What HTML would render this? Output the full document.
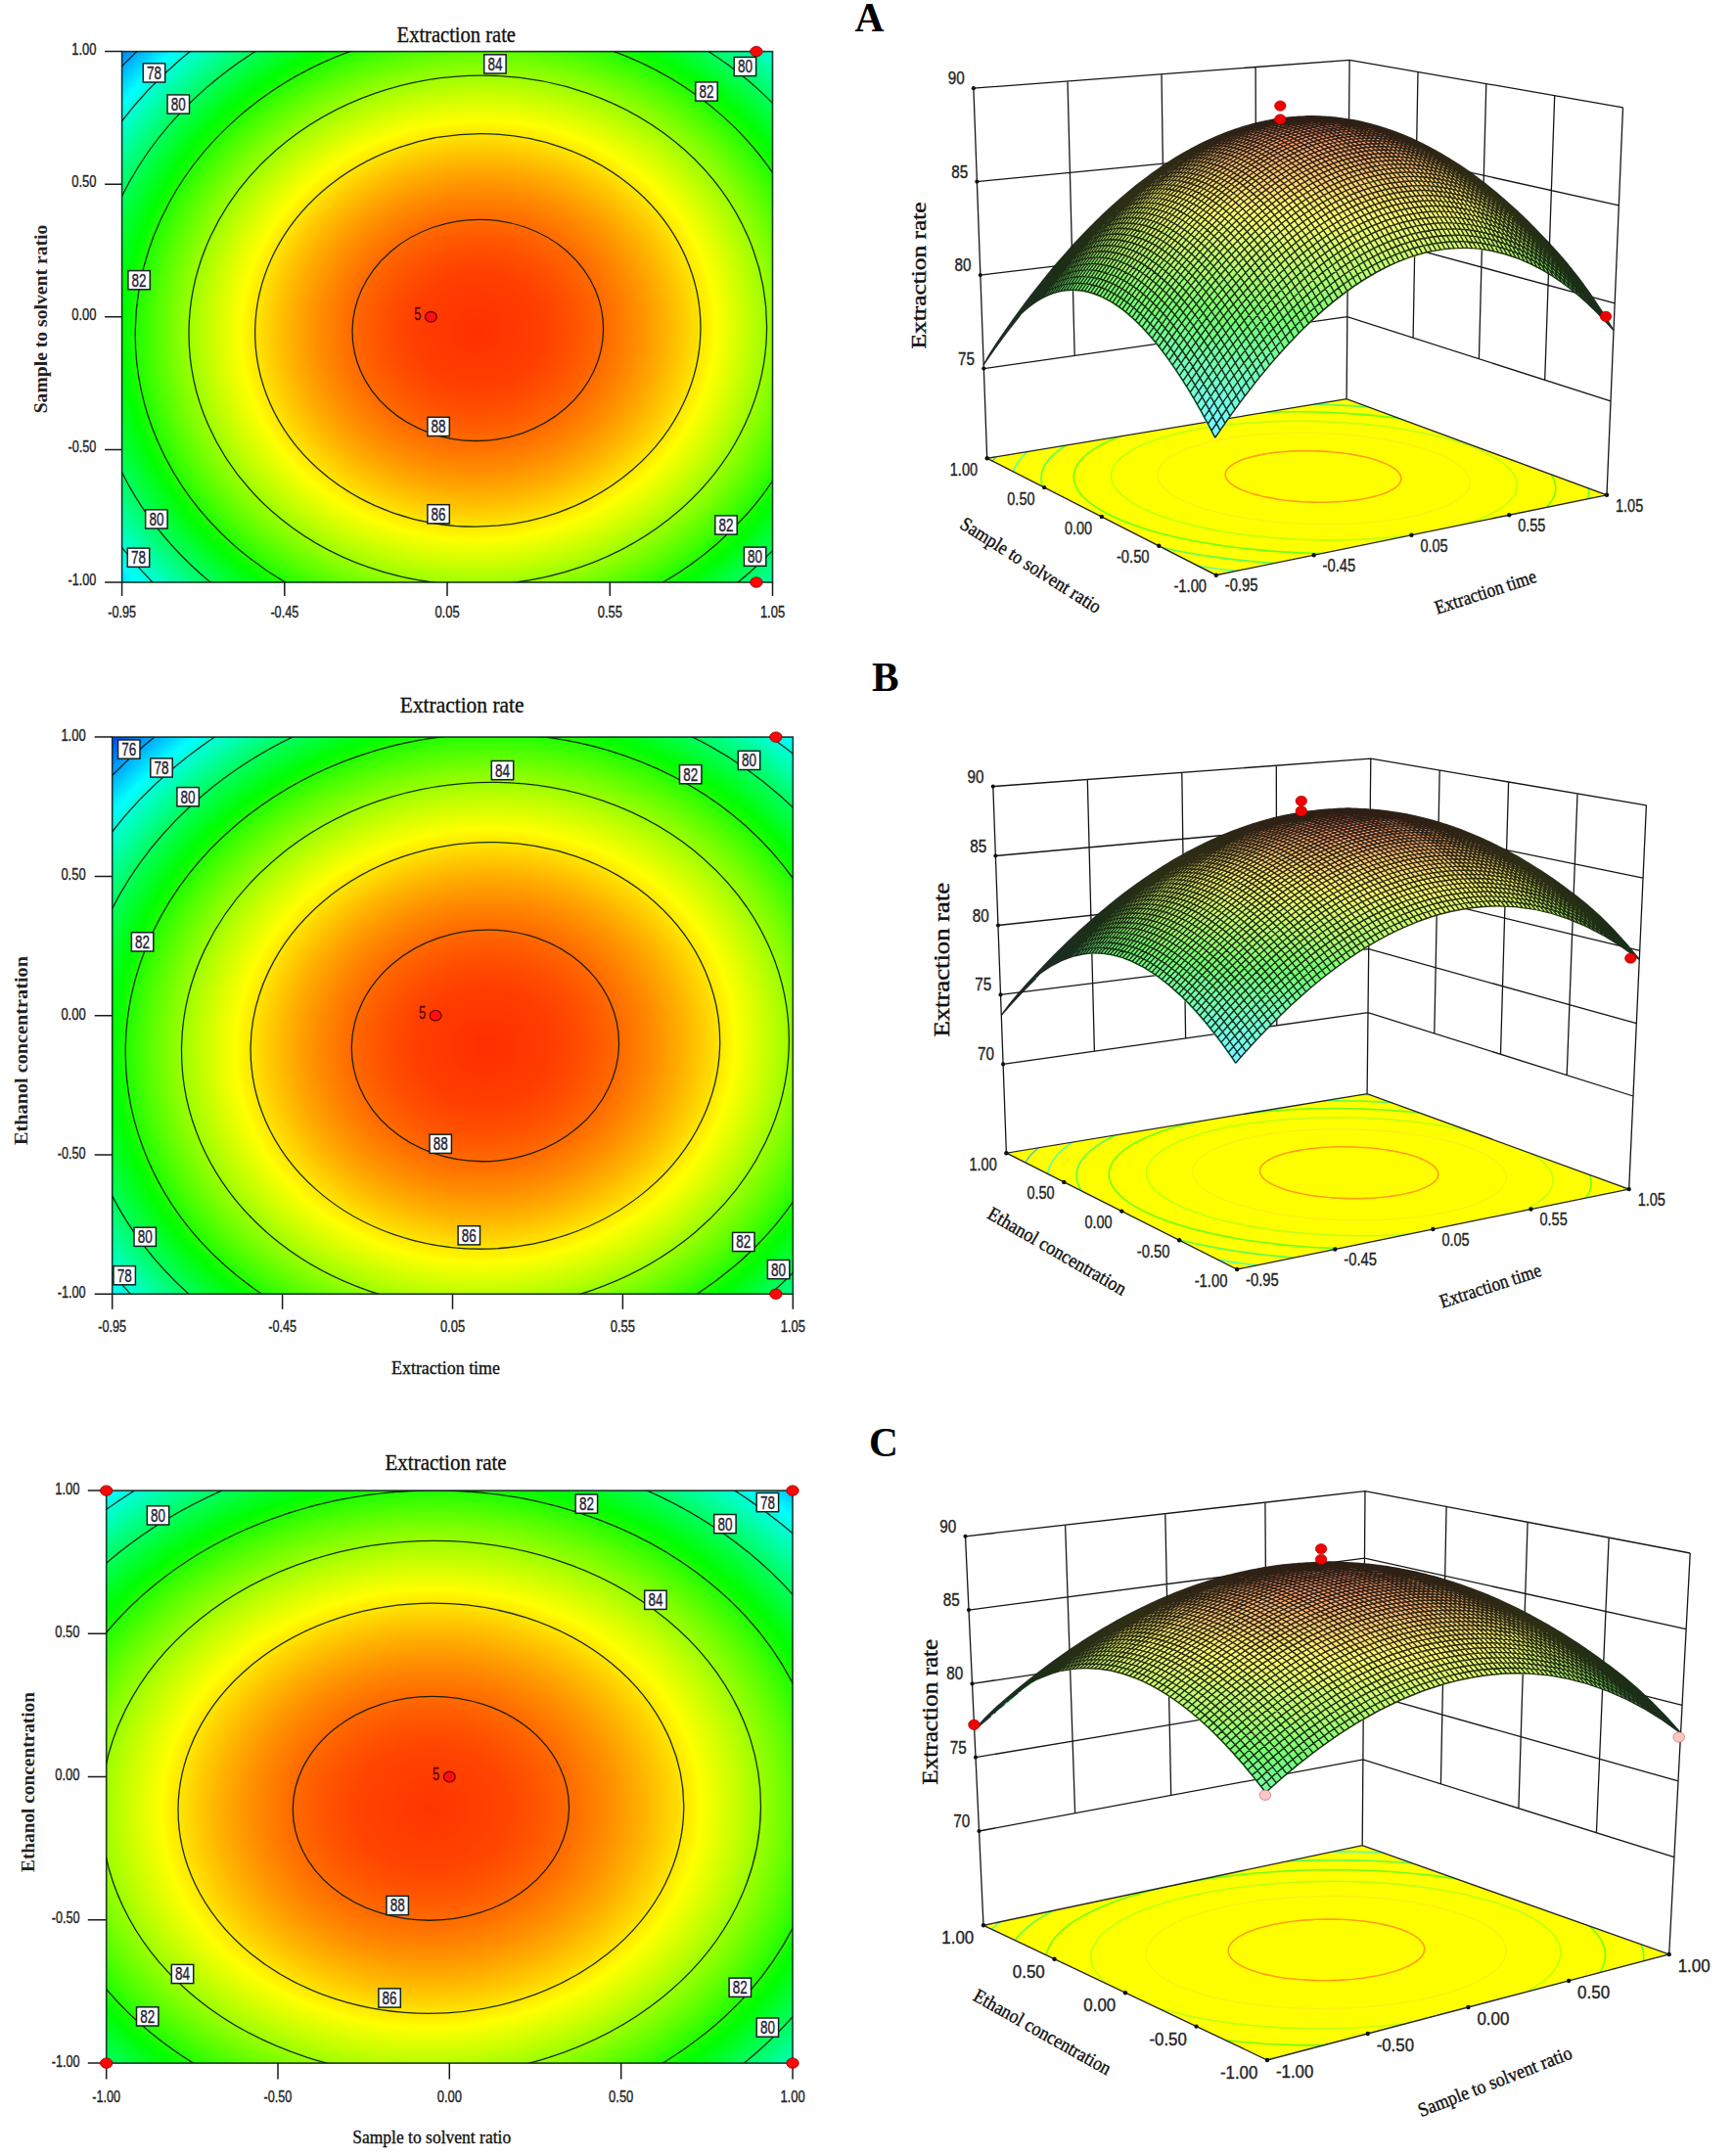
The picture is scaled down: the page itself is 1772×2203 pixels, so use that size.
<!DOCTYPE html>
<html><head><meta charset="utf-8"><title>Response surface plots</title>
<style>html,body{margin:0;padding:0;background:#fff}svg{display:block}</style></head>
<body><svg width="1772" height="2203" viewBox="0 0 1772 2203">
<rect width="1772" height="2203" fill="#fff"/>
<defs><radialGradient id="g1" gradientUnits="userSpaceOnUse" cx="0" cy="0" r="1" gradientTransform="matrix(494.909 0.000 6.420 -436.404 488.30 337.36)"><stop offset="0.0000" stop-color="#ff3000"/><stop offset="0.1343" stop-color="#ff3f00"/><stop offset="0.1900" stop-color="#ff4f00"/><stop offset="0.2327" stop-color="#ff5f00"/><stop offset="0.2687" stop-color="#ff6e00"/><stop offset="0.3004" stop-color="#ff7e00"/><stop offset="0.3291" stop-color="#ff8d00"/><stop offset="0.3555" stop-color="#ff9d00"/><stop offset="0.3800" stop-color="#ffac00"/><stop offset="0.4030" stop-color="#ffbc00"/><stop offset="0.4248" stop-color="#ffcb00"/><stop offset="0.4456" stop-color="#ffdb00"/><stop offset="0.4654" stop-color="#ffea00"/><stop offset="0.4844" stop-color="#fffa00"/><stop offset="0.4903" stop-color="#ffff00"/><stop offset="0.5027" stop-color="#f4ff00"/><stop offset="0.5203" stop-color="#e5ff00"/><stop offset="0.5374" stop-color="#d5ff00"/><stop offset="0.5539" stop-color="#c6ff00"/><stop offset="0.5700" stop-color="#b6ff00"/><stop offset="0.5856" stop-color="#a7ff00"/><stop offset="0.6008" stop-color="#97ff00"/><stop offset="0.6157" stop-color="#88ff00"/><stop offset="0.6301" stop-color="#78ff00"/><stop offset="0.6443" stop-color="#68ff00"/><stop offset="0.6582" stop-color="#59ff00"/><stop offset="0.6717" stop-color="#49ff00"/><stop offset="0.6850" stop-color="#3aff00"/><stop offset="0.6981" stop-color="#2aff00"/><stop offset="0.7109" stop-color="#1bff00"/><stop offset="0.7235" stop-color="#0bff00"/><stop offset="0.7324" stop-color="#00ff00"/><stop offset="0.7359" stop-color="#00ff04"/><stop offset="0.7480" stop-color="#00ff14"/><stop offset="0.7600" stop-color="#00ff23"/><stop offset="0.7718" stop-color="#00ff33"/><stop offset="0.7834" stop-color="#00ff43"/><stop offset="0.7948" stop-color="#00ff52"/><stop offset="0.8061" stop-color="#00ff62"/><stop offset="0.8172" stop-color="#00ff71"/><stop offset="0.8282" stop-color="#00ff81"/><stop offset="0.8390" stop-color="#00ff90"/><stop offset="0.8497" stop-color="#00ffa0"/><stop offset="0.8602" stop-color="#00ffaf"/><stop offset="0.8707" stop-color="#00ffbf"/><stop offset="0.8810" stop-color="#00ffce"/><stop offset="0.8912" stop-color="#00ffde"/><stop offset="0.9012" stop-color="#00ffee"/><stop offset="0.9112" stop-color="#00fffd"/><stop offset="0.9124" stop-color="#00ffff"/><stop offset="0.9210" stop-color="#00f1ff"/><stop offset="0.9308" stop-color="#00e2ff"/><stop offset="0.9404" stop-color="#00d2ff"/><stop offset="0.9500" stop-color="#00c3ff"/><stop offset="0.9594" stop-color="#00b3ff"/><stop offset="0.9688" stop-color="#00a4ff"/><stop offset="0.9781" stop-color="#0094ff"/><stop offset="0.9873" stop-color="#0084ff"/><stop offset="0.9964" stop-color="#0075ff"/><stop offset="1.0000" stop-color="#006fff"/></radialGradient><clipPath id="c1"><rect x="124.6" y="52.6" width="664.9" height="542.4"/></clipPath><radialGradient id="g2" gradientUnits="userSpaceOnUse" cx="0" cy="0" r="1" gradientTransform="matrix(537.665 0.000 10.975 -466.153 495.89 1068.38)"><stop offset="0.0000" stop-color="#ff2e00"/><stop offset="0.1296" stop-color="#ff3e00"/><stop offset="0.1833" stop-color="#ff4d00"/><stop offset="0.2244" stop-color="#ff5d00"/><stop offset="0.2592" stop-color="#ff6c00"/><stop offset="0.2898" stop-color="#ff7c00"/><stop offset="0.3174" stop-color="#ff8b00"/><stop offset="0.3428" stop-color="#ff9b00"/><stop offset="0.3665" stop-color="#ffaa00"/><stop offset="0.3887" stop-color="#ffba00"/><stop offset="0.4098" stop-color="#ffca00"/><stop offset="0.4298" stop-color="#ffd900"/><stop offset="0.4489" stop-color="#ffe900"/><stop offset="0.4672" stop-color="#fff800"/><stop offset="0.4751" stop-color="#ffff00"/><stop offset="0.4849" stop-color="#f6ff00"/><stop offset="0.5019" stop-color="#e7ff00"/><stop offset="0.5183" stop-color="#d7ff00"/><stop offset="0.5343" stop-color="#c8ff00"/><stop offset="0.5498" stop-color="#b8ff00"/><stop offset="0.5648" stop-color="#a9ff00"/><stop offset="0.5795" stop-color="#99ff00"/><stop offset="0.5938" stop-color="#89ff00"/><stop offset="0.6078" stop-color="#7aff00"/><stop offset="0.6215" stop-color="#6aff00"/><stop offset="0.6348" stop-color="#5bff00"/><stop offset="0.6479" stop-color="#4bff00"/><stop offset="0.6607" stop-color="#3cff00"/><stop offset="0.6733" stop-color="#2cff00"/><stop offset="0.6857" stop-color="#1dff00"/><stop offset="0.6978" stop-color="#0dff00"/><stop offset="0.7079" stop-color="#00ff00"/><stop offset="0.7097" stop-color="#00ff02"/><stop offset="0.7215" stop-color="#00ff12"/><stop offset="0.7330" stop-color="#00ff22"/><stop offset="0.7444" stop-color="#00ff31"/><stop offset="0.7556" stop-color="#00ff41"/><stop offset="0.7666" stop-color="#00ff50"/><stop offset="0.7775" stop-color="#00ff60"/><stop offset="0.7882" stop-color="#00ff6f"/><stop offset="0.7988" stop-color="#00ff7f"/><stop offset="0.8092" stop-color="#00ff8e"/><stop offset="0.8195" stop-color="#00ff9e"/><stop offset="0.8297" stop-color="#00ffae"/><stop offset="0.8398" stop-color="#00ffbd"/><stop offset="0.8497" stop-color="#00ffcd"/><stop offset="0.8595" stop-color="#00ffdc"/><stop offset="0.8693" stop-color="#00ffec"/><stop offset="0.8789" stop-color="#00fffb"/><stop offset="0.8812" stop-color="#00ffff"/><stop offset="0.8884" stop-color="#00f3ff"/><stop offset="0.8978" stop-color="#00e4ff"/><stop offset="0.9071" stop-color="#00d4ff"/><stop offset="0.9163" stop-color="#00c5ff"/><stop offset="0.9254" stop-color="#00b5ff"/><stop offset="0.9344" stop-color="#00a5ff"/><stop offset="0.9434" stop-color="#0096ff"/><stop offset="0.9522" stop-color="#0086ff"/><stop offset="0.9610" stop-color="#0077ff"/><stop offset="0.9697" stop-color="#0067ff"/><stop offset="0.9783" stop-color="#0058ff"/><stop offset="0.9869" stop-color="#0048ff"/><stop offset="0.9953" stop-color="#0039ff"/><stop offset="1.0000" stop-color="#0030ff"/></radialGradient><clipPath id="c2"><rect x="114.7" y="753.1" width="695.6" height="569.1"/></clipPath><radialGradient id="g3" gradientUnits="userSpaceOnUse" cx="0" cy="0" r="1" gradientTransform="matrix(548.661 0.000 5.082 -445.152 440.41 1847.77)"><stop offset="0.0000" stop-color="#ff3500"/><stop offset="0.1395" stop-color="#ff4400"/><stop offset="0.1972" stop-color="#ff5400"/><stop offset="0.2416" stop-color="#ff6400"/><stop offset="0.2789" stop-color="#ff7300"/><stop offset="0.3118" stop-color="#ff8300"/><stop offset="0.3416" stop-color="#ff9200"/><stop offset="0.3690" stop-color="#ffa200"/><stop offset="0.3945" stop-color="#ffb100"/><stop offset="0.4184" stop-color="#ffc100"/><stop offset="0.4410" stop-color="#ffd000"/><stop offset="0.4625" stop-color="#ffe000"/><stop offset="0.4831" stop-color="#ffef00"/><stop offset="0.5028" stop-color="#ffff00"/><stop offset="0.5218" stop-color="#efff00"/><stop offset="0.5401" stop-color="#e0ff00"/><stop offset="0.5579" stop-color="#d0ff00"/><stop offset="0.5750" stop-color="#c1ff00"/><stop offset="0.5917" stop-color="#b1ff00"/><stop offset="0.6079" stop-color="#a2ff00"/><stop offset="0.6237" stop-color="#92ff00"/><stop offset="0.6391" stop-color="#83ff00"/><stop offset="0.6541" stop-color="#73ff00"/><stop offset="0.6688" stop-color="#64ff00"/><stop offset="0.6832" stop-color="#54ff00"/><stop offset="0.6973" stop-color="#44ff00"/><stop offset="0.7111" stop-color="#35ff00"/><stop offset="0.7247" stop-color="#25ff00"/><stop offset="0.7380" stop-color="#16ff00"/><stop offset="0.7510" stop-color="#06ff00"/><stop offset="0.7562" stop-color="#00ff00"/><stop offset="0.7639" stop-color="#00ff09"/><stop offset="0.7765" stop-color="#00ff19"/><stop offset="0.7889" stop-color="#00ff28"/><stop offset="0.8012" stop-color="#00ff38"/><stop offset="0.8132" stop-color="#00ff48"/><stop offset="0.8251" stop-color="#00ff57"/><stop offset="0.8368" stop-color="#00ff67"/><stop offset="0.8483" stop-color="#00ff76"/><stop offset="0.8597" stop-color="#00ff86"/><stop offset="0.8709" stop-color="#00ff95"/><stop offset="0.8820" stop-color="#00ffa5"/><stop offset="0.8930" stop-color="#00ffb4"/><stop offset="0.9038" stop-color="#00ffc4"/><stop offset="0.9145" stop-color="#00ffd3"/><stop offset="0.9251" stop-color="#00ffe3"/><stop offset="0.9355" stop-color="#00fff3"/><stop offset="0.9438" stop-color="#00ffff"/><stop offset="0.9459" stop-color="#00fcff"/><stop offset="0.9561" stop-color="#00ecff"/><stop offset="0.9662" stop-color="#00ddff"/><stop offset="0.9762" stop-color="#00cdff"/><stop offset="0.9862" stop-color="#00beff"/><stop offset="0.9960" stop-color="#00aeff"/><stop offset="1.0000" stop-color="#00a8ff"/></radialGradient><clipPath id="c3"><rect x="108.7" y="1523.1" width="701.3" height="585"/></clipPath><clipPath id="c4"><polygon points="1008.7,468.3 1242.8,587.7 1642,505.8 1376.1,407.6"/></clipPath><clipPath id="c5"><polygon points="1028.4,1178.2 1264.1,1297 1664.7,1215.1 1397.1,1117.6"/></clipPath><clipPath id="c6"><polygon points="1005,1967.3 1295,2105 1705.7,1997 1392.2,1885.7"/></clipPath></defs>
<rect x="124.6" y="52.6" width="664.9" height="542.4" fill="url(#g1)"/>
<g clip-path="url(#c1)" fill="none" stroke="#061806" stroke-opacity="0.9" stroke-width="1.3">
<circle r="1" vector-effect="non-scaling-stroke" transform="matrix(478.17 0.00 6.20 -421.65 488.3 337.4)"/>
<circle r="1" vector-effect="non-scaling-stroke" transform="matrix(439.64 0.00 5.70 -387.67 488.3 337.4)"/>
<circle r="1" vector-effect="non-scaling-stroke" transform="matrix(397.39 0.00 5.15 -350.41 488.3 337.4)"/>
<circle r="1" vector-effect="non-scaling-stroke" transform="matrix(350.07 0.00 4.54 -308.69 488.3 337.4)"/>
<circle r="1" vector-effect="non-scaling-stroke" transform="matrix(295.26 0.00 3.83 -260.36 488.3 337.4)"/>
<circle r="1" vector-effect="non-scaling-stroke" transform="matrix(227.63 0.00 2.95 -200.72 488.3 337.4)"/>
<circle r="1" vector-effect="non-scaling-stroke" transform="matrix(128.24 0.00 1.66 -113.08 488.3 337.4)"/>
</g>
<rect x="124.6" y="52.6" width="664.9" height="542.4" fill="none" stroke="#0a2214" stroke-opacity="0.9" stroke-width="1.6"/>
<path d="M124.6 595v14M290.8 595v14M457 595v14M623.3 595v14M789.5 595v14M124.6 52.6h-17.5M124.6 188.2h-17.5M124.6 323.8h-17.5M124.6 459.4h-17.5M124.6 595h-17.5" stroke="#1a1a1a" stroke-width="1.5" fill="none"/>
<text x="124.6" y="631.3" font-size="16" font-family="Liberation Sans, sans-serif" text-anchor="middle" fill="#222" stroke="#222" stroke-width=".35" textLength="28.8" lengthAdjust="spacingAndGlyphs" >-0.95</text>
<text x="290.8" y="631.3" font-size="16" font-family="Liberation Sans, sans-serif" text-anchor="middle" fill="#222" stroke="#222" stroke-width=".35" textLength="28.8" lengthAdjust="spacingAndGlyphs" >-0.45</text>
<text x="457" y="631.3" font-size="16" font-family="Liberation Sans, sans-serif" text-anchor="middle" fill="#222" stroke="#222" stroke-width=".35" textLength="25.2" lengthAdjust="spacingAndGlyphs" >0.05</text>
<text x="623.3" y="631.3" font-size="16" font-family="Liberation Sans, sans-serif" text-anchor="middle" fill="#222" stroke="#222" stroke-width=".35" textLength="25.2" lengthAdjust="spacingAndGlyphs" >0.55</text>
<text x="789.5" y="631.3" font-size="16" font-family="Liberation Sans, sans-serif" text-anchor="middle" fill="#222" stroke="#222" stroke-width=".35" textLength="25.2" lengthAdjust="spacingAndGlyphs" >1.05</text>
<text x="98.4" y="55.6" font-size="16" font-family="Liberation Sans, sans-serif" text-anchor="end" fill="#222" stroke="#222" stroke-width=".35" textLength="25.2" lengthAdjust="spacingAndGlyphs" >1.00</text>
<text x="98.4" y="191.2" font-size="16" font-family="Liberation Sans, sans-serif" text-anchor="end" fill="#222" stroke="#222" stroke-width=".35" textLength="25.2" lengthAdjust="spacingAndGlyphs" >0.50</text>
<text x="98.4" y="326.8" font-size="16" font-family="Liberation Sans, sans-serif" text-anchor="end" fill="#222" stroke="#222" stroke-width=".35" textLength="25.2" lengthAdjust="spacingAndGlyphs" >0.00</text>
<text x="98.4" y="462.4" font-size="16" font-family="Liberation Sans, sans-serif" text-anchor="end" fill="#222" stroke="#222" stroke-width=".35" textLength="28.8" lengthAdjust="spacingAndGlyphs" >-0.50</text>
<text x="98.4" y="598" font-size="16" font-family="Liberation Sans, sans-serif" text-anchor="end" fill="#222" stroke="#222" stroke-width=".35" textLength="28.8" lengthAdjust="spacingAndGlyphs" >-1.00</text>
<ellipse cx="772.9" cy="52.6" rx="6.2" ry="5.2" fill="#fa0808" stroke="#900" stroke-width="0.9"/>
<ellipse cx="772.9" cy="595" rx="6.2" ry="5.2" fill="#fa0808" stroke="#900" stroke-width="0.9"/>
<rect x="146.3" y="64.8" width="22.4" height="19.2" fill="#fff" stroke="#122" stroke-width="1.5"/>
<text x="157.5" y="80.8" font-size="18" font-family="Liberation Sans, sans-serif" text-anchor="middle" fill="#223" stroke="#223" stroke-width=".35" textLength="15" lengthAdjust="spacingAndGlyphs" >78</text>
<rect x="171.1" y="96.9" width="22.4" height="19.2" fill="#fff" stroke="#122" stroke-width="1.5"/>
<text x="182.3" y="112.9" font-size="18" font-family="Liberation Sans, sans-serif" text-anchor="middle" fill="#223" stroke="#223" stroke-width=".35" textLength="15" lengthAdjust="spacingAndGlyphs" >80</text>
<rect x="494.7" y="55.8" width="22.4" height="19.2" fill="#fff" stroke="#122" stroke-width="1.5"/>
<text x="505.9" y="71.8" font-size="18" font-family="Liberation Sans, sans-serif" text-anchor="middle" fill="#223" stroke="#223" stroke-width=".35" textLength="15" lengthAdjust="spacingAndGlyphs" >84</text>
<rect x="750.2" y="58.4" width="22.4" height="19.2" fill="#fff" stroke="#122" stroke-width="1.5"/>
<text x="761.4" y="74.4" font-size="18" font-family="Liberation Sans, sans-serif" text-anchor="middle" fill="#223" stroke="#223" stroke-width=".35" textLength="15" lengthAdjust="spacingAndGlyphs" >80</text>
<rect x="710.8" y="83.9" width="22.4" height="19.2" fill="#fff" stroke="#122" stroke-width="1.5"/>
<text x="722" y="99.9" font-size="18" font-family="Liberation Sans, sans-serif" text-anchor="middle" fill="#223" stroke="#223" stroke-width=".35" textLength="15" lengthAdjust="spacingAndGlyphs" >82</text>
<rect x="130.9" y="276.6" width="22.4" height="19.2" fill="#fff" stroke="#122" stroke-width="1.5"/>
<text x="142.1" y="292.6" font-size="18" font-family="Liberation Sans, sans-serif" text-anchor="middle" fill="#223" stroke="#223" stroke-width=".35" textLength="15" lengthAdjust="spacingAndGlyphs" >82</text>
<rect x="436.9" y="426.3" width="22.4" height="19.2" fill="#fff" stroke="#122" stroke-width="1.5"/>
<text x="448.1" y="442.3" font-size="18" font-family="Liberation Sans, sans-serif" text-anchor="middle" fill="#223" stroke="#223" stroke-width=".35" textLength="15" lengthAdjust="spacingAndGlyphs" >88</text>
<rect x="436.9" y="515.7" width="22.4" height="19.2" fill="#fff" stroke="#122" stroke-width="1.5"/>
<text x="448.1" y="531.7" font-size="18" font-family="Liberation Sans, sans-serif" text-anchor="middle" fill="#223" stroke="#223" stroke-width=".35" textLength="15" lengthAdjust="spacingAndGlyphs" >86</text>
<rect x="148.7" y="520.8" width="22.4" height="19.2" fill="#fff" stroke="#122" stroke-width="1.5"/>
<text x="159.9" y="536.8" font-size="18" font-family="Liberation Sans, sans-serif" text-anchor="middle" fill="#223" stroke="#223" stroke-width=".35" textLength="15" lengthAdjust="spacingAndGlyphs" >80</text>
<rect x="130.3" y="560.1" width="22.4" height="19.2" fill="#fff" stroke="#122" stroke-width="1.5"/>
<text x="141.5" y="576.1" font-size="18" font-family="Liberation Sans, sans-serif" text-anchor="middle" fill="#223" stroke="#223" stroke-width=".35" textLength="15" lengthAdjust="spacingAndGlyphs" >78</text>
<rect x="730.8" y="526.9" width="22.4" height="19.2" fill="#fff" stroke="#122" stroke-width="1.5"/>
<text x="742" y="542.9" font-size="18" font-family="Liberation Sans, sans-serif" text-anchor="middle" fill="#223" stroke="#223" stroke-width=".35" textLength="15" lengthAdjust="spacingAndGlyphs" >82</text>
<rect x="760.4" y="559.1" width="22.4" height="19.2" fill="#fff" stroke="#122" stroke-width="1.5"/>
<text x="771.6" y="575.1" font-size="18" font-family="Liberation Sans, sans-serif" text-anchor="middle" fill="#223" stroke="#223" stroke-width=".35" textLength="15" lengthAdjust="spacingAndGlyphs" >80</text>
<ellipse cx="440.4" cy="323.8" rx="5.9" ry="5.3" fill="#ff1010" stroke="#700" stroke-width="1.4"/>
<text x="426.8" y="327" font-size="18" font-family="Liberation Sans, sans-serif" text-anchor="middle" fill="#600" stroke="#600" stroke-width=".35" textLength="7.2" lengthAdjust="spacingAndGlyphs" >5</text>
<text x="405.6" y="43.2" font-size="23.3" font-family="Liberation Serif, serif" text-anchor="start" fill="#111" stroke="#111" stroke-width=".35" textLength="121.4" lengthAdjust="spacingAndGlyphs" >Extraction rate</text>
<text transform="translate(48.3 326) rotate(-90)" font-size="18.6" font-family="Liberation Serif, serif" font-weight="bold" text-anchor="middle" textLength="192.7" lengthAdjust="spacingAndGlyphs" fill="#222">Sample to solvent ratio</text>
<rect x="114.7" y="753.1" width="695.6" height="569.1" fill="url(#g2)"/>
<g clip-path="url(#c2)" fill="none" stroke="#061806" stroke-opacity="0.9" stroke-width="1.3">
<circle r="1" vector-effect="non-scaling-stroke" transform="matrix(538.95 0.00 11.00 -467.27 495.9 1068.4)"/>
<circle r="1" vector-effect="non-scaling-stroke" transform="matrix(501.64 0.00 10.24 -434.92 495.9 1068.4)"/>
<circle r="1" vector-effect="non-scaling-stroke" transform="matrix(461.31 0.00 9.42 -399.95 495.9 1068.4)"/>
<circle r="1" vector-effect="non-scaling-stroke" transform="matrix(417.10 0.00 8.51 -361.62 495.9 1068.4)"/>
<circle r="1" vector-effect="non-scaling-stroke" transform="matrix(367.61 0.00 7.50 -318.72 495.9 1068.4)"/>
<circle r="1" vector-effect="non-scaling-stroke" transform="matrix(310.33 0.00 6.33 -269.06 495.9 1068.4)"/>
<circle r="1" vector-effect="non-scaling-stroke" transform="matrix(239.73 0.00 4.89 -207.85 495.9 1068.4)"/>
<circle r="1" vector-effect="non-scaling-stroke" transform="matrix(136.53 0.00 2.79 -118.37 495.9 1068.4)"/>
</g>
<rect x="114.7" y="753.1" width="695.6" height="569.1" fill="none" stroke="#0a2214" stroke-opacity="0.9" stroke-width="1.6"/>
<path d="M114.7 1322.2v15.6M288.6 1322.2v15.6M462.5 1322.2v15.6M636.4 1322.2v15.6M810.3 1322.2v15.6M114.7 753.1h-18M114.7 895.4h-18M114.7 1037.7h-18M114.7 1179.9h-18M114.7 1322.2h-18" stroke="#1a1a1a" stroke-width="1.5" fill="none"/>
<text x="114.7" y="1360.8" font-size="16" font-family="Liberation Sans, sans-serif" text-anchor="middle" fill="#222" stroke="#222" stroke-width=".35" textLength="28.8" lengthAdjust="spacingAndGlyphs" >-0.95</text>
<text x="288.6" y="1360.8" font-size="16" font-family="Liberation Sans, sans-serif" text-anchor="middle" fill="#222" stroke="#222" stroke-width=".35" textLength="28.8" lengthAdjust="spacingAndGlyphs" >-0.45</text>
<text x="462.5" y="1360.8" font-size="16" font-family="Liberation Sans, sans-serif" text-anchor="middle" fill="#222" stroke="#222" stroke-width=".35" textLength="25.2" lengthAdjust="spacingAndGlyphs" >0.05</text>
<text x="636.4" y="1360.8" font-size="16" font-family="Liberation Sans, sans-serif" text-anchor="middle" fill="#222" stroke="#222" stroke-width=".35" textLength="25.2" lengthAdjust="spacingAndGlyphs" >0.55</text>
<text x="810.3" y="1360.8" font-size="16" font-family="Liberation Sans, sans-serif" text-anchor="middle" fill="#222" stroke="#222" stroke-width=".35" textLength="25.2" lengthAdjust="spacingAndGlyphs" >1.05</text>
<text x="87.6" y="757.1" font-size="16" font-family="Liberation Sans, sans-serif" text-anchor="end" fill="#222" stroke="#222" stroke-width=".35" textLength="25.2" lengthAdjust="spacingAndGlyphs" >1.00</text>
<text x="87.6" y="899.4" font-size="16" font-family="Liberation Sans, sans-serif" text-anchor="end" fill="#222" stroke="#222" stroke-width=".35" textLength="25.2" lengthAdjust="spacingAndGlyphs" >0.50</text>
<text x="87.6" y="1041.7" font-size="16" font-family="Liberation Sans, sans-serif" text-anchor="end" fill="#222" stroke="#222" stroke-width=".35" textLength="25.2" lengthAdjust="spacingAndGlyphs" >0.00</text>
<text x="87.6" y="1183.9" font-size="16" font-family="Liberation Sans, sans-serif" text-anchor="end" fill="#222" stroke="#222" stroke-width=".35" textLength="28.8" lengthAdjust="spacingAndGlyphs" >-0.50</text>
<text x="87.6" y="1326.2" font-size="16" font-family="Liberation Sans, sans-serif" text-anchor="end" fill="#222" stroke="#222" stroke-width=".35" textLength="28.8" lengthAdjust="spacingAndGlyphs" >-1.00</text>
<ellipse cx="792.9" cy="753.1" rx="6.2" ry="5.2" fill="#fa0808" stroke="#900" stroke-width="0.9"/>
<ellipse cx="792.9" cy="1322.2" rx="6.2" ry="5.2" fill="#fa0808" stroke="#900" stroke-width="0.9"/>
<rect x="120.6" y="756" width="22.4" height="19.2" fill="#fff" stroke="#122" stroke-width="1.5"/>
<text x="131.8" y="772" font-size="18" font-family="Liberation Sans, sans-serif" text-anchor="middle" fill="#223" stroke="#223" stroke-width=".35" textLength="15" lengthAdjust="spacingAndGlyphs" >76</text>
<rect x="153.8" y="774.9" width="22.4" height="19.2" fill="#fff" stroke="#122" stroke-width="1.5"/>
<text x="165" y="790.9" font-size="18" font-family="Liberation Sans, sans-serif" text-anchor="middle" fill="#223" stroke="#223" stroke-width=".35" textLength="15" lengthAdjust="spacingAndGlyphs" >78</text>
<rect x="180.9" y="804.6" width="22.4" height="19.2" fill="#fff" stroke="#122" stroke-width="1.5"/>
<text x="192.1" y="820.6" font-size="18" font-family="Liberation Sans, sans-serif" text-anchor="middle" fill="#223" stroke="#223" stroke-width=".35" textLength="15" lengthAdjust="spacingAndGlyphs" >80</text>
<rect x="502.3" y="777.5" width="22.4" height="19.2" fill="#fff" stroke="#122" stroke-width="1.5"/>
<text x="513.5" y="793.5" font-size="18" font-family="Liberation Sans, sans-serif" text-anchor="middle" fill="#223" stroke="#223" stroke-width=".35" textLength="15" lengthAdjust="spacingAndGlyphs" >84</text>
<rect x="694.5" y="781.6" width="22.4" height="19.2" fill="#fff" stroke="#122" stroke-width="1.5"/>
<text x="705.7" y="797.6" font-size="18" font-family="Liberation Sans, sans-serif" text-anchor="middle" fill="#223" stroke="#223" stroke-width=".35" textLength="15" lengthAdjust="spacingAndGlyphs" >82</text>
<rect x="754.3" y="767.3" width="22.4" height="19.2" fill="#fff" stroke="#122" stroke-width="1.5"/>
<text x="765.5" y="783.3" font-size="18" font-family="Liberation Sans, sans-serif" text-anchor="middle" fill="#223" stroke="#223" stroke-width=".35" textLength="15" lengthAdjust="spacingAndGlyphs" >80</text>
<rect x="134.4" y="952.8" width="22.4" height="19.2" fill="#fff" stroke="#122" stroke-width="1.5"/>
<text x="145.6" y="968.8" font-size="18" font-family="Liberation Sans, sans-serif" text-anchor="middle" fill="#223" stroke="#223" stroke-width=".35" textLength="15" lengthAdjust="spacingAndGlyphs" >82</text>
<rect x="439" y="1159.2" width="22.4" height="19.2" fill="#fff" stroke="#122" stroke-width="1.5"/>
<text x="450.2" y="1175.2" font-size="18" font-family="Liberation Sans, sans-serif" text-anchor="middle" fill="#223" stroke="#223" stroke-width=".35" textLength="15" lengthAdjust="spacingAndGlyphs" >88</text>
<rect x="468.1" y="1252.7" width="22.4" height="19.2" fill="#fff" stroke="#122" stroke-width="1.5"/>
<text x="479.3" y="1268.7" font-size="18" font-family="Liberation Sans, sans-serif" text-anchor="middle" fill="#223" stroke="#223" stroke-width=".35" textLength="15" lengthAdjust="spacingAndGlyphs" >86</text>
<rect x="137" y="1254.2" width="22.4" height="19.2" fill="#fff" stroke="#122" stroke-width="1.5"/>
<text x="148.2" y="1270.2" font-size="18" font-family="Liberation Sans, sans-serif" text-anchor="middle" fill="#223" stroke="#223" stroke-width=".35" textLength="15" lengthAdjust="spacingAndGlyphs" >80</text>
<rect x="116" y="1293.6" width="22.4" height="19.2" fill="#fff" stroke="#122" stroke-width="1.5"/>
<text x="127.2" y="1309.6" font-size="18" font-family="Liberation Sans, sans-serif" text-anchor="middle" fill="#223" stroke="#223" stroke-width=".35" textLength="15" lengthAdjust="spacingAndGlyphs" >78</text>
<rect x="748.6" y="1259.4" width="22.4" height="19.2" fill="#fff" stroke="#122" stroke-width="1.5"/>
<text x="759.8" y="1275.4" font-size="18" font-family="Liberation Sans, sans-serif" text-anchor="middle" fill="#223" stroke="#223" stroke-width=".35" textLength="15" lengthAdjust="spacingAndGlyphs" >82</text>
<rect x="784.4" y="1287.5" width="22.4" height="19.2" fill="#fff" stroke="#122" stroke-width="1.5"/>
<text x="795.6" y="1303.5" font-size="18" font-family="Liberation Sans, sans-serif" text-anchor="middle" fill="#223" stroke="#223" stroke-width=".35" textLength="15" lengthAdjust="spacingAndGlyphs" >80</text>
<ellipse cx="445.1" cy="1037.7" rx="5.9" ry="5.3" fill="#ff1010" stroke="#700" stroke-width="1.4"/>
<text x="431.5" y="1040.9" font-size="18" font-family="Liberation Sans, sans-serif" text-anchor="middle" fill="#600" stroke="#600" stroke-width=".35" textLength="7.2" lengthAdjust="spacingAndGlyphs" >5</text>
<text x="408.8" y="728.3" font-size="23.3" font-family="Liberation Serif, serif" text-anchor="start" fill="#111" stroke="#111" stroke-width=".35" textLength="126.7" lengthAdjust="spacingAndGlyphs" >Extraction rate</text>
<text transform="translate(28 1073.5) rotate(-90)" font-size="18.6" font-family="Liberation Serif, serif" font-weight="bold" text-anchor="middle" textLength="193" lengthAdjust="spacingAndGlyphs" fill="#222">Ethanol concentration</text>
<text x="400" y="1403.8" font-size="19" font-family="Liberation Serif, serif" text-anchor="start" fill="#111" stroke="#111" stroke-width=".35" textLength="111" lengthAdjust="spacingAndGlyphs" >Extraction time</text>
<rect x="108.7" y="1523.1" width="701.3" height="585" fill="url(#g3)"/>
<g clip-path="url(#c3)" fill="none" stroke="#061806" stroke-opacity="0.9" stroke-width="1.3">
<circle r="1" vector-effect="non-scaling-stroke" transform="matrix(548.59 0.00 5.08 -445.09 440.4 1847.8)"/>
<circle r="1" vector-effect="non-scaling-stroke" transform="matrix(504.09 0.00 4.67 -408.99 440.4 1847.8)"/>
<circle r="1" vector-effect="non-scaling-stroke" transform="matrix(455.27 0.00 4.22 -369.38 440.4 1847.8)"/>
<circle r="1" vector-effect="non-scaling-stroke" transform="matrix(400.53 0.00 3.71 -324.97 440.4 1847.8)"/>
<circle r="1" vector-effect="non-scaling-stroke" transform="matrix(337.03 0.00 3.12 -273.44 440.4 1847.8)"/>
<circle r="1" vector-effect="non-scaling-stroke" transform="matrix(258.35 0.00 2.39 -209.61 440.4 1847.8)"/>
<circle r="1" vector-effect="non-scaling-stroke" transform="matrix(141.09 0.00 1.31 -114.47 440.4 1847.8)"/>
</g>
<rect x="108.7" y="1523.1" width="701.3" height="585" fill="none" stroke="#0a2214" stroke-opacity="0.9" stroke-width="1.6"/>
<path d="M108.7 2108.1v16.4M284 2108.1v16.4M459.3 2108.1v16.4M634.7 2108.1v16.4M810 2108.1v16.4M108.7 1523.1h-18.9M108.7 1669.3h-18.9M108.7 1815.6h-18.9M108.7 1961.8h-18.9M108.7 2108.1h-18.9" stroke="#1a1a1a" stroke-width="1.5" fill="none"/>
<text x="108.7" y="2147.9" font-size="16" font-family="Liberation Sans, sans-serif" text-anchor="middle" fill="#222" stroke="#222" stroke-width=".35" textLength="28.8" lengthAdjust="spacingAndGlyphs" >-1.00</text>
<text x="284" y="2147.9" font-size="16" font-family="Liberation Sans, sans-serif" text-anchor="middle" fill="#222" stroke="#222" stroke-width=".35" textLength="28.8" lengthAdjust="spacingAndGlyphs" >-0.50</text>
<text x="459.3" y="2147.9" font-size="16" font-family="Liberation Sans, sans-serif" text-anchor="middle" fill="#222" stroke="#222" stroke-width=".35" textLength="25.2" lengthAdjust="spacingAndGlyphs" >0.00</text>
<text x="634.7" y="2147.9" font-size="16" font-family="Liberation Sans, sans-serif" text-anchor="middle" fill="#222" stroke="#222" stroke-width=".35" textLength="25.2" lengthAdjust="spacingAndGlyphs" >0.50</text>
<text x="810" y="2147.9" font-size="16" font-family="Liberation Sans, sans-serif" text-anchor="middle" fill="#222" stroke="#222" stroke-width=".35" textLength="25.2" lengthAdjust="spacingAndGlyphs" >1.00</text>
<text x="81.5" y="1526.6" font-size="16" font-family="Liberation Sans, sans-serif" text-anchor="end" fill="#222" stroke="#222" stroke-width=".35" textLength="25.2" lengthAdjust="spacingAndGlyphs" >1.00</text>
<text x="81.5" y="1672.8" font-size="16" font-family="Liberation Sans, sans-serif" text-anchor="end" fill="#222" stroke="#222" stroke-width=".35" textLength="25.2" lengthAdjust="spacingAndGlyphs" >0.50</text>
<text x="81.5" y="1819.1" font-size="16" font-family="Liberation Sans, sans-serif" text-anchor="end" fill="#222" stroke="#222" stroke-width=".35" textLength="25.2" lengthAdjust="spacingAndGlyphs" >0.00</text>
<text x="81.5" y="1965.3" font-size="16" font-family="Liberation Sans, sans-serif" text-anchor="end" fill="#222" stroke="#222" stroke-width=".35" textLength="28.8" lengthAdjust="spacingAndGlyphs" >-0.50</text>
<text x="81.5" y="2111.6" font-size="16" font-family="Liberation Sans, sans-serif" text-anchor="end" fill="#222" stroke="#222" stroke-width=".35" textLength="28.8" lengthAdjust="spacingAndGlyphs" >-1.00</text>
<ellipse cx="810" cy="1523.1" rx="6.2" ry="5.2" fill="#fa0808" stroke="#900" stroke-width="0.9"/>
<ellipse cx="810" cy="2108.1" rx="6.2" ry="5.2" fill="#fa0808" stroke="#900" stroke-width="0.9"/>
<ellipse cx="108.7" cy="1523.1" rx="6.2" ry="5.2" fill="#fa0808" stroke="#900" stroke-width="0.9"/>
<ellipse cx="108.7" cy="2108.1" rx="6.2" ry="5.2" fill="#fa0808" stroke="#900" stroke-width="0.9"/>
<rect x="150.3" y="1538.8" width="22.4" height="19.2" fill="#fff" stroke="#122" stroke-width="1.5"/>
<text x="161.5" y="1554.8" font-size="18" font-family="Liberation Sans, sans-serif" text-anchor="middle" fill="#223" stroke="#223" stroke-width=".35" textLength="15" lengthAdjust="spacingAndGlyphs" >80</text>
<rect x="588.2" y="1527" width="22.4" height="19.2" fill="#fff" stroke="#122" stroke-width="1.5"/>
<text x="599.4" y="1543" font-size="18" font-family="Liberation Sans, sans-serif" text-anchor="middle" fill="#223" stroke="#223" stroke-width=".35" textLength="15" lengthAdjust="spacingAndGlyphs" >82</text>
<rect x="773.2" y="1525.5" width="22.4" height="19.2" fill="#fff" stroke="#122" stroke-width="1.5"/>
<text x="784.4" y="1541.5" font-size="18" font-family="Liberation Sans, sans-serif" text-anchor="middle" fill="#223" stroke="#223" stroke-width=".35" textLength="15" lengthAdjust="spacingAndGlyphs" >78</text>
<rect x="729.7" y="1547.5" width="22.4" height="19.2" fill="#fff" stroke="#122" stroke-width="1.5"/>
<text x="740.9" y="1563.5" font-size="18" font-family="Liberation Sans, sans-serif" text-anchor="middle" fill="#223" stroke="#223" stroke-width=".35" textLength="15" lengthAdjust="spacingAndGlyphs" >80</text>
<rect x="658.7" y="1625.2" width="22.4" height="19.2" fill="#fff" stroke="#122" stroke-width="1.5"/>
<text x="669.9" y="1641.2" font-size="18" font-family="Liberation Sans, sans-serif" text-anchor="middle" fill="#223" stroke="#223" stroke-width=".35" textLength="15" lengthAdjust="spacingAndGlyphs" >84</text>
<rect x="395" y="1937.4" width="22.4" height="19.2" fill="#fff" stroke="#122" stroke-width="1.5"/>
<text x="406.2" y="1953.4" font-size="18" font-family="Liberation Sans, sans-serif" text-anchor="middle" fill="#223" stroke="#223" stroke-width=".35" textLength="15" lengthAdjust="spacingAndGlyphs" >88</text>
<rect x="386.9" y="2031.9" width="22.4" height="19.2" fill="#fff" stroke="#122" stroke-width="1.5"/>
<text x="398.1" y="2047.9" font-size="18" font-family="Liberation Sans, sans-serif" text-anchor="middle" fill="#223" stroke="#223" stroke-width=".35" textLength="15" lengthAdjust="spacingAndGlyphs" >86</text>
<rect x="175.3" y="2007.4" width="22.4" height="19.2" fill="#fff" stroke="#122" stroke-width="1.5"/>
<text x="186.5" y="2023.4" font-size="18" font-family="Liberation Sans, sans-serif" text-anchor="middle" fill="#223" stroke="#223" stroke-width=".35" textLength="15" lengthAdjust="spacingAndGlyphs" >84</text>
<rect x="139.5" y="2050.8" width="22.4" height="19.2" fill="#fff" stroke="#122" stroke-width="1.5"/>
<text x="150.7" y="2066.8" font-size="18" font-family="Liberation Sans, sans-serif" text-anchor="middle" fill="#223" stroke="#223" stroke-width=".35" textLength="15" lengthAdjust="spacingAndGlyphs" >82</text>
<rect x="745.1" y="2021.2" width="22.4" height="19.2" fill="#fff" stroke="#122" stroke-width="1.5"/>
<text x="756.3" y="2037.2" font-size="18" font-family="Liberation Sans, sans-serif" text-anchor="middle" fill="#223" stroke="#223" stroke-width=".35" textLength="15" lengthAdjust="spacingAndGlyphs" >82</text>
<rect x="773.2" y="2062" width="22.4" height="19.2" fill="#fff" stroke="#122" stroke-width="1.5"/>
<text x="784.4" y="2078" font-size="18" font-family="Liberation Sans, sans-serif" text-anchor="middle" fill="#223" stroke="#223" stroke-width=".35" textLength="15" lengthAdjust="spacingAndGlyphs" >80</text>
<ellipse cx="459.3" cy="1815.6" rx="5.9" ry="5.3" fill="#ff1010" stroke="#700" stroke-width="1.4"/>
<text x="445.7" y="1818.8" font-size="18" font-family="Liberation Sans, sans-serif" text-anchor="middle" fill="#600" stroke="#600" stroke-width=".35" textLength="7.2" lengthAdjust="spacingAndGlyphs" >5</text>
<text x="393.5" y="1501.9" font-size="23.3" font-family="Liberation Serif, serif" text-anchor="start" fill="#111" stroke="#111" stroke-width=".35" textLength="124.1" lengthAdjust="spacingAndGlyphs" >Extraction rate</text>
<text transform="translate(35 1821) rotate(-90)" font-size="18.6" font-family="Liberation Serif, serif" font-weight="bold" text-anchor="middle" textLength="184" lengthAdjust="spacingAndGlyphs" fill="#222">Ethanol concentration</text>
<text x="360.2" y="2189.7" font-size="19" font-family="Liberation Serif, serif" text-anchor="start" fill="#111" stroke="#111" stroke-width=".35" textLength="162" lengthAdjust="spacingAndGlyphs" >Sample to solvent ratio</text>
<path d="M1008.7 468.3L994.9 90.2M1376.1 407.6L1379.1 61.3M1642 505.8L1658.5 109.8M1005.3 376.6L1376.8 323.6L1646 409.8M1001.8 281.1L1377.6 236.2L1650.2 309.8M998.4 185.6L1378.4 148.8L1654.3 209.8M994.9 90.2L1379.1 61.3L1658.5 109.8M1091 82.9L1098.2 363.4M1449 73.4L1444.1 345.2M1187 75.7L1191.1 350.1M1518.8 85.6L1511.4 366.7M1283.1 68.5L1283.9 336.9M1588.7 97.7L1578.7 388.3" fill="none" stroke="#151515" stroke-width="1.3"/>
<circle cx="1005.3" cy="376.6" r="2.1" fill="#111"/>
<text x="996.1" y="372.6" font-size="18.4" font-family="Liberation Sans, sans-serif" text-anchor="end" fill="#222" stroke="#222" stroke-width=".35" textLength="17" lengthAdjust="spacingAndGlyphs" >75</text>
<circle cx="1001.8" cy="281.1" r="2.1" fill="#111"/>
<text x="992.6" y="277.1" font-size="18.4" font-family="Liberation Sans, sans-serif" text-anchor="end" fill="#222" stroke="#222" stroke-width=".35" textLength="17" lengthAdjust="spacingAndGlyphs" >80</text>
<circle cx="998.4" cy="185.6" r="2.1" fill="#111"/>
<text x="989.2" y="181.6" font-size="18.4" font-family="Liberation Sans, sans-serif" text-anchor="end" fill="#222" stroke="#222" stroke-width=".35" textLength="17" lengthAdjust="spacingAndGlyphs" >85</text>
<circle cx="994.9" cy="90.2" r="2.1" fill="#111"/>
<text x="985.7" y="86.2" font-size="18.4" font-family="Liberation Sans, sans-serif" text-anchor="end" fill="#222" stroke="#222" stroke-width=".35" textLength="17" lengthAdjust="spacingAndGlyphs" >90</text>
<polygon points="1008.7,468.3 1242.8,587.7 1642,505.8 1376.1,407.6" fill="#ffff00"/>
<g clip-path="url(#c4)" fill="none" stroke-width="1.6">
<polygon stroke="#5976bb" points="1614.3,435.9 1602.3,431.8 1589.7,428 1576.7,424.4 1563.1,420.9 1549.2,417.7 1534.9,414.7 1520.3,411.8 1505.3,409.2 1490.1,406.7 1474.6,404.5 1458.8,402.5 1442.9,400.7 1426.8,399.1 1410.6,397.7 1394.3,396.6 1377.9,395.7 1361.5,394.9 1345,394.5 1328.5,394.2 1312.1,394.1 1295.8,394.3 1279.5,394.7 1263.4,395.3 1247.4,396.1 1231.6,397.1 1216,398.4 1200.6,399.9 1185.5,401.6 1170.7,403.5 1156.2,405.6 1142.1,408 1128.3,410.5 1115,413.3 1102.1,416.2 1089.7,419.4 1077.7,422.7 1066.4,426.3 1055.6,430 1045.4,434 1035.8,438.1 1026.9,442.4 1018.7,446.8 1011.2,451.4 1004.5,456.2 998.7,461.1 993.6,466.2 989.4,471.4 986.1,476.7 983.7,482.1 982.3,487.6 981.8,493.2 982.4,498.8 983.9,504.5 986.5,510.2 990.2,516 994.9,521.7 1000.7,527.5 1007.6,533.2 1015.6,538.8 1024.6,544.4 1034.8,549.8 1046,555.2 1058.2,560.4 1071.5,565.5 1085.7,570.4 1100.9,575 1117,579.5 1134,583.7 1151.8,587.6 1170.4,591.3 1189.6,594.6 1209.5,597.7 1229.9,600.4 1250.8,602.7 1272.2,604.7 1293.8,606.3 1315.6,607.6 1337.6,608.4 1359.6,608.9 1381.6,609 1403.4,608.7 1425,607.9 1446.3,606.8 1467.2,605.4 1487.6,603.5 1507.4,601.3 1526.6,598.7 1545.1,595.8 1562.8,592.6 1579.7,589 1595.7,585.2 1610.7,581.1 1624.8,576.7 1637.8,572.2 1649.8,567.4 1660.7,562.4 1670.5,557.3 1679.2,552 1686.8,546.6 1693.2,541 1698.6,535.4 1702.8,529.8 1705.9,524.1 1708,518.3 1708.9,512.6 1708.8,506.9 1707.7,501.2 1705.6,495.5 1702.6,490 1698.6,484.4 1693.7,479 1687.9,473.7 1681.2,468.5 1673.8,463.4 1665.6,458.4 1656.7,453.6 1647,448.9 1636.8,444.4 1625.8,440"/>
<polygon stroke="#59c6bb" points="1596.7,439.1 1585.5,435.3 1573.8,431.7 1561.7,428.3 1549.1,425.1 1536.1,422 1522.8,419.1 1509.1,416.5 1495.1,414 1480.8,411.7 1466.3,409.6 1451.6,407.7 1436.7,406 1421.6,404.5 1406.4,403.2 1391.1,402.1 1375.7,401.2 1360.3,400.5 1344.8,400.1 1329.4,399.8 1313.9,399.7 1298.6,399.9 1283.3,400.3 1268.2,400.8 1253.2,401.6 1238.4,402.6 1223.7,403.8 1209.3,405.2 1195.2,406.8 1181.3,408.6 1167.8,410.6 1154.6,412.8 1141.7,415.2 1129.3,417.8 1117.2,420.6 1105.7,423.6 1094.6,426.8 1084,430.1 1074,433.6 1064.6,437.3 1055.7,441.2 1047.5,445.2 1040,449.4 1033.2,453.7 1027.1,458.2 1021.7,462.8 1017.2,467.5 1013.4,472.4 1010.5,477.3 1008.5,482.4 1007.3,487.5 1007.1,492.7 1007.8,497.9 1009.4,503.2 1012,508.5 1015.6,513.8 1020.1,519.1 1025.7,524.4 1032.2,529.7 1039.8,534.9 1048.3,540 1057.8,545 1068.3,550 1079.8,554.8 1092.1,559.4 1105.4,563.9 1119.5,568.1 1134.5,572.2 1150.2,576.1 1166.7,579.7 1183.9,583 1201.6,586.1 1220,588.8 1238.8,591.3 1258.1,593.4 1277.7,595.2 1297.6,596.7 1317.7,597.9 1337.9,598.6 1358.2,599.1 1378.4,599.1 1398.5,598.8 1418.3,598.2 1437.9,597.2 1457.2,595.8 1476,594.1 1494.3,592.1 1512,589.8 1529,587.1 1545.4,584.2 1561,580.9 1575.8,577.5 1589.8,573.7 1602.9,569.7 1615,565.5 1626.2,561.2 1636.4,556.6 1645.6,551.9 1653.8,547 1661,542 1667.2,537 1672.3,531.8 1676.4,526.6 1679.5,521.3 1681.5,516 1682.6,510.7 1682.7,505.4 1681.9,500.1 1680.1,494.9 1677.5,489.7 1673.9,484.6 1669.5,479.5 1664.3,474.5 1658.3,469.7 1651.5,464.9 1644,460.2 1635.8,455.7 1626.9,451.4 1617.4,447.1 1607.3,443"/>
<polygon stroke="#59ffa2" points="1577.4,442.7 1567.1,439.2 1556.4,435.8 1545.3,432.6 1533.7,429.6 1521.8,426.7 1509.4,424.1 1496.8,421.6 1483.9,419.2 1470.7,417.1 1457.3,415.1 1443.6,413.3 1429.8,411.7 1415.8,410.3 1401.7,409.1 1387.5,408.1 1373.3,407.3 1358.9,406.7 1344.6,406.2 1330.2,406 1315.9,405.9 1301.7,406.1 1287.5,406.4 1273.5,407 1259.6,407.7 1245.8,408.6 1232.3,409.7 1218.9,411 1205.8,412.5 1193,414.2 1180.5,416.1 1168.3,418.2 1156.4,420.4 1144.9,422.9 1133.8,425.5 1123.2,428.2 1113,431.2 1103.3,434.3 1094.2,437.6 1085.6,441 1077.5,444.6 1070.1,448.3 1063.2,452.2 1057.1,456.2 1051.6,460.4 1046.8,464.6 1042.8,469 1039.5,473.5 1037,478 1035.3,482.6 1034.4,487.3 1034.3,492.1 1035.1,496.9 1036.8,501.8 1039.4,506.6 1042.8,511.5 1047.2,516.3 1052.4,521.2 1058.6,526 1065.7,530.7 1073.6,535.4 1082.5,539.9 1092.2,544.4 1102.7,548.7 1114.1,552.9 1126.3,557 1139.3,560.8 1153,564.5 1167.4,568 1182.5,571.2 1198.1,574.2 1214.4,577 1231.1,579.5 1248.2,581.7 1265.8,583.6 1283.6,585.2 1301.7,586.6 1319.9,587.6 1338.3,588.3 1356.7,588.7 1375,588.7 1393.3,588.5 1411.3,587.9 1429.1,587 1446.6,585.8 1463.7,584.3 1480.3,582.4 1496.5,580.3 1512.1,578 1527,575.3 1541.3,572.4 1554.8,569.2 1567.6,565.9 1579.7,562.3 1590.8,558.5 1601.2,554.5 1610.6,550.4 1619.2,546.1 1626.8,541.7 1633.5,537.2 1639.3,532.6 1644.2,527.9 1648.1,523.1 1651.1,518.3 1653.2,513.5 1654.3,508.7 1654.6,503.8 1654,499 1652.6,494.2 1650.3,489.4 1647.2,484.7 1643.4,480 1638.7,475.4 1633.3,470.9 1627.2,466.5 1620.5,462.3 1613,458.1 1605,454 1596.3,450.1 1587.1,446.3"/>
<polygon stroke="#59ff52" points="1556,446.6 1546.8,443.4 1537.1,440.3 1527,437.4 1516.6,434.6 1505.8,432 1494.6,429.6 1483.1,427.2 1471.4,425.1 1459.4,423.1 1447.2,421.3 1434.7,419.7 1422.1,418.2 1409.4,416.9 1396.5,415.8 1383.6,414.9 1370.5,414.1 1357.4,413.5 1344.3,413.1 1331.2,412.9 1318.2,412.8 1305.2,413 1292.2,413.3 1279.4,413.8 1266.7,414.5 1254.2,415.3 1241.8,416.4 1229.6,417.6 1217.7,419 1206,420.5 1194.6,422.2 1183.5,424.1 1172.8,426.2 1162.4,428.4 1152.3,430.8 1142.7,433.4 1133.5,436.1 1124.8,439 1116.6,442 1108.8,445.1 1101.6,448.4 1095,451.8 1088.9,455.3 1083.5,459 1078.6,462.8 1074.4,466.6 1070.9,470.6 1068.1,474.6 1066,478.8 1064.6,483 1064,487.2 1064.1,491.5 1065,495.9 1066.7,500.2 1069.2,504.6 1072.5,509 1076.6,513.3 1081.5,517.6 1087.2,521.9 1093.7,526.2 1101,530.3 1109.1,534.4 1117.9,538.4 1127.5,542.2 1137.8,546 1148.9,549.5 1160.6,553 1172.9,556.2 1185.9,559.3 1199.4,562.2 1213.5,564.8 1228,567.2 1242.9,569.4 1258.3,571.4 1273.9,573.1 1289.9,574.5 1306,575.7 1322.3,576.6 1338.7,577.2 1355.1,577.5 1371.4,577.6 1387.7,577.4 1403.8,576.9 1419.7,576.1 1435.3,575 1450.6,573.7 1465.5,572.1 1479.9,570.2 1493.9,568.1 1507.3,565.8 1520.1,563.2 1532.3,560.4 1543.8,557.4 1554.7,554.3 1564.8,550.9 1574.2,547.4 1582.8,543.7 1590.6,539.9 1597.6,536 1603.7,532 1609.1,527.9 1613.6,523.7 1617.3,519.4 1620.2,515.1 1622.3,510.8 1623.5,506.4 1623.9,502.1 1623.6,497.7 1622.5,493.4 1620.6,489.1 1618,484.8 1614.6,480.6 1610.6,476.4 1605.9,472.4 1600.5,468.4 1594.5,464.5 1587.9,460.7 1580.7,457 1573,453.4 1564.7,449.9"/>
<polygon stroke="#6dff15" points="1531.7,451.1 1523.7,448.2 1515.2,445.5 1506.3,442.8 1497.1,440.4 1487.5,438 1477.7,435.8 1467.5,433.7 1457.1,431.8 1446.5,430 1435.6,428.4 1424.6,426.9 1413.4,425.6 1402,424.4 1390.6,423.4 1379,422.6 1367.4,421.9 1355.8,421.4 1344.1,421 1332.4,420.8 1320.7,420.8 1309.1,420.9 1297.6,421.2 1286.2,421.6 1274.9,422.2 1263.7,423 1252.7,424 1241.9,425 1231.3,426.3 1220.9,427.7 1210.8,429.3 1201,431 1191.4,432.8 1182.2,434.8 1173.4,437 1164.9,439.3 1156.8,441.7 1149.2,444.2 1142,446.9 1135.2,449.7 1128.9,452.7 1123.2,455.7 1117.9,458.9 1113.2,462.1 1109.1,465.5 1105.6,468.9 1102.6,472.4 1100.3,476 1098.6,479.6 1097.6,483.3 1097.2,487.1 1097.5,490.9 1098.4,494.7 1100.1,498.5 1102.4,502.3 1105.5,506.1 1109.3,510 1113.7,513.7 1118.9,517.5 1124.7,521.1 1131.2,524.8 1138.4,528.3 1146.3,531.7 1154.8,535.1 1163.9,538.3 1173.6,541.4 1183.9,544.4 1194.8,547.2 1206.1,549.8 1217.9,552.3 1230.2,554.5 1242.9,556.6 1255.9,558.5 1269.3,560.2 1282.9,561.6 1296.7,562.9 1310.7,563.9 1324.9,564.6 1339.1,565.2 1353.3,565.5 1367.5,565.5 1381.6,565.3 1395.6,564.9 1409.4,564.2 1423,563.3 1436.3,562.1 1449.2,560.8 1461.8,559.2 1474,557.4 1485.7,555.4 1496.9,553.2 1507.6,550.8 1517.7,548.2 1527.3,545.5 1536.2,542.6 1544.5,539.6 1552.1,536.4 1559.1,533.1 1565.3,529.7 1570.9,526.2 1575.7,522.6 1579.8,519 1583.2,515.3 1585.9,511.5 1587.9,507.7 1589.2,503.9 1589.7,500.1 1589.6,496.3 1588.8,492.5 1587.3,488.7 1585.2,484.9 1582.4,481.2 1579,477.6 1575,474 1570.4,470.4 1565.2,467 1559.5,463.6 1553.3,460.3 1546.6,457.1 1539.4,454"/>
<polygon stroke="#beff15" points="1503.3,456.3 1496.5,453.8 1489.4,451.5 1481.9,449.3 1474.1,447.1 1466,445.1 1457.7,443.2 1449.1,441.4 1440.2,439.8 1431.2,438.2 1421.9,436.8 1412.5,435.5 1403,434.4 1393.3,433.4 1383.5,432.5 1373.6,431.8 1363.7,431.2 1353.7,430.7 1343.7,430.4 1333.8,430.2 1323.8,430.2 1313.9,430.3 1304,430.6 1294.2,431 1284.6,431.5 1275,432.2 1265.6,433 1256.4,433.9 1247.4,435 1238.5,436.2 1229.9,437.5 1221.6,439 1213.5,440.6 1205.7,442.4 1198.3,444.2 1191.1,446.2 1184.3,448.3 1177.9,450.5 1171.8,452.8 1166.2,455.2 1161,457.7 1156.2,460.3 1151.9,463 1148.1,465.7 1144.7,468.6 1141.9,471.5 1139.5,474.5 1137.7,477.5 1136.4,480.6 1135.7,483.7 1135.6,486.9 1136,490.1 1137,493.3 1138.5,496.5 1140.7,499.7 1143.4,502.9 1146.7,506.1 1150.6,509.2 1155.1,512.4 1160.1,515.4 1165.7,518.4 1171.8,521.3 1178.5,524.2 1185.7,527 1193.5,529.6 1201.6,532.2 1210.3,534.6 1219.4,536.9 1228.9,539.1 1238.8,541.1 1249.1,543 1259.6,544.7 1270.5,546.2 1281.6,547.6 1292.9,548.8 1304.4,549.8 1316,550.6 1327.8,551.2 1339.5,551.7 1351.4,551.9 1363.1,551.9 1374.8,551.8 1386.4,551.4 1397.9,550.9 1409.2,550.1 1420.2,549.2 1431,548.1 1441.5,546.8 1451.6,545.3 1461.4,543.7 1470.8,541.9 1479.7,539.9 1488.3,537.8 1496.3,535.5 1503.8,533.2 1510.8,530.7 1517.3,528 1523.2,525.3 1528.6,522.5 1533.4,519.6 1537.6,516.7 1541.2,513.6 1544.2,510.5 1546.6,507.4 1548.5,504.3 1549.7,501.1 1550.3,497.9 1550.4,494.7 1549.9,491.5 1548.8,488.3 1547.2,485.1 1545,482 1542.3,478.9 1539,475.8 1535.3,472.8 1531.1,469.9 1526.4,467 1521.2,464.2 1515.6,461.5 1509.6,458.8"/>
<polygon stroke="#ffef15" points="1467.5,462.9 1462.3,461 1456.8,459.1 1451.1,457.3 1445.1,455.7 1438.8,454.1 1432.4,452.5 1425.7,451.1 1418.8,449.8 1411.8,448.6 1404.6,447.5 1397.2,446.5 1389.8,445.6 1382.2,444.8 1374.5,444.1 1366.8,443.5 1359,443 1351.2,442.6 1343.3,442.4 1335.5,442.2 1327.7,442.2 1319.9,442.3 1312.1,442.5 1304.5,442.8 1296.9,443.2 1289.4,443.8 1282.1,444.4 1274.9,445.2 1267.8,446 1260.9,447 1254.2,448.1 1247.8,449.2 1241.5,450.5 1235.5,451.9 1229.7,453.4 1224.2,454.9 1219,456.6 1214,458.3 1209.4,460.1 1205.1,462 1201.2,464 1197.6,466 1194.4,468.1 1191.5,470.3 1189.1,472.5 1187,474.8 1185.3,477.1 1184.1,479.5 1183.3,481.8 1182.9,484.3 1182.9,486.7 1183.4,489.2 1184.3,491.6 1185.6,494.1 1187.4,496.5 1189.7,499 1192.4,501.4 1195.5,503.8 1199.1,506.1 1203,508.5 1207.4,510.7 1212.3,512.9 1217.5,515.1 1223,517.2 1229,519.2 1235.3,521.1 1242,522.9 1249,524.6 1256.2,526.2 1263.8,527.7 1271.6,529.1 1279.6,530.4 1287.8,531.6 1296.3,532.6 1304.8,533.5 1313.5,534.2 1322.3,534.8 1331.2,535.3 1340.1,535.6 1349,535.8 1357.9,535.8 1366.8,535.7 1375.5,535.4 1384.2,535 1392.7,534.5 1401.1,533.8 1409.2,532.9 1417.2,532 1424.9,530.9 1432.4,529.7 1439.5,528.3 1446.4,526.9 1452.9,525.3 1459.1,523.6 1464.9,521.8 1470.3,520 1475.4,518 1480,516 1484.2,513.8 1488,511.7 1491.3,509.4 1494.2,507.1 1496.7,504.8 1498.7,502.4 1500.2,500 1501.3,497.6 1502,495.1 1502.2,492.7 1502,490.2 1501.3,487.8 1500.2,485.3 1498.7,482.9 1496.7,480.5 1494.4,478.1 1491.6,475.8 1488.5,473.5 1485,471.3 1481.1,469.1 1476.9,466.9 1472.3,464.9"/>
<polygon stroke="#ff9e15" points="1413.6,472.8 1410.8,471.7 1407.7,470.6 1404.5,469.6 1401.1,468.6 1397.6,467.6 1393.9,466.8 1390.1,465.9 1386.2,465.2 1382.1,464.4 1378,463.8 1373.8,463.2 1369.5,462.6 1365.1,462.2 1360.7,461.8 1356.3,461.4 1351.8,461.1 1347.2,460.9 1342.7,460.8 1338.2,460.7 1333.6,460.7 1329.1,460.7 1324.7,460.8 1320.2,461 1315.9,461.3 1311.5,461.6 1307.3,462 1303.2,462.4 1299.1,462.9 1295.2,463.5 1291.3,464.1 1287.6,464.8 1284.1,465.6 1280.7,466.4 1277.4,467.2 1274.3,468.2 1271.4,469.1 1268.6,470.1 1266.1,471.2 1263.7,472.3 1261.6,473.4 1259.6,474.6 1257.9,475.8 1256.4,477.1 1255.1,478.3 1254,479.6 1253.2,481 1252.6,482.3 1252.3,483.7 1252.2,485 1252.4,486.4 1252.7,487.8 1253.4,489.2 1254.3,490.5 1255.4,491.9 1256.8,493.3 1258.4,494.6 1260.3,495.9 1262.4,497.2 1264.7,498.5 1267.2,499.7 1270,500.9 1273,502.1 1276.2,503.2 1279.5,504.3 1283.1,505.4 1286.8,506.3 1290.7,507.3 1294.7,508.1 1298.9,508.9 1303.3,509.7 1307.7,510.4 1312.2,511 1316.9,511.5 1321.6,512 1326.3,512.4 1331.2,512.7 1336,513 1340.9,513.1 1345.8,513.2 1350.6,513.2 1355.5,513.2 1360.3,513 1365,512.8 1369.7,512.5 1374.3,512.2 1378.8,511.7 1383.2,511.2 1387.4,510.6 1391.5,510 1395.5,509.3 1399.3,508.5 1403,507.6 1406.4,506.7 1409.7,505.8 1412.8,504.8 1415.7,503.7 1418.3,502.6 1420.7,501.4 1422.9,500.2 1424.9,499 1426.6,497.8 1428.1,496.5 1429.4,495.2 1430.4,493.8 1431.1,492.5 1431.6,491.1 1431.9,489.7 1431.9,488.4 1431.6,487 1431.1,485.6 1430.4,484.2 1429.4,482.9 1428.2,481.5 1426.8,480.2 1425.1,478.9 1423.2,477.6 1421.1,476.4 1418.8,475.1 1416.3,473.9"/>
</g>
<polygon points="1008.7,468.3 1242.8,587.7 1642,505.8 1376.1,407.6" fill="none" stroke="#222" stroke-width="1.3"/>
<circle cx="1184.3" cy="557.8" r="2.2" fill="#111"/>
<circle cx="1342.6" cy="567.2" r="2.2" fill="#111"/>
<circle cx="1125.8" cy="528" r="2.2" fill="#111"/>
<circle cx="1442.4" cy="546.8" r="2.2" fill="#111"/>
<circle cx="1067.2" cy="498.1" r="2.2" fill="#111"/>
<circle cx="1542.2" cy="526.3" r="2.2" fill="#111"/>
<circle cx="1008.7" cy="468.3" r="2.2" fill="#111"/><circle cx="1642" cy="505.8" r="2.2" fill="#111"/><circle cx="1242.8" cy="587.7" r="2.2" fill="#111"/>
<path fill="#73cfff" d="M1009 365.7l10.2-14.5-4.7 8.1-10.1 14.4z"/>
<path fill="#73e0ff" d="M1013.3 358.6l10.2-14.5-4.7 7.7-10.2 14.5zM1017.8 352.8l10.2-13.9-4.7 8.2-10.1 13.9z"/>
<path fill="#73f1ff" d="M1017.7 351.9l10.3-14.6-4.8 7.4-10.2 14.5zM1022.2 345.7l10.2-14-4.8 7.8-10.2 13.9z"/>
<path fill="#73faff" d="M1241.3 448.6l11.6-16.6-6.9-13.2-11.5 16.5zM1022.1 345.5l10.3-14.6-4.8 7-10.3 14.6zM1026.7 340.5l10.2-13.4-4.7 8.2-10.2 13.3z"/>
<path fill="#73fffc" d="M1026.6 338.9l10.3-14-4.8 7.4-10.2 14zM1031.1 333.3l10.2-13.4-4.8 7.8-10.2 13.4z"/>
<path fill="#73fff3" d="M1234.9 436.3l11.5-16.5-6.9-12.6-11.5 16.5zM1026.6 339.5l10.3-14.7-4.9 6.6-10.3 14.6zM1035.6 328.6l10.2-12.8-4.8 8.2-10.1 12.8z"/>
<path fill="#73ffea" d="M1251.5 433.8l11.5-16-6.9-13.2-11.5 15.9zM1031.1 332.5l10.3-14.1-4.9 7-10.3 14zM1035.6 326.4l10.3-13.5-4.8 7.4-10.2 13.4z"/>
<path fill="#73ffe2" d="M1228.6 424.5l11.5-16.5-6.8-12-11.5 16.5zM1031.2 333.8l10.4-14.7-4.9 6.2-10.3 14.7zM1245.1 421.5l11.5-15.9-6.9-12.6-11.5 15.9zM1040 321.4l10.2-12.9-4.8 7.9-10.2 12.8zM1044.5 317.2l10.2-12.3-4.8 8.3-10.1 12.3z"/>
<path fill="#73ffd9" d="M1222.3 413.3l11.5-16.5-6.8-11.5-11.5 16.4zM1035.8 328.6l10.4-14.8-5 5.8-10.4 14.7zM1035.6 326.4l10.3-14.1-4.9 6.6-10.3 14.1zM1261.6 419.5l11.5-15.3-6.9-13.1-11.5 15.3zM1040.1 320l10.3-13.5-4.9 7.1-10.3 13.5z"/>
<path fill="#73ffd1" d="M1238.7 409.8l11.5-15.9-6.8-12-11.5 15.8zM1040.2 320.7l10.4-14.2-5 6.2-10.3 14.1zM1044.5 314.5l10.3-12.9-4.9 7.5-10.2 12.9zM1049 310l10.2-12.3-4.9 7.9-10.2 12.3zM1053.4 306.4l10.2-11.7-4.8 8.3-10.1 11.7z"/>
<path fill="#73ffc8" d="M1216.1 402.6l11.5-16.4-6.7-10.9-11.4 16.4zM1040.4 323.7l10.5-14.8-5.1 5.3-10.4 14.8zM1255.2 407.3l11.5-15.3-6.9-12.5-11.5 15.2zM1044.7 313.9l10.3-13.6-5 6.7-10.3 13.5zM1271.7 405.9l11.5-14.7-7-13.1-11.5 14.6zM1049.1 308l10.3-13-4.9 7.1-10.3 12.9z"/>
<path fill="#73ffc0" d="M1209.8 392.5l11.4-16.4-6.7-10.3-11.4 16.3zM1045.1 319.2l10.5-14.9-5.1 4.9-10.5 14.8zM1232.4 398.6l11.5-15.8-6.8-11.4-11.5 15.8zM1044.8 315.4l10.4-14.2-5 5.8-10.4 14.2zM1248.8 395.6l11.5-15.2-6.9-11.9-11.5 15.2zM1053.5 303.1l10.3-12.4-4.9 7.5-10.2 12.3zM1057.9 299.1l10.2-11.8-4.9 7.9-10.2 11.7zM1062.2 296l10.2-11.2-4.9 8.3-10.1 11.2zM1640.7 329.2l9.2 9.5-7.3-12.6-9.2-9.5z"/>
<path fill="#73ffb7" d="M1203.7 382.9l11.4-16.3-6.6-9.7-11.4 16.3zM1049.9 315.1l10.5-14.9-5.2 4.5-10.5 14.9zM1226.1 388l11.5-15.8-6.8-10.8-11.4 15.7zM1049.5 310.5l10.5-14.3-5.1 5.4-10.4 14.2zM1049.3 308.1l10.4-13.6-5 6.3-10.3 13.6zM1265.3 393.7l11.5-14.6-6.9-12.5-11.5 14.6zM1053.7 301.8l10.3-13-5 6.7-10.3 13zM1281.8 392.8l11.5-14-7-13-11.5 14zM1058.1 296.5l10.3-12.4-5 7.1-10.3 12.4z"/>
<path fill="#73ffaf" d="M1197.5 373.8l11.4-16.3-6.6-9.2-11.4 16.2zM1219.9 377.9l11.4-15.7-6.7-10.3-11.4 15.7zM1242.5 384.5l11.5-15.2-6.8-11.4-11.4 15.1zM1053.9 302.8l10.4-13.7-5.1 5.8-10.4 13.6zM1258.9 382.1l11.5-14.6-6.9-11.9-11.4 14.5zM1062.4 292.1l10.3-11.8-5 7.6-10.2 11.8zM1066.8 288.7l10.2-11.2-4.9 8-10.2 11.2zM1632.7 320.8l9.2 9-7.3-12.6-9.2-9zM1634 318.1l9.2 9.5-7.2-12.1-9.2-9.5z"/>
<path fill="#73ffa6" d="M1054.7 311.4l10.6-15-5.2 4.1-10.5 14.9zM1054.3 305.9l10.5-14.3-5.2 5-10.5 14.3zM1236.2 373.9l11.4-15.1-6.8-10.8-11.4 15.1zM1058.3 296.1l10.4-13-5.1 6.3-10.3 13zM1275.4 380.7l11.5-14-7-12.4-11.4 13.9zM1062.7 290.3l10.3-12.4-5 6.7-10.3 12.4zM1291.9 380.3l11.5-12.8-7-13.6-11.4 12.8zM1067 285.6l10.3-11.8-5 7.2-10.3 11.8zM1075.7 278.8l10.2-10.7-5 8-10.2 10.6z"/>
<path fill="#73ff9e" d="M1191.4 365.3l11.4-16.2-6.6-8.6-11.3 16.2zM1059.5 308.1l10.6-15-5.3 3.6-10.6 15zM1213.7 368.3l11.4-15.7-6.7-9.7-11.4 15.6zM1059.1 301.8l10.5-14.4-5.2 4.5-10.5 14.3zM1058.7 297.8l10.5-13.7-5.1 5.4-10.4 13.7zM1252.5 371l11.4-14.5-6.9-11.3-11.4 14.5zM1063 290.7l10.4-13.1-5.1 5.9-10.4 13zM1269 369.1l11.4-13.9-6.9-11.9-11.4 13.9zM1071.4 281.7l10.2-11.3-5 7.6-10.2 11.2zM1624.6 313l9.3 8.5-7.3-12.6-9.3-8.5zM1626 309.7l9.2 9-7.3-12.1-9.2-9.1zM1627.3 307.4l9.2 9.5-7.2-11.5-9.2-9.6z"/>
<path fill="#73ff95" d="M1185.4 357.2l11.3-16.2-6.5-8-11.3 16.1zM1064.4 305.3l10.6-15.1-5.3 3.2-10.6 15zM1207.5 359.3l11.4-15.6-6.6-9.1-11.4 15.6zM1063.9 298.1l10.6-14.4-5.3 4.1-10.5 14.4zM1229.9 363.9l11.4-15.1-6.7-10.2-11.4 15zM1063.4 293.2l10.5-13.7-5.2 5-10.5 13.7zM1246.2 360.4l11.4-14.5-6.8-10.7-11.4 14.5zM1067.4 284.5l10.4-12.5-5.1 6.3-10.3 12.4zM1285.4 368.2l11.4-13.4-7-12.4-11.4 13.3zM1071.7 279.3l10.3-11.9-5.1 6.8-10.3 11.8zM1302 368.5l11.4-12.2-7-13.5-11.4 12.1zM1076 275.1l10.3-11.3-5.1 7.2-10.2 11.3zM1080.3 271.8l10.2-10.7-5 7.6-10.2 10.7zM1620.6 297.3l9.2 9.6-7.2-11-9.2-9.6z"/>
<path fill="#73ff8c" d="M1179.4 349.7l11.3-16.1-6.5-7.5-11.3 16.1zM1173.4 342.7l11.3-16.1-6.4-6.9-11.3 16zM1069.4 302.8l10.7-15.1-5.4 2.7-10.6 15.1zM1201.4 350.8l11.4-15.6-6.6-8.5-11.3 15.5zM1068.8 294.8l10.6-14.4-5.3 3.7-10.6 14.4zM1223.7 354.3l11.4-15-6.7-9.6-11.4 15zM1068.2 289.1l10.5-13.8-5.2 4.6-10.5 13.7zM1067.8 285.7l10.4-13.1-5.2 5.5-10.4 13.1zM1262.6 358l11.4-13.9-6.9-11.3-11.4 13.9zM1072.1 279.1l10.4-12.5-5.1 5.9-10.4 12.5zM1279 356.7l11.4-13.3-6.9-11.8-11.4 13.3zM1616.5 305.5l9.4 8-7.3-12.6-9.4-8zM1617.9 301.8l9.3 8.5-7.3-12.1-9.3-8.6zM1619.3 299.1l9.2 9.1-7.2-11.5-9.2-9.1z"/>
<path fill="#73ff84" d="M1167.5 336.3l11.3-16-6.4-6.4-11.2 16zM1079.5 299.2l10.7-15.2-5.5 1.8-10.7 15.2zM1074.4 300.8l10.7-15.2-5.5 2.3-10.7 15.1zM1195.3 342.8l11.3-15.5-6.5-8-11.3 15.5zM1073.7 291.8l10.6-14.5-5.4 3.2-10.6 14.4zM1217.5 345.3l11.4-15-6.7-9.1-11.3 14.9zM1073.1 285.3l10.6-13.8-5.3 4.1-10.5 13.8zM1239.9 350.4l11.4-14.5-6.8-10.2-11.4 14.4zM1072.6 281l10.5-13.2-5.2 5-10.4 13.1zM1256.2 347.5l11.4-13.9-6.8-10.7-11.4 13.8zM1076.4 273.5l10.4-11.9-5.1 6.4-10.3 11.9zM1295.5 356.4l11.4-12.1-7-13-11.4 12.1zM1080.7 268.9l10.3-11.3-5.1 6.8-10.3 11.3zM1312 357.2l11.4-11.5-7-13.5-11.4 11.5zM1085 265.2l10.3-10.7-5.1 7.2-10.2 10.7zM1089.2 262.5l10.2-10.1-5.1 7.6-10.2 10.1zM1612.6 288.9l9.2 9.1-7.2-11-9.3-9.1zM1613.9 287.6l9.2 9.6-7.2-10.5-9.2-9.6z"/>
<path fill="#73ff7b" d="M1161.7 330.3l11.2-16-6.3-5.8-11.2 15.9zM1155.8 324.9l11.2-15.9-6.3-5.3-11.2 15.9zM1089.8 297.3l10.8-15.3-5.6 .8-10.8 15.3zM1084.6 298l10.8-15.3-5.6 1.3-10.7 15.2zM1189.3 335.3l11.3-15.5-6.5-7.4-11.3 15.4zM1078.7 289.3l10.7-14.5-5.4 2.8-10.6 14.5zM1211.4 336.9l11.3-14.9-6.6-8.5-11.3 14.9zM1078.1 281.9l10.6-13.9-5.4 3.7-10.6 13.8zM1233.7 340.9l11.4-14.4-6.7-9.6-11.3 14.4zM1077.4 276.8l10.5-13.2-5.3 4.6-10.5 13.2zM1076.9 274l10.4-12.6-5.2 5.5-10.4 12.5zM1272.6 345.7l11.4-13.3-6.9-11.2-11.4 13.2zM1081.2 268l10.4-12-5.2 6-10.4 11.9zM1289 344.9l11.4-12.7-7-11.8-11.4 12.6zM1305.5 345.2l11.4-11.5-7-12.9-11.4 11.4zM1322 346.5l11.4-10.9-7.1-13.5-11.3 10.8zM1608.3 298.6l9.5 7.5-7.3-12.6-9.5-7.5zM1609.8 294.4l9.4 8-7.3-12.1-9.4-8.1zM1611.2 291.2l9.3 8.6-7.2-11.5-9.3-8.6zM1607.2 277.9l9.2 10.2-7.2-9.4-9.2-10.2z"/>
<path fill="#73ff73" d="M1150.1 319.9l11.2-15.9-6.2-4.7-11.1 15.8zM1144.3 315.5l11.1-15.8-6.2-4.2-11.1 15.8zM1100.3 297.2l10.9-15.4-5.7-.1-10.8 15.4zM1095 297l10.8-15.4-5.7 .4-10.8 15.3zM1183.3 328.4l11.3-15.4-6.4-6.9-11.2 15.4zM1083.8 287.3l10.7-14.6-5.5 2.3-10.7 14.5zM1205.3 329l11.3-14.9-6.6-7.9-11.3 14.9zM1083 278.9l10.6-13.9-5.4 3.3-10.6 13.9zM1227.5 332l11.3-14.4-6.7-9-11.3 14.3zM1249.9 337.6l11.4-13.8-6.8-10.1-11.4 13.8zM1081.7 269.4l10.5-12.6-5.3 5.1-10.4 12.6zM1266.2 335.2l11.4-13.2-6.9-10.7-11.3 13.2zM1085.5 263l10.4-11.4-5.2 6.4-10.3 11.3zM1089.7 258.9l10.3-10.8-5.1 6.8-10.3 10.7zM1093.9 255.8l10.3-10.2-5.1 7.2-10.2 10.1zM1098.1 253.6l10.2-9.6-5.1 7.7-10.2 9.6zM1600 292.1l9.6 7-7.3-12.7-9.6-7zM1601.5 287.4l9.5 7.5-7.3-12.1-9.5-7.5zM1603 283.7l9.4 8.1-7.2-11.5-9.4-8.1zM1604.5 281l9.3 8.6-7.2-11-9.3-8.6zM1605.9 279.3l9.3 9.1-7.2-10.5-9.3-9.1z"/>
<path fill="#7bff73" d="M1138.7 311.5l11.1-15.8-6.1-3.7-11.1 15.7zM1133 308l11.1-15.7-6.1-3.2-11 15.7zM1127.5 305l11-15.7-6-2.6-11 15.6zM1121.9 302.5l11-15.6-6-2.1-11 15.6zM1116.4 300.5l11-15.6-5.9-1.6-10.9 15.5zM1111 298.9l10.9-15.5-5.8-1.1-10.9 15.5zM1105.6 297.9l10.9-15.5-5.8-.6-10.9 15.4zM1177.4 322l11.2-15.4-6.4-6.3-11.2 15.3zM1171.5 316.1l11.2-15.3-6.3-5.8-11.2 15.3zM1094.1 284.4l10.8-14.7-5.6 1.4-10.7 14.6zM1088.9 285.6l10.7-14.6-5.5 1.8-10.7 14.6zM1199.2 321.5l11.3-14.9-6.5-7.4-11.3 14.8zM1088.1 276.4l10.7-14-5.5 2.8-10.6 13.9zM1221.3 323.6l11.3-14.3-6.6-8.5-11.3 14.3zM1082.3 273l10.6-13.2-5.3 4.2-10.5 13.2zM1243.7 328.1l11.4-13.8-6.7-9.5-11.3 13.7zM1086.6 265.1l10.5-12.6-5.3 4.7-10.5 12.6zM1086 262.9l10.4-12-5.2 5.5-10.4 12zM1282.6 333.9l11.4-12.6-6.9-11.2-11.3 12.6zM1090.3 257.5l10.4-11.4-5.2 6-10.4 11.4zM1299 333.7l11.4-11.4-7-12.3-11.3 11.4zM1094.5 253l10.3-10.8-5.2 6.4-10.3 10.8zM1315.5 334.5l11.3-10.8-7-12.9-11.3 10.8zM1331.9 336.4l11.3-10.2-7.1-13.4-11.3 10.2zM1102.9 246.9l10.3-9.6-5.2 7.3-10.2 9.6zM1599.2 270.1l9.3 9.1-7.2-10-9.3-9.1zM1600.6 269.2l9.2 10.2-7.2-8.8-9.2-10.2z"/>
<path fill="#84ff73" d="M1165.7 310.7l11.2-15.3-6.3-5.2-11.2 15.2zM1159.9 305.8l11.2-15.2-6.2-4.7-11.1 15.2zM1104.5 283.3l10.8-14.8-5.7 .4-10.8 14.7zM1099.3 283.7l10.8-14.7-5.7 .9-10.8 14.7zM1193.2 314.6l11.3-14.8-6.5-6.8-11.2 14.8zM1093.2 274.3l10.7-14-5.5 2.3-10.7 14zM1215.2 315.7l11.3-14.3-6.6-7.9-11.3 14.2zM1087.3 269.6l10.6-13.3-5.4 3.7-10.6 13.2zM1237.4 319.2l11.3-13.7-6.7-9-11.3 13.7zM1259.9 325.3l11.3-13.2-6.8-10.1-11.3 13.1zM1090.9 258.3l10.5-12-5.3 5.1-10.4 12zM1276.2 323.5l11.3-12.6-6.9-10.6-11.3 12.5zM1098.7 249.5l10.3-10.2-5.2 6.9-10.3 10.2zM1325.4 324.5l11.3-10.2-7-12.8-11.3 10.2zM1341.9 326.9l11.3-9.6-7.1-13.4-11.3 9.6zM1591.6 286.2l9.6 6.5-7.3-12.7-9.6-6.5zM1593.2 280.9l9.6 7-7.3-12.1-9.6-7zM1594.8 276.7l9.5 7.5-7.2-11.6-9.5-7.6zM1596.3 273.5l9.4 8.1-7.2-11-9.4-8.1zM1597.8 271.3l9.3 8.6-7.2-10.5-9.3-8.6zM1594 261l9.2 10.2-7.1-8.3-9.2-10.2z"/>
<path fill="#8cff73" d="M1154.1 301.3l11.1-15.2-6.2-4.2-11.1 15.2zM1148.4 297.4l11.1-15.2-6.1-3.6-11.1 15.1zM1142.7 294l11.1-15.1-6.1-3.1-11 15.1zM1137.1 291.1l11-15.1-6-2.6-11 15zM1131.6 288.6l11-15-6-2.1-11 15zM1126.1 286.6l11-15-5.9-1.6-10.9 14.9zM1120.6 285.1l10.9-14.9-5.9-1.1-10.9 14.9zM1115.2 284.1l10.9-14.9-5.8-.6-10.9 14.8zM1109.8 283.5l10.9-14.8-5.8-.1-10.8 14.8zM1187.3 308.3l11.2-14.8-6.4-6.3-11.2 14.7zM1181.3 302.4l11.2-14.7-6.4-5.7-11.2 14.7zM1098.3 272.6l10.7-14-5.6 1.9-10.7 14zM1209.1 308.3l11.3-14.2-6.5-7.3-11.2 14.2zM1092.3 266.6l10.6-13.3-5.4 3.3-10.6 13.3zM1231.3 310.8l11.3-13.7-6.7-8.4-11.3 13.6zM1091.6 261.3l10.5-12.7-5.4 4.2-10.5 12.6zM1253.6 315.9l11.3-13.1-6.8-9.5-11.3 13.1zM1095.8 254l10.5-12.1-5.4 4.7-10.5 12zM1095.1 252.4l10.4-11.4-5.3 5.6-10.4 11.4zM1292.6 322.8l11.3-12-6.9-11.2-11.3 11.9zM1099.3 247.5l10.4-10.8-5.3 6-10.3 10.8zM1309 323.1l11.3-10.8-7-12.3-11.3 10.8zM1103.5 243.6l10.3-10.2-5.2 6.4-10.3 10.2zM1107.7 240.6l10.3-9.6-5.2 6.9-10.3 9.6zM1111.8 238.5l10.2-9.1-5.2 7.3-10.2 9zM1351.8 318l11.2-9-7.1-13.3-11.2 8.9zM1583.2 280.7l9.7 5.9-7.3-12.7-9.7-6zM1584.8 275l9.6 6.5-7.3-12.1-9.6-6.5zM1591.1 262.2l9.3 8.6-7.2-10-9.3-8.6zM1592.6 260.8l9.3 9.7-7.2-8.8-9.3-9.7zM1587.3 253.3l9.2 10.2-7.1-7.8-9.2-10.2z"/>
<path fill="#95ff73" d="M1175.5 297l11.2-14.7-6.3-5.2-11.1 14.6zM1108.7 270.6l10.8-14.1-5.7 .9-10.8 14.1zM1103.5 271.4l10.8-14.1-5.6 1.4-10.7 14zM1203.1 301.5l11.2-14.2-6.5-6.8-11.2 14.1zM1102.5 261.9l10.7-13.4-5.6 2.4-10.7 13.4zM1097.4 264l10.7-13.4-5.5 2.8-10.6 13.3zM1225.1 303l11.3-13.6-6.6-7.8-11.3 13.6zM1096.6 257.8l10.6-12.7-5.4 3.8-10.5 12.7zM1247.4 307l11.3-13.1-6.7-8.9-11.3 13.1zM1269.9 313.6l11.3-12.5-6.8-10-11.3 12.5zM1100 247.7l10.5-11.4-5.3 5.2-10.4 11.4zM1286.2 312.4l11.3-11.9-6.9-10.6-11.3 11.9zM1104.2 242.3l10.4-10.8-5.3 5.6-10.4 10.8zM1302.5 312.2l11.3-10.8-7-11.7-11.3 10.7zM1318.9 313.1l11.3-10.2-7-12.3-11.3 10.1zM1335.3 315l11.3-9.6-7.1-12.8-11.3 9.5zM1574.6 275.7l9.8 5.4-7.3-12.7-9.8-5.4zM1586.5 270.3l9.6 7-7.2-11.6-9.6-7zM1588.1 266.6l9.5 7.6-7.2-11-9.5-7.6zM1589.6 263.9l9.4 8.1-7.2-10.5-9.4-8.1zM1585.9 252.6l9.3 9.7-7.1-8.3-9.3-9.7zM1580.8 246l9.2 10.2-7.1-7.3-9.2-10.1z"/>
<path fill="#9eff73" d="M1169.6 292.2l11.1-14.6-6.3-4.6-11.1 14.6zM1163.9 287.8l11.1-14.6-6.2-4.1-11.1 14.5zM1158.1 283.9l11.1-14.5-6.2-3.6-11.1 14.5zM1124.7 270.8l10.9-14.3-5.9-.5-10.9 14.2zM1119.3 270.3l10.9-14.2-5.8 0-10.8 14.2zM1114 270.2l10.8-14.2-5.7 .5-10.8 14.1zM1197.1 295.1l11.2-14.1-6.4-6.2-11.2 14.1zM1107.7 260.1l10.7-13.5-5.6 1.9-10.7 13.4zM1219 295.7l11.3-13.6-6.6-7.3-11.2 13.6zM1101.6 254.8l10.6-12.7-5.5 3.3-10.6 12.7zM1241.2 298.7l11.3-13.1-6.7-8.4-11.3 13zM1100.8 250.1l10.5-12.1-5.4 4.3-10.5 12.1zM1263.6 304.3l11.3-12.5-6.8-9.5-11.3 12.5zM1105 243.3l10.5-11.5-5.4 4.7-10.5 11.4zM1279.8 302.5l11.3-11.9-6.9-10-11.3 11.9zM1108.4 238l10.4-10.3-5.3 6-10.3 10.2zM1112.5 234.6l10.3-9.7-5.3 6.5-10.3 9.6zM1116.7 232.2l10.3-9.1-5.2 6.9-10.2 9.1zM1345.2 306.1l11.2-8.9-7.1-12.8-11.2 8.9zM1361.6 309.7l11.2-8.3-7.1-13.3-11.2 8.3zM1566 271.2l9.9 4.9-7.3-12.7-9.9-4.9zM1576.4 269.5l9.7 6-7.3-12.1-9.7-6zM1578.1 264.3l9.6 6.5-7.2-11.6-9.6-6.5zM1579.8 260.1l9.6 7-7.2-11-9.6-7zM1581.4 256.9l9.5 7.6-7.2-10.5-9.5-7.6zM1583 254.7l9.4 8.1-7.2-10-9.4-8.1zM1584.5 253.5l9.3 8.6-7.2-9.4-9.3-8.6zM1579.3 244.9l9.3 9.7-7.1-7.8-9.3-9.7zM1574.2 239.3l9.2 10.1-7.1-6.8-9.2-10.1z"/>
<path fill="#a6ff73" d="M1152.4 280.5l11.1-14.5-6.1-3.1-11 14.4zM1146.8 277.7l11-14.4-6.1-2.5-11 14.4zM1141.2 275.2l11-14.4-6-2-11 14.4zM1135.7 273.3l11-14.4-6-1.5-10.9 14.3zM1130.2 271.8l10.9-14.3-5.9-1-10.9 14.3zM1191.2 289.3l11.2-14.1-6.4-5.7-11.2 14.1zM1185.3 284l11.2-14.1-6.3-5.1-11.1 14zM1118.2 258l10.8-13.5-5.7 1-10.8 13.5zM1112.9 258.9l10.8-13.5-5.7 1.5-10.7 13.5zM1213 288.9l11.2-13.6-6.5-6.7-11.2 13.5zM1111.9 250l10.7-12.8-5.6 2.4-10.7 12.8zM1106.7 252.2l10.7-12.8-5.5 2.9-10.6 12.7zM1235 290.9l11.3-13-6.6-7.8-11.2 13zM1105.8 246.6l10.6-12.1-5.5 3.8-10.5 12.1zM1257.3 295.4l11.3-12.5-6.7-8.9-11.3 12.4zM1110 239.4l10.5-11.5-5.4 4.3-10.5 11.5zM1109.2 237.6l10.4-10.9-5.4 5.2-10.4 10.8zM1296.1 301.9l11.3-11.3-6.9-10.5-11.3 11.3zM1113.3 232.8l10.4-10.3-5.3 5.6-10.4 10.3zM1312.4 302.2l11.3-10.1-7-11.7-11.3 10.1zM1117.4 229l10.4-9.7-5.3 6.1-10.3 9.7zM1328.8 303.7l11.3-9.5-7-12.2-11.2 9.5zM1121.5 226.2l10.3-9.1-5.3 6.5-10.3 9.1zM1125.6 224.3l10.3-8.5-5.3 6.9-10.2 8.5zM1355 297.9l11.2-8.3-7.1-12.7-11.2 8.2zM1371.5 302l11.2-7.7-7.1-13.3-11.1 7.6zM1557.4 267.3l9.9 4.3-7.3-12.7-9.9-4.3zM1567.9 264.5l9.8 5.4-7.3-12.2-9.8-5.4zM1569.7 258.7l9.7 6-7.2-11.6-9.7-6zM1576.3 246l9.4 8.1-7.2-9.4-9.4-8.1zM1577.8 244.7l9.3 9.2-7.1-8.3-9.3-9.2zM1572.7 237.7l9.3 9.7-7.1-7.3-9.3-9.7zM1567.7 233l9.2 10.1-7-6.3-9.2-10.1z"/>
<path fill="#afff73" d="M1179.4 279.2l11.1-14-6.3-4.6-11.1 14zM1173.6 274.8l11.1-14-6.3-4.1-11.1 13.9zM1167.8 271l11.1-13.9-6.2-3.5-11 13.9zM1128.9 257.6l10.9-13.6-5.8 0-10.8 13.6zM1123.5 257.6l10.8-13.6-5.8 .5-10.8 13.5zM1206.9 282.6l11.2-13.5-6.5-6.2-11.2 13.5zM1117.1 248.2l10.7-12.9-5.6 2-10.7 12.8zM1228.9 283.6l11.2-13-6.6-7.2-11.2 12.9zM1110.9 243.5l10.6-12.2-5.5 3.4-10.6 12.1zM1251.1 287.2l11.3-12.4-6.7-8.3-11.2 12.4zM1273.5 293.2l11.3-11.9-6.8-9.4-11.3 11.8zM1114.1 233.2l10.5-10.9-5.4 4.8-10.4 10.9zM1289.7 292l11.3-11.3-6.9-10-11.2 11.2zM1118.3 228.1l10.4-10.3-5.4 5.2-10.4 10.3zM1306 291.9l11.3-10.1-6.9-11.1-11.2 10zM1322.3 292.8l11.2-9.5-7-11.6-11.2 9.4zM1338.7 294.8l11.2-8.9-7-12.2-11.2 8.8zM1134.6 217l10.2-8-5.3 6.9-10.2 7.9zM1381.2 294.8l11.1-7.1-7.2-13.2-11.1 7zM1548.7 263.8l10 3.8-7.3-12.8-10-3.8zM1559.3 260l9.9 4.9-7.3-12.2-9.9-4.9zM1571.4 254.1l9.6 6.5-7.2-11-9.6-6.5zM1573.1 250.4l9.6 7-7.2-10.5-9.6-7.1zM1574.7 247.7l9.5 7.6-7.2-10-9.5-7.6zM1571.2 237l9.3 9.2-7.1-7.8-9.3-9.2zM1566.2 230.9l9.3 9.7-7.1-6.8-9.3-9.7zM1561.1 227.2l9.2 10.1-7-5.8-9.2-10.1z"/>
<path fill="#b7ff73" d="M1162.1 267.7l11-13.9-6.1-3-11 13.8zM1156.5 264.8l11-13.8-6.1-2.5-11 13.8zM1150.8 262.4l11-13.8-6-2-11 13.8zM1145.3 260.5l11-13.8-6-1.5-10.9 13.7zM1139.7 259.1l10.9-13.7-5.9-1-10.9 13.7zM1134.3 258.1l10.9-13.7-5.9-.5-10.9 13.6zM1201 276.8l11.2-13.5-6.4-5.6-11.1 13.4zM1195 271.5l11.1-13.4-6.4-5.1-11.1 13.4zM1127.6 246l10.8-12.9-5.8 1-10.8 12.9zM1122.3 246.9l10.8-12.9-5.7 1.5-10.7 12.9zM1222.8 276.8l11.2-12.9-6.5-6.7-11.2 12.9zM1121.2 238.6l10.7-12.2-5.6 2.5-10.6 12.2zM1116 240.9l10.6-12.2-5.6 2.9-10.6 12.2zM1244.9 279.4l11.2-12.4-6.7-7.8-11.2 12.3zM1115 235.9l10.6-11.5-5.5 3.9-10.5 11.5zM1267.2 284.4l11.3-11.8-6.8-8.9-11.2 11.8zM1119.2 229.3l10.5-10.9-5.5 4.3-10.5 10.9zM1283.3 282.8l11.2-11.2-6.8-9.4-11.2 11.2zM1122.4 223.9l10.4-9.7-5.4 5.7-10.4 9.7zM1126.5 220.6l10.3-9.1-5.4 6.1-10.3 9.1zM1332.1 284l11.2-8.8-7-11.6-11.2 8.8zM1130.5 218.3l10.3-8.5-5.3 6.5-10.3 8.5zM1348.5 286.6l11.2-8.2-7.1-12.1-11.2 8.2zM1364.9 290.2l11.1-7.6-7.1-12.7-11.1 7.6zM1391 288.3l11.1-6.4-7.2-13.2-11.1 6.4zM1539.9 260.9l10.1 3.2-7.3-12.8-10.1-3.2zM1550.6 256l9.9 4.3-7.3-12.2-9.9-4.3zM1561.1 253.7l9.8 5.4-7.2-11.6-9.8-5.5zM1563 248.5l9.7 6-7.2-11.1-9.7-6zM1564.7 244.4l9.6 6.5-7.2-10.5-9.6-6.5zM1566.4 241.2l9.6 7.1-7.2-10-9.6-7.1zM1568.1 239l9.5 7.6-7.2-9.4-9.5-7.6zM1569.7 237.8l9.4 8.1-7.1-8.9-9.4-8.1zM1564.6 229.7l9.3 9.2-7.1-7.3-9.3-9.2zM1559.6 224.6l9.3 9.7-7-6.3-9.3-9.6zM1554.6 221.8l9.2 10.1-7-5.3-9.2-10.1zM1548.2 216.9l9.2 10.1-7-4.8-9.2-10.1z"/>
<path fill="#c0ff73" d="M1189.2 266.7l11.1-13.4-6.3-4.6-11.1 13.3zM1183.3 262.4l11.1-13.3-6.3-4-11.1 13.3zM1138.4 245.6l10.8-13-5.9 .1-10.8 13zM1133 245.6l10.8-13-5.8 .5-10.8 12.9zM1216.8 270.6l11.2-12.9-6.5-6.1-11.2 12.8zM1126.4 236.8l10.7-12.3-5.7 2-10.7 12.2zM1238.7 272.1l11.2-12.3-6.6-7.2-11.2 12.3zM1125.3 230.1l10.6-11.6-5.6 3-10.6 11.6zM1120.2 232.8l10.6-11.6-5.6 3.4-10.6 11.5zM1260.9 276.2l11.2-11.8-6.7-8.3-11.2 11.8zM1124.3 225.7l10.5-11-5.5 3.9-10.5 10.9zM1123.3 223.7l10.5-10.3-5.5 4.8-10.4 10.3zM1299.6 282.1l11.2-10.6-6.9-9.9-11.2 10.6zM1127.4 219l10.4-9.7-5.4 5.2-10.4 9.7zM1315.8 282.6l11.2-9.4-7-11.1-11.2 9.4zM1131.4 215.4l10.4-9.1-5.4 5.7-10.3 9.1zM1135.5 212.7l10.3-8.6-5.4 6.1-10.3 8.5zM1139.5 211l10.3-8-5.4 6.5-10.2 8zM1358.3 278.9l11.1-7.6-7.1-12.1-11.1 7.6zM1374.6 283.1l11.1-7-7.1-12.7-11.1 7zM1384.4 276.5l11.1-6.4-7.1-12.6-11 6.4zM1400.7 282.3l11-5.8-7.2-13.2-11 5.8zM1410.3 276.9l11-5.2-7.2-13.1-11 5.1zM1531 258.4l10.2 2.6-7.3-12.8-10.2-2.7zM1541.9 252.5l10 3.8-7.3-12.2-10-3.8zM1552.6 249.2l9.9 4.9-7.2-11.6-9.9-4.9zM1554.4 243.5l9.8 5.5-7.2-11.1-9.8-5.5zM1561.4 230.8l9.5 7.6-7.1-8.9-9.5-7.6zM1563.1 229.5l9.4 8.7-7.1-7.8-9.4-8.7zM1558.1 223l9.3 9.2-7.1-6.8-9.3-9.2zM1553.1 218.8l9.3 9.6-7-5.8-9.3-9.6zM1541.7 212.5l9.2 10.1-6.9-4.3-9.2-10.1z"/>
<path fill="#c8ff73" d="M1177.5 258.6l11.1-13.3-6.2-3.5-11 13.3zM1171.8 255.3l11-13.3-6.2-3-11 13.2zM1166.1 252.5l11-13.2-6.1-2.5-11 13.2zM1160.5 250.2l11-13.2-6.1-1.9-10.9 13.1zM1154.9 248.3l10.9-13.1-6-1.4-10.9 13.1zM1149.3 246.9l10.9-13.1-6-.9-10.9 13.1zM1143.8 246l10.9-13.1-5.9-.4-10.8 13zM1210.8 264.8l11.2-12.8-6.5-5.6-11.1 12.8zM1204.8 259.6l11.1-12.8-6.4-5.1-11.1 12.8zM1137 234.5l10.8-12.3-5.8 1.1-10.7 12.3zM1131.7 235.5l10.7-12.3-5.7 1.5-10.7 12.3zM1232.6 265.4l11.2-12.3-6.6-6.7-11.2 12.3zM1130.5 227.8l10.7-11.6-5.7 2.5-10.6 11.6zM1254.7 268.4l11.2-11.8-6.7-7.7-11.2 11.7zM1129.4 222.6l10.6-11-5.6 3.4-10.5 11zM1277 274l11.2-11.2-6.8-8.8-11.2 11.2zM1128.4 219.7l10.5-10.4-5.5 4.3-10.5 10.3zM1293.2 272.9l11.2-10.6-6.9-9.4-11.2 10.6zM1132.4 214.6l10.5-9.8-5.5 4.8-10.4 9.7zM1309.4 272.8l11.2-9.4-6.9-10.5-11.2 9.4zM1325.7 273.8l11.2-8.8-7-11-11.2 8.8zM1342 275.8l11.2-8.2-7-11.6-11.1 8.2zM1144.5 205.3l10.3-8-5.4 6.1-10.3 8zM1148.4 204.1l10.2-7.4-5.4 6.5-10.2 7.4zM1368 271.8l11.1-7-7.1-12.1-11.1 6.9zM1394 270.6l11-5.8-7.2-12.6-11 5.7zM1419.9 272.1l10.9-4.5-7.2-13.1-10.9 4.5zM1429.5 267.9l10.9-3.9-7.2-13.1-10.9 3.9zM1513.1 255.2l10.3 1.5-7.3-12.8-10.3-1.5zM1522.1 256.6l10.2 2.1-7.3-12.8-10.2-2.1zM1533.1 249.5l10.1 3.2-7.3-12.2-10.1-3.2zM1543.9 245.2l9.9 4.3-7.2-11.6-9.9-4.4zM1545.8 239l9.9 4.9-7.2-11.1-9.9-4.9zM1556.3 238.8l9.7 6-7.2-10.5-9.7-6zM1558 235.2l9.6 6.5-7.2-10-9.6-6.5zM1559.8 232.5l9.6 7.1-7.2-9.4-9.6-7.1zM1554.8 223.1l9.5 7.6-7.1-8.4-9.5-7.6zM1556.5 222.3l9.4 8.7-7.1-7.3-9.4-8.7zM1551.5 216.7l9.3 9.2-7-6.3-9.3-9.2zM1546.6 213.5l9.3 9.6-7-5.3-9.3-9.6zM1540.2 208.6l9.3 9.6-7-4.8-9.3-9.6z"/>
<path fill="#d1ff73" d="M1198.9 254.8l11.1-12.8-6.4-4.5-11.1 12.7zM1193 250.6l11.1-12.7-6.3-4-11 12.7zM1187.2 246.9l11-12.7-6.3-3.5-11 12.7zM1147.8 234l10.8-12.4-5.9 .1-10.8 12.4zM1142.4 234.1l10.8-12.4-5.8 .6-10.8 12.3zM1226.6 259.2l11.2-12.3-6.5-6.1-11.1 12.2zM1135.8 226l10.7-11.7-5.7 2-10.7 11.6zM1248.5 261.2l11.2-11.7-6.6-7.2-11.2 11.7zM1134.6 219.9l10.6-11-5.6 3-10.6 11zM1270.8 265.8l11.2-11.2-6.8-8.3-11.2 11.1zM1133.5 216.1l10.5-10.4-5.6 3.9-10.5 10.4zM1286.9 264.2l11.2-10.6-6.8-8.8-11.2 10.5zM1303 263.6l11.2-10-6.9-9.3-11.2 9.3zM1136.5 210.6l10.4-9.2-5.5 5.3-10.4 9.1zM1319.2 264.1l11.2-8.8-6.9-10.5-11.1 8.7zM1140.5 207.5l10.4-8.6-5.4 5.7-10.3 8.6zM1335.5 265.6l11.1-8.2-7-11-11.1 8.1zM1351.7 268.2l11.1-7.6-7-11.5-11.1 7.5zM1157.4 197.2l10.2-6.3-5.4 7.1-10.2 6.2zM1377.8 265.4l11-6.4-7.1-12-11 6.3zM1403.7 265.2l11-5.1-7.2-12.6-10.9 5.1zM1439 264.2l10.8-3.3-7.2-13-10.8 3.3zM1448.5 261.1l10.8-2.7-7.2-13-10.7 2.7zM1457.9 258.6l10.7-2.1-7.2-13-10.7 2.1zM1467.2 256.7l10.6-1.5-7.3-13-10.6 1.5zM1476.5 255.3l10.6-.9-7.3-12.9-10.6 .9zM1485.7 254.4l10.5-.3-7.3-12.9-10.5 .3zM1494.9 254.1l10.4 .3-7.3-12.9-10.4-.3zM1504 254.4l10.4 .9-7.3-12.9-10.4-.9zM1515.3 245.2l10.2 2.1-7.3-12.3-10.2-2.1zM1524.3 247.1l10.2 2.7-7.3-12.2-10.2-2.7zM1535.2 241.7l10 3.8-7.2-11.6-10-3.8zM1547.7 233.8l9.8 5.5-7.2-10.5-9.8-5.5zM1549.6 229.6l9.7 6-7.2-10-9.7-6zM1551.4 226.5l9.6 6.5-7.2-9.4-9.6-6.5zM1553.1 224.3l9.6 7.1-7.1-8.9-9.6-7.1zM1548.2 215.3l9.5 8.2-7.1-7.3-9.5-8.2zM1549.9 215.5l9.4 8.7-7.1-6.8-9.4-8.7zM1545 210.9l9.3 9.2-7-5.8-9.3-9.1zM1538.5 205.6l9.3 9.1-7-5.3-9.3-9.1zM1533.7 204.2l9.3 9.6-6.9-4.3-9.3-9.6zM1527.3 200.2l9.3 9.6-6.9-3.8-9.2-9.6z"/>
<path fill="#d9ff73" d="M1181.5 243.6l11-12.7-6.2-2.9-11 12.6zM1175.7 240.8l11-12.6-6.2-2.4-11 12.6zM1170.1 238.5l11-12.6-6.1-1.9-10.9 12.5zM1164.4 236.7l10.9-12.5-6.1-1.4-10.9 12.5zM1158.9 235.3l10.9-12.5-6-.9-10.9 12.5zM1153.3 234.5l10.9-12.5-5.9-.4-10.8 12.4zM1220.5 253.5l11.1-12.2-6.5-5.6-11.1 12.2zM1214.6 248.3l11.1-12.2-6.4-5-11.1 12.1zM1146.5 223.6l10.8-11.8-5.8 1.1-10.7 11.7zM1141.1 224.6l10.7-11.7-5.8 1.6-10.7 11.7zM1242.4 254.5l11.2-11.7-6.6-6.6-11.1 11.6zM1139.8 217.6l10.6-11.1-5.7 2.5-10.6 11zM1264.5 258.1l11.2-11.1-6.7-7.7-11.2 11.1zM1138.7 212.9l10.6-10.4-5.6 3.5-10.5 10.4zM1280.6 256l11.2-10.5-6.8-8.2-11.1 10.5zM1137.5 210.6l10.5-9.8-5.5 4.4-10.5 9.8zM1296.7 254.9l11.2-9.9-6.8-8.7-11.1 9.9zM1141.6 206.1l10.4-9.2-5.5 4.8-10.4 9.2zM1145.6 202.6l10.4-8.6-5.5 5.3-10.4 8.6zM1149.5 200.1l10.3-8-5.5 5.7-10.3 8zM1345.2 258l11.1-7.5-7-11-11.1 7.5zM1153.5 198.5l10.3-7.4-5.5 6.1-10.2 7.4zM1361.5 261.2l11.1-6.9-7.1-11.5-11.1 6.9zM1387.4 259.4l11-5.7-7.1-12-11 5.7zM1413.3 260.5l10.9-4.5-7.2-12.5-10.9 4.5zM1422.8 256.3l10.9-3.9-7.2-12.5-10.8 3.9zM1497.3 243l10.4 .9-7.3-12.3-10.4-.9zM1506.3 243.8l10.3 1.5-7.3-12.3-10.3-1.5zM1517.5 236.3l10.2 2.7-7.2-11.7-10.2-2.7zM1526.4 238.7l10.1 3.2-7.2-11.7-10.1-3.3zM1528.5 231.5l10 3.8-7.2-11.1-10-3.8zM1537.2 235l9.9 4.4-7.2-11.1-9.9-4.4zM1539.2 229.2l9.9 4.9-7.2-10.5-9.9-4.9zM1541.1 224.6l9.8 5.5-7.2-10-9.8-5.5zM1542.9 220.9l9.7 6-7.2-9.4-9.7-6zM1544.8 218.3l9.6 6.5-7.1-8.9-9.6-6.5zM1546.5 216.6l9.6 7.1-7.1-8.4-9.6-7.1zM1541.7 208.5l9.5 8.2-7.1-6.8-9.5-8.2zM1543.4 209.3l9.4 8.7-7-6.2-9.4-8.7zM1536.9 203.5l9.4 8.7-7-5.7-9.4-8.6zM1532.1 200.7l9.3 9.1-7-4.8-9.3-9.1z"/>
<path fill="#e2ff73" d="M1208.6 243.6l11.1-12.1-6.4-4.5-11.1 12.1zM1202.7 239.3l11.1-12.1-6.3-4-11 12.1zM1196.9 235.6l11-12.1-6.3-3.4-11 12zM1162.8 223.5l10.9-11.9-6-.4-10.8 11.8zM1157.3 223.1l10.8-11.8-5.9 .1-10.8 11.8zM1151.9 223.1l10.8-11.8-5.9 .6-10.8 11.8zM1236.3 248.3l11.1-11.6-6.6-6.1-11.1 11.6zM1230.3 242.7l11.1-11.6-6.5-5.5-11.1 11.6zM1150.5 214.3l10.7-11.1-5.8 1.6-10.7 11.1zM1145.1 215.7l10.7-11.1-5.7 2.1-10.6 11.1zM1258.3 250.9l11.2-11.1-6.7-7.1-11.1 11zM1252.2 244.3l11.1-11-6.6-6.6-11.1 11zM1143.9 210.2l10.6-10.4-5.7 3-10.6 10.4zM1274.3 248.3l11.1-10.5-6.7-7.7-11.1 10.5zM1142.7 207l10.5-9.8-5.6 3.9-10.5 9.8zM1146.7 202.1l10.5-9.2-5.6 4.4-10.4 9.2zM1312.8 254.9l11.1-8.7-6.9-9.9-11.1 8.7zM1150.7 198.2l10.4-8.6-5.6 4.8-10.4 8.6zM1329 255.9l11.1-8.1-7-10.4-11.1 8.1zM1154.6 195.2l10.4-8-5.5 5.3-10.3 8zM1158.5 193.2l10.3-7.4-5.5 5.7-10.3 7.4zM1355 251l11.1-6.9-7-10.9-11 6.9zM1162.4 192.1l10.3-6.9-5.5 6.1-10.2 6.9zM1371.2 254.7l11-6.3-7.1-11.5-11 6.3zM1397.1 254.1l10.9-5.1-7.1-12-10.9 5.1zM1406.6 249.4l10.9-4.5-7.1-12-10.9 4.5zM1432.3 252.6l10.8-3.3-7.2-12.5-10.8 3.2zM1441.8 249.6l10.7-2.7-7.2-12.4-10.7 2.6zM1451.2 247.1l10.7-2.1-7.2-12.4-10.7 2zM1460.5 245.2l10.6-1.5-7.2-12.4-10.6 1.4zM1469.8 243.8l10.6-.9-7.2-12.4-10.6 .8zM1479 243l10.5-.3-7.2-12.3-10.5 .2zM1488.2 242.7l10.4 .3-7.2-12.3-10.4-.4zM1508.6 234.4l10.2 2.1-7.2-11.7-10.2-2.1zM1519.7 228.5l10.1 3.3-7.2-11.1-10.1-3.3zM1530.5 225.2l9.9 4.4-7.2-10.5-9.9-4.4zM1532.5 220l9.9 4.9-7.2-10-9.9-4.9zM1538.2 210.5l9.6 6.5-7.1-8.4-9.6-6.5zM1539.9 209.4l9.6 7.1-7.1-7.9-9.6-7.1zM1535.1 202.3l9.5 8.2-7-6.2-9.5-8.2zM1530.4 198.1l9.4 8.6-7-5.2-9.4-8.6zM1525.6 196.3l9.3 9.1-6.9-4.3-9.3-9.1zM1519.2 192.4l9.3 9.1-6.9-3.8-9.3-9.1zM1512.9 188.9l9.3 9.1-6.9-3.3-9.3-9z"/>
<path fill="#eaff73" d="M1191.1 232.4l11-12-6.2-2.9-11 12zM1185.4 229.7l11-12-6.2-2.4-10.9 12zM1179.7 227.4l10.9-12-6.1-1.9-10.9 11.9zM1174 225.6l10.9-11.9-6.1-1.4-10.9 11.9zM1168.4 224.3l10.9-11.9-6-.9-10.9 11.9zM1224.3 237.5l11.1-11.6-6.5-5-11.1 11.5zM1218.3 232.8l11.1-11.5-6.4-4.4-11 11.5zM1155.9 213.3l10.7-11.2-5.9 1.1-10.7 11.1zM1246.1 238.1l11.1-11-6.6-6-11.1 11zM1149.1 207.9l10.6-10.5-5.7 2.6-10.6 10.4zM1268.1 241.2l11.1-10.5-6.7-7.1-11.1 10.4zM1147.9 203.8l10.6-9.8-5.6 3.5-10.5 9.8zM1290.4 246.8l11.1-9.9-6.8-8.2-11.1 9.9zM1151.9 198.5l10.5-9.2-5.6 4-10.5 9.2zM1306.5 246.3l11.1-8.7-6.9-9.3-11.1 8.7zM1155.8 194.1l10.4-8.6-5.6 4.4-10.4 8.6zM1322.6 246.8l11.1-8.1-6.9-9.8-11.1 8.1zM1159.8 190.7l10.4-8-5.6 4.9-10.4 8zM1338.8 248.4l11.1-7.5-7-10.4-11.1 7.5zM1163.7 188.3l10.3-7.5-5.6 5.3-10.3 7.4zM1167.5 186.8l10.3-6.9-5.5 5.7-10.3 6.9zM1364.7 244.6l11-6.3-7-10.9-11 6.3zM1171.4 185.7l10.2-5.7-5.5 6.7-10.2 5.7zM1380.8 248.8l11-5.7-7.1-11.4-11 5.7zM1390.5 243.5l10.9-5.1-7.1-11.4-10.9 5zM1416.2 245.2l10.8-3.9-7.2-11.9-10.8 3.8zM1425.7 241.6l10.8-3.2-7.2-11.9-10.8 3.2zM1435.1 238.6l10.7-2.6-7.2-11.9-10.7 2.6zM1481.5 231.8l10.4 .4-7.2-11.8-10.4-.4zM1490.6 232.1l10.4 .9-7.2-11.7-10.4-1zM1499.6 233l10.3 1.5-7.2-11.7-10.3-1.5zM1510.8 226l10.2 2.7-7.2-11.1-10.2-2.7zM1521.8 221.7l10 3.8-7.2-10.6-10-3.8zM1523.8 216l9.9 4.4-7.2-10-9.9-4.4zM1534.4 215.9l9.8 5.5-7.2-9.4-9.8-5.5zM1536.3 212.7l9.7 6-7.1-8.9-9.7-6zM1531.6 203.3l9.6 6.5-7.1-7.9-9.6-6.5zM1533.4 202l9.6 7.7-7.1-6.7-9.6-7.7zM1528.6 196.5l9.5 8.2-7-5.7-9.5-8.1zM1523.9 193.3l9.4 8.6-6.9-4.7-9.4-8.6zM1517.5 188.9l9.4 8.6-6.9-4.2-9.4-8.6z"/>
<path fill="#f3ff73" d="M1212.4 228.7l11-11.5-6.4-3.9-11 11.5zM1206.6 225l11-11.5-6.3-3.4-11 11.4zM1200.7 221.8l11-11.4-6.3-2.9-10.9 11.4zM1195 219.1l10.9-11.4-6.2-2.3-10.9 11.4zM1177.9 213.8l10.9-11.3-6.1-.8-10.8 11.3zM1172.3 213l10.8-11.3-6-.3-10.8 11.2zM1166.8 212.7l10.8-11.2-6 .2-10.8 11.2zM1161.3 212.7l10.8-11.2-5.9 .6-10.7 11.2zM1240 232.5l11.1-11-6.5-5.5-11.1 10.9zM1159.8 204.5l10.7-10.5-5.8 1.6-10.7 10.5zM1154.5 206l10.7-10.5-5.8 2.1-10.6 10.5zM1261.9 234.6l11.1-10.4-6.6-6.5-11.1 10.4zM1158.4 198.7l10.6-9.9-5.8 2.6-10.6 9.9zM1153.1 201.1l10.6-9.9-5.7 3-10.6 9.8zM1284.1 239.1l11.1-9.9-6.8-7.6-11.1 9.8zM1157.1 195.3l10.5-9.2-5.7 3.5-10.5 9.2zM1300.1 238.1l11.1-9.3-6.8-8.2-11.1 9.2zM1161 190.5l10.5-8.6-5.7 4-10.4 8.6zM1316.2 238.2l11.1-8.1-6.9-9.3-11.1 8zM1332.3 239.3l11.1-7.5-6.9-9.8-11 7.4zM1348.5 241.4l11-6.9-7-10.4-11 6.9zM1172.7 181.9l10.3-6.9-5.6 5.3-10.3 6.9zM1176.5 180.4l10.3-5.7-5.6 6.3-10.2 5.7zM1374.3 238.7l11-5.7-7.1-10.9-11 5.6zM1400 238.8l10.9-4.5-7.1-11.4-10.9 4.4zM1409.6 234.7l10.8-3.8-7.1-11.4-10.8 3.8zM1444.5 236.1l10.7-2-7.2-11.8-10.7 2zM1453.8 234.2l10.6-1.4-7.2-11.8-10.6 1.4zM1463.1 232.9l10.6-.8-7.2-11.8-10.5 .8zM1472.3 232.1l10.5-.2-7.2-11.8-10.5 .2zM1492.9 222.6l10.3 1.5-7.2-11.2-10.3-1.6zM1501.9 224.1l10.2 2.1-7.2-11.1-10.2-2.1zM1513 218.7l10.1 3.3-7.2-10.6-10.1-3.3zM1515.1 212.5l10 3.8-7.2-10-10-3.8zM1525.8 211.3l9.9 4.9-7.2-9.4-9.9-4.9zM1527.8 207.6l9.8 5.5-7.1-8.9-9.8-5.5zM1529.7 205l9.7 6-7.1-8.4-9.7-6zM1525 196.6l9.6 6.5-7.1-7.3-9.6-6.5zM1526.9 195.8l9.6 7.7-7-6.2-9.6-7.6zM1522.2 191.2l9.5 8.1-7-5.2-9.5-8.1zM1515.7 186.3l9.5 8.1-6.9-4.7-9.5-8.1zM1511.1 185l9.4 8.6-6.9-3.8-9.4-8.6zM1504.7 181.5l9.4 8.6-6.9-3.3-9.4-8.6zM1498.4 178.5l9.4 8.6-6.8-2.8-9.4-8.5z"/>
<path fill="#fcff73" d="M1189.2 216.9l10.9-11.4-6.2-1.8-10.9 11.3zM1183.6 215.1l10.9-11.3-6.1-1.3-10.9 11.3zM1234 227.3l11.1-10.9-6.5-4.9-11 10.9zM1228 222.7l11-10.9-6.4-4.4-11 10.9zM1222.1 218.6l11-10.9-6.4-3.9-11 10.8zM1170.7 202.9l10.8-10.6-5.9 .7-10.7 10.6zM1165.3 203.5l10.7-10.6-5.9 1.2-10.7 10.5zM1255.8 228.4l11.1-10.4-6.6-6-11.1 10.4zM1249.7 222.8l11.1-10.4-6.6-5.5-11 10.3zM1163.8 196.8l10.6-9.9-5.8 2.1-10.6 9.9zM1277.9 232l11.1-9.8-6.7-7.1-11.1 9.8zM1271.7 225.4l11.1-9.8-6.7-6.5-11.1 9.8zM1162.4 192.5l10.6-9.3-5.7 3.1-10.5 9.2zM1293.8 230.5l11.1-9.2-6.8-7.6-11.1 9.2zM1166.3 187.2l10.5-8.7-5.7 3.5-10.5 8.6zM1309.9 230.1l11.1-8-6.8-8.7-11 8zM1164.9 186.7l10.4-8.1-5.6 4.4-10.4 8zM1325.9 230.7l11-7.4-6.9-9.3-11 7.4zM1168.8 183.8l10.4-7.5-5.6 4.9-10.3 7.5zM1342 232.3l11-6.9-6.9-9.8-11 6.8zM1358.1 235l11-6.3-7-10.3-11 6.2zM1181.7 176.1l10.3-6.3-5.6 5.3-10.3 6.3zM1367.8 229.2l11-5.6-7-10.3-10.9 5.6zM1185.5 175.1l10.2-5.2-5.6 6.3-10.2 5.1zM1383.9 233.5l10.9-5-7.1-10.8-10.9 5zM1393.5 228.8l10.9-4.4-7.1-10.8-10.9 4.4zM1419 231.1l10.8-3.2-7.1-11.3-10.8 3.2zM1428.5 228.1l10.7-2.6-7.1-11.3-10.7 2.6zM1437.8 225.6l10.7-2-7.2-11.3-10.7 2zM1447.2 223.8l10.6-1.4-7.2-11.3-10.6 1.4zM1456.4 222.4l10.5-.8-7.2-11.2-10.5 .8zM1465.6 221.7l10.5-.2-7.2-11.2-10.5 .2zM1474.8 221.5l10.4 .4-7.2-11.2-10.4-.4zM1483.9 221.8l10.4 1-7.2-11.2-10.4-1zM1495.2 214.3l10.2 2.1-7.2-10.6-10.2-2.1zM1504.2 216.2l10.2 2.7-7.2-10.6-10.1-2.7zM1506.3 209.4l10.1 3.3-7.2-10-10.1-3.3zM1517.2 207.3l9.9 4.4-7.1-9.5-9.9-4.4zM1519.2 203.1l9.9 4.9-7.1-8.9-9.9-5zM1521.2 199.9l9.8 5.5-7.1-8.4-9.8-5.5zM1523.1 197.8l9.7 6-7.1-7.9-9.7-6zM1518.5 189.7l9.6 7.1-7-6.2-9.6-7.1zM1520.3 190l9.6 7.6-7-5.7-9.5-7.6zM1513.9 184.7l9.5 7.6-7-5.2-9.5-7.6zM1509.3 182l9.5 8.1-6.9-4.2-9.5-8.1zM1502.9 178l9.5 8.1-6.9-3.7-9.5-8.1z"/>
<path fill="#fffa73" d="M1216.2 214.9l11-10.8-6.3-3.4-11 10.8zM1210.3 211.7l11-10.8-6.3-2.8-10.9 10.8zM1204.5 209.1l10.9-10.8-6.2-2.3-10.9 10.7zM1198.8 206.9l10.9-10.7-6.2-1.8-10.9 10.7zM1193.1 205.2l10.9-10.7-6.1-1.3-10.8 10.7zM1187.4 203.9l10.8-10.7-6.1-.8-10.8 10.6zM1181.8 203.1l10.8-10.6-6-.3-10.8 10.6zM1176.2 202.8l10.8-10.6-6 .2-10.8 10.6zM1243.7 217.7l11-10.3-6.5-4.9-11 10.3zM1174.6 194.3l10.7-10-5.9 1.2-10.7 9.9zM1169.2 195.3l10.7-9.9-5.9 1.7-10.6 9.9zM1265.5 219.3l11.1-9.8-6.6-6-11 9.7zM1167.7 190.1l10.6-9.3-5.8 2.6-10.6 9.3zM1287.6 223.5l11.1-9.2-6.7-7-11 9.2zM1171.6 184.4l10.5-8.7-5.8 3.1-10.5 8.7zM1303.6 222.5l11-8.6-6.8-7.6-11 8.6zM1170.2 183l10.5-8.1-5.7 4-10.4 8.1zM1319.6 222.6l11-7.4-6.9-8.7-11 7.4zM1174 179.7l10.4-7.5-5.7 4.4-10.4 7.5zM1335.6 223.8l11-6.8-6.9-9.2-11 6.8zM1177.9 177.4l10.4-6.9-5.6 4.9-10.3 6.9zM1351.7 225.9l11-6.2-7-9.8-11 6.2zM1190.7 170.2l10.3-5.2-5.7 5.9-10.2 5.2zM1377.4 223.9l10.9-5-7-10.3-10.9 5zM1194.4 170.3l10.2-4.6-5.6 6.3-10.2 4.6zM1403 224.7l10.8-3.8-7.1-10.8-10.8 3.8zM1412.4 221.1l10.8-3.2-7.1-10.8-10.8 3.2zM1468.2 211.6l10.4 .4-7.2-10.6-10.4-.4zM1477.2 211.9l10.4 1-7.2-10.6-10.3-1zM1486.3 212.8l10.3 1.6-7.2-10.6-10.3-1.6zM1497.5 206.9l10.1 2.7-7.2-10-10.1-2.7zM1508.5 203.7l10 3.8-7.1-9.5-10-3.9zM1510.6 199l9.9 4.4-7.1-8.9-9.9-4.4zM1512.6 195.4l9.9 5-7.1-8.4-9.9-5zM1514.6 192.7l9.8 5.5-7.1-7.9-9.8-5.5zM1516.6 191l9.7 6-7.1-7.3-9.7-6zM1512 184l9.6 7.1-7-5.7-9.6-7.1zM1507.4 179.8l9.5 7.6-6.9-4.7-9.5-7.6zM1496.5 174.6l9.5 8.1-6.9-3.2-9.5-8.1zM1490.2 171.6l9.5 8.1-6.8-2.8-9.4-8zM1483.9 169l9.4 8-6.8-2.3-9.4-8z"/>
<path fill="#fff173" d="M1237.7 213.1l11-10.3-6.5-4.4-11 10.3zM1231.7 209l11-10.3-6.4-3.8-11 10.2zM1225.8 205.4l11-10.2-6.4-3.3-10.9 10.2zM1191.3 193.8l10.8-10-6.1-.3-10.8 10zM1185.7 193.5l10.8-10-6 .2-10.7 10zM1180.1 193.7l10.7-10-6 .7-10.7 10zM1259.4 213.8l11-9.7-6.6-5.4-11 9.7zM1178.5 186.6l10.7-9.3-5.9 1.7-10.6 9.3zM1173.1 188.2l10.6-9.3-5.8 2.1-10.6 9.3zM1281.4 216.9l11-9.2-6.7-6.5-11 9.1zM1177 182l10.6-8.7-5.8 2.6-10.5 8.7zM1297.3 215.5l11-8.6-6.8-7-11 8.6zM1175.5 179.7l10.5-8.1-5.7 3.6-10.5 8.1zM1313.2 215.1l11-7.4-6.8-8.1-11 7.4zM1179.3 176.1l10.4-7.5-5.7 4-10.4 7.5zM1329.2 215.7l11-6.8-6.9-8.7-11 6.8zM1183.1 173.3l10.4-6.9-5.7 4.5-10.4 6.9zM1345.2 217.4l11-6.2-6.9-9.2-10.9 6.2zM1186.9 171.6l10.3-6.3-5.7 4.9-10.3 6.3zM1361.3 220.2l10.9-5.6-7-9.7-10.9 5.6zM1195.9 166.3l10.3-5.8-5.7 4.9-10.3 5.8zM1370.9 214.9l10.9-5-7-9.7-10.9 5zM1199.6 165.4l10.2-4.6-5.7 5.9-10.2 4.6zM1386.9 219.3l10.9-4.4-7-10.2-10.8 4.4zM1396.4 215.2l10.8-3.8-7.1-10.2-10.8 3.8zM1421.9 218.1l10.7-2.6-7.1-10.7-10.7 2.6zM1431.2 215.7l10.7-2-7.1-10.7-10.6 2zM1440.5 213.8l10.6-1.4-7.1-10.7-10.6 1.4zM1449.8 212.5l10.5-.8-7.1-10.7-10.5 .8zM1459 211.8l10.5-.2-7.2-10.7-10.5 .2zM1479.6 203.5l10.3 1.6-7.1-10.1-10.3-1.6zM1488.6 205l10.2 2.1-7.2-10-10.2-2.2zM1490.9 198.2l10.1 2.7-7.1-9.5-10.1-2.7zM1499.7 200.7l10.1 3.3-7.1-9.5-10.1-3.3zM1501.9 195.5l10 3.9-7.1-8.9-10-3.9zM1504 191.3l9.9 4.4-7.1-8.4-9.9-4.4zM1506.1 188.1l9.9 5-7.1-7.9-9.8-5zM1508.1 186l9.8 5.5-7-7.3-9.8-5.5zM1510.1 184.8l9.7 6-7-6.8-9.7-6zM1503.6 178.4l9.7 6.6-7-5.7-9.7-6.6zM1505.5 178.7l9.6 7.1-7-5.2-9.6-7.1zM1499.1 173.8l9.6 7.1-6.9-4.7-9.6-7.1zM1501 175.5l9.5 7.6-6.9-4.2-9.5-7.6zM1494.6 171.6l9.5 7.6-6.9-3.7-9.5-7.6zM1488.2 168.1l9.5 7.6-6.8-3.2-9.5-7.6z"/>
<path fill="#ffe973" d="M1219.9 202.3l10.9-10.2-6.3-2.8-10.9 10.2zM1214.1 199.6l10.9-10.2-6.3-2.3-10.9 10.1zM1208.3 197.5l10.9-10.1-6.2-1.8-10.8 10.1zM1202.6 195.8l10.8-10.1-6.2-1.3-10.8 10.1zM1196.9 194.6l10.8-10.1-6.1-.8-10.8 10zM1253.3 208.7l11-9.7-6.5-4.9-11 9.7zM1247.3 204.1l11-9.7-6.5-4.4-11 9.6zM1241.3 200l11-9.6-6.4-3.8-10.9 9.6zM1189.5 184.9l10.7-9.4-6 .7-10.7 9.4zM1184 185.6l10.7-9.4-5.9 1.2-10.7 9.3zM1275.2 210.8l11-9.1-6.6-5.9-11 9.1zM1269.1 205.3l11-9.1-6.6-5.4-11 9.1zM1182.4 180.1l10.6-8.7-5.9 2.2-10.6 8.7zM1291 208.9l11-8.6-6.7-6.5-11 8.5zM1186.2 174.5l10.5-8.1-5.8 2.6-10.5 8.1zM1180.8 176.9l10.5-8.1-5.8 3.1-10.5 8.1zM1306.9 208.1l11-8-6.8-7-11 7.9zM1184.6 172.8l10.5-7.5-5.8 3.6-10.4 7.5zM1322.9 208.2l11-6.8-6.8-8.1-11 6.7zM1188.4 169.7l10.4-6.9-5.7 4-10.4 6.9zM1338.8 209.4l10.9-6.2-6.9-8.6-10.9 6.1zM1192.2 167.5l10.4-6.3-5.7 4.5-10.3 6.3zM1354.8 211.7l10.9-5.6-6.9-9.2-10.9 5.6zM1204.9 160.9l10.3-4.6-5.7 5.5-10.2 4.6zM1380.4 210.3l10.8-4.4-7-9.7-10.8 4.3zM1208.5 161.1l10.2-4-5.7 5.9-10.2 4zM1405.9 211.7l10.8-3.2-7.1-10.2-10.7 3.1zM1415.3 208.7l10.7-2.6-7.1-10.2-10.7 2.5zM1424.6 206.3l10.6-2-7.1-10.2-10.6 1.9zM1433.9 204.5l10.6-1.4-7.1-10.1-10.6 1.3zM1443.2 203.2l10.5-.8-7.1-10.1-10.5 .7zM1452.4 202.4l10.5-.2-7.1-10.1-10.5 .2zM1461.5 202.3l10.4 .4-7.1-10.1-10.4-.4zM1470.6 202.6l10.3 1-7.1-10.1-10.3-1zM1473 194.7l10.3 1.6-7.1-9.5-10.3-1.6zM1482 196.2l10.2 2.2-7.1-9.5-10.2-2.2zM1493.1 192.4l10.1 3.3-7.1-8.9-10.1-3.3zM1495.3 187.7l10 3.9-7.1-8.4-10-3.9zM1497.4 184.1l9.9 4.4-7.1-7.9-9.9-4.4zM1499.5 181.4l9.8 5-7-7.3-9.8-5zM1501.6 179.7l9.8 5.5-7-6.8-9.8-5.5zM1497.1 173.1l9.7 6.6-7-5.2-9.7-6.6zM1492.7 169.5l9.6 7.1-6.9-4.2-9.6-7.1zM1486.3 165.6l9.6 7.1-6.9-3.7-9.6-7.1zM1481.9 165.2l9.5 7.6-6.8-2.7-9.5-7.5zM1475.6 162.6l9.5 7.5-6.8-2.3-9.5-7.5z"/>
<path fill="#ffe073" d="M1235.4 196.5l10.9-9.6-6.4-3.3-10.9 9.6zM1229.5 193.4l10.9-9.6-6.3-2.8-10.9 9.6zM1223.7 190.7l10.9-9.6-6.3-2.3-10.9 9.5zM1217.8 188.6l10.9-9.5-6.2-1.7-10.8 9.5zM1212.1 186.9l10.8-9.5-6.2-1.2-10.8 9.5zM1206.4 185.8l10.8-9.5-6.1-.7-10.8 9.4zM1200.7 185l10.8-9.4-6.1-.2-10.7 9.4zM1195.1 184.8l10.7-9.4-6 .2-10.7 9.4zM1263 200.2l11-9.1-6.6-4.9-11 9.1zM1256.9 195.7l11-9.1-6.5-4.3-10.9 9zM1193.3 177.4l10.7-8.8-6 1.2-10.6 8.8zM1187.8 178.5l10.6-8.8-5.9 1.7-10.6 8.7zM1284.9 202.9l11-8.5-6.7-5.9-11 8.5zM1278.7 197.4l11-8.5-6.6-5.4-10.9 8.5zM1191.6 172.5l10.6-8.1-5.9 2.2-10.5 8.1zM1300.7 201.5l11-7.9-6.7-6.4-11 7.9zM1190 169.9l10.5-7.5-5.8 3.1-10.5 7.5zM1316.6 201.2l11-6.7-6.8-7.6-10.9 6.7zM1193.8 166.4l10.4-6.9-5.8 3.6-10.4 6.9zM1332.5 201.9l10.9-6.1-6.9-8.1-10.9 6.1zM1197.5 163.8l10.4-6.3-5.8 4-10.4 6.3zM1348.4 203.7l10.9-5.6-6.9-8.6-10.9 5.5zM1201.2 162.1l10.3-5.8-5.8 4.5-10.3 5.8zM1364.4 206.5l10.9-5-7-9.1-10.9 4.9zM1210.2 157.3l10.3-5.2-5.8 4.5-10.3 5.2zM1373.9 201.8l10.8-4.3-7-9.1-10.8 4.3zM1213.9 156.6l10.2-4-5.8 5.5-10.2 4zM1389.9 206.2l10.8-3.8-7-9.7-10.8 3.7zM1222.8 152.8l10.2-3.5-5.8 5.5-10.2 3.5zM1399.3 202.7l10.7-3.1-7-9.6-10.7 3.1zM1408.7 199.8l10.7-2.5-7.1-9.6-10.7 2.5zM1418.1 197.4l10.6-1.9-7.1-9.6-10.6 1.9zM1445.8 193.6l10.5-.2-7.1-9.5-10.5 .1zM1454.9 193.5l10.4 .4-7.1-9.5-10.4-.4zM1464 193.8l10.3 1-7.1-9.5-10.3-1zM1475.4 187.9l10.2 2.2-7.1-8.9-10.2-2.2zM1484.3 189.9l10.1 2.7-7.1-8.9-10.1-2.7zM1486.5 184.7l10.1 3.3-7.1-8.4-10.1-3.3zM1488.7 180.5l10 3.9-7.1-7.9-10-3.9zM1490.9 177.3l9.9 4.4-7-7.3-9.9-4.4zM1493 175.1l9.8 5-7-6.8-9.8-5zM1495.1 174l9.8 5.5-7-6.3-9.8-5.5zM1488.6 168.1l9.8 6.1-7-5.2-9.8-6.1zM1490.7 168.3l9.7 6.6-6.9-4.7-9.7-6.6zM1484.2 164l9.7 6.6-6.9-4.2-9.7-6.6zM1479.9 162.2l9.6 7.1-6.8-3.2-9.6-7.1zM1473.6 159.2l9.6 7.1-6.8-2.7-9.6-7zM1467.3 156.7l9.6 7-6.8-2.2-9.6-7zM1461 154.6l9.6 7-6.7-1.7-9.6-7z"/>
<path fill="#ffd873" d="M1250.9 191.7l10.9-9-6.5-3.8-10.9 9zM1245 188.1l10.9-9-6.4-3.3-10.9 9zM1239 185l10.9-9-6.4-2.7-10.9 8.9zM1233.2 182.4l10.9-8.9-6.3-2.2-10.8 8.9zM1215.8 177.5l10.8-8.9-6.2-.7-10.7 8.8zM1210.1 176.8l10.7-8.8-6.1-.2-10.7 8.8zM1204.5 176.6l10.7-8.8-6.1 .3-10.7 8.8zM1198.9 176.8l10.7-8.8-6 .7-10.7 8.8zM1272.6 192.4l10.9-8.5-6.6-4.8-10.9 8.4zM1202.6 169.8l10.6-8.2-6 1.2-10.6 8.2zM1197.1 170.9l10.6-8.2-5.9 1.7-10.6 8.1zM1294.5 195.5l11-7.9-6.7-5.9-10.9 7.9zM1200.9 165.5l10.6-7.6-5.9 2.2-10.5 7.5zM1195.4 167.5l10.5-7.5-5.9 2.7-10.5 7.5zM1310.3 194.7l10.9-7.3-6.8-6.4-10.9 7.3zM1199.2 163.5l10.5-6.9-5.9 3.1-10.4 6.9zM1326.2 194.9l10.9-6.1-6.8-7.5-10.9 6.1zM1202.9 160.5l10.4-6.4-5.8 3.6-10.4 6.3zM1342.1 196.2l10.9-5.5-6.9-8.1-10.9 5.5zM1206.6 158.4l10.4-5.8-5.8 4-10.3 5.8zM1358 198.5l10.9-4.9-6.9-8.6-10.8 4.9zM1215.6 153.6l10.3-5.2-5.8 4-10.3 5.2zM1367.5 193.9l10.8-4.3-6.9-8.6-10.8 4.3zM1219.2 152.5l10.3-4-5.8 5.1-10.2 4zM1383.4 197.8l10.8-3.7-7-9.1-10.8 3.7zM1392.8 194.3l10.7-3.1-7-9.1-10.7 3.1zM1402.2 191.4l10.7-2.5-7-9.1-10.7 2.5zM1427.4 195.6l10.6-1.3-7.1-9.6-10.6 1.3zM1436.6 194.3l10.5-.7-7.1-9.6-10.5 .7zM1448.4 185.1l10.4 .4-7.1-9-10.4-.5zM1457.4 185.5l10.3 1-7.1-9-10.3-1zM1466.4 186.5l10.3 1.6-7.1-9-10.3-1.6zM1468.8 180.2l10.2 2.2-7.1-8.4-10.2-2.2zM1477.7 182.2l10.1 2.7-7.1-8.4-10.1-2.8zM1480 177.5l10.1 3.3-7.1-7.9-10-3.3zM1482.2 173.8l10 3.9-7-7.3-10-3.9zM1484.4 171.1l9.9 4.4-7-6.8-9.9-4.4zM1486.5 169.4l9.8 5-7-6.3-9.8-4.9zM1482.2 163.3l9.8 6.1-6.9-4.7-9.7-6.1zM1477.9 160.1l9.7 6.6-6.9-3.7-9.7-6.6zM1471.5 156.7l9.7 6.6-6.8-3.2-9.7-6.5zM1465.2 153.7l9.7 6.5-6.8-2.7-9.6-6.5z"/>
<path fill="#ffcf73" d="M1227.3 180.3l10.8-8.9-6.3-1.7-10.8 8.9zM1221.6 178.7l10.8-8.9-6.2-1.2-10.8 8.9zM1266.5 187.8l10.9-8.4-6.5-4.3-10.9 8.4zM1260.5 183.8l10.9-8.4-6.5-3.8-10.9 8.4zM1254.5 180.3l10.9-8.4-6.4-3.2-10.8 8.4zM1219.5 169.2l10.7-8.2-6.2-.2-10.7 8.2zM1213.9 168.9l10.7-8.2-6.1 .3-10.7 8.2zM1208.2 169.2l10.7-8.2-6.1 .8-10.6 8.2zM1288.3 190l10.9-7.9-6.6-5.3-10.9 7.9zM1282.2 185.1l10.9-7.9-6.6-4.8-10.9 7.8zM1211.9 162.8l10.6-7.6-6 1.3-10.6 7.6zM1206.4 163.9l10.6-7.6-6 1.7-10.6 7.6zM1304.1 188.8l10.9-7.3-6.7-5.9-10.9 7.3zM1210.1 159l10.5-7-6 2.2-10.5 7zM1204.6 161.1l10.5-7-5.9 2.7-10.5 6.9zM1319.9 188.5l10.9-6.1-6.8-7-10.9 6.1zM1208.3 157.6l10.4-6.4-5.9 3.1-10.4 6.4zM1335.7 189.3l10.9-5.5-6.8-7.5-10.9 5.5zM1212 155.1l10.4-5.8-5.9 3.6-10.4 5.8zM1351.6 191.1l10.8-4.9-6.9-8-10.8 4.9zM1221 150.3l10.4-5.2-5.9 3.6-10.3 5.2zM1361.1 186.5l10.8-4.3-6.9-8-10.8 4.3zM1224.6 149.3l10.3-4.6-5.9 4-10.3 4.6zM1376.9 189.9l10.8-3.7-7-8.5-10.8 3.7zM1228.2 148.7l10.2-3.5-5.8 5.1-10.2 3.5zM1386.4 186.4l10.7-3.1-7-8.5-10.7 3.1zM1237.1 145.4l10.2-2.9-5.9 5.1-10.2 2.9zM1246 142.7l10.2-2.4-5.9 5.1-10.1 2.4zM1411.5 189l10.6-1.9-7-9-10.6 1.9zM1420.8 187.2l10.6-1.3-7-9-10.6 1.3zM1430.1 186l10.5-.7-7.1-9-10.5 .7zM1439.2 185.3l10.5-.1-7.1-9-10.4 .1zM1450.9 177.8l10.3 1-7.1-8.4-10.3-1.1zM1459.9 178.7l10.3 1.6-7.1-8.4-10.2-1.6zM1462.3 172.9l10.2 2.2-7-7.9-10.2-2.2zM1471.2 174.9l10.1 2.8-7-7.9-10.1-2.8zM1473.5 170.7l10 3.3-7-7.3-10-3.3zM1475.7 167.5l10 3.9-7-6.8-10-3.9zM1477.9 165.3l9.9 4.4-7-6.3-9.9-4.4zM1480.1 164.1l9.8 4.9-6.9-5.8-9.8-4.9zM1473.6 158.7l9.8 5.5-6.9-4.7-9.8-5.5zM1475.8 158.9l9.7 6.1-6.9-4.2-9.7-6zM1469.4 155.1l9.7 6-6.9-3.7-9.7-6zM1463.1 151.7l9.7 6-6.8-3.2-9.7-6zM1458.9 151.2l9.6 6.5-6.8-2.2-9.6-6.5zM1452.7 149.2l9.6 6.5-6.7-1.7-9.6-6.5zM1446.4 147.6l9.6 6.5-6.7-1.2-9.6-6.5z"/>
<path fill="#ffc773" d="M1248.6 177.2l10.8-8.4-6.4-2.7-10.8 8.3zM1242.7 174.7l10.8-8.3-6.3-2.2-10.8 8.3zM1236.8 172.6l10.8-8.3-6.3-1.7-10.8 8.3zM1231 171l10.8-8.3-6.3-1.2-10.7 8.3zM1225.2 169.8l10.7-8.3-6.2-.7-10.7 8.2zM1276.1 180.6l10.9-7.8-6.6-4.3-10.9 7.8zM1270 176.6l10.9-7.8-6.5-3.7-10.8 7.8zM1264 173.1l10.8-7.8-6.5-3.2-10.8 7.8zM1223.2 161.8l10.7-7.6-6.1 .3-10.6 7.6zM1217.5 162.1l10.6-7.6-6.1 .8-10.6 7.6zM1297.9 183.3l10.9-7.3-6.7-5.3-10.9 7.2zM1291.7 178.3l10.9-7.2-6.6-4.8-10.9 7.2zM1215.6 157.4l10.6-7-6 1.8-10.5 7zM1313.6 182.5l10.9-6.7-6.7-5.8-10.9 6.6zM1219.3 153.1l10.5-6.4-6 2.2-10.5 6.4zM1213.8 155.1l10.5-6.4-5.9 2.7-10.4 6.4zM1329.4 182.8l10.9-5.5-6.8-7-10.8 5.5zM1222.9 149.8l10.4-5.8-6 2.7-10.4 5.8zM1217.4 152.2l10.4-5.8-5.9 3.1-10.4 5.8zM1345.2 184.1l10.8-4.9-6.8-7.5-10.8 4.9zM1226.5 147.4l10.4-5.2-5.9 3.2-10.4 5.2zM1354.7 179.6l10.8-4.3-6.9-7.5-10.8 4.3zM1230.1 146l10.3-4.6-5.9 3.6-10.3 4.6zM1370.5 182.5l10.8-3.7-6.9-8-10.7 3.7zM1233.6 145l10.3-3.5-5.9 4.6-10.2 3.5zM1379.9 179l10.7-3.1-6.9-8-10.7 3.1zM1242.5 141.7l10.2-2.9-5.9 4.6-10.2 2.9zM1395.7 183.5l10.7-2.5-7-8.5-10.6 2.5zM1251.5 139l10.2-2.4-5.9 4.6-10.2 2.4zM1405 181.2l10.6-1.9-7-8.5-10.6 1.9zM1414.3 179.4l10.6-1.3-7-8.5-10.5 1.3zM1423.5 178.2l10.5-.7-7-8.5-10.5 .7zM1432.7 177.5l10.4-.1-7-8.4-10.4 .1zM1441.8 177.4l10.4 .5-7-8.4-10.4-.5zM1444.4 170.5l10.3 1.1-7-7.9-10.3-1.1zM1453.3 171.4l10.2 1.6-7-7.9-10.2-1.6zM1455.8 166.2l10.2 2.2-7-7.3-10.2-2.2zM1464.6 168.2l10.1 2.8-7-7.3-10.1-2.8zM1467 164.5l10 3.3-7-6.8-10-3.3zM1469.2 161.8l10 3.9-7-6.3-10-3.9zM1471.5 160l9.9 4.4-6.9-5.8-9.9-4.4zM1465 155.2l9.9 4.4-6.9-5.3-9.9-4.4zM1467.2 154.4l9.8 5.5-6.9-4.2-9.8-5.5zM1460.9 150.5l9.8 5.5-6.8-3.7-9.8-5.5zM1456.7 148.7l9.7 6-6.8-2.7-9.7-6zM1450.5 146.2l9.7 6-6.8-2.2-9.7-6zM1444.2 144.2l9.7 6-6.7-1.7-9.7-6zM1438 142.6l9.7 6-6.7-1.2-9.7-5.9zM1431.9 141.5l9.7 5.9-6.6-.8-9.7-5.9z"/>
<path fill="#ffbe73" d="M1258.1 170l10.8-7.8-6.4-2.7-10.8 7.7zM1252.1 167.5l10.8-7.7-6.4-2.2-10.8 7.7zM1246.3 165.4l10.8-7.7-6.3-1.7-10.7 7.7zM1240.4 163.8l10.7-7.7-6.3-1.2-10.7 7.7zM1234.6 162.7l10.7-7.7-6.2-.7-10.7 7.6zM1228.9 162l10.7-7.6-6.2-.2-10.7 7.6zM1285.6 173.8l10.9-7.2-6.6-4.2-10.8 7.2zM1279.5 169.9l10.8-7.2-6.5-3.7-10.8 7.2zM1232.5 155.3l10.6-7-6.2 .3-10.6 7zM1226.8 155.6l10.6-7-6.1 .8-10.6 7zM1221.2 156.3l10.6-7-6.1 1.3-10.6 7zM1307.4 177.1l10.9-6.6-6.7-5.3-10.8 6.6zM1301.2 172.1l10.8-6.6-6.6-4.8-10.8 6.6zM1230.5 150.3l10.5-6.4-6.1 1.3-10.5 6.4zM1224.8 151.5l10.5-6.4-6 1.8-10.5 6.4zM1323.1 176.9l10.8-5.5-6.7-6.4-10.8 5.4zM1316.9 171.5l10.8-6-6.7-5.3-10.8 6zM1228.4 147.7l10.5-5.8-6 2.2-10.4 5.8zM1338.9 177.7l10.8-4.9-6.8-6.9-10.8 4.8zM1332.6 171.8l10.8-4.8-6.8-6.4-10.8 4.8zM1232 144.9l10.4-5.2-6 2.7-10.4 5.2zM1348.4 173.2l10.8-4.3-6.8-6.9-10.7 4.2zM1235.6 143.1l10.3-4.6-6 3.2-10.3 4.6zM1364.1 175.6l10.7-3.7-6.9-7.4-10.7 3.7zM1239.1 141.6l10.3-3.5-5.9 4.2-10.3 3.5zM1373.5 172.2l10.7-3.1-6.9-7.4-10.7 3zM1248 138.4l10.3-2.9-6 4.2-10.2 2.9zM1389.3 176.2l10.6-2.5-6.9-8-10.6 2.5zM1257 135.7l10.2-2.4-6 4.2-10.2 2.4zM1398.6 173.8l10.6-1.9-7-7.9-10.6 1.9zM1260.3 136.8l10.2-1.8-6 4.6-10.1 1.8zM1407.8 172.1l10.5-1.3-7-7.9-10.5 1.3zM1417 170.9l10.5-.7-7-7.9-10.5 .7zM1426.2 170.2l10.4-.1-7-7.9-10.4 .1zM1435.3 170.1l10.4 .5-7-7.9-10.4-.5zM1437.9 163.7l10.3 1.1-7-7.3-10.3-1.1zM1446.8 164.7l10.2 1.6-7-7.3-10.2-1.6zM1449.3 159.9l10.2 2.2-7-6.8-10.2-2.2zM1458.2 161.9l10.1 2.8-7-6.8-10.1-2.8zM1451.7 156.2l10.1 2.8-6.9-6.3-10.1-2.8zM1460.5 158.7l10 3.3-7-6.3-10-3.3zM1454.1 153.4l10 3.3-6.9-5.8-10-3.3zM1462.8 156.5l10 3.9-6.9-5.8-9.9-3.9zM1456.4 151.7l9.9 3.9-6.9-5.2-9.9-3.9zM1458.6 150.3l9.9 5-6.9-4.1-9.9-5zM1452.3 146.5l9.9 5-6.8-3.6-9.9-5zM1454.5 147.1l9.8 5.5-6.8-3.2-9.8-5.5zM1448.2 144.2l9.8 5.5-6.8-2.7-9.8-5.5zM1442 141.7l9.8 5.5-6.7-2.2-9.8-5.5zM1435.7 139.7l9.8 5.5-6.7-1.7-9.8-5.4zM1429.5 138.2l9.8 5.4-6.7-1.2-9.7-5.4zM1423.4 137l9.7 5.4-6.6-.7-9.7-5.4zM1417.3 136.4l9.7 5.4-6.6-.3-9.7-5.4z"/>
<path fill="#ffb573" d="M1273.5 166.4l10.8-7.2-6.5-3.2-10.8 7.1zM1267.5 163.4l10.8-7.1-6.4-2.7-10.8 7.1zM1261.6 160.9l10.8-7.1-6.4-2.2-10.7 7.1zM1255.7 158.8l10.7-7.1-6.3-1.7-10.7 7.1zM1249.8 157.2l10.7-7.1-6.3-1.2-10.7 7.1zM1244 156.1l10.7-7.1-6.3-.7-10.7 7.1zM1238.2 155.5l10.7-7.1-6.2-.2-10.6 7zM1295.1 167.7l10.8-6.6-6.6-4.2-10.8 6.6zM1289 163.7l10.8-6.6-6.6-3.7-10.8 6.6zM1283 160.3l10.8-6.6-6.5-3.2-10.7 6.5zM1241.8 149.3l10.6-6.4-6.2 .3-10.6 6.4zM1236.1 149.6l10.6-6.4-6.1 .8-10.5 6.4zM1310.7 166.5l10.8-6-6.7-4.7-10.8 6zM1239.7 144.9l10.5-5.8-6.1 1.3-10.5 5.8zM1234 146.1l10.5-5.8-6.1 1.8-10.5 5.8zM1326.4 166.4l10.8-4.8-6.7-5.9-10.8 4.8zM1237.6 142.9l10.4-5.2-6 2.2-10.4 5.2zM1342 167.3l10.7-4.2-6.8-6.4-10.7 4.2zM1241.1 140.6l10.4-4.7-6 2.7-10.3 4.6zM1357.8 169.2l10.7-3.7-6.8-6.9-10.7 3.6zM1250.2 136.9l10.3-4.1-6 2.7-10.3 4.1zM1244.6 139.3l10.3-4.1-6 3.2-10.3 4.1zM1367.1 165.8l10.7-3-6.9-6.9-10.7 3zM1253.6 135.5l10.3-2.9-6 3.8-10.3 2.9zM1382.8 169.3l10.6-2.5-6.9-7.4-10.6 2.4zM1262.5 132.8l10.2-2.4-6 3.8-10.2 2.4zM1392.1 167l10.6-1.9-6.9-7.4-10.6 1.9zM1271.5 130.6l10.2-1.8-6.1 3.7-10.2 1.8zM1265.9 133.5l10.2-1.8-6 4.2-10.2 1.8zM1401.4 165.3l10.5-1.3-6.9-7.4-10.5 1.3zM1274.8 131.8l10.1-1.2-6 4.2-10.1 1.3zM1410.6 164.1l10.5-.7-7-7.4-10.5 .7zM1283.6 130.6l10.1-.7-6.1 4.2-10.1 .7zM1419.7 163.4l10.4-.1-7-7.4-10.4 .1zM1428.8 163.3l10.4 .5-7-7.4-10.3-.5zM1422.4 157l10.3 .5-6.9-6.8-10.3-.5zM1431.4 157.4l10.3 1.1-7-6.8-10.3-1.1zM1440.4 158.4l10.2 1.6-7-6.8-10.2-1.6zM1442.9 154.1l10.2 2.2-6.9-6.3-10.1-2.2zM1445.3 150.9l10.1 2.8-6.9-5.8-10.1-2.8zM1447.7 148.6l10 3.3-6.9-5.2-10-3.3zM1450 147.4l9.9 3.9-6.9-4.7-9.9-3.9zM1443.7 142.9l9.9 4.5-6.8-3.6-9.9-4.4zM1446 143.1l9.9 5-6.8-3.1-9.8-5zM1439.7 140.2l9.8 5-6.8-2.6-9.8-5zM1433.4 137.7l9.8 5-6.7-2.2-9.8-4.9zM1427.2 135.7l9.8 4.9-6.7-1.7-9.8-4.9zM1421 134.2l9.8 4.9-6.7-1.2-9.8-4.9zM1414.9 133.1l9.8 4.9-6.6-.7-9.8-4.9zM1408.8 132.4l9.8 4.9-6.6-.2-9.8-4.9zM1402.7 132.2l9.8 4.9-6.5 .2-9.8-4.8z"/>
<path fill="#ffad73" d="M1276.9 157.3l10.7-6.5-6.5-2.7-10.7 6.5zM1271 154.8l10.7-6.5-6.4-2.1-10.7 6.5zM1265.1 152.8l10.7-6.5-6.4-1.6-10.7 6.5zM1259.2 151.2l10.7-6.5-6.3-1.1-10.7 6.5zM1253.3 150.1l10.7-6.5-6.3-.6-10.6 6.5zM1247.6 149.5l10.6-6.5-6.2-.2-10.6 6.4zM1304.6 162.1l10.8-6-6.6-4.2-10.8 6zM1298.4 158.2l10.8-6-6.6-3.7-10.7 6zM1292.4 154.7l10.7-6-6.5-3.2-10.7 5.9zM1256.8 144.1l10.6-5.9-6.3-.1-10.6 5.9zM1251.1 143.9l10.6-5.9-6.2 .3-10.5 5.8zM1245.3 144.2l10.5-5.8-6.2 .8-10.5 5.8zM1320.2 161.5l10.8-5.4-6.7-4.7-10.7 5.4zM1314 157.1l10.7-5.4-6.6-4.2-10.7 5.4zM1248.9 140.1l10.5-5.2-6.1 1.3-10.5 5.2zM1243.2 141.3l10.5-5.2-6.1 1.8-10.4 5.2zM1335.8 161.9l10.7-4.2-6.7-5.8-10.7 4.2zM1329.6 157l10.7-4.2-6.7-5.3-10.7 4.2zM1252.3 136.9l10.4-4.7-6.1 1.8-10.4 4.7zM1246.7 138.6l10.4-4.7-6.1 2.2-10.4 4.7zM1351.4 163.4l10.7-3.6-6.8-6.4-10.7 3.6zM1345.2 158l10.7-3.6-6.8-5.8-10.7 3.6zM1255.8 134.8l10.4-4.1-6.1 2.3-10.3 4.1zM1360.8 160l10.7-3-6.8-6.3-10.6 3zM1264.8 131.5l10.3-3.5-6.1 2.3-10.3 3.5zM1259.2 133.6l10.3-3.5-6.1 2.7-10.3 3.5zM1376.5 163l10.6-2.4-6.9-6.9-10.6 2.4zM1370.1 157.1l10.6-2.4-6.8-6.3-10.6 2.4zM1268.2 130.3l10.3-2.3-6.1 3.3-10.2 2.4zM1385.7 160.7l10.6-1.9-6.9-6.9-10.6 1.8zM1379.4 154.9l10.6-1.8-6.8-6.3-10.5 1.8zM1277.1 128.1l10.2-1.8-6.1 3.3-10.2 1.8zM1395 158.9l10.5-1.3-6.9-6.8-10.5 1.2zM1286 126.4l10.2-1.2-6.1 3.3-10.2 1.2zM1280.4 128.9l10.2-1.2-6.1 3.7-10.1 1.2zM1404.2 157.8l10.5-.7-6.9-6.8-10.4 .7zM1294.9 125.3l10.1-.7-6.2 3.3-10.1 .7zM1289.2 127.7l10.1-.7-6.1 3.7-10.1 .7zM1413.3 157.1l10.4-.1-6.9-6.8-10.4 .1zM1406.9 151.3l10.4-.1-6.9-6.3-10.4 .1zM1303.7 124.6l10.1-.1-6.2 3.3-10.1 .1zM1298 127.1l10.1-.1-6.1 3.7-10.1 .1zM1416 151.2l10.3 .5-6.9-6.3-10.3-.5zM1312.5 124.5l10.1 .4-6.2 3.3-10-.4zM1425 151.7l10.3 1.1-6.9-6.3-10.3-1.1zM1433.9 152.6l10.2 1.6-6.9-6.3-10.2-1.6zM1427.5 147.4l10.2 1.6-6.9-5.8-10.2-1.6zM1335.8 123.7l10 1.5-6.3 2.8-10-1.5zM1436.4 148.9l10.1 2.2-6.9-5.8-10.1-2.2zM1430.1 144.1l10.1 2.2-6.9-5.2-10.1-2.2zM1350.3 123.5l9.9 2.7-6.3 1.7-9.9-2.7zM1438.9 146.1l10.1 2.8-6.9-5.2-10.1-2.8zM1432.5 141.8l10.1 2.8-6.8-4.7-10.1-2.8zM1364.9 124.3l9.9 3.2-6.4 1.2-9.9-3.2zM1441.3 144.3l10 3.3-6.9-4.7-10-3.3zM1435 140.5l10 3.3-6.8-4.2-10-3.3zM1428.7 136.5l10 3.9-6.8-3.1-10-3.9zM1385.5 125.8l9.9 3.8-6.5 .3-9.9-3.8zM1379.5 126.1l9.9 3.8-6.5 .7-9.9-3.8zM1437.3 139.6l9.9 4.4-6.8-3.1-9.9-4.4zM1431.1 136.6l9.9 4.4-6.8-2.6-9.9-4.4zM1424.8 134.2l9.9 4.4-6.7-2.1-9.9-4.4zM1418.6 132.2l9.9 4.4-6.7-1.7-9.9-4.4zM1412.4 130.7l9.9 4.4-6.6-1.2-9.9-4.4zM1406.3 129.6l9.9 4.4-6.6-.7-9.8-4.4zM1400.2 129l9.8 4.4-6.6-.2-9.8-4.3zM1394.1 128.8l9.8 4.3-6.5 .3-9.8-4.3z"/>
<path fill="#ffa473" d="M1286.3 151.8l10.7-5.9-6.5-2.6-10.7 5.9zM1280.4 149.3l10.7-5.9-6.4-2.1-10.7 5.9zM1274.4 147.3l10.7-5.9-6.4-1.6-10.6 5.9zM1268.5 145.7l10.6-5.9-6.3-1.1-10.6 5.9zM1262.7 144.7l10.6-5.9-6.3-.6-10.6 5.9zM1307.8 153.2l10.7-5.4-6.6-3.7-10.7 5.4zM1301.8 149.8l10.7-5.4-6.6-3.1-10.7 5.3zM1295.7 146.8l10.7-5.3-6.5-2.6-10.7 5.3zM1289.7 144.3l10.7-5.3-6.5-2.1-10.6 5.3zM1283.7 142.3l10.6-5.3-6.4-1.6-10.6 5.3zM1277.8 140.8l10.6-5.3-6.4-1.1-10.6 5.3zM1271.9 139.8l10.6-5.3-6.3-.6-10.6 5.3zM1266.1 139.2l10.6-5.3-6.3-.1-10.5 5.3zM1260.3 139l10.5-5.3-6.2 .4-10.5 5.3zM1254.6 139.3l10.5-5.3-6.2 .8-10.5 5.2zM1323.4 152.6l10.7-4.8-6.7-4.2-10.7 4.2zM1317.2 148.7l10.7-4.8-6.6-3.7-10.7 4.8zM1263.7 135l10.5-4.7-6.2 .8-10.4 4.7zM1258 135.7l10.4-4.7-6.2 1.3-10.4 4.7zM1338.9 153.1l10.7-3.6-6.7-5.3-10.6 3.6zM1332.7 148.7l10.6-3.6-6.7-4.8-10.6 3.6zM1267.1 131.9l10.4-4.1-6.2 1.3-10.4 4.1zM1261.4 133.1l10.4-4.1-6.1 1.8-10.4 4.1zM1354.5 154.6l10.6-3-6.8-5.8-10.6 3zM1348.2 149.8l10.6-3-6.7-5.3-10.6 3zM1270.5 129.9l10.4-3.5-6.2 1.8-10.3 3.5zM1363.8 151.8l10.6-2.4-6.8-5.8-10.6 2.4zM1279.5 127.2l10.3-2.9-6.2 1.8-10.3 2.9zM1273.8 128.8l10.3-2.9-6.1 2.2-10.3 2.9zM1373.1 149.5l10.5-1.8-6.8-5.8-10.5 1.8zM1282.8 126l10.2-1.8-6.2 2.8-10.2 1.8zM1388.6 153.1l10.5-1.2-6.9-6.3-10.5 1.2zM1382.3 147.8l10.5-1.2-6.8-5.8-10.5 1.2zM1291.7 124.4l10.2-1.2-6.2 2.8-10.2 1.2zM1397.8 152l10.4-.7-6.9-6.3-10.4 .7zM1391.4 146.6l10.4-.7-6.8-5.8-10.4 .6zM1300.6 123.2l10.2-.7-6.2 2.8-10.1 .7zM1400.5 146l10.4-.1-6.9-5.8-10.4 .1zM1309.5 122.6l10.1-.1-6.2 2.8-10.1 .1zM1409.6 145.9l10.3 .5-6.9-5.8-10.3-.5zM1318.3 122.4l10.1 .4-6.2 2.8-10.1-.4zM1418.6 146.4l10.3 1.1-6.9-5.8-10.3-1.1zM1412.2 141.6l10.3 1.1-6.8-5.2-10.2-1.1zM1332.9 121.2l10 1-6.3 2.3-10-1zM1327.1 122.8l10 1-6.3 2.8-10-1zM1421.2 142.6l10.2 1.6-6.9-5.2-10.2-1.6zM1414.8 138.3l10.2 1.6-6.8-4.7-10.2-1.6zM1347.5 121l10 2.2-6.4 1.3-10-2.1zM1341.6 122.1l10 1.5-6.3 2.3-10-1.5zM1423.7 139.8l10.1 2.2-6.8-4.7-10.1-2.2zM1417.4 135.9l10.1 2.2-6.8-4.2-10.1-2.2zM1362.2 121.7l10 2.7-6.4 .8-10-2.7zM1356.2 122.4l10 2.7-6.4 1.2-9.9-2.7zM1426.2 137.9l10.1 2.8-6.8-4.2-10-2.8zM1419.9 134.6l10 2.8-6.8-3.7-10-2.7zM1413.6 131.1l10 3.3-6.7-2.6-10-3.3zM1407.4 128.7l10 3.3-6.7-2.1-10-3.3zM1389 124.1l10 3.3-6.6-.7-10-3.3zM1382.9 123.5l10 3.3-6.5-.2-9.9-3.3zM1376.9 123.4l9.9 3.3-6.5 .3-9.9-3.3zM1370.9 123.6l9.9 3.3-6.4 .8-9.9-3.2zM1422.4 133.6l10 3.9-6.7-2.6-10-3.9zM1416.1 131.2l10 3.9-6.7-2.1-9.9-3.9zM1409.9 129.2l9.9 3.9-6.7-1.6-9.9-3.9zM1403.8 127.7l9.9 3.9-6.6-1.2-9.9-3.8zM1397.7 126.6l9.9 3.8-6.6-.7-9.9-3.8zM1391.6 126l9.9 3.8-6.5-.2-9.9-3.8z"/>
<path fill="#ff9c73" d="M1311.1 145.3l10.7-4.8-6.6-3.1-10.6 4.7zM1305 142.4l10.6-4.7-6.5-2.6-10.6 4.7zM1299 139.9l10.6-4.7-6.5-2.1-10.6 4.7zM1293 138l10.6-4.7-6.4-1.6-10.6 4.7zM1287.1 136.4l10.6-4.7-6.4-1.1-10.5 4.7zM1281.2 135.4l10.5-4.7-6.3-.6-10.5 4.7zM1275.3 134.8l10.5-4.7-6.3-.1-10.5 4.7zM1269.5 134.7l10.5-4.7-6.3 .4-10.5 4.7zM1326.5 144.9l10.6-3.6-6.6-4.2-10.6 3.6zM1320.4 141.5l10.6-4.2-6.6-3.1-10.6 4.2zM1314.3 138.5l10.6-4.2-6.6-2.6-10.6 4.1zM1284.5 131l10.5-4.1-6.3-.1-10.5 4.1zM1278.7 130.9l10.5-4.1-6.3 .4-10.4 4.1zM1272.9 131.2l10.4-4.1-6.2 .8-10.4 4.1zM1342 145.4l10.6-3-6.7-4.8-10.6 3zM1335.8 141.5l10.6-3-6.7-4.2-10.6 3zM1287.8 127.6l10.4-3.5-6.3 .4-10.4 3.5zM1282 127.9l10.4-3.5-6.3 .9-10.4 3.5zM1276.2 128.7l10.4-3.5-6.2 1.3-10.4 3.5zM1357.5 147l10.6-2.4-6.8-5.3-10.6 2.4zM1351.3 142.6l10.6-2.4-6.7-4.7-10.5 2.4zM1291.1 125.2l10.4-2.9-6.3 .9-10.3 2.9zM1285.3 126l10.3-2.9-6.2 1.3-10.3 2.9zM1366.8 144.7l10.5-1.8-6.8-5.3-10.5 1.8zM1360.5 140.4l10.5-1.8-6.7-4.7-10.5 1.8zM1294.3 123.8l10.3-2.4-6.3 1.3-10.3 2.4zM1288.5 124.4l10.3-1.8-6.2 2.4-10.2 1.8zM1375.9 143l10.5-1.2-6.8-5.2-10.5 1.2zM1369.7 138.7l10.5-1.2-6.7-4.7-10.4 1.2zM1303.3 121.5l10.2-1.2-6.3 1.9-10.2 1.2zM1297.5 122.7l10.2-1.2-6.2 2.4-10.2 1.2zM1385.1 141.8l10.4-.6-6.8-5.2-10.4 .6zM1378.8 137.5l10.4-.6-6.8-4.7-10.4 .6zM1312.2 120.4l10.2-.6-6.3 1.9-10.2 .7zM1306.4 121.6l10.2-.7-6.2 2.4-10.2 .7zM1394.2 141.2l10.4-.1-6.8-5.2-10.4 .1zM1387.9 136.9l10.4-.1-6.8-4.7-10.3 .1zM1321.1 119.8l10.2-.1-6.3 1.9-10.1 .1zM1315.3 120.9l10.1-.1-6.3 2.4-10.1 .1zM1403.2 141.1l10.3 .5-6.8-5.2-10.3-.5zM1396.9 136.8l10.3 .5-6.8-4.7-10.3-.5zM1335.8 118.9l10.1 .5-6.4 1.4-10.1-.5zM1330 119.7l10.1 .5-6.3 1.9-10.1-.5zM1324.1 120.8l10.1 .5-6.3 2.3-10.1-.4zM1405.9 137.3l10.2 1.1-6.8-4.7-10.2-1.1zM1399.6 133.4l10.2 1.1-6.8-4.2-10.2-1.1zM1344.7 119.3l10.1 1.6-6.4 .8-10.1-1.6zM1338.8 120.1l10.1 1-6.4 1.9-10-1zM1408.5 134.4l10.2 1.6-6.8-4.2-10.2-1.6zM1402.3 131.1l10.2 1.6-6.7-3.7-10.1-1.6zM1396 128.2l10.1 1.6-6.7-3.2-10.1-1.6zM1365.4 120.1l10.1 2.2-6.5-.1-10-2.2zM1359.4 120l10 2.2-6.5 .3-10-2.2zM1353.5 120.2l10 2.2-6.4 .8-10-2.2zM1411.1 132.6l10.1 2.2-6.8-3.7-10.1-2.2zM1404.9 129.7l10.1 2.2-6.7-3.2-10.1-2.2zM1398.7 126.7l10.1 2.8-6.7-2.1-10.1-2.8zM1392.5 124.7l10.1 2.8-6.6-1.6-10-2.8zM1386.3 123.2l10 2.8-6.6-1.1-10-2.8zM1380.2 122.2l10 2.8-6.6-.6-10-2.7zM1374.2 121.6l10 2.7-6.5-.2-10-2.7zM1368.2 121.4l10 2.7-6.5 .3-10-2.7zM1401.2 126.7l10 3.3-6.7-1.6-10-3.3zM1395.1 125.2l10 3.3-6.6-1.1-10-3.3z"/>
<path fill="#ff9373" d="M1308.3 136.1l10.6-4.1-6.5-2.1-10.5 4.1zM1302.3 134.1l10.5-4.1-6.5-1.6-10.5 4.1zM1296.3 132.6l10.5-4.1-6.4-1.1-10.5 4.1zM1290.4 131.6l10.5-4.1-6.4-.6-10.5 4.1zM1329.7 138.1l10.6-3-6.6-3.7-10.5 3zM1323.6 135.2l10.5-3.6-6.6-2.6-10.5 3.6zM1317.5 132.8l10.5-3.6-6.5-2.1-10.5 3.5zM1311.5 130.8l10.5-3.5-6.5-1.6-10.5 3.5zM1305.5 129.3l10.5-3.5-6.4-1.1-10.5 3.5zM1299.6 128.3l10.5-3.5-6.4-.6-10.4 3.5zM1293.7 127.7l10.4-3.5-6.3-.1-10.4 3.5zM1345.1 138.7l10.5-2.4-6.7-4.2-10.5 2.4zM1338.9 135.4l10.5-2.4-6.6-3.7-10.5 2.4zM1332.8 132.5l10.5-2.4-6.6-3.2-10.5 2.4zM1326.7 130l10.5-3-6.5-2.1-10.5 3zM1320.7 128.1l10.5-3-6.5-1.6-10.4 3zM1314.7 126.6l10.4-3-6.5-1.1-10.4 2.9zM1308.7 125.6l10.4-2.9-6.4-.6-10.4 2.9zM1302.8 125l10.4-2.9-6.4-.1-10.4 2.9zM1296.9 124.9l10.4-2.9-6.3 .4-10.4 2.9zM1354.3 136.5l10.5-1.8-6.7-4.2-10.5 1.8zM1348.1 133.1l10.5-1.8-6.7-3.7-10.5 1.8zM1342 130.2l10.5-1.8-6.6-3.2-10.4 1.8zM1317.8 123.4l10.4-2.4-6.4-.6-10.4 2.4zM1311.9 122.8l10.4-2.4-6.4-.1-10.3 2.4zM1306 122.7l10.3-2.4-6.3 .4-10.3 2.4zM1300.1 123l10.3-2.4-6.3 .8-10.3 2.4zM1363.4 134.8l10.4-1.2-6.7-4.2-10.4 1.2zM1357.2 131.5l10.4-1.2-6.7-3.7-10.4 1.2zM1351.1 128.6l10.4-1.2-6.6-3.2-10.4 1.2zM1320.9 121.1l10.3-1.8-6.4-.1-10.3 1.8zM1315 121l10.3-1.8-6.4 .4-10.3 1.8zM1309.1 121.3l10.3-1.8-6.3 .8-10.2 1.8zM1372.6 133.7l10.4-.6-6.7-4.2-10.4 .6zM1366.3 130.3l10.4-.6-6.7-3.7-10.4 .6zM1360.2 127.4l10.4-.6-6.6-3.2-10.3 .6zM1329.9 120l10.3-1.2-6.4-.1-10.2 1.2zM1323.9 119.9l10.2-1.2-6.4 .4-10.2 1.2zM1318.1 119.6l10.2-.6-6.3 1.4-10.2 .6zM1381.6 133.1l10.3-.1-6.7-4.2-10.3 .1zM1375.4 129.7l10.3-.1-6.7-3.7-10.3 .1zM1369.2 126.8l10.3-.1-6.7-3.2-10.3 .1zM1338.8 119.4l10.2-.1-6.4-.7-10.2 .1zM1332.9 118.7l10.2-.1-6.4 1-10.2 .1zM1327 119l10.2-.1-6.4 1.4-10.2 .1zM1390.6 133l10.3 .5-6.8-4.2-10.3-.5zM1384.4 129.6l10.3 .5-6.7-3.7-10.3-.5zM1378.2 126.8l10.3 .5-6.7-3.2-10.2-.5zM1372 124.3l10.2 .5-6.6-2.7-10.2-.5zM1365.9 122.4l10.2 .5-6.6-2.2-10.2-.5zM1359.8 120.9l10.2 .5-6.6-1.7-10.2-.5zM1353.8 119.9l10.2 .5-6.5-1.2-10.2-.5zM1347.7 118.7l10.2 1.1-6.5-.1-10.2-1.1zM1341.8 118.6l10.2 1.1-6.4 .3-10.1-1.1zM1393.4 130.1l10.2 1.1-6.7-3.7-10.2-1.1zM1387.1 127.2l10.2 1.1-6.7-3.2-10.2-1.1zM1381 124.8l10.2 1.1-6.7-2.7-10.2-1.1zM1374.8 122.8l10.2 1.1-6.6-2.2-10.2-1.1zM1368.7 121.4l10.2 1.1-6.6-1.7-10.1-1.1zM1362.6 119.7l10.1 1.7-6.5-.6-10.1-1.6zM1356.6 119.1l10.1 1.6-6.5-.1-10.1-1.6zM1350.6 119l10.1 1.6-6.4 .3-10.1-1.6zM1389.8 125.8l10.1 1.6-6.7-2.7-10.1-1.6zM1383.7 123.2l10.1 2.2-6.6-1.6-10.1-2.2zM1377.5 121.7l10.1 2.2-6.6-1.1-10.1-2.2zM1371.5 120.7l10.1 2.2-6.5-.6-10.1-2.2z"/>
<path fill="#ff8b73" d="M1335.9 127.8l10.4-1.8-6.6-2.7-10.4 1.8zM1329.8 125.9l10.4-2.4-6.5-1.6-10.4 2.4zM1323.8 124.4l10.4-2.4-6.5-1.1-10.4 2.4zM1345 126.2l10.4-1.2-6.6-2.7-10.4 1.2zM1338.9 124.2l10.4-1.2-6.5-2.2-10.4 1.2zM1332.8 122.7l10.4-1.8-6.5-1.1-10.3 1.8zM1326.8 121.7l10.3-1.8-6.5-.6-10.3 1.8zM1354 125l10.3-.6-6.6-2.7-10.3 .6zM1347.9 123.1l10.3-.6-6.6-2.2-10.3 .6zM1341.9 121.6l10.3-.6-6.5-1.7-10.3 .6zM1335.9 120.6l10.3-1.2-6.5-.6-10.3 1.2zM1363.1 124.4l10.3-.1-6.6-2.7-10.3 .1zM1356.9 122.5l10.3-.1-6.6-2.2-10.3 .1zM1350.9 121l10.3-.1-6.5-1.7-10.2 .1zM1344.8 120l10.2-.1-6.5-1.2-10.2 .1z"/>
<path d="M1241.8 447.2Q1214 392.6 1187.1 357.6Q1160.9 323.6 1135.7 308.4Q1111.4 293.6 1088.2 296.7Q1065.8 299.8 1044.6 319.4Q1024.3 338.4 1005.2 372.7M1246.8 439.7Q1219 385.2 1192 350.3Q1165.8 316.4 1140.6 301.3Q1116.2 286.7 1092.9 289.9Q1070.4 293 1049.2 312.7Q1028.8 331.8 1009.6 366.2M1251.9 432.4Q1224 378 1197 343.2Q1170.7 309.3 1145.5 294.4Q1121 279.8 1097.6 283.1Q1075.1 286.3 1053.8 306.2Q1033.3 325.3 1014 359.9M1257 425.2Q1229.1 370.9 1202 336.2Q1175.6 302.5 1150.3 287.6Q1125.8 273.1 1102.4 276.5Q1079.7 279.8 1058.4 299.8Q1037.8 319 1018.4 353.6M1262.1 418.2Q1234.1 364 1206.9 329.4Q1180.5 295.7 1155.2 280.9Q1130.6 266.6 1107.1 270.1Q1084.4 273.5 1062.9 293.5Q1042.3 312.9 1022.9 347.5M1267.1 411.3Q1239.1 357.2 1211.9 322.7Q1185.5 289.1 1160 274.4Q1135.3 260.1 1111.8 263.7Q1089 267.2 1067.5 287.4Q1046.8 306.8 1027.3 341.6M1272.2 404.6Q1244.1 350.5 1216.9 316.1Q1190.4 282.6 1164.9 268Q1140.1 253.9 1116.5 257.6Q1093.7 261.1 1072.1 281.4Q1051.3 300.9 1031.7 335.7M1277.2 398Q1249.1 344 1221.8 309.7Q1195.3 276.3 1169.7 261.8Q1144.9 247.7 1121.2 251.5Q1098.3 255.2 1076.7 275.5Q1055.8 295.1 1036.1 330M1282.3 391.5Q1254.1 337.7 1226.8 303.4Q1200.2 270.1 1174.5 255.7Q1149.7 241.7 1125.9 245.6Q1103 249.3 1081.2 269.7Q1060.3 289.4 1040.5 324.4M1287.3 385.2Q1259.2 331.7 1231.9 297.6Q1205.4 264.4 1179.7 250Q1154.9 236 1131.2 239.7Q1108.2 243.4 1086.4 263.5Q1065.4 283 1045.7 317.8M1292.4 379.1Q1264.4 326 1237.3 292.1Q1210.8 259.1 1185.3 244.6Q1160.6 230.5 1136.9 233.9Q1114 237.3 1092.2 256.9Q1071.2 275.9 1051.5 310M1297.4 373.1Q1269.6 320.4 1242.6 286.7Q1216.3 253.9 1190.9 239.3Q1166.2 225.2 1142.6 228.3Q1119.7 231.3 1098 250.5Q1077.1 269 1057.3 302.4M1302.4 367.2Q1274.8 315.1 1247.9 281.5Q1221.7 248.9 1196.4 234.2Q1171.9 220 1148.3 222.8Q1125.5 225.5 1103.9 244.2Q1082.9 262.2 1063.2 294.9M1307.4 361.5Q1280 309.8 1253.2 276.5Q1227.2 244 1202 229.3Q1177.5 215 1154.1 217.4Q1131.3 219.8 1109.7 238Q1088.8 255.5 1069 287.6M1312.4 356Q1285.1 304.7 1258.5 271.6Q1232.6 239.3 1207.5 224.5Q1183.2 210.1 1159.8 212.2Q1137.1 214.3 1115.5 232Q1094.7 249 1074.9 280.4M1317.4 350.6Q1290.3 299.8 1263.9 266.8Q1238.1 234.7 1213.1 219.8Q1188.8 205.3 1165.5 207.2Q1142.9 209 1121.4 226.1Q1100.5 242.7 1080.8 273.4M1322.4 345.3Q1295.4 294.8 1269 262Q1243.2 230 1218.3 215.1Q1194.1 200.6 1170.7 202.3Q1148.2 204 1126.6 220.9Q1105.7 237.2 1086 267.7M1327.4 340.2Q1300.5 290.1 1274.3 257.5Q1248.7 225.7 1223.8 210.7Q1199.7 196.1 1176.5 197.5Q1154 198.9 1132.4 215.3Q1111.6 231.2 1091.9 261M1332.4 335.3Q1305.7 285.6 1279.6 253.2Q1254.1 221.5 1229.4 206.5Q1205.4 191.8 1182.2 192.9Q1159.8 194 1138.3 209.9Q1117.5 225.3 1097.8 254.4M1337.3 330.4Q1310.8 281.3 1284.8 249Q1259.5 217.5 1234.9 202.4Q1211 187.7 1188 188.5Q1165.6 189.2 1144.2 204.6Q1123.5 219.5 1103.7 248M1342.3 325.8Q1315.9 277 1290.1 245Q1265 213.7 1240.5 198.5Q1216.7 183.6 1193.7 184.1Q1171.4 184.6 1150.1 199.5Q1129.4 214 1109.7 241.8M1347.3 321.3Q1321.1 273 1295.4 241.1Q1270.4 210 1246 194.7Q1222.3 179.8 1199.5 180Q1177.3 180.2 1156 194.6Q1135.3 208.5 1115.7 235.7M1352.2 316.9Q1326.2 269.1 1300.7 237.4Q1275.8 206.4 1251.6 191Q1228 176.1 1205.2 176Q1183.1 175.9 1161.9 189.8Q1141.3 203.3 1121.6 229.8M1357.1 312.7Q1331.3 265.3 1305.9 233.8Q1281.2 203 1257.1 187.5Q1233.7 172.5 1211 172.1Q1188.9 171.7 1167.8 185.1Q1147.2 198.1 1127.6 224M1362.1 308.6Q1336.4 261.6 1311.2 230.3Q1286.6 199.7 1262.7 184.2Q1239.3 169.1 1216.7 168.4Q1194.8 167.7 1173.7 180.6Q1153.2 193.2 1133.6 218.4M1367 304.7Q1341.5 258.2 1316.5 227Q1292 196.6 1268.2 181Q1245 165.8 1222.5 164.8Q1200.6 163.9 1179.6 176.3Q1159.2 188.4 1139.6 213M1371.9 300.9Q1346.6 254.8 1321.7 223.9Q1297.4 193.6 1273.7 177.9Q1250.6 162.7 1228.2 161.4Q1206.5 160.2 1185.5 172.1Q1165.1 183.7 1145.6 207.7M1376.8 297.3Q1351.6 251.6 1326.9 220.8Q1302.8 190.7 1279.2 175Q1256.3 159.7 1234 158.1Q1212.3 156.6 1191.4 168.1Q1171.1 179.3 1151.7 202.6M1381.7 293.8Q1356.7 248.6 1332.2 218Q1308.2 188 1284.8 172.3Q1261.9 156.9 1239.7 155Q1218.2 153.2 1197.3 164.2Q1177.1 174.9 1157.7 197.7M1386.5 290.5Q1361.9 245.9 1337.6 215.5Q1313.8 185.8 1290.7 169.9Q1268 154.4 1246 152.1Q1224.6 149.9 1203.9 160.2Q1183.8 170.2 1164.5 192M1391.4 287.3Q1366.9 243.1 1342.8 212.9Q1319.2 183.4 1296.2 167.5Q1273.7 151.9 1251.8 149.3Q1230.5 146.8 1209.9 156.7Q1189.9 166.2 1170.6 187.4M1396.3 284.2Q1371.9 240.5 1348 210.5Q1324.6 181.1 1301.7 165.1Q1279.3 149.5 1257.5 146.7Q1236.3 143.9 1215.8 153.3Q1195.9 162.4 1176.7 182.9M1401.1 281.3Q1377 238 1353.2 208.2Q1329.9 179 1307.2 163Q1284.9 147.3 1263.3 144.2Q1242.2 141.1 1221.7 150.1Q1201.9 158.7 1182.7 178.6M1405.9 278.6Q1382 235.7 1358.4 206.1Q1335.3 177.1 1312.7 160.9Q1290.6 145.2 1269 141.8Q1248 138.5 1227.7 147Q1207.9 155.2 1188.8 174.5M1410.8 276Q1387 233.5 1363.6 204.1Q1340.6 175.2 1318.1 159.1Q1296.2 143.3 1274.8 139.6Q1253.9 136.1 1233.6 144.1Q1213.9 151.9 1194.9 170.6M1415.6 273.5Q1392 231.4 1368.7 202.2Q1346 173.6 1323.6 157.3Q1301.8 141.5 1280.5 137.6Q1259.7 133.8 1239.6 141.3Q1220 148.7 1201 166.8M1420.4 271.2Q1397 229.5 1373.9 200.5Q1351.3 172 1329.1 155.7Q1307.4 139.9 1286.2 135.7Q1265.6 131.6 1245.5 138.7Q1226 145.7 1207.1 163.2M1425.1 269Q1396.3 217.8 1368 185.7Q1340.4 154.4 1313.5 141.4Q1287.4 128.8 1262.1 133.6Q1237.6 138.1 1214.1 159M1429.9 267Q1401.3 216.3 1373.2 184.4Q1345.8 153.2 1319.1 140Q1293.1 127.2 1268 131.5Q1243.6 135.6 1220.2 155.7M1434.7 265.1Q1406.3 214.9 1378.4 183.1Q1351.2 152.1 1324.7 138.8Q1298.9 125.8 1273.9 129.6Q1249.6 133.3 1226.3 152.6M1439.4 263.3Q1411.3 213.7 1383.6 182.1Q1356.7 151.2 1330.3 137.7Q1304.7 124.5 1279.8 127.9Q1255.7 131.1 1232.4 149.7M1444.1 261.7Q1416.4 212.9 1389.1 181.4Q1362.4 150.8 1336.4 137Q1311 123.6 1286.4 126.2Q1262.5 128.7 1239.4 146.3M1448.9 260.3Q1421.4 211.9 1394.3 180.7Q1367.8 150.2 1341.9 136.2Q1316.7 122.6 1292.3 124.8Q1268.5 126.9 1245.6 143.7M1453.6 259Q1426.3 211.1 1399.4 180Q1373.2 149.7 1347.5 135.6Q1322.5 121.8 1298.2 123.5Q1274.5 125.2 1251.7 141.3M1458.3 257.8Q1431.3 210.4 1404.6 179.5Q1378.6 149.4 1353.1 135.1Q1328.2 121.2 1304.1 122.4Q1280.6 123.6 1257.9 139.1M1462.9 256.7Q1436.3 210.1 1410 179.5Q1384.3 149.5 1359.1 135Q1334.6 120.9 1310.6 121.4Q1287.4 122 1264.9 136.5M1467.6 255.8Q1441.2 209.7 1415.1 179.2Q1389.7 149.5 1364.7 134.8Q1340.3 120.5 1316.5 120.7Q1293.4 120.8 1271 134.6M1472.3 255.1Q1446.1 209.5 1420.3 179.2Q1395 149.6 1370.2 134.8Q1346 120.3 1322.4 120.1Q1299.5 119.8 1277.2 132.9M1476.9 254.5Q1451.1 209.6 1425.6 179.5Q1400.7 150.2 1376.2 135.1Q1352.3 120.5 1329 119.6Q1306.3 118.7 1284.3 130.9M1481.5 254Q1456 209.6 1430.7 179.7Q1406 150.5 1381.8 135.4Q1358.1 120.6 1334.9 119.3Q1312.3 118.1 1290.4 129.6M1486.1 253.7Q1460.9 209.8 1435.8 180.1Q1411.4 151 1387.3 135.8Q1363.8 120.9 1340.8 119.2Q1318.4 117.5 1296.6 128.4M1490.7 253.5Q1465.8 210.3 1441.2 180.9Q1417 152.1 1393.3 136.6Q1370.1 121.6 1347.4 119.3Q1325.2 117.1 1303.7 127M1495.3 253.4Q1470.7 210.7 1446.2 181.5Q1422.3 152.9 1398.8 137.3Q1375.8 122.1 1353.2 119.5Q1331.3 116.9 1309.8 126.2M1499.9 253.5Q1475.5 211.3 1451.3 182.3Q1427.6 153.8 1404.3 138.2Q1381.5 122.9 1359.1 119.8Q1337.3 116.9 1316 125.6M1504.4 253.7Q1480.4 212.2 1456.6 183.5Q1433.2 155.3 1410.2 139.5Q1387.7 124 1365.7 120.4Q1344.1 116.9 1323.1 124.8M1509 254Q1485.2 213.1 1461.6 184.5Q1438.5 156.5 1415.7 140.6Q1393.4 125 1371.5 121.1Q1350.2 117.3 1329.3 124.5M1513.5 254.5Q1490.1 214.2 1466.9 186Q1444.1 158.3 1421.7 142.2Q1399.7 126.5 1378.1 122.1Q1357 117.7 1336.4 124.1M1518 255.1Q1494.8 215.3 1471.9 187.3Q1449.4 159.8 1427.1 143.6Q1405.3 127.9 1383.9 123.1Q1363 118.4 1342.6 124.2M1522.5 255.9Q1499.7 216.8 1477.1 189Q1455 161.8 1433 145.6Q1411.6 129.7 1390.5 124.4Q1369.9 119.2 1349.7 124.3M1526.9 256.8Q1504.4 218.2 1482.1 190.6Q1460.2 163.6 1438.5 147.3Q1417.2 131.3 1396.3 125.7Q1375.9 120.2 1355.8 124.7M1531.4 257.8Q1502 207.4 1472.9 175.9Q1444.5 145.1 1416.5 132.5Q1389.4 120.2 1363 125.2M1535.8 258.9Q1506.8 209.2 1478 177.8Q1449.9 147.2 1422.2 134.3Q1395.4 121.8 1369.1 126M1540.2 260.2Q1511.7 211.4 1483.4 180.3Q1455.8 149.9 1428.6 136.6Q1402.1 123.6 1376.2 126.9M1544.6 261.6Q1516.4 213.5 1488.5 182.5Q1461.1 152.3 1434.2 138.7Q1408 125.5 1382.4 128.1M1549 263.2Q1521.3 215.9 1493.9 185.3Q1467 155.3 1440.6 141.3Q1414.8 127.7 1389.5 129.4M1553.4 264.9Q1526.1 218.2 1498.9 187.7Q1472.4 158 1446.2 143.8Q1420.7 129.9 1395.7 130.9M1557.8 266.7Q1530.9 221 1504.3 190.8Q1478.2 161.2 1452.5 146.7Q1427.4 132.5 1402.8 132.7M1562.1 268.6Q1535.8 223.8 1509.6 193.9Q1484.1 164.7 1458.8 149.8Q1434.1 135.3 1409.9 134.6M1566.4 270.7Q1540.5 226.5 1514.6 196.8Q1489.4 167.8 1464.4 152.7Q1440 138 1416.1 136.7M1570.7 272.8Q1545.3 229.6 1520 200.2Q1495.2 171.5 1470.7 156.2Q1446.8 141.2 1423.2 139.1M1575 275.2Q1549.9 232.6 1524.9 203.4Q1500.5 174.9 1476.3 159.3Q1452.6 144.2 1429.3 141.6M1579.3 277.6Q1554.7 235.9 1530.2 207.1Q1506.3 178.9 1482.5 163.1Q1459.3 147.7 1436.5 144.4M1583.5 280.2Q1559.5 239.4 1535.5 210.9Q1512 183 1488.8 167.1Q1466 151.5 1443.6 147.4M1587.7 282.8Q1564.2 243 1540.8 214.9Q1517.8 187.3 1495 171.2Q1472.7 155.4 1450.7 150.6M1592 285.7Q1568.8 246.4 1545.7 218.6Q1523 191.2 1500.5 175Q1478.5 159.1 1456.8 153.9M1596.2 288.6Q1573.5 250.3 1550.9 222.8Q1528.8 195.8 1506.8 179.4Q1485.2 163.4 1463.9 157.5M1600.3 291.7Q1578.2 254.2 1556.1 227.2Q1534.5 200.6 1512.9 184Q1491.8 167.9 1471 161.4M1604.5 294.8Q1582.9 258.3 1561.4 231.7Q1540.2 205.4 1519.1 188.8Q1498.5 172.5 1478.1 165.5M1608.6 298.1Q1587.4 262.2 1566.2 235.9Q1545.3 209.9 1524.6 193.2Q1504.3 176.9 1484.1 169.5M1612.8 301.6Q1592 266.6 1571.4 240.6Q1551 215.1 1530.8 198.3Q1510.9 181.9 1491.2 174M1616.9 305.1Q1596.7 271 1576.5 245.5Q1556.7 220.4 1536.9 203.6Q1517.5 187.1 1498.3 178.8M1620.9 308.8Q1591.6 259.2 1562.2 227.7Q1533.7 197 1505.4 183.7M1625 312.5Q1596.4 264.3 1567.9 233.2Q1540 202.8 1512.4 188.9M1629 316.4Q1601 269.1 1573 238.2Q1545.6 208.1 1518.5 193.8M1633.1 320.4Q1605.8 274.4 1578.5 244Q1551.9 214.2 1525.5 199.4M1637.1 324.6Q1610.6 279.9 1584.1 249.9Q1558.2 220.5 1532.5 205.3M1641.1 328.8Q1615.4 285.5 1589.7 255.9Q1564.5 226.9 1539.5 211.3M1645 333.1Q1620.1 291.2 1595.2 262.1Q1570.8 233.6 1546.5 217.6M1649 337.6Q1624.9 297 1600.7 268.4Q1577.1 240.4 1553.5 224.1M1241.8 447.2Q1286.3 381 1330.4 337.2Q1373.9 294 1416.5 273Q1458.4 252.4 1499 253.4Q1538.6 254.5 1576.7 276.1Q1613.8 297.2 1649 337.6M1238.1 440Q1282.5 374 1326.6 330.3Q1370.1 287.1 1412.7 266.2Q1454.5 245.7 1495.1 246.8Q1534.7 247.9 1572.8 269.6Q1609.9 290.7 1645.1 331.1M1234.4 433Q1278.8 367.1 1322.8 323.5Q1366.2 280.4 1408.8 259.6Q1450.6 239.2 1491.2 240.3Q1530.8 241.4 1568.9 263.2Q1606 284.3 1641.2 324.8M1230.7 426.2Q1275.1 360.4 1319.1 316.9Q1362.4 273.9 1405 253.2Q1446.7 232.8 1487.3 234Q1526.9 235.2 1565 257Q1602.1 278.1 1637.3 318.7M1227.1 419.6Q1271.4 353.9 1315.3 310.4Q1358.6 267.6 1401.1 246.9Q1442.9 226.6 1483.4 227.9Q1523 229.1 1561.1 250.9Q1598.2 272.1 1633.4 312.7M1223.4 413.2Q1267.7 347.5 1311.6 304.2Q1354.8 261.5 1397.3 240.8Q1439 220.6 1479.5 221.9Q1519.1 223.2 1557.2 245Q1594.3 266.3 1629.6 306.8M1219.8 406.9Q1264 341.4 1307.8 298.1Q1351.1 255.5 1393.5 234.9Q1435.2 214.8 1475.7 216.1Q1515.3 217.5 1553.3 239.3Q1590.4 260.6 1625.7 301.2M1216.2 400.8Q1260.3 335.4 1304.1 292.3Q1347.3 249.7 1389.7 229.2Q1431.4 209.1 1471.8 210.5Q1511.4 211.9 1549.5 233.8Q1586.5 255.1 1621.8 295.7M1212.6 394.9Q1256.7 329.6 1300.4 286.6Q1343.5 244.1 1385.9 223.7Q1427.5 203.6 1468 205.1Q1507.5 206.5 1545.6 228.4Q1582.7 249.8 1618 290.3M1209 389.2Q1253 324 1296.7 281Q1339.8 238.7 1382.2 218.3Q1423.7 198.3 1464.2 199.8Q1503.7 201.3 1541.8 223.2Q1578.8 244.6 1614.1 285.2M1205.4 383.6Q1249.4 318.6 1293 275.7Q1336.1 233.4 1378.4 213.1Q1419.9 193.2 1460.3 194.7Q1499.9 196.2 1537.9 218.2Q1574.9 239.6 1610.3 280.2M1201.9 378.2Q1245.8 313.3 1289.3 270.5Q1332.4 228.3 1374.6 208.1Q1416.1 188.3 1456.5 189.8Q1496 191.4 1534.1 213.3Q1571.1 234.7 1606.4 275.3M1198.3 373Q1242.1 308.2 1285.7 265.5Q1328.6 223.4 1370.9 203.3Q1412.4 183.5 1452.7 185.1Q1492.2 186.6 1530.2 208.6Q1567.3 230 1602.6 270.6M1194.8 368Q1238.6 303.3 1282 260.7Q1325 218.7 1367.2 198.6Q1408.6 178.9 1448.9 180.5Q1488.4 182.1 1526.4 204.1Q1563.4 225.5 1598.8 266.1M1191.3 363.2Q1235 298.6 1278.4 256.1Q1321.3 214.1 1363.4 194.1Q1404.8 174.4 1445.2 176.1Q1484.6 177.7 1522.6 199.7Q1559.6 221.2 1595 261.7M1187.8 358.5Q1231.4 294.1 1274.8 251.6Q1317.6 209.8 1359.7 189.8Q1401.1 170.2 1441.4 171.9Q1480.8 173.5 1518.8 195.5Q1555.8 217 1591.1 257.5M1184.3 354Q1227.9 289.7 1271.2 247.4Q1313.9 205.6 1356 185.6Q1397.4 166.1 1437.6 167.8Q1477 169.5 1515 191.5Q1552 212.9 1587.3 253.5M1180.8 349.7Q1224.3 285.5 1267.6 243.2Q1310.3 201.5 1352.3 181.7Q1393.6 162.2 1433.9 163.9Q1473.2 165.6 1511.2 187.6Q1548.2 209.1 1583.5 249.6M1177.3 345.6Q1220.8 281.5 1264 239.3Q1306.7 197.7 1348.7 177.9Q1389.9 158.4 1430.1 160.2Q1469.5 161.9 1507.4 183.9Q1544.4 205.3 1579.7 245.8M1173.9 341.6Q1217.3 277.6 1260.4 235.5Q1303 194 1345 174.2Q1386.2 154.8 1426.4 156.6Q1465.7 158.4 1503.6 180.4Q1540.6 201.8 1576 242.2M1170.5 337.8Q1213.8 273.9 1256.9 231.9Q1299.4 190.5 1341.3 170.8Q1382.5 151.4 1422.7 153.2Q1461.9 155 1499.9 177Q1536.8 198.4 1572.2 238.8M1167.1 334.2Q1210.3 270.4 1253.4 228.5Q1295.8 187.1 1337.7 167.5Q1378.8 148.2 1419 150Q1458.2 151.8 1496.1 173.8Q1533.1 195.2 1568.4 235.5M1163.7 330.7Q1206.8 267.1 1249.8 225.3Q1292.3 184 1334.1 164.4Q1375.2 145.1 1415.3 146.9Q1454.5 148.7 1492.4 170.7Q1529.3 192.1 1564.7 232.4M1160.3 327.5Q1203.4 263.9 1246.3 222.2Q1288.7 181 1330.5 161.4Q1371.5 142.2 1411.6 144Q1450.8 145.8 1488.7 167.8Q1525.6 189.2 1560.9 229.5M1156.9 324.3Q1200 260.9 1242.8 219.3Q1285.2 178.1 1326.9 158.6Q1367.9 139.4 1407.9 141.3Q1447.1 143.1 1484.9 165Q1521.8 186.4 1557.2 226.7M1153.6 321.4Q1196.5 258.1 1239.3 216.5Q1281.6 175.5 1323.3 156Q1364.2 136.8 1404.2 138.7Q1443.4 140.5 1481.2 162.5Q1518.1 183.8 1553.4 224M1150.2 318.6Q1192.5 256.3 1234.7 215.1Q1276.3 174.4 1317.4 154.6Q1357.7 135.2 1397.2 136.2Q1435.8 137.1 1473.2 157.6Q1509.7 177.6 1544.7 216M1146.9 316Q1188.5 254.7 1230 213.9Q1271 173.5 1311.4 153.5Q1351.2 133.8 1390.2 133.9Q1428.3 134 1465.3 153.1Q1501.3 171.7 1536 208.2M1143.6 313.6Q1184.5 253.3 1225.4 212.8Q1265.7 172.8 1305.5 152.5Q1344.8 132.6 1383.1 131.8Q1420.8 131.1 1457.3 148.8Q1492.9 166.1 1527.2 200.8M1140.3 311.3Q1180.6 252 1220.7 211.9Q1260.4 172.3 1299.7 151.8Q1338.3 131.6 1376.1 130Q1413.2 128.4 1449.3 144.8Q1484.5 160.8 1518.5 193.8M1137 309.2Q1176.6 250.9 1216.1 211.2Q1255.2 172 1293.8 151.2Q1331.8 130.8 1369.1 128.4Q1405.7 126.1 1441.3 141.1Q1476.1 155.9 1509.7 187.1M1133.8 307.2Q1172.7 250 1211.5 210.7Q1249.9 171.8 1288 150.8Q1325.4 130.2 1362.2 127Q1398.2 123.9 1433.4 137.7Q1467.7 151.2 1500.9 180.8M1130.6 305.4Q1168.6 249.4 1206.7 210.6Q1244.3 172.2 1281.5 151Q1318.2 130.1 1354.3 126Q1389.7 122 1424.3 134.2Q1458.1 146.2 1490.9 173.7M1127.3 303.8Q1164.8 248.8 1202.1 210.4Q1239.1 172.4 1275.7 151Q1311.8 129.9 1347.4 125.1Q1382.3 120.4 1416.3 131.4Q1449.7 142.2 1482 168.1M1124.1 302.3Q1160.9 248.3 1197.6 210.3Q1233.9 172.8 1269.9 151.2Q1305.5 130 1340.4 124.5Q1374.8 119.1 1408.4 128.9Q1441.3 138.6 1473.2 162.8M1120.9 301Q1157 248 1193.1 210.4Q1228.8 173.3 1264.2 151.6Q1299.1 130.2 1333.5 124.1Q1367.3 118 1400.4 126.7Q1432.9 135.2 1464.4 157.9M1117.8 299.9Q1153 248 1188.3 211Q1223.2 174.4 1257.8 152.6Q1292 131 1325.7 124.1Q1358.9 117.2 1391.4 124.5Q1423.2 131.7 1454.3 152.4M1114.6 298.9Q1149.2 248 1183.8 211.5Q1218.1 175.3 1252.1 153.3Q1285.7 131.7 1318.8 124.1Q1351.4 116.7 1383.4 122.9Q1414.8 129 1445.4 148.3M1111.5 298.1Q1145.4 248.2 1179.4 212.1Q1213 176.3 1246.4 154.3Q1279.4 132.6 1311.9 124.4Q1344 116.4 1375.5 121.6Q1406.4 126.7 1436.6 144.5M1108.4 297.4Q1149.7 236.5 1191.1 196.3Q1231.9 156.5 1272.4 137.2Q1312.1 118.2 1351.1 119.2Q1389.3 120.2 1426.4 140.3M1105.3 296.9Q1145.8 237.2 1186.3 197.4Q1226.4 158.1 1266.1 138.4Q1305.1 119.1 1343.4 118.9Q1381 118.8 1417.5 137.2M1102.2 296.5Q1141.9 238.1 1181.6 198.7Q1220.9 159.8 1259.8 139.8Q1298.1 120.1 1335.8 118.9Q1372.7 117.8 1408.7 134.5M1099.1 296.3Q1137.8 239.3 1176.6 200.5Q1214.9 162.1 1252.9 141.7Q1290.3 121.7 1327.1 119.3Q1363.2 116.9 1398.5 131.6M1096.1 296.2Q1133.8 240.7 1171.5 202.5Q1208.9 164.6 1245.9 143.9Q1282.5 123.5 1318.4 119.9Q1353.7 116.4 1388.3 129.1M1093 296.3Q1129.9 242 1166.9 204.2Q1203.4 166.9 1239.7 145.9Q1275.5 125.3 1310.8 120.8Q1345.5 116.4 1379.4 127.5M1090 296.5Q1125.9 243.7 1161.9 206.6Q1197.5 169.8 1232.8 148.6Q1267.7 127.6 1302.2 122.1Q1336 116.6 1369.2 125.9M1087 296.9Q1122.1 245.3 1157.3 208.6Q1192.1 172.3 1226.7 151Q1260.9 129.9 1294.6 123.5Q1327.8 117.2 1360.3 125.1M1084 297.5Q1118.1 247.3 1152.3 211.3Q1186.2 175.6 1219.8 154Q1253.1 132.8 1286 125.4Q1318.3 118.1 1350.1 124.4M1081 298.1Q1114.2 249.4 1147.4 214.1Q1180.3 179 1213 157.3Q1245.4 135.9 1277.4 127.6Q1308.9 119.5 1339.9 124.1M1078.1 299Q1110.3 251.7 1142.5 217Q1174.4 182.6 1206.2 160.8Q1237.7 139.3 1268.8 130.2Q1299.5 121.2 1329.7 124.3M1075.2 299.9Q1106.5 253.8 1138 219.7Q1169.1 185.9 1200.2 164.1Q1230.9 142.5 1261.3 132.7Q1291.3 123.1 1320.9 125.1M1072.3 301.1Q1112.7 241.5 1153.3 202.1Q1193.3 163.1 1233.1 144.1Q1272.2 125.4 1310.7 126.2M1069.4 302.3Q1108.5 244.7 1147.8 205.9Q1186.6 167.6 1225.2 148Q1263.1 128.6 1300.5 127.7M1066.5 303.7Q1104.4 248 1142.3 209.9Q1179.9 172.2 1217.2 152.1Q1254 132.3 1290.3 129.7M1063.6 305.3Q1100.2 251.4 1136.9 214.1Q1173.2 177.1 1209.4 156.5Q1245 136.3 1280.1 132.1M1060.8 306.9Q1096.1 255 1131.5 218.4Q1166.6 182.1 1201.5 161.2Q1235.9 140.6 1270 135M1058 308.8Q1092 258.7 1126.1 222.9Q1160 187.4 1193.6 166.2Q1226.9 145.3 1259.8 138.4M1055.1 310.7Q1087.9 262.5 1120.8 227.5Q1153.4 192.9 1185.8 171.5Q1217.9 150.3 1249.7 142.2M1052.4 312.8Q1083.6 266.8 1115 232.9Q1146.1 199.2 1177.1 177.7Q1207.8 156.3 1238.2 146.9M1049.6 315.1Q1079.6 270.9 1109.7 237.9Q1139.5 205.1 1169.3 183.5Q1198.8 162.1 1228.1 151.7M1046.8 317.4Q1075.6 275.1 1104.4 243Q1133 211.2 1161.6 189.6Q1189.9 168.2 1218 157M1044.1 319.9Q1071.3 279.8 1098.7 248.9Q1125.8 218.2 1152.9 196.7Q1179.8 175.5 1206.6 163.3M1041.4 322.6Q1080.3 265.2 1119.4 226.7Q1158.1 188.7 1196.5 169.5M1038.7 325.3Q1075.8 270.7 1113 233.2Q1149.8 196.1 1186.5 176.2M1036 328.2Q1070.9 276.8 1105.9 240.6Q1140.6 204.8 1175.1 184.1M1033.3 331.2Q1066 283.1 1098.8 248.3Q1131.3 213.8 1163.8 192.6M1030.7 334.4Q1061.5 288.9 1092.5 255.4Q1123.2 222.1 1153.9 200.7M1028 337.7Q1056.7 295.4 1085.5 263.5Q1114 231.8 1142.6 210.3M1025.4 341.1Q1051.9 302 1078.5 271.8Q1104.9 241.7 1131.3 220.5M1022.8 344.6Q1047.5 308.2 1072.2 279.5Q1096.9 250.9 1121.5 230M1020.3 348.2Q1042.8 315 1065.3 288.2Q1087.8 261.5 1110.3 241.2M1017.7 352Q1038 322 1058.5 297.2Q1078.8 272.5 1099.1 253M1015.2 355.9Q1051.5 302.3 1088 265.3M1012.6 359.9Q1044.7 312.5 1077 278.2M1010.1 364Q1037.3 323.9 1064.6 293.2M1007.6 368.3Q1030.6 334.4 1053.6 307.2M1005.2 372.7Q1023.9 345 1042.7 321.8" fill="none" stroke="#0c0c06" stroke-opacity="0.86" stroke-width="1.45"/>
<path d="M1028.4 1178.2L1014.8 803.6M1397.1 1117.6L1400.8 775.1M1664.7 1215.1L1682.4 822.8M1025.1 1087.4L1398 1034.6L1669 1120M1022.5 1016.4L1398.7 969.7L1672.3 1045.7M1020 945.5L1399.4 904.8L1675.7 971.4M1017.4 874.5L1400.1 839.9L1679 897.1M1014.8 803.6L1400.8 775.1L1682.4 822.8M1111.3 796.5L1118.4 1074.2M1471.2 787L1465.8 1055.9M1207.8 789.3L1211.6 1061M1541.6 798.9L1533.5 1077.3M1304.3 782.2L1304.8 1047.8M1612 810.9L1601.2 1098.6" fill="none" stroke="#151515" stroke-width="1.3"/>
<circle cx="1025.1" cy="1087.4" r="2.1" fill="#111"/>
<text x="1015.9" y="1083.4" font-size="18.4" font-family="Liberation Sans, sans-serif" text-anchor="end" fill="#222" stroke="#222" stroke-width=".35" textLength="17" lengthAdjust="spacingAndGlyphs" >70</text>
<circle cx="1022.5" cy="1016.4" r="2.1" fill="#111"/>
<text x="1013.3" y="1012.4" font-size="18.4" font-family="Liberation Sans, sans-serif" text-anchor="end" fill="#222" stroke="#222" stroke-width=".35" textLength="17" lengthAdjust="spacingAndGlyphs" >75</text>
<circle cx="1020" cy="945.5" r="2.1" fill="#111"/>
<text x="1010.8" y="941.5" font-size="18.4" font-family="Liberation Sans, sans-serif" text-anchor="end" fill="#222" stroke="#222" stroke-width=".35" textLength="17" lengthAdjust="spacingAndGlyphs" >80</text>
<circle cx="1017.4" cy="874.5" r="2.1" fill="#111"/>
<text x="1008.2" y="870.5" font-size="18.4" font-family="Liberation Sans, sans-serif" text-anchor="end" fill="#222" stroke="#222" stroke-width=".35" textLength="17" lengthAdjust="spacingAndGlyphs" >85</text>
<circle cx="1014.8" cy="803.6" r="2.1" fill="#111"/>
<text x="1005.6" y="799.6" font-size="18.4" font-family="Liberation Sans, sans-serif" text-anchor="end" fill="#222" stroke="#222" stroke-width=".35" textLength="17" lengthAdjust="spacingAndGlyphs" >90</text>
<polygon points="1028.4,1178.2 1264.1,1297 1664.7,1215.1 1397.1,1117.6" fill="#ffff00"/>
<g clip-path="url(#c5)" fill="none" stroke-width="1.6">
<polygon stroke="#5976bb" points="1651.7,1146.9 1639.8,1142.9 1627.3,1139.2 1614.4,1135.6 1601,1132.2 1587.1,1129.1 1572.9,1126.1 1558.4,1123.3 1543.5,1120.7 1528.3,1118.3 1512.9,1116.2 1497.3,1114.2 1481.4,1112.5 1465.4,1110.9 1449.2,1109.6 1433,1108.5 1416.6,1107.6 1400.2,1107 1383.8,1106.5 1367.3,1106.3 1350.9,1106.3 1334.6,1106.5 1318.3,1106.9 1302.2,1107.5 1286.2,1108.4 1270.3,1109.5 1254.7,1110.8 1239.3,1112.3 1224.1,1114 1209.3,1115.9 1194.7,1118 1180.5,1120.4 1166.7,1122.9 1153.3,1125.7 1140.3,1128.7 1127.7,1131.8 1115.7,1135.2 1104.2,1138.7 1093.3,1142.5 1083,1146.4 1073.3,1150.5 1064.3,1154.8 1055.9,1159.2 1048.3,1163.8 1041.5,1168.6 1035.5,1173.5 1030.3,1178.5 1025.9,1183.7 1022.5,1188.9 1019.9,1194.3 1018.4,1199.8 1017.8,1205.3 1018.2,1210.9 1019.6,1216.6 1022,1222.3 1025.5,1228 1030.1,1233.7 1035.8,1239.3 1042.6,1245 1050.4,1250.6 1059.3,1256.1 1069.4,1261.5 1080.4,1266.8 1092.6,1271.9 1105.7,1276.9 1119.9,1281.7 1135,1286.3 1151.1,1290.7 1168,1294.8 1185.7,1298.7 1204.2,1302.2 1223.4,1305.5 1243.3,1308.5 1263.7,1311.1 1284.6,1313.4 1305.9,1315.3 1327.5,1316.8 1349.3,1318 1371.3,1318.8 1393.3,1319.2 1415.3,1319.2 1437.1,1318.8 1458.8,1318 1480.1,1316.8 1501,1315.3 1521.4,1313.4 1541.3,1311.1 1560.6,1308.5 1579.1,1305.6 1596.9,1302.3 1613.8,1298.7 1629.8,1294.9 1644.9,1290.8 1659.1,1286.4 1672.2,1281.8 1684.2,1277 1695.2,1272.1 1705.1,1266.9 1713.9,1261.7 1721.6,1256.3 1728.2,1250.8 1733.6,1245.2 1737.9,1239.6 1741.2,1234 1743.3,1228.3 1744.4,1222.6 1744.4,1216.9 1743.5,1211.3 1741.5,1205.7 1738.5,1200.2 1734.7,1194.7 1729.9,1189.4 1724.2,1184.1 1717.7,1179 1710.4,1173.9 1702.3,1169 1693.5,1164.3 1684,1159.7 1673.9,1155.2 1663.1,1151"/>
<polygon stroke="#59c6bb" points="1634,1150.1 1623,1146.4 1611.4,1142.9 1599.4,1139.5 1586.9,1136.3 1574,1133.3 1560.7,1130.5 1547.1,1127.9 1533.2,1125.5 1519,1123.2 1504.6,1121.2 1489.9,1119.3 1475.1,1117.7 1460.1,1116.2 1444.9,1115 1429.6,1114 1414.3,1113.1 1398.9,1112.5 1383.4,1112.1 1368,1111.8 1352.6,1111.8 1337.3,1112 1322,1112.4 1306.8,1113 1291.8,1113.8 1277,1114.8 1262.3,1116.1 1247.9,1117.5 1233.7,1119.1 1219.8,1120.9 1206.1,1123 1192.9,1125.2 1179.9,1127.6 1167.4,1130.2 1155.3,1133 1143.6,1136 1132.5,1139.1 1121.8,1142.5 1111.7,1146 1102.1,1149.7 1093.2,1153.6 1084.9,1157.6 1077.2,1161.7 1070.2,1166.1 1064,1170.5 1058.5,1175.1 1053.8,1179.8 1049.9,1184.6 1046.9,1189.5 1044.7,1194.5 1043.4,1199.6 1043,1204.8 1043.6,1210 1045.1,1215.2 1047.5,1220.5 1051,1225.7 1055.4,1231 1060.9,1236.3 1067.3,1241.5 1074.7,1246.6 1083.1,1251.7 1092.6,1256.7 1103,1261.5 1114.3,1266.2 1126.6,1270.8 1139.8,1275.2 1153.8,1279.4 1168.7,1283.4 1184.4,1287.2 1200.8,1290.7 1217.9,1294 1235.7,1297 1254,1299.7 1272.8,1302.1 1292,1304.1 1311.7,1305.9 1331.5,1307.3 1351.6,1308.3 1371.9,1309 1392.1,1309.4 1412.3,1309.4 1432.4,1309 1452.3,1308.3 1472,1307.3 1491.2,1305.9 1510.1,1304.1 1528.4,1302.1 1546.2,1299.7 1563.3,1297 1579.7,1294 1595.4,1290.8 1610.3,1287.3 1624.3,1283.5 1637.4,1279.5 1649.7,1275.3 1660.9,1270.9 1671.2,1266.4 1680.5,1261.7 1688.8,1256.8 1696.1,1251.9 1702.3,1246.8 1707.5,1241.7 1711.7,1236.5 1714.9,1231.3 1717.1,1226 1718.3,1220.8 1718.5,1215.5 1717.8,1210.3 1716.1,1205.1 1713.6,1200 1710.1,1194.9 1705.8,1189.9 1700.7,1185 1694.8,1180.2 1688.2,1175.5 1680.8,1170.9 1672.7,1166.5 1663.9,1162.2 1654.6,1158 1644.6,1154"/>
<polygon stroke="#59ffa2" points="1614.8,1153.7 1604.6,1150.2 1594,1146.9 1582.9,1143.8 1571.5,1140.8 1559.6,1138.1 1547.4,1135.4 1534.8,1133 1522,1130.7 1508.8,1128.6 1495.5,1126.7 1481.9,1125 1468.1,1123.4 1454.2,1122.1 1440.1,1120.9 1426,1119.9 1411.7,1119.1 1397.4,1118.6 1383.1,1118.2 1368.8,1117.9 1354.5,1117.9 1340.2,1118.1 1326,1118.5 1312,1119.1 1298,1119.8 1284.3,1120.8 1270.7,1121.9 1257.3,1123.2 1244.1,1124.8 1231.3,1126.5 1218.7,1128.4 1206.4,1130.4 1194.5,1132.7 1182.9,1135.1 1171.8,1137.7 1161,1140.5 1150.8,1143.5 1141,1146.6 1131.7,1149.9 1123,1153.3 1114.8,1156.9 1107.3,1160.6 1100.3,1164.5 1094.1,1168.5 1088.5,1172.6 1083.6,1176.8 1079.4,1181.2 1076,1185.6 1073.3,1190.1 1071.5,1194.7 1070.5,1199.4 1070.3,1204.1 1071,1208.9 1072.5,1213.7 1075,1218.5 1078.3,1223.4 1082.6,1228.2 1087.7,1233 1093.7,1237.7 1100.7,1242.4 1108.6,1247 1117.3,1251.5 1126.9,1255.9 1137.4,1260.2 1148.7,1264.3 1160.9,1268.3 1173.8,1272.1 1187.4,1275.7 1201.8,1279.1 1216.8,1282.3 1232.4,1285.2 1248.6,1287.9 1265.3,1290.4 1282.4,1292.5 1299.9,1294.4 1317.8,1295.9 1335.8,1297.2 1354.1,1298.1 1372.5,1298.8 1390.9,1299.1 1409.2,1299.1 1427.5,1298.8 1445.6,1298.2 1463.4,1297.2 1480.9,1296 1498.1,1294.4 1514.7,1292.5 1530.9,1290.4 1546.6,1288 1561.6,1285.3 1575.9,1282.4 1589.5,1279.2 1602.4,1275.8 1614.5,1272.2 1625.7,1268.4 1636.1,1264.5 1645.6,1260.3 1654.3,1256.1 1662,1251.7 1668.8,1247.2 1674.7,1242.6 1679.6,1237.9 1683.6,1233.2 1686.7,1228.4 1688.9,1223.6 1690.2,1218.8 1690.6,1214 1690.1,1209.2 1688.7,1204.5 1686.6,1199.8 1683.6,1195.1 1679.8,1190.5 1675.3,1186 1670,1181.5 1664,1177.2 1657.3,1173 1650,1168.8 1642.1,1164.8 1633.5,1161 1624.4,1157.2"/>
<polygon stroke="#59ff52" points="1593.4,1157.6 1584.3,1154.5 1574.7,1151.4 1564.7,1148.6 1554.3,1145.9 1543.6,1143.3 1532.5,1140.9 1521.1,1138.6 1509.4,1136.5 1497.4,1134.6 1485.3,1132.8 1472.9,1131.3 1460.3,1129.8 1447.6,1128.6 1434.8,1127.5 1421.8,1126.6 1408.8,1125.9 1395.8,1125.3 1382.7,1125 1369.6,1124.8 1356.5,1124.8 1343.5,1124.9 1330.6,1125.3 1317.7,1125.8 1305,1126.5 1292.4,1127.4 1280,1128.4 1267.8,1129.7 1255.8,1131.1 1244.1,1132.6 1232.6,1134.4 1221.5,1136.3 1210.7,1138.4 1200.2,1140.6 1190.1,1143 1180.4,1145.6 1171.1,1148.3 1162.3,1151.1 1154,1154.1 1146.1,1157.3 1138.8,1160.6 1132.1,1164 1125.9,1167.5 1120.4,1171.1 1115.4,1174.9 1111.1,1178.7 1107.5,1182.7 1104.6,1186.7 1102.3,1190.8 1100.9,1195 1100.1,1199.2 1100.1,1203.5 1100.9,1207.8 1102.5,1212.1 1104.9,1216.4 1108.1,1220.8 1112,1225.1 1116.8,1229.4 1122.5,1233.6 1128.9,1237.8 1136.1,1241.9 1144.1,1246 1152.8,1249.9 1162.4,1253.7 1172.6,1257.4 1183.6,1260.9 1195.3,1264.3 1207.6,1267.5 1220.5,1270.5 1234,1273.3 1248,1275.9 1262.5,1278.3 1277.4,1280.4 1292.7,1282.3 1308.4,1283.9 1324.3,1285.3 1340.4,1286.4 1356.7,1287.3 1373.1,1287.8 1389.5,1288.1 1405.9,1288.1 1422.2,1287.8 1438.3,1287.3 1454.2,1286.4 1469.9,1285.3 1485.2,1284 1500.1,1282.3 1514.6,1280.4 1528.6,1278.3 1542.1,1275.9 1555,1273.4 1567.2,1270.6 1578.8,1267.6 1589.7,1264.4 1599.9,1261 1609.4,1257.5 1618,1253.8 1625.9,1250 1633,1246.1 1639.2,1242.1 1644.7,1238 1649.3,1233.8 1653.1,1229.6 1656.1,1225.3 1658.2,1221 1659.5,1216.7 1660.1,1212.4 1659.8,1208.1 1658.8,1203.8 1657,1199.5 1654.5,1195.3 1651.2,1191.1 1647.3,1187 1642.6,1183 1637.4,1179.1 1631.5,1175.2 1625,1171.5 1617.9,1167.8 1610.2,1164.3 1602.1,1160.9"/>
<polygon stroke="#6dff15" points="1569.2,1162.1 1561.2,1159.3 1552.7,1156.6 1543.9,1154 1534.8,1151.6 1525.3,1149.3 1515.5,1147.1 1505.4,1145.1 1495,1143.2 1484.4,1141.5 1473.6,1139.9 1462.6,1138.4 1451.4,1137.2 1440.1,1136 1428.7,1135.1 1417.2,1134.2 1405.5,1133.6 1393.9,1133.1 1382.2,1132.8 1370.5,1132.6 1358.9,1132.6 1347.3,1132.7 1335.7,1133.1 1324.3,1133.5 1312.9,1134.2 1301.7,1135 1290.7,1135.9 1279.8,1137 1269.2,1138.3 1258.8,1139.7 1248.6,1141.3 1238.7,1143 1229.1,1144.9 1219.9,1146.9 1210.9,1149 1202.4,1151.3 1194.2,1153.7 1186.5,1156.3 1179.2,1159 1172.4,1161.8 1166,1164.7 1160.1,1167.7 1154.8,1170.9 1150,1174.1 1145.8,1177.5 1142.1,1180.9 1139.1,1184.4 1136.7,1187.9 1134.9,1191.6 1133.7,1195.2 1133.3,1199 1133.4,1202.7 1134.3,1206.5 1135.9,1210.3 1138.1,1214.1 1141.1,1217.9 1144.8,1221.7 1149.1,1225.4 1154.2,1229.1 1160,1232.8 1166.4,1236.3 1173.6,1239.8 1181.4,1243.2 1189.8,1246.5 1198.9,1249.7 1208.5,1252.8 1218.8,1255.7 1229.6,1258.4 1240.9,1261 1252.7,1263.4 1264.9,1265.7 1277.6,1267.7 1290.6,1269.5 1303.9,1271.1 1317.6,1272.6 1331.4,1273.7 1345.4,1274.7 1359.6,1275.4 1373.8,1275.9 1388.1,1276.1 1402.3,1276.1 1416.4,1275.9 1430.4,1275.4 1444.3,1274.7 1457.9,1273.8 1471.2,1272.6 1484.2,1271.2 1496.8,1269.6 1509.1,1267.7 1520.8,1265.7 1532.1,1263.5 1542.8,1261.1 1553,1258.5 1562.6,1255.8 1571.6,1252.9 1580,1249.8 1587.7,1246.7 1594.7,1243.4 1601,1240 1606.6,1236.5 1611.6,1232.9 1615.8,1229.3 1619.2,1225.6 1622,1221.9 1624.1,1218.1 1625.4,1214.3 1626.1,1210.6 1626,1206.8 1625.3,1203 1623.9,1199.2 1621.8,1195.5 1619.1,1191.8 1615.8,1188.2 1611.9,1184.7 1607.4,1181.2 1602.3,1177.8 1596.7,1174.4 1590.5,1171.2 1583.9,1168 1576.8,1165"/>
<polygon stroke="#beff15" points="1540.7,1167.3 1534,1164.9 1526.9,1162.6 1519.5,1160.4 1511.8,1158.3 1503.7,1156.3 1495.4,1154.4 1486.8,1152.7 1478,1151.1 1469,1149.6 1459.8,1148.2 1450.4,1146.9 1440.9,1145.8 1431.2,1144.9 1421.4,1144 1411.6,1143.3 1401.6,1142.8 1391.7,1142.3 1381.7,1142 1371.7,1141.9 1361.7,1141.9 1351.7,1142 1341.9,1142.3 1332.1,1142.7 1322.4,1143.3 1312.8,1143.9 1303.4,1144.8 1294.1,1145.7 1285,1146.8 1276.1,1148 1267.5,1149.4 1259.1,1150.9 1250.9,1152.5 1243.1,1154.2 1235.6,1156.1 1228.3,1158.1 1221.5,1160.2 1215,1162.4 1208.9,1164.7 1203.1,1167.1 1197.9,1169.6 1193,1172.2 1188.6,1174.9 1184.7,1177.6 1181.2,1180.5 1178.3,1183.4 1175.9,1186.3 1174,1189.4 1172.6,1192.4 1171.8,1195.6 1171.6,1198.7 1171.9,1201.9 1172.8,1205.1 1174.3,1208.2 1176.4,1211.4 1179,1214.6 1182.3,1217.8 1186.1,1220.9 1190.5,1224 1195.5,1227 1201,1230 1207.1,1232.9 1213.7,1235.7 1220.9,1238.4 1228.6,1241 1236.7,1243.5 1245.4,1245.9 1254.4,1248.2 1263.9,1250.3 1273.8,1252.3 1284,1254.1 1294.6,1255.8 1305.4,1257.3 1316.6,1258.6 1327.9,1259.8 1339.4,1260.8 1351,1261.5 1362.8,1262.1 1374.6,1262.5 1386.4,1262.7 1398.2,1262.7 1410,1262.5 1421.6,1262.1 1433.1,1261.6 1444.4,1260.8 1455.5,1259.8 1466.3,1258.7 1476.9,1257.4 1487.1,1255.9 1496.9,1254.2 1506.3,1252.4 1515.3,1250.4 1523.9,1248.3 1532,1246 1539.6,1243.6 1546.7,1241.1 1553.2,1238.5 1559.2,1235.8 1564.6,1233 1569.5,1230.1 1573.7,1227.2 1577.4,1224.1 1580.5,1221.1 1583,1217.9 1584.9,1214.8 1586.2,1211.6 1586.9,1208.5 1587,1205.3 1586.6,1202.1 1585.6,1198.9 1584,1195.8 1581.9,1192.7 1579.2,1189.6 1576.1,1186.6 1572.4,1183.6 1568.2,1180.7 1563.6,1177.9 1558.5,1175.1 1553,1172.4 1547.1,1169.8"/>
<polygon stroke="#ffef15" points="1505,1173.9 1499.9,1172 1494.4,1170.2 1488.7,1168.4 1482.7,1166.8 1476.5,1165.2 1470.1,1163.7 1463.4,1162.3 1456.5,1161 1449.5,1159.8 1442.3,1158.7 1434.9,1157.8 1427.5,1156.9 1419.9,1156.1 1412.2,1155.4 1404.5,1154.9 1396.7,1154.4 1388.8,1154.1 1381,1153.8 1373.1,1153.7 1365.3,1153.7 1357.5,1153.8 1349.7,1154 1342,1154.4 1334.4,1154.8 1326.9,1155.4 1319.5,1156 1312.2,1156.8 1305.1,1157.7 1298.2,1158.6 1291.4,1159.7 1284.9,1160.9 1278.5,1162.2 1272.5,1163.6 1266.6,1165 1261,1166.6 1255.8,1168.3 1250.8,1170 1246.1,1171.8 1241.7,1173.7 1237.7,1175.7 1234.1,1177.7 1230.8,1179.8 1227.8,1182 1225.3,1184.2 1223.2,1186.5 1221.4,1188.8 1220.1,1191.1 1219.2,1193.5 1218.8,1195.9 1218.7,1198.4 1219.2,1200.8 1220,1203.3 1221.3,1205.7 1223.1,1208.1 1225.3,1210.6 1227.9,1213 1231,1215.4 1234.5,1217.7 1238.4,1220 1242.8,1222.2 1247.6,1224.4 1252.8,1226.6 1258.3,1228.6 1264.3,1230.6 1270.6,1232.5 1277.2,1234.3 1284.2,1236 1291.5,1237.6 1299,1239 1306.8,1240.4 1314.9,1241.7 1323.1,1242.8 1331.5,1243.8 1340.1,1244.6 1348.9,1245.3 1357.7,1245.9 1366.6,1246.3 1375.5,1246.6 1384.5,1246.8 1393.4,1246.8 1402.3,1246.7 1411.1,1246.4 1419.8,1245.9 1428.4,1245.4 1436.8,1244.7 1445,1243.8 1453,1242.8 1460.8,1241.7 1468.3,1240.5 1475.5,1239.1 1482.5,1237.6 1489,1236.1 1495.3,1234.4 1501.1,1232.6 1506.6,1230.7 1511.7,1228.7 1516.4,1226.7 1520.7,1224.6 1524.5,1222.4 1527.9,1220.1 1530.9,1217.8 1533.4,1215.5 1535.5,1213.1 1537.1,1210.7 1538.2,1208.3 1539,1205.9 1539.2,1203.4 1539,1201 1538.4,1198.5 1537.4,1196.1 1535.9,1193.7 1534,1191.3 1531.7,1189 1529,1186.7 1525.9,1184.4 1522.4,1182.2 1518.6,1180 1514.4,1177.9 1509.9,1175.9"/>
<polygon stroke="#ff9e15" points="1451.6,1183.8 1448.7,1182.6 1445.6,1181.6 1442.4,1180.5 1439,1179.6 1435.4,1178.6 1431.7,1177.7 1427.9,1176.9 1423.9,1176.2 1419.8,1175.4 1415.7,1174.8 1411.4,1174.2 1407.1,1173.7 1402.6,1173.2 1398.2,1172.8 1393.7,1172.5 1389.1,1172.2 1384.5,1172 1379.9,1171.9 1375.3,1171.8 1370.7,1171.8 1366.2,1171.8 1361.6,1172 1357.1,1172.2 1352.7,1172.4 1348.3,1172.8 1344,1173.2 1339.8,1173.6 1335.7,1174.2 1331.6,1174.7 1327.7,1175.4 1324,1176.1 1320.3,1176.9 1316.8,1177.7 1313.5,1178.6 1310.3,1179.5 1307.3,1180.5 1304.5,1181.5 1301.9,1182.5 1299.5,1183.7 1297.3,1184.8 1295.3,1186 1293.5,1187.2 1291.9,1188.5 1290.6,1189.8 1289.5,1191.1 1288.6,1192.4 1288,1193.8 1287.6,1195.1 1287.5,1196.5 1287.6,1197.9 1287.9,1199.3 1288.6,1200.7 1289.4,1202 1290.6,1203.4 1291.9,1204.8 1293.5,1206.1 1295.4,1207.4 1297.5,1208.7 1299.8,1210 1302.4,1211.3 1305.1,1212.5 1308.1,1213.6 1311.3,1214.8 1314.7,1215.9 1318.3,1216.9 1322.1,1217.9 1326,1218.8 1330.1,1219.7 1334.3,1220.5 1338.7,1221.2 1343.2,1221.9 1347.8,1222.5 1352.5,1223 1357.2,1223.5 1362.1,1223.9 1367,1224.2 1371.9,1224.4 1376.8,1224.6 1381.8,1224.6 1386.7,1224.6 1391.6,1224.6 1396.5,1224.4 1401.3,1224.2 1406.1,1223.9 1410.8,1223.5 1415.3,1223 1419.8,1222.5 1424.1,1221.9 1428.3,1221.2 1432.4,1220.5 1436.3,1219.7 1440,1218.8 1443.5,1217.9 1446.9,1216.9 1450,1215.9 1453,1214.8 1455.7,1213.7 1458.2,1212.6 1460.4,1211.3 1462.4,1210.1 1464.2,1208.8 1465.8,1207.5 1467,1206.2 1468.1,1204.9 1468.9,1203.5 1469.4,1202.1 1469.7,1200.8 1469.7,1199.4 1469.5,1198 1469,1196.6 1468.3,1195.2 1467.4,1193.9 1466.2,1192.5 1464.7,1191.2 1463.1,1189.9 1461.2,1188.6 1459.1,1187.3 1456.8,1186.1 1454.3,1184.9"/>
</g>
<polygon points="1028.4,1178.2 1264.1,1297 1664.7,1215.1 1397.1,1117.6" fill="none" stroke="#222" stroke-width="1.3"/>
<circle cx="1205.2" cy="1267.3" r="2.2" fill="#111"/>
<circle cx="1364.3" cy="1276.5" r="2.2" fill="#111"/>
<circle cx="1146.3" cy="1237.6" r="2.2" fill="#111"/>
<circle cx="1464.4" cy="1256" r="2.2" fill="#111"/>
<circle cx="1087.3" cy="1207.9" r="2.2" fill="#111"/>
<circle cx="1564.5" cy="1235.5" r="2.2" fill="#111"/>
<circle cx="1028.4" cy="1178.2" r="2.2" fill="#111"/><circle cx="1664.7" cy="1215.1" r="2.2" fill="#111"/><circle cx="1264.1" cy="1297" r="2.2" fill="#111"/>
<path fill="#739cff" d="M1027.2 1031.8l10.4-11.7-4.8 6.5-10.4 11.6z"/>
<path fill="#73adff" d="M1031.6 1026.1l10.4-11.7-4.8 6.2-10.4 11.7zM1036.3 1021.5l10.4-11.3-4.8 6.5-10.3 11.2z"/>
<path fill="#73beff" d="M1036.1 1020.6l10.5-11.7-4.9 5.9-10.4 11.7zM1040.7 1015.8l10.4-11.3-4.9 6.3-10.4 11.3z"/>
<path fill="#73c7ff" d="M1045.3 1011.6l10.4-10.8-4.8 6.6-10.3 10.8z"/>
<path fill="#73cfff" d="M1040.6 1015.5l10.5-11.8-4.9 5.6-10.5 11.7z"/>
<path fill="#73d8ff" d="M1045.3 1010.3l10.5-11.3-4.9 6-10.4 11.3zM1049.8 1005.9l10.4-10.9-4.9 6.3-10.4 10.8zM1054.4 1002.2l10.4-10.4-4.9 6.6-10.3 10.4z"/>
<path fill="#73e0ff" d="M1045.2 1010.6l10.5-11.8-5 5.3-10.5 11.8z"/>
<path fill="#73e9ff" d="M1049.8 1005.1l10.5-11.3-5 5.7-10.5 11.3zM1054.4 1000.4l10.4-10.9-4.9 6-10.4 10.9zM1058.9 996.3l10.4-10.4-4.9 6.3-10.4 10.4zM1063.4 993l10.4-10-4.9 6.6-10.3 10z"/>
<path fill="#73f1ff" d="M1049.9 1006l10.6-11.8-5 5-10.5 11.8zM1054.4 1000.2l10.5-11.4-5 5.3-10.5 11.3z"/>
<path fill="#73faff" d="M1262.3 1087.3l11.8-13.3-7-10.1-11.7 13.3zM1054.5 1001.7l10.6-11.9-5.1 4.7-10.6 11.8zM1059 995.1l10.5-10.9-5 5.7-10.4 10.9zM1063.5 990.8l10.4-10.5-5 6-10.4 10.4zM1068 987.2l10.4-10-5 6.3-10.4 10zM1072.5 984.3l10.3-9.6-5 6.7-10.3 9.6z"/>
<path fill="#73fffc" d="M1059.1 995.6l10.6-11.4-5.1 5-10.5 11.4z"/>
<path fill="#73fff3" d="M1255.9 1077.9l11.7-13.3-6.9-9.6-11.7 13.2zM1059.3 997.7l10.7-11.9-5.1 4.4-10.6 11.9zM1063.6 990.2l10.5-11-5.1 5.4-10.5 10.9zM1068.1 985.6l10.5-10.5-5 5.7-10.4 10.5zM1072.6 981.7l10.4-10.1-5 6-10.4 10zM1077.1 978.5l10.4-9.6-5 6.4-10.3 9.6z"/>
<path fill="#73ffea" d="M1249.5 1068.9l11.7-13.2-6.9-9.2-11.7 13.2zM1272.7 1075.5l11.7-12.8-7-10.1-11.7 12.8zM1063.8 991.3l10.6-11.4-5.1 4.7-10.6 11.4z"/>
<path fill="#73ffe2" d="M1064.1 994l10.7-11.9-5.2 4-10.7 11.9zM1266.2 1066.2l11.7-12.8-7-9.6-11.7 12.7zM1068.3 985.6l10.6-11-5.1 5.1-10.5 11zM1072.8 980.6l10.5-10.5-5.1 5.4-10.5 10.5zM1077.3 976.4l10.5-10.1-5.1 5.7-10.4 10.1zM1086.1 970.1l10.4-9.2-5 6.4-10.3 9.2z"/>
<path fill="#73ffd9" d="M1243.1 1060.4l11.7-13.2-6.9-8.7-11.7 13.1zM1068.9 990.6l10.7-12-5.3 3.7-10.7 11.9zM1068.6 987.2l10.6-11.5-5.2 4.4-10.6 11.4zM1283 1064.2l11.7-12.3-7-10-11.7 12.3zM1073.1 981.2l10.6-11-5.2 4.7-10.6 11zM1081.7 972.9l10.4-9.6-5.1 6.1-10.4 9.6z"/>
<path fill="#73ffd1" d="M1236.8 1052.2l11.7-13.1-6.8-8.3-11.6 13.1zM1259.8 1057.2l11.7-12.7-6.9-9.1-11.7 12.7zM1073.4 983.5l10.7-11.5-5.2 4.1-10.6 11.5zM1077.6 975.9l10.5-10.6-5.1 5.1-10.5 10.5zM1082 971.4l10.5-10.1-5.1 5.4-10.5 10.1zM1095.2 962.1l10.3-8.8-5.1 6.4-10.3 8.8z"/>
<path fill="#73ffc8" d="M1073.8 987.6l10.8-12-5.3 3.4-10.7 12zM1253.4 1048.7l11.7-12.7-6.9-8.7-11.6 12.6zM1276.5 1054.9l11.7-12.3-7-9.6-11.7 12.2zM1077.9 977.1l10.6-11-5.2 4.4-10.6 11zM1293.3 1053.3l11.7-11.8-7.1-10-11.7 11.8zM1086.4 967.6l10.4-9.7-5.1 5.8-10.4 9.6zM1090.8 964.5l10.4-9.2-5.1 6.1-10.4 9.2z"/>
<path fill="#73ffc0" d="M1230.5 1044.6l11.6-13.1-6.8-7.8-11.6 13zM1078.7 984.8l10.8-12-5.4 3-10.8 12zM1078.3 980.1l10.7-11.5-5.3 3.7-10.7 11.5zM1270 1046l11.7-12.2-7-9.1-11.6 12.2zM1082.3 971.5l10.6-10.6-5.2 4.8-10.5 10.6zM1086.8 966.7l10.5-10.1-5.2 5.1-10.5 10.1zM1091.2 962.6l10.5-9.7-5.2 5.5-10.4 9.7zM1099.9 956.5l10.4-8.8-5.1 6.1-10.3 8.8z"/>
<path fill="#73ffb7" d="M1224.2 1037.3l11.6-13-6.7-7.3-11.6 13zM1083.7 982.4l10.8-12.1-5.4 2.7-10.8 12zM1247 1040.6l11.6-12.6-6.8-8.2-11.6 12.6zM1083.2 977l10.7-11.6-5.3 3.4-10.7 11.5zM1082.7 973.4l10.7-11.1-5.3 4.1-10.6 11zM1286.8 1044l11.7-11.8-7-9.5-11.6 11.7zM1087.2 967.5l10.6-10.6-5.3 4.5-10.6 10.6zM1303.5 1042.9l11.6-11.3-7.1-9.9-11.6 11.3zM1095.5 959.2l10.4-9.2-5.1 5.8-10.4 9.2z"/>
<path fill="#73ffaf" d="M1218.1 1030.4l11.6-13-6.7-6.9-11.6 13zM1088.7 980.3l10.9-12.1-5.5 2.3-10.8 12.1zM1240.7 1033l11.6-12.6-6.8-7.8-11.6 12.6zM1088.1 974.2l10.8-11.6-5.4 3.1-10.7 11.6zM1263.6 1037.5l11.6-12.2-6.9-8.6-11.6 12.2zM1087.6 969.9l10.7-11.1-5.3 3.8-10.7 11.1zM1280.3 1035.2l11.6-11.7-7-9-11.6 11.7zM1091.6 962.3l10.6-10.2-5.2 4.8-10.5 10.1zM1096 957.9l10.5-9.7-5.2 5.1-10.5 9.7zM1100.3 954.2l10.5-9.3-5.2 5.5-10.4 9.2zM1104.6 951.2l10.4-8.8-5.2 5.8-10.4 8.8zM1108.9 948.9l10.4-8.4-5.2 6.1-10.3 8.4z"/>
<path fill="#73ffa6" d="M1211.9 1024l11.6-13-6.6-6.5-11.5 12.9zM1093.8 978.5l10.9-12.2-5.5 2-10.9 12.1zM1234.5 1025.7l11.6-12.6-6.7-7.3-11.6 12.5zM1093.2 971.7l10.8-11.6-5.5 2.7-10.8 11.6zM1257.2 1029.5l11.6-12.2-6.9-8.2-11.6 12.1zM1092.6 966.8l10.7-11.1-5.4 3.4-10.7 11.1zM1092 963.7l10.6-10.6-5.3 4.1-10.6 10.6zM1297 1033.7l11.6-11.3-7-9.5-11.6 11.3zM1313.8 1033l11.6-10.8-7.1-9.9-11.6 10.8z"/>
<path fill="#73ff9e" d="M1205.8 1017.9l11.5-12.9-6.6-6-11.5 12.9zM1098.9 977l10.9-12.2-5.6 1.6-10.9 12.2zM1228.2 1018.9l11.6-12.5-6.7-6.9-11.5 12.5zM1250.9 1021.8l11.6-12.1-6.8-7.7-11.6 12.1zM1273.8 1026.8l11.6-11.7-6.9-8.6-11.6 11.7zM1097 960.2l10.7-10.7-5.4 3.8-10.6 10.6zM1096.4 958.2l10.6-10.2-5.3 4.5-10.6 10.2zM1100.8 953.4l10.5-9.7-5.3 4.8-10.5 9.7zM1105.1 949.4l10.5-9.3-5.2 5.2-10.5 9.3zM1109.4 946.1l10.4-8.8-5.2 5.5-10.4 8.8zM1113.7 943.6l10.4-8.4-5.2 5.8-10.4 8.4zM1118 941.7l10.3-8-5.2 6.1-10.3 7.9zM1666.8 974.7l9.3 6.7-7.5-9.8-9.3-6.7z"/>
<path fill="#73ff95" d="M1199.8 1012.3l11.5-12.9-6.5-5.6-11.5 12.8zM1193.7 1007.1l11.5-12.8-6.5-5.1-11.4 12.8zM1104.1 975.9l11-12.2-5.6 1.3-10.9 12.2zM1222.1 1012.5l11.5-12.5-6.6-6.4-11.5 12.4zM1098.2 969.6l10.9-11.7-5.5 2.4-10.8 11.6zM1097.6 964l10.8-11.2-5.4 3.1-10.7 11.1zM1267.4 1018.7l11.6-11.7-6.9-8.1-11.6 11.6zM1290.5 1024.8l11.6-11.3-7-9-11.6 11.2zM1101.4 954.4l10.6-10.2-5.3 4.2-10.6 10.2zM1307.2 1023.8l11.6-10.8-7.1-9.4-11.6 10.8zM1324 1023.5l11.6-9.8-7.1-10.5-11.6 9.7zM1659.9 966.2l9.3 6.7-7.5-9.4-9.3-6.7z"/>
<path fill="#73ff8c" d="M1187.8 1002.3l11.4-12.8-6.4-4.7-11.4 12.8zM1114.6 974.7l11-12.3-5.7 .5-11 12.3zM1109.3 975.1l11-12.3-5.7 .9-11 12.2zM1215.9 1006.5l11.5-12.4-6.6-6-11.5 12.4zM1108.5 966.3l10.9-11.7-5.6 1.7-10.9 11.7zM1103.3 967.8l10.9-11.7-5.6 2-10.9 11.7zM1244.6 1014.6l11.6-12.1-6.8-7.3-11.5 12zM1102.6 961.5l10.8-11.2-5.5 2.7-10.8 11.2zM1102 957l10.7-10.7-5.4 3.5-10.7 10.7zM1284 1016.5l11.6-11.2-7-8.5-11.6 11.2zM1105.7 949.3l10.6-9.7-5.3 4.5-10.5 9.7zM1110 945l10.5-9.3-5.3 4.8-10.5 9.3zM1114.3 941.4l10.5-8.8-5.3 5.2-10.4 8.8zM1118.6 938.5l10.4-8.4-5.3 5.5-10.4 8.4zM1122.8 936.3l10.4-8-5.2 5.8-10.3 8zM1658.7 968.9l9.4 6.3-7.5-9.8-9.4-6.3z"/>
<path fill="#73ff84" d="M1181.9 997.9l11.4-12.8-6.4-4.3-11.4 12.7zM1176 993.9l11.4-12.7-6.3-3.9-11.4 12.7zM1170.2 990.2l11.4-12.7-6.3-3.4-11.3 12.6zM1130.8 975.5l11.1-12.4-5.9-.6-11.1 12.4zM1125.3 974.9l11.1-12.4-5.8-.2-11.1 12.3zM1120 974.6l11.1-12.3-5.8 .1-11 12.3zM1209.9 1000.9l11.5-12.4-6.5-5.5-11.5 12.4zM1113.7 965.1l11-11.8-5.7 1.3-10.9 11.7zM1238.4 1007.9l11.5-12-6.7-6.8-11.5 12zM1107.7 959.3l10.8-11.2-5.5 2.4-10.8 11.2zM1261.1 1011.2l11.6-11.6-6.8-7.7-11.5 11.6zM1107 954.2l10.8-10.7-5.5 3.1-10.7 10.7zM1277.6 1008.5l11.6-11.2-6.9-8.1-11.5 11.1zM1106.3 950.9l10.7-10.2-5.4 3.8-10.6 10.2zM1300.7 1015l11.6-10.8-7-9-11.5 10.7zM1110.6 945.5l10.6-9.8-5.4 4.2-10.6 9.7zM1317.4 1014.3l11.6-10.3-7.1-9.4-11.5 10.3zM1334.1 1014.4l11.5-9.3-7.1-10.4-11.5 9.2zM1131.8 929.5l10.3-7.5-5.3 5.8-10.3 7.5zM1650.4 963.5l9.5 5.9-7.5-9.8-9.5-5.9zM1651.7 960.4l9.4 6.3-7.5-9.4-9.4-6.3zM1653 958.1l9.3 6.7-7.4-8.9-9.3-6.7z"/>
<path fill="#73ff7b" d="M1164.4 987l11.3-12.6-6.2-3-11.3 12.6zM1158.7 984.2l11.3-12.6-6.2-2.6-11.3 12.6zM1153 981.7l11.3-12.6-6.1-2.2-11.2 12.5zM1147.4 979.6l11.2-12.5-6.1-1.8-11.2 12.5zM1141.8 977.9l11.2-12.5-6-1.4-11.2 12.4zM1136.3 976.5l11.2-12.4-6-1-11.1 12.4zM1203.8 995.8l11.5-12.4-6.5-5.1-11.4 12.3zM1197.8 991l11.4-12.3-6.4-4.7-11.4 12.3zM1119 964.3l11-11.8-5.7 .9-11 11.8zM1232.2 1001.5l11.5-12-6.7-6.4-11.5 12zM1112.9 957.5l10.9-11.3-5.6 2-10.8 11.2zM1254.8 1004l11.5-11.6-6.8-7.2-11.5 11.5zM1112.1 951.7l10.8-10.8-5.5 2.8-10.8 10.7zM1111.3 947.7l10.7-10.3-5.4 3.5-10.7 10.2zM1294.2 1006.6l11.5-10.7-7-8.5-11.5 10.7zM1310.8 1005.5l11.5-10.3-7-8.9-11.5 10.2zM1114.9 940.8l10.6-9.3-5.4 4.5-10.5 9.3zM1119.2 936.9l10.5-8.9-5.3 4.9-10.5 8.8zM1123.4 933.7l10.5-8.4-5.3 5.2-10.4 8.4zM1127.7 931.3l10.4-8-5.3 5.5-10.4 8z"/>
<path fill="#73ff73" d="M1191.9 986.6l11.4-12.3-6.4-4.2-11.4 12.2zM1129.7 963.7l11.1-11.9-5.8 .2-11 11.8zM1124.3 963.9l11-11.8-5.8 .6-11 11.8zM1226 995.5l11.5-12-6.6-5.9-11.5 11.9zM1219.9 990l11.5-11.9-6.6-5.5-11.4 11.9zM1118.1 955.9l10.9-11.3-5.6 1.7-10.9 11.3zM1248.5 997.3l11.5-11.5-6.7-6.8-11.5 11.5zM1117.2 949.5l10.8-10.8-5.6 2.4-10.8 10.8zM1271.2 1000.9l11.5-11.1-6.9-7.6-11.5 11.1zM1116.4 944.8l10.7-10.3-5.5 3.1-10.7 10.3zM1287.8 998.7l11.5-10.7-6.9-8.1-11.5 10.7zM1115.6 941.9l10.6-9.8-5.4 3.8-10.6 9.8zM1119.9 937l10.6-9.3-5.4 4.2-10.6 9.3zM1327.5 1005.3l11.5-9.2-7.1-10-11.5 9.2zM1124.2 932.7l10.5-8.9-5.4 4.5-10.5 8.9zM1344.2 1005.8l11.5-8.8-7.2-10.4-11.5 8.7zM1136.7 924.4l10.4-7.6-5.3 5.5-10.3 7.5zM1642.1 958.4l9.6 5.5-7.5-9.8-9.6-5.5zM1643.5 954.9l9.5 5.9-7.5-9.4-9.5-5.9zM1644.8 952.3l9.4 6.3-7.4-8.9-9.4-6.3zM1646.1 950.3l9.3 6.7-7.4-8.5-9.3-6.7z"/>
<path fill="#7bff73" d="M1186 982.6l11.4-12.2-6.3-3.8-11.3 12.2zM1180.1 979l11.3-12.2-6.3-3.4-11.3 12.2zM1174.3 975.8l11.3-12.2-6.2-3-11.3 12.1zM1168.6 973l11.3-12.1-6.2-2.6-11.2 12.1zM1162.9 970.6l11.2-12.1-6.1-2.2-11.2 12.1zM1157.2 968.5l11.2-12.1-6.1-1.8-11.2 12zM1151.6 966.8l11.2-12-6-1.4-11.1 12zM1146 965.5l11.1-12-6-1-11.1 11.9zM1140.5 964.6l11.1-11.9-5.9-.6-11.1 11.9zM1135.1 964l11.1-11.9-5.9-.2-11.1 11.9zM1213.9 984.9l11.4-11.9-6.5-5.1-11.4 11.8zM1128.6 953.9l11-11.4-5.8 1-10.9 11.3zM1123.3 954.8l10.9-11.3-5.7 1.3-10.9 11.3zM1242.3 990.9l11.5-11.5-6.7-6.3-11.5 11.5zM1122.4 947.6l10.9-10.8-5.6 2.1-10.8 10.8zM1264.9 993.8l11.5-11.1-6.8-7.2-11.5 11.1zM1121.5 942.2l10.8-10.3-5.6 2.8-10.7 10.3zM1120.7 938.7l10.7-9.8-5.5 3.5-10.6 9.8zM1304.3 997.2l11.5-10.2-7-8.5-11.5 10.2zM1321 996.6l11.5-9.8-7.1-8.9-11.5 9.8zM1337.6 996.7l11.5-8.7-7.1-9.9-11.5 8.7zM1128.4 929.2l10.5-8.4-5.4 4.9-10.5 8.4zM1354.3 997.7l11.5-8.3-7.2-10.4-11.4 8.3zM1132.6 926.5l10.4-8-5.3 5.2-10.4 8zM1639.3 943l9.3 6.7-7.4-8.1-9.3-6.7z"/>
<path fill="#84ff73" d="M1207.8 980.1l11.4-11.8-6.5-4.6-11.4 11.8zM1201.9 975.8l11.4-11.8-6.4-4.2-11.3 11.8zM1133.9 953.4l11-11.4-5.8 .6-11 11.4zM1236.1 985l11.5-11.5-6.6-5.9-11.4 11.4zM1127.6 946l10.9-10.8-5.7 1.7-10.9 10.8zM1258.6 987.1l11.5-11.1-6.8-6.7-11.5 11zM1126.7 940l10.8-10.3-5.6 2.5-10.8 10.3zM1281.4 991.2l11.5-10.7-6.9-7.6-11.5 10.6zM1125.8 935.8l10.7-9.8-5.5 3.2-10.7 9.8zM1297.9 989.3l11.5-10.2-7-8-11.5 10.2zM1124.9 933.4l10.6-9.4-5.5 3.9-10.6 9.3zM1129.2 928.8l10.6-8.9-5.4 4.2-10.5 8.9zM1133.4 925l10.5-8.5-5.4 4.6-10.5 8.4zM1137.5 921.9l10.5-8-5.4 4.9-10.4 8zM1141.7 919.6l10.4-7.6-5.4 5.2-10.4 7.6zM1145.8 917.9l10.4-7.1-5.4 5.5-10.3 7.1zM1633.8 953.6l9.6 5.1-7.5-9.8-9.6-5.1zM1635.2 949.8l9.6 5.5-7.5-9.4-9.6-5.5zM1636.6 946.8l9.5 5.9-7.4-8.9-9.5-5.9zM1637.9 944.5l9.4 6.3-7.4-8.5-9.4-6.3zM1632.4 936l9.3 6.7-7.4-7.7-9.3-6.7z"/>
<path fill="#8cff73" d="M1196 971.8l11.3-11.8-6.4-3.8-11.3 11.7zM1190.1 968.3l11.3-11.7-6.3-3.4-11.3 11.7zM1150.3 954l11.1-11.5-6-.6-11.1 11.5zM1144.8 953.5l11.1-11.5-5.9-.2-11 11.4zM1139.3 953.3l11-11.4-5.9 .2-11 11.4zM1230 979.5l11.4-11.4-6.6-5.5-11.4 11.4zM1223.9 974.4l11.4-11.4-6.6-5-11.4 11.4zM1132.9 944.8l10.9-10.9-5.7 1.4-10.9 10.8zM1252.4 980.8l11.5-11-6.7-6.3-11.4 11zM1131.9 938.1l10.8-10.4-5.7 2.1-10.8 10.3zM1275 984.1l11.5-10.6-6.8-7.2-11.4 10.6zM1130.9 933.2l10.7-9.9-5.6 2.8-10.7 9.8zM1130 930.2l10.7-9.4-5.5 3.5-10.6 9.4zM1314.4 988.3l11.5-9.8-7-8.4-11.4 9.7zM1134.2 925.3l10.6-8.9-5.5 3.9-10.6 8.9zM1331 988l11.5-8.7-7.1-9.5-11.4 8.7zM1347.7 988.6l11.4-8.3-7.1-9.9-11.4 8.2zM1364.4 990l11.4-7.8-7.2-10.3-11.4 7.8zM1154.8 911.9l10.3-6.7-5.4 5.6-10.3 6.7zM1625.3 949.3l9.7 4.7-7.5-9.8-9.7-4.7zM1626.8 945.1l9.6 5.1-7.5-9.4-9.6-5.1zM1628.3 941.7l9.6 5.5-7.4-8.9-9.6-5.5zM1629.7 939.1l9.5 5.9-7.4-8.5-9.5-5.9zM1631.1 937.2l9.4 6.3-7.4-8.1-9.4-6.3z"/>
<path fill="#95ff73" d="M1184.2 965.1l11.3-11.7-6.3-3-11.3 11.7zM1178.5 962.3l11.3-11.7-6.2-2.5-11.2 11.6zM1172.7 959.9l11.2-11.6-6.2-2.1-11.2 11.6zM1167 957.9l11.2-11.6-6.1-1.7-11.2 11.6zM1161.4 956.3l11.2-11.6-6.1-1.3-11.1 11.5zM1155.8 955l11.1-11.5-6-.9-11.1 11.5zM1217.9 969.7l11.4-11.4-6.5-4.6-11.3 11.3zM1143.6 943.4l11-10.9-5.8 .6-11 10.9zM1138.2 943.9l11-10.9-5.8 1-10.9 10.9zM1246.2 974.9l11.4-11-6.7-5.9-11.4 11zM1137.1 936.5l10.9-10.4-5.7 1.7-10.8 10.4zM1268.7 977.4l11.4-10.6-6.8-6.7-11.4 10.6zM1136.1 931l10.8-9.9-5.6 2.5-10.7 9.9zM1291.5 981.8l11.5-10.2-6.9-7.6-11.4 10.1zM1135.1 927.2l10.7-9.4-5.6 3.2-10.7 9.4zM1308 980.4l11.4-9.7-7-8-11.4 9.7zM1324.5 979.8l11.4-9.3-7-8.4-11.4 9.2zM1138.4 921.1l10.6-8.5-5.5 4.2-10.5 8.5zM1142.6 917.7l10.5-8-5.5 4.6-10.5 8zM1146.7 915.1l10.4-7.6-5.4 4.9-10.4 7.6zM1374.4 982.7l11.4-7.3-7.2-10.3-11.3 7.3zM1150.8 913.1l10.4-7.2-5.4 5.2-10.4 7.1zM1624.3 930.2l9.4 6.3-7.4-7.7-9.4-6.3zM1625.6 929.4l9.3 6.7-7.3-7.3-9.3-6.7z"/>
<path fill="#9eff73" d="M1211.9 965.4l11.3-11.3-6.5-4.2-11.3 11.3zM1205.9 961.5l11.3-11.3-6.4-3.7-11.3 11.3zM1154.5 943.4l11-11-5.9-.1-11 11zM1149 943.2l11-11-5.9 .2-11 10.9zM1240 969.4l11.4-11-6.6-5.4-11.4 10.9zM1142.4 935.3l10.9-10.4-5.8 1.4-10.9 10.4zM1262.4 971.1l11.4-10.6-6.7-6.3-11.4 10.5zM1141.3 929l10.8-9.9-5.7 2.1-10.8 9.9zM1285.1 974.8l11.4-10.1-6.9-7.1-11.4 10.1zM1140.3 924.6l10.7-9.4-5.6 2.9-10.7 9.4zM1301.5 972.9l11.4-9.7-6.9-7.5-11.4 9.7zM1139.3 922l10.6-8.9-5.5 3.6-10.6 8.9zM1143.5 917.5l10.6-8.5-5.5 3.9-10.6 8.5zM1341.1 979.9l11.4-8.2-7.1-9.4-11.4 8.2zM1147.6 913.8l10.5-8-5.5 4.3-10.5 8zM1357.7 980.9l11.4-7.8-7.2-9.9-11.4 7.7zM1155.8 908.6l10.4-7.2-5.5 4.9-10.4 7.2zM1159.8 907l10.4-6.7-5.4 5.2-10.3 6.7zM1616.8 945.3l9.8 4.3-7.5-9.8-9.8-4.3zM1618.4 940.7l9.7 4.7-7.5-9.4-9.7-4.7zM1619.9 937l9.6 5.1-7.4-8.9-9.6-5.1zM1621.4 934l9.6 5.5-7.4-8.5-9.6-5.5zM1622.9 931.7l9.5 5.9-7.4-8.1-9.5-5.9zM1618.8 922.6l9.3 7.3-7.3-6.3-9.3-7.2z"/>
<path fill="#a6ff73" d="M1200 958l11.3-11.3-6.4-3.3-11.3 11.2zM1194.1 954.8l11.3-11.2-6.3-2.9-11.2 11.2zM1188.3 952.1l11.2-11.2-6.3-2.5-11.2 11.2zM1182.6 949.7l11.2-11.2-6.2-2.1-11.2 11.1zM1176.9 947.7l11.2-11.1-6.1-1.7-11.1 11.1zM1171.2 946.1l11.1-11.1-6.1-1.3-11.1 11.1zM1165.6 944.8l11.1-11.1-6-.9-11.1 11zM1160 943.9l11.1-11-6-.5-11 11zM1233.9 964.4l11.4-10.9-6.6-5-11.3 10.9zM1227.8 959.7l11.3-10.9-6.5-4.6-11.3 10.9zM1153.2 933.8l11-10.5-5.9 .6-10.9 10.5zM1147.8 934.4l10.9-10.5-5.8 1-10.9 10.4zM1256.2 965.3l11.4-10.5-6.7-5.8-11.4 10.5zM1146.6 927.4l10.8-9.9-5.7 1.8-10.8 9.9zM1278.7 968.1l11.4-10.1-6.8-6.7-11.4 10.1zM1145.5 922.4l10.8-9.5-5.7 2.5-10.7 9.4zM1144.5 919.1l10.7-9-5.6 3.2-10.6 8.9zM1318 971.9l11.4-9.2-7-8-11.4 9.2zM1334.5 971.7l11.4-8.2-7.1-9-11.4 8.2zM1351.1 972.3l11.4-7.7-7.1-9.4-11.4 7.7zM1151.7 910.8l10.5-7.6-5.5 4.6-10.4 7.6zM1367.7 973.7l11.3-7.3-7.2-9.8-11.3 7.3zM1384.4 976l11.3-6.8-7.2-10.3-11.3 6.8zM1168.9 901.3l10.3-6.3-5.5 5.3-10.3 6.3zM1608.2 941.7l9.9 3.9-7.5-9.8-9.9-3.9zM1609.9 936.7l9.8 4.3-7.5-9.4-9.8-4.3zM1614.6 926.6l9.6 5.5-7.4-8.1-9.6-5.5zM1616 924.8l9.5 5.9-7.4-7.7-9.5-5.9zM1617.4 923.6l9.4 6.3-7.3-7.3-9.4-6.3zM1612.1 916.8l9.3 7.2-7.3-5.9-9.3-7.2z"/>
<path fill="#afff73" d="M1221.8 955.4l11.3-10.9-6.5-4.1-11.3 10.8zM1215.8 951.6l11.3-10.8-6.4-3.7-11.3 10.8zM1164.2 933.8l11-10.5-6-.1-11 10.5zM1158.7 933.6l11-10.5-5.9 .3-11 10.5zM1250 959.8l11.4-10.5-6.7-5.4-11.3 10.4zM1152 926.2l10.9-10-5.8 1.4-10.8 9.9zM1272.4 961.9l11.4-10.1-6.8-6.2-11.4 10zM1150.8 920.4l10.8-9.5-5.7 2.2-10.8 9.5zM1295.1 965.9l11.4-9.7-6.9-7.1-11.4 9.6zM1149.7 916.4l10.7-9-5.6 2.9-10.7 9zM1311.5 964.5l11.4-9.2-7-7.5-11.4 9.2zM1148.6 914.3l10.6-8.5-5.6 3.6-10.6 8.5zM1328 963.9l11.4-8.8-7-7.9-11.4 8.7zM1152.8 910.2l10.6-8.1-5.6 3.9-10.5 8zM1156.8 906.9l10.5-7.6-5.5 4.3-10.5 7.6zM1160.9 904.3l10.5-7.2-5.5 4.6-10.4 7.2zM1377.7 967l11.3-6.8-7.2-9.8-11.3 6.8zM1164.9 902.5l10.4-6.7-5.5 4.9-10.4 6.7zM1394.3 969.6l11.3-6.4-7.3-10.2-11.3 6.3zM1177.9 896l10.3-5.9-5.5 5.3-10.3 5.9zM1599.6 938.4l9.9 3.5-7.5-9.8-9.9-3.5zM1611.5 932.6l9.7 4.7-7.4-8.9-9.7-4.7zM1613 929.2l9.6 5.1-7.4-8.5-9.6-5.1zM1609.2 918.2l9.5 5.9-7.3-7.3-9.5-5.9zM1610.7 916.8l9.4 6.9-7.3-6.9-9.4-6.3zM1605.3 911.4l9.3 7.2-7.2-5.5-9.3-7.2z"/>
<path fill="#b7ff73" d="M1209.9 948.1l11.3-10.8-6.4-3.3-11.2 10.8zM1204 945l11.2-10.8-6.3-2.9-11.2 10.7zM1198.2 942.2l11.2-10.7-6.3-2.5-11.2 10.7zM1192.4 939.9l11.2-10.7-6.2-2.1-11.1 10.7zM1186.6 937.9l11.1-10.7-6.2-1.7-11.1 10.6zM1181 936.4l11.1-10.6-6.1-1.3-11.1 10.6zM1175.3 935.1l11.1-10.6-6.1-.9-11.1 10.6zM1169.7 934.3l11.1-10.6-6-.5-11 10.5zM1243.9 954.8l11.3-10.4-6.6-5-11.3 10.4zM1237.8 950.2l11.3-10.4-6.6-4.5-11.3 10.4zM1157.4 925.3l10.9-10-5.8 1-10.9 10zM1266.2 956.1l11.4-10-6.7-5.8-11.3 10zM1156.1 918.8l10.8-9.5-5.8 1.8-10.8 9.5zM1288.8 959.3l11.4-9.6-6.8-6.6-11.4 9.6zM1154.9 914.1l10.7-9-5.7 2.5-10.7 9zM1305.1 957.5l11.4-9.2-6.9-7.1-11.3 9.1zM1153.8 911.3l10.7-8.5-5.6 3.2-10.6 8.5zM1157.9 906.9l10.6-8.1-5.6 3.6-10.6 8.1zM1344.5 964.1l11.4-7.7-7.1-8.9-11.3 7.7zM1162 903.3l10.5-7.6-5.6 3.9-10.5 7.6zM1361.1 965.1l11.3-7.3-7.1-9.4-11.3 7.2zM1170 898.2l10.4-6.7-5.5 4.6-10.4 6.7zM1387.6 960.6l11.3-6.3-7.2-9.8-11.2 6.3zM1174 896.8l10.4-6.3-5.5 4.9-10.3 6.3zM1404.2 963.7l11.2-5.9-7.3-10.2-11.2 5.8zM1590.9 935.6l10 3.1-7.5-9.8-10-3.1zM1601.3 933.1l9.9 3.9-7.5-9.4-9.9-3.9zM1603 928.6l9.8 4.3-7.4-9-9.8-4.4zM1604.6 924.8l9.7 4.7-7.4-8.5-9.7-4.8zM1606.2 921.9l9.6 5.1-7.4-8.1-9.6-5.1zM1607.7 919.7l9.6 5.5-7.3-7.7-9.6-5.5zM1603.9 911l9.4 6.9-7.3-5.9-9.4-6.9zM1598.6 906.3l9.3 7.2-7.2-5.1-9.3-7.2z"/>
<path fill="#c0ff73" d="M1231.7 945.9l11.3-10.4-6.5-4.1-11.3 10.4zM1225.7 942.1l11.3-10.4-6.5-3.7-11.2 10.3zM1173.8 924.5l11-10.1-6-.1-11 10.1zM1168.3 924.4l11-10.1-6 .3-10.9 10zM1162.8 924.7l10.9-10-5.9 .7-10.9 10zM1260 950.7l11.3-10-6.7-5.4-11.3 10zM1161.5 917.5l10.9-9.5-5.8 1.4-10.8 9.5zM1282.4 953.1l11.4-9.6-6.8-6.2-11.3 9.6zM1160.2 912.2l10.8-9-5.8 2.2-10.7 9zM1159.1 908.7l10.7-8.5-5.7 2.9-10.7 8.5zM1321.5 956.5l11.4-8.7-7-7.5-11.3 8.7zM1338 956.3l11.3-7.7-7-8.5-11.3 7.6zM1354.5 957l11.3-7.2-7.1-8.9-11.3 7.2zM1166 900.4l10.5-7.2-5.6 4.3-10.5 7.2zM1371 958.4l11.3-6.8-7.2-9.3-11.3 6.7zM1183 891.5l10.3-5.9-5.6 4.9-10.3 5.9zM1414 958.2l11.2-5.4-7.3-10.2-11.2 5.4zM1582.1 933.1l10.1 2.7-7.5-9.8-10.1-2.7zM1592.7 929.8l9.9 3.5-7.4-9.4-9.9-3.5zM1594.4 924.9l9.9 3.9-7.4-9-9.9-4zM1596.1 920.8l9.8 4.4-7.4-8.5-9.8-4.4zM1599.4 914.9l9.6 5.1-7.3-7.7-9.6-5.1zM1600.9 913.1l9.6 5.5-7.3-7.3-9.6-5.5zM1602.4 912l9.5 5.9-7.3-6.9-9.5-5.9zM1597.2 905.6l9.4 6.9-7.2-5.5-9.4-6.9zM1592 901.6l9.3 7.2-7.2-4.7-9.3-7.2z"/>
<path fill="#c8ff73" d="M1219.8 938.6l11.2-10.3-6.4-3.3-11.2 10.3zM1213.9 935.5l11.2-10.3-6.4-2.9-11.2 10.3zM1208 932.9l11.2-10.3-6.3-2.4-11.2 10.2zM1202.2 930.5l11.2-10.2-6.3-2-11.1 10.2zM1196.4 928.6l11.1-10.2-6.2-1.6-11.1 10.2zM1190.7 927l11.1-10.2-6.2-1.2-11.1 10.1zM1185 925.9l11.1-10.1-6.1-.9-11 10.1zM1179.4 925l11-10.1-6.1-.5-11 10.1zM1253.8 945.7l11.3-10-6.6-4.9-11.3 9.9zM1247.7 941.1l11.3-9.9-6.6-4.5-11.3 9.9zM1172.4 915.9l10.9-9.6-5.9 .7-10.9 9.6zM1166.9 916.5l10.9-9.6-5.9 1.1-10.9 9.5zM1276.2 947.3l11.3-9.6-6.8-5.8-11.3 9.5zM1165.6 910.5l10.8-9.1-5.8 1.8-10.8 9zM1298.7 950.9l11.3-9.1-6.9-6.6-11.3 9.1zM1164.3 906.3l10.7-8.6-5.7 2.5-10.7 8.5zM1315.1 949.6l11.3-8.7-6.9-7-11.3 8.7zM1163.1 903.9l10.6-8.1-5.7 3.3-10.6 8.1zM1331.5 949l11.3-8.2-7-7.4-11.3 8.2zM1167.2 900l10.6-7.6-5.6 3.6-10.5 7.6zM1347.9 949.2l11.3-7.2-7.1-8.5-11.3 7.2zM1171.2 896.8l10.5-7.2-5.6 3.9-10.5 7.2zM1364.4 950.3l11.3-6.7-7.1-8.9-11.2 6.7zM1175.2 894.3l10.5-6.8-5.6 4.3-10.4 6.7zM1380.9 952.1l11.2-6.3-7.2-9.3-11.2 6.3zM1179.1 892.5l10.4-6.3-5.6 4.6-10.4 6.3zM1397.5 954.8l11.2-5.8-7.2-9.7-11.2 5.8zM1407.3 949.3l11.2-5.4-7.3-9.7-11.1 5.3zM1192 886l10.3-4.9-5.6 5.5-10.3 4.9zM1423.8 953.2l11.1-4.9-7.3-10.2-11.1 4.9zM1433.6 948.6l11.1-4.5-7.3-10.1-11.1 4.4zM1573.3 931l10.1 2.3-7.5-9.9-10.1-2.3zM1584 927l10 3.1-7.4-9.4-10-3.1zM1585.8 921.7l9.9 3.5-7.4-9-9.9-3.5zM1597.8 917.5l9.7 4.8-7.4-8.1-9.7-4.8zM1594.1 906.9l9.6 5.5-7.3-6.9-9.5-5.5zM1595.7 905.6l9.5 6.5-7.3-5.9-9.5-6.5zM1590.5 900.5l9.4 6.9-7.2-5.1-9.4-6.8zM1585.3 897.2l9.3 7.2-7.1-4.3-9.3-7.2zM1578.7 893.2l9.3 7.2-7.1-3.9-9.3-7.2z"/>
<path fill="#d1ff73" d="M1241.6 936.8l11.3-9.9-6.5-4.1-11.2 9.9zM1235.6 933l11.2-9.9-6.5-3.7-11.2 9.9zM1183.4 915.7l11-9.6-6-.1-10.9 9.6zM1177.9 915.7l10.9-9.6-6 .3-10.9 9.6zM1269.9 941.9l11.3-9.5-6.7-5.3-11.3 9.5zM1263.7 937l11.3-9.5-6.7-4.9-11.3 9.5zM1171 909.2l10.8-9.1-5.9 1.5-10.8 9.1zM1292.4 944.8l11.3-9.1-6.8-6.2-11.3 9.1zM1169.7 904.3l10.7-8.6-5.8 2.2-10.7 8.6zM1308.7 943l11.3-8.7-6.9-6.6-11.3 8.6zM1168.4 901.3l10.7-8.1-5.7 2.9-10.6 8.1zM1172.4 897l10.6-7.7-5.7 3.3-10.6 7.6zM1176.4 893.5l10.5-7.2-5.7 3.6-10.5 7.2zM1180.4 890.6l10.5-6.8-5.6 4-10.5 6.8zM1184.3 888.6l10.4-6.3-5.6 4.3-10.4 6.3zM1390.8 946.3l11.2-5.8-7.2-9.3-11.2 5.8zM1188.2 887.2l10.4-5.9-5.6 4.6-10.3 5.9zM1417.1 944.3l11.1-4.9-7.3-9.7-11.1 4.9zM1443.2 944.5l11-4-7.3-10.1-11 4zM1555.4 928l10.3 1.4-7.5-9.9-10.3-1.4zM1564.4 929.3l10.2 1.8-7.5-9.9-10.2-1.9zM1575.2 924.5l10.1 2.7-7.4-9.4-10.1-2.7zM1577.1 918.8l10 3.1-7.4-9-10-3.1zM1587.5 917.2l9.9 4-7.4-8.5-9.8-4zM1589.3 913.5l9.8 4.4-7.4-8.1-9.8-4.4zM1590.9 910.5l9.7 4.8-7.3-7.7-9.7-4.8zM1592.6 908.3l9.6 5.1-7.3-7.3-9.6-5.1zM1587.4 901.1l9.5 5.5-7.3-6.5-9.5-5.5zM1589 900.1l9.5 6.5-7.2-5.5-9.5-6.5zM1583.8 895.8l9.4 6.8-7.2-4.7-9.4-6.8zM1577.2 891.5l9.4 6.8-7.1-4.3-9.4-6.8zM1572.1 889.6l9.3 7.2-7.1-3.5-9.3-7.2zM1565.6 886.3l9.3 7.2-7-3.2-9.3-7.1z"/>
<path fill="#d9ff73" d="M1229.6 929.6l11.2-9.9-6.4-3.2-11.2 9.8zM1223.7 926.6l11.2-9.8-6.4-2.8-11.2 9.8zM1217.8 923.9l11.2-9.8-6.3-2.4-11.1 9.8zM1212 921.6l11.1-9.8-6.3-2-11.1 9.7zM1206.2 919.7l11.1-9.7-6.2-1.6-11.1 9.7zM1200.4 918.2l11.1-9.7-6.2-1.2-11 9.7zM1194.7 917l11-9.7-6.1-.8-11 9.7zM1189 916.2l11-9.7-6.1-.4-11 9.6zM1257.6 932.4l11.3-9.5-6.6-4.5-11.2 9.4zM1181.9 907.6l10.9-9.1-6 .7-10.9 9.1zM1176.4 908.2l10.9-9.1-5.9 1.1-10.8 9.1zM1286.1 939l11.3-9.1-6.8-5.7-11.3 9.1zM1279.9 933.7l11.3-9.1-6.7-5.3-11.2 9zM1175 902.7l10.8-8.6-5.8 1.8-10.7 8.6zM1302.3 936.9l11.3-8.6-6.8-6.1-11.3 8.6zM1173.7 898.9l10.7-8.1-5.8 2.6-10.7 8.1zM1325 942l11.3-8.2-7-7-11.3 8.2zM1177.7 894.3l10.6-7.7-5.7 2.9-10.6 7.7zM1341.4 941.9l11.3-7.2-7-8-11.2 7.1zM1357.8 942.5l11.2-6.7-7.1-8.4-11.2 6.7zM1374.3 944l11.2-6.3-7.1-8.9-11.2 6.2zM1193.4 883.3l10.4-5.9-5.7 4.3-10.4 5.9zM1400.6 940.8l11.1-5.3-7.2-9.3-11.1 5.3zM1197.2 882.3l10.3-5.5-5.6 4.6-10.3 5.5zM1426.8 939.8l11.1-4.4-7.3-9.7-11 4.4zM1452.9 940.8l11-3.5-7.3-10.1-10.9 3.5zM1462.5 937.5l10.9-3.1-7.4-10.1-10.9 3zM1537.3 926.6l10.4 .6-7.4-9.9-10.4-.6zM1546.4 927.1l10.3 1-7.4-9.9-10.3-1zM1557.5 920.7l10.2 1.9-7.4-9.4-10.2-1.9zM1566.4 922.4l10.1 2.3-7.4-9.4-10.1-2.3zM1568.3 916.3l10.1 2.7-7.4-9-10.1-2.7zM1578.9 913.9l9.9 3.5-7.4-8.5-9.9-3.6zM1580.7 909.8l9.8 4-7.4-8.1-9.8-4zM1582.4 906.5l9.8 4.4-7.3-7.7-9.8-4.4zM1584.1 903.9l9.7 4.8-7.3-7.3-9.7-4.8zM1585.8 902.1l9.6 5.1-7.3-6.9-9.6-5.1zM1580.7 895l9.5 6.1-7.2-5.5-9.5-6.1zM1582.3 895.1l9.5 6.5-7.2-5.1-9.5-6.5zM1575.6 890.4l9.5 6.5-7.2-4.7-9.5-6.5zM1570.6 887.5l9.4 6.8-7.1-3.9-9.4-6.8zM1559.1 883.4l9.3 7.1-7-2.8-9.3-7.1z"/>
<path fill="#e2ff73" d="M1251.5 928.2l11.2-9.4-6.6-4-11.2 9.4zM1245.5 924.4l11.2-9.4-6.5-3.6-11.2 9.4zM1239.5 921l11.2-9.4-6.5-3.2-11.2 9.4zM1193.1 907.4l11-9.2-6.1 0-10.9 9.1zM1187.5 907.3l10.9-9.1-6 .3-10.9 9.1zM1273.6 928.7l11.2-9-6.7-4.9-11.2 9zM1185.9 900.3l10.8-8.7-5.9 1.1-10.8 8.6zM1180.5 901.3l10.8-8.6-5.9 1.5-10.8 8.6zM1296 931.1l11.3-8.6-6.8-5.7-11.2 8.6zM1179.1 896.9l10.7-8.1-5.8 2.2-10.7 8.1zM1318.6 935.5l11.3-8.2-6.9-6.6-11.2 8.2zM1183 891.9l10.7-7.7-5.8 2.6-10.6 7.7zM1334.9 935l11.2-7.7-7-7-11.2 7.7zM1181.7 890.4l10.6-7.2-5.7 3.3-10.5 7.2zM1351.3 935.2l11.2-6.7-7-8-11.2 6.7zM1185.6 887.3l10.5-6.8-5.7 3.6-10.5 6.8zM1367.7 936.3l11.2-6.2-7.1-8.4-11.2 6.2zM1189.5 884.9l10.5-6.3-5.7 4-10.4 6.3zM1384.1 938.2l11.2-5.8-7.2-8.8-11.2 5.8zM1202.5 878.3l10.4-5.5-5.7 4.3-10.3 5.5zM1410.3 935.9l11.1-4.9-7.2-9.2-11.1 4.8zM1206.3 877.2l10.3-4.5-5.7 5.2-10.3 4.5zM1436.5 935.7l11-4-7.3-9.6-11 3.9zM1446.1 932l10.9-3.5-7.3-9.6-10.9 3.5zM1472 934.7l10.8-2.6-7.4-10-10.8 2.6zM1481.5 932.3l10.8-2.1-7.4-10-10.8 2.1zM1491 930.3l10.7-1.7-7.4-10-10.7 1.7zM1500.3 928.7l10.7-1.2-7.4-10-10.7 1.2zM1509.7 927.6l10.6-.8-7.4-10-10.6 .8zM1518.9 926.8l10.5-.3-7.4-9.9-10.5 .3zM1528.1 926.5l10.5 .1-7.4-9.9-10.5-.1zM1548.5 919.4l10.3 1.4-7.4-9.4-10.3-1.4zM1559.5 914.2l10.1 2.3-7.4-9-10.1-2.3zM1570.2 911l10 3.1-7.4-8.5-10-3.1zM1572.1 906.5l9.9 3.6-7.4-8.1-9.9-3.6zM1577.4 897.8l9.7 4.8-7.3-6.9-9.7-4.7zM1579 896.3l9.6 5.1-7.3-6.5-9.6-5.1zM1574 890l9.5 6.1-7.2-5.1-9.5-6.1zM1569 886l9.5 6.5-7.1-4.3-9.5-6.4zM1564 883.9l9.4 6.8-7.1-3.5-9.4-6.8zM1557.4 880.6l9.4 6.8-7-3.1-9.4-6.8zM1550.9 877.7l9.4 6.8-7-2.8-9.4-6.8z"/>
<path fill="#eaff73" d="M1233.5 918l11.2-9.4-6.4-2.8-11.1 9.3zM1227.6 915.4l11.1-9.3-6.4-2.4-11.1 9.3zM1221.7 913.1l11.1-9.3-6.3-2-11.1 9.3zM1215.9 911.2l11.1-9.3-6.3-1.6-11 9.2zM1210.1 909.7l11-9.2-6.2-1.2-11 9.2zM1204.4 908.6l11-9.2-6.2-.8-11 9.2zM1198.7 907.8l11-9.2-6.1-.4-11 9.2zM1267.5 924.2l11.2-9-6.6-4.4-11.2 9zM1261.4 920l11.2-9-6.6-4-11.2 8.9zM1191.5 899.7l10.9-8.7-6 .7-10.8 8.7zM1289.7 925.8l11.2-8.6-6.8-5.3-11.2 8.6zM1189.9 893.9l10.8-8.2-5.9 1.5-10.7 8.2zM1184.5 895.2l10.7-8.2-5.9 1.9-10.7 8.1zM1312.2 929.4l11.2-8.2-6.9-6.1-11.2 8.1zM1188.4 889.9l10.7-7.7-5.8 2.2-10.7 7.7zM1328.5 928.5l11.2-7.7-6.9-6.5-11.2 7.7zM1187 887.7l10.6-7.2-5.8 2.9-10.6 7.2zM1344.8 928.3l11.2-6.7-7-7.5-11.2 6.6zM1190.9 884.3l10.5-6.8-5.8 3.3-10.5 6.8zM1361.1 929l11.2-6.2-7.1-8-11.2 6.2zM1194.8 881.6l10.5-6.4-5.7 3.6-10.5 6.3zM1377.5 930.5l11.2-5.8-7.1-8.4-11.1 5.7zM1198.7 879.6l10.4-5.9-5.7 4-10.4 5.9zM1393.9 932.8l11.1-5.3-7.2-8.8-11.1 5.3zM1403.7 927.8l11.1-4.8-7.2-8.8-11.1 4.8zM1211.5 873.8l10.3-5.1-5.7 4.3-10.3 5.1zM1420.1 931.3l11-4.4-7.2-9.2-11 4.4zM1215.2 873l10.3-4-5.7 5.2-10.2 4zM1429.7 927.2l11-3.9-7.3-9.2-11 3.9zM1455.7 928.7l10.9-3-7.3-9.6-10.9 3zM1465.2 925.9l10.8-2.6-7.3-9.6-10.8 2.5zM1521.3 917.8l10.5 .1-7.4-9.5-10.5-.1zM1530.4 917.9l10.4 .6-7.4-9.5-10.4-.6zM1539.5 918.4l10.3 1-7.4-9.5-10.3-1zM1550.6 912.5l10.2 1.9-7.4-9-10.2-1.9zM1561.4 908.5l10.1 2.7-7.4-8.5-10.1-2.7zM1563.4 903.7l10 3.1-7.4-8.1-10-3.1zM1573.9 902.8l9.8 4-7.3-7.7-9.8-4zM1575.6 899.9l9.8 4.4-7.3-7.3-9.8-4.4zM1570.6 891.9l9.7 4.7-7.3-6.4-9.7-4.7zM1572.3 890.9l9.6 5.1-7.2-6-9.6-5.1zM1567.3 885.3l9.5 6.1-7.2-4.7-9.5-6.1zM1562.4 882.1l9.5 6.4-7.1-3.9-9.5-6.4zM1555.8 878.5l9.5 6.4-7.1-3.5-9.4-6.4zM1544.4 875.2l9.4 6.8-7-2.4-9.4-6.7z"/>
<path fill="#f3ff73" d="M1255.3 916.2l11.2-8.9-6.5-3.6-11.1 8.9zM1249.2 912.9l11.1-8.9-6.5-3.2-11.1 8.9zM1208.3 899.8l11-8.7-6.1-.4-10.9 8.7zM1202.6 899.4l10.9-8.7-6.1 0-10.9 8.7zM1197 899.4l10.9-8.7-6 .4-10.9 8.7zM1283.5 920.9l11.2-8.6-6.7-4.8-11.2 8.5zM1277.3 916.4l11.2-8.5-6.7-4.4-11.2 8.5zM1195.4 892.9l10.8-8.2-6 1.1-10.8 8.2zM1305.9 923.7l11.2-8.1-6.8-5.7-11.2 8.1zM1193.9 888.2l10.7-7.7-5.9 1.9-10.7 7.7zM1322.1 922.4l11.2-7.7-6.9-6.1-11.2 7.7zM1192.4 885.4l10.6-7.3-5.8 2.6-10.6 7.2zM1338.3 921.9l11.2-7.2-7-6.5-11.2 7.2zM1196.3 881.6l10.6-6.8-5.8 3-10.5 6.8zM1354.6 922.2l11.2-6.2-7-7.5-11.1 6.2zM1200.1 878.5l10.5-6.4-5.8 3.3-10.5 6.4zM1370.9 923.2l11.1-5.7-7.1-7.9-11.1 5.7zM1204 876.2l10.5-5.9-5.8 3.6-10.4 5.9zM1387.3 925.1l11.1-5.3-7.1-8.4-11.1 5.3zM1207.8 874.7l10.4-5.5-5.7 4-10.4 5.5zM1413.4 923.3l11-4.4-7.2-8.8-11 4.4zM1220.5 869l10.3-4-5.7 4.9-10.3 4zM1439.3 923.6l10.9-3.5-7.3-9.2-10.9 3.4zM1474.7 923.5l10.8-2.1-7.4-9.6-10.8 2.1zM1484.1 921.5l10.7-1.7-7.4-9.5-10.7 1.6zM1493.5 920l10.7-1.2-7.4-9.5-10.6 1.2zM1502.8 918.9l10.6-.8-7.4-9.5-10.6 .7zM1512.1 918.1l10.5-.3-7.4-9.5-10.5 .3zM1532.6 910.2l10.3 1-7.4-9-10.3-1zM1541.6 911.1l10.3 1.4-7.4-9-10.3-1.5zM1552.6 906.4l10.1 2.3-7.4-8.6-10.1-2.3zM1554.6 901.1l10.1 2.7-7.3-8.1-10-2.7zM1565.3 899.6l9.9 3.6-7.3-7.7-9.9-3.6zM1567.1 896.3l9.8 4-7.3-7.3-9.8-4zM1568.9 893.7l9.8 4.4-7.3-6.9-9.8-4.4zM1563.9 886.5l9.7 4.7-7.2-6-9.7-4.7zM1565.6 885.2l9.6 5.7-7.2-5-9.6-5.7zM1560.7 881l9.5 6.1-7.1-4.3-9.5-6.1zM1549.3 875.2l9.4 6.4-7-3.1-9.4-6.4zM1542.7 872.4l9.4 6.4-7-2.7-9.4-6.4zM1536.3 869.8l9.4 6.4-7-2.4-9.4-6.4z"/>
<path fill="#fcff73" d="M1243.3 909.9l11.1-8.9-6.4-2.8-11.1 8.9zM1237.3 907.3l11.1-8.9-6.4-2.4-11.1 8.8zM1231.4 905l11.1-8.8-6.3-2-11 8.8zM1225.6 903.2l11-8.8-6.3-1.6-11 8.8zM1219.8 901.7l11-8.8-6.2-1.2-11 8.8zM1214 900.6l11-8.8-6.2-.8-11 8.7zM1271.2 912.2l11.2-8.5-6.6-4-11.1 8.5zM1265.1 908.5l11.1-8.5-6.6-3.6-11.1 8.4zM1206.6 891.9l10.9-8.2-6.1 .4-10.8 8.2zM1201 892.2l10.8-8.2-6 .8-10.8 8.2zM1299.6 918.4l11.2-8.1-6.8-5.2-11.2 8.1zM1293.3 913.5l11.2-8.1-6.7-4.8-11.2 8.1zM1199.3 886.8l10.8-7.7-5.9 1.5-10.7 7.7zM1315.7 916.7l11.2-7.7-6.8-5.7-11.2 7.6zM1197.8 883.3l10.7-7.3-5.9 2.2-10.6 7.3zM1331.9 915.8l11.2-7.2-6.9-6.1-11.1 7.2zM1201.7 879.2l10.6-6.8-5.9 2.6-10.6 6.8zM1205.5 875.8l10.5-6.4-5.8 3-10.5 6.4zM1209.3 873.2l10.5-5.9-5.8 3.3-10.5 5.9zM1380.7 917.9l11.1-5.3-7.1-7.9-11.1 5.2zM1213.1 871.3l10.4-5.5-5.8 3.6-10.4 5.5zM1397 920.2l11.1-4.8-7.2-8.3-11 4.8zM1216.8 870.1l10.4-5.1-5.8 4-10.3 5.1zM1423 919.3l11-3.9-7.2-8.7-11 3.9zM1229.5 865.3l10.3-3.6-5.8 4.9-10.2 3.6zM1448.9 920.4l10.9-3-7.3-9.2-10.9 3zM1458.4 917.6l10.8-2.5-7.3-9.1-10.8 2.5zM1467.9 915.2l10.8-2.1-7.3-9.1-10.8 2.1zM1477.3 913.2l10.7-1.6-7.3-9.1-10.7 1.6zM1486.7 911.7l10.6-1.2-7.3-9.1-10.6 1.2zM1496 910.6l10.6-.7-7.3-9.1-10.6 .7zM1505.2 909.9l10.5-.3-7.4-9.1-10.5 .3zM1514.4 909.6l10.5 .1-7.4-9-10.5-.2zM1523.5 909.7l10.4 .6-7.4-9-10.4-.6zM1534.8 903.3l10.3 1.5-7.4-8.6-10.3-1.5zM1543.7 904.7l10.2 1.9-7.4-8.6-10.2-1.9zM1545.8 899l10.1 2.3-7.3-8.1-10.1-2.3zM1556.6 896.7l10 3.1-7.3-7.7-10-3.1zM1558.5 893l9.9 3.6-7.3-7.3-9.9-3.6zM1560.3 890.1l9.8 4-7.3-6.9-9.8-4zM1562.1 887.9l9.8 4.4-7.2-6.4-9.8-4.4zM1557.2 881.5l9.7 4.7-7.2-5.6-9.7-4.7zM1559 880.6l9.6 5.7-7.2-4.6-9.6-5.7zM1552.4 876.3l9.6 5.7-7.1-4.3-9.6-5.7zM1554.1 877l9.5 6.1-7.1-3.9-9.5-6.1zM1547.5 873.4l9.5 6.1-7.1-3.5-9.5-6zM1529.8 867.6l9.4 6.4-6.9-2-9.4-6.3z"/>
<path fill="#fffa73" d="M1259 905.1l11.1-8.4-6.5-3.2-11.1 8.4zM1253 902.2l11.1-8.4-6.5-2.7-11.1 8.4zM1247 899.6l11.1-8.4-6.4-2.3-11 8.4zM1241.1 897.4l11-8.4-6.4-1.9-11 8.4zM1229.4 894.1l11-8.3-6.3-1.1-11 8.3zM1223.6 893l11-8.3-6.2-.8-10.9 8.3zM1217.9 892.3l10.9-8.3-6.2-.4-10.9 8.3zM1212.2 891.9l10.9-8.3-6.1 0-10.9 8.2zM1287.1 909l11.2-8.1-6.7-4.4-11.1 8zM1210.4 885.1l10.8-7.8-6 .8-10.8 7.8zM1204.9 885.8l10.8-7.8-6 1.1-10.8 7.7zM1309.4 911.4l11.2-7.6-6.8-5.2-11.1 7.6zM1208.7 880.2l10.7-7.3-6 1.5-10.7 7.3zM1203.2 881.6l10.7-7.3-5.9 1.9-10.7 7.3zM1325.5 910.2l11.1-7.2-6.9-5.6-11.1 7.2zM1207.1 877.1l10.6-6.8-5.9 2.3-10.6 6.8zM1348.1 915.7l11.1-6.2-7-7.1-11.1 6.1zM1210.9 873.4l10.6-6.4-5.9 2.6-10.5 6.4zM1364.4 916.4l11.1-5.7-7-7.5-11.1 5.7zM1214.7 870.5l10.5-5.9-5.9 3-10.5 5.9zM1218.5 868.2l10.5-5.5-5.8 3.3-10.4 5.5zM1390.4 913l11-4.8-7.1-7.9-11 4.8zM1222.2 866.7l10.4-5.1-5.8 3.7-10.4 5.1zM1406.7 915.7l11-4.4-7.2-8.3-11 4.3zM1225.9 866l10.3-4.6-5.8 4-10.3 4.6zM1416.3 911.7l11-3.9-7.2-8.3-10.9 3.9zM1234.9 861.6l10.3-3.6-5.8 4.6-10.3 3.6zM1432.6 915.6l10.9-3.4-7.2-8.7-10.9 3.4zM1442.2 912.4l10.9-3-7.3-8.7-10.8 3zM1451.7 909.6l10.8-2.5-7.3-8.7-10.8 2.5zM1516.7 901.9l10.4 .6-7.3-8.6-10.4-.6zM1525.8 902.4l10.3 1-7.4-8.6-10.3-1zM1536.9 897.3l10.2 1.9-7.3-8.1-10.2-1.9zM1547.8 894.2l10 2.7-7.3-7.7-10-2.7zM1549.8 890.1l10 3.1-7.3-7.3-10-3.2zM1551.7 886.8l9.9 3.6-7.3-6.9-9.9-3.6zM1553.6 884.3l9.8 4-7.2-6.4-9.8-4zM1555.4 882.5l9.8 4.4-7.2-6-9.7-4.3zM1550.6 876.2l9.7 5.3-7.2-4.6-9.7-5.3zM1545.8 872.3l9.6 5.7-7.1-3.9-9.6-5.7zM1541 870.2l9.5 6-7-3.1-9.5-6zM1534.5 867.3l9.5 6-7-2.7-9.5-6zM1528 864.8l9.5 6-7-2.3-9.5-6zM1521.6 862.7l9.5 6-6.9-2-9.5-6zM1515.2 860.9l9.5 6-6.9-1.6-9.5-6z"/>
<path fill="#fff173" d="M1235.2 895.6l11-8.4-6.3-1.5-11 8.3zM1281 904.9l11.1-8-6.6-4-11.1 8zM1274.8 901.2l11.1-8-6.6-3.6-11.1 8zM1268.8 897.9l11.1-8-6.5-3.1-11.1 8zM1221.7 884.8l10.9-7.8-6.2 0-10.8 7.8zM1216.1 884.8l10.8-7.8-6.1 .4-10.8 7.8zM1303.1 906.6l11.1-7.6-6.8-4.8-11.1 7.6zM1296.9 902.1l11.1-7.6-6.7-4.4-11.1 7.6zM1214.3 879.2l10.8-7.3-6 1.2-10.7 7.3zM1319.2 904.9l11.1-7.2-6.8-5.2-11.1 7.1zM1212.6 875.4l10.7-6.8-6 1.9-10.6 6.8zM1341.7 909.7l11.1-6.7-6.9-6-11.1 6.7zM1216.4 871.3l10.6-6.4-5.9 2.3-10.6 6.4zM1357.9 910l11.1-5.7-7-7.1-11.1 5.7zM1374.1 911.1l11.1-5.2-7.1-7.5-11.1 5.2zM1383.8 906.2l11-4.8-7.1-7.5-11 4.8zM1227.6 863.7l10.4-5.1-5.9 3.3-10.4 5.1zM1400.1 908.5l11-4.3-7.1-7.9-11 4.3zM1231.3 862.6l10.4-4.6-5.8 3.7-10.3 4.6zM1425.9 908.1l10.9-3.4-7.2-8.3-10.9 3.4zM1243.9 858.2l10.3-3.2-5.8 4.6-10.2 3.2zM1435.5 904.9l10.8-3-7.2-8.3-10.8 3zM1461.1 907.3l10.8-2.1-7.3-8.7-10.7 2.1zM1470.5 905.3l10.7-1.6-7.3-8.7-10.7 1.6zM1479.9 903.8l10.6-1.2-7.3-8.6-10.6 1.2zM1489.2 902.7l10.6-.7-7.3-8.6-10.6 .7zM1498.4 902l10.5-.3-7.3-8.6-10.5 .3zM1507.6 901.7l10.5 .2-7.3-8.6-10.4-.2zM1519 895l10.3 1-7.3-8.1-10.3-1zM1528 895.9l10.3 1.5-7.3-8.1-10.2-1.5zM1530.1 890.3l10.2 1.9-7.3-7.7-10.2-1.9zM1539 892l10.1 2.3-7.3-7.7-10.1-2.3zM1541 887.6l10 2.7-7.3-7.3-10-2.7zM1543 883.9l10 3.2-7.3-6.8-10-3.2zM1545 881l9.9 3.6-7.2-6.4-9.9-3.6zM1546.9 878.9l9.8 4-7.2-6-9.8-3.9zM1548.8 877.5l9.7 4.3-7.2-5.6-9.7-4.3zM1544 871.9l9.7 5.3-7.1-4.2-9.7-5.3zM1539.2 868.7l9.6 5.7-7.1-3.5-9.6-5.7zM1532.7 865.5l9.6 5.7-7-3.1-9.6-5.7zM1526.2 862.7l9.6 5.7-7-2.7-9.6-5.6z"/>
<path fill="#ffe973" d="M1262.7 894.9l11.1-8-6.5-2.7-11 7.9zM1256.7 892.4l11-7.9-6.4-2.3-11 7.9zM1250.8 890.2l11-7.9-6.4-1.9-11 7.9zM1244.9 888.4l11-7.9-6.3-1.5-10.9 7.9zM1239 886.9l10.9-7.9-6.3-1.1-10.9 7.9zM1233.2 885.8l10.9-7.9-6.3-.7-10.9 7.8zM1227.5 885.1l10.9-7.8-6.2-.4-10.9 7.8zM1290.7 898l11.1-7.6-6.7-3.9-11.1 7.5zM1284.6 894.3l11.1-7.5-6.6-3.5-11 7.5zM1225.6 878.1l10.8-7.3-6.1 .4-10.8 7.3zM1219.9 878.5l10.8-7.3-6.1 .8-10.8 7.3zM1312.9 900.1l11.1-7.1-6.8-4.8-11.1 7.1zM1223.7 872.9l10.7-6.9-6.1 1.2-10.7 6.9zM1218.1 874l10.7-6.9-6 1.5-10.7 6.8zM1335.3 904l11.1-6.7-6.9-5.6-11.1 6.7zM1328.9 898.8l11.1-6.7-6.8-5.2-11.1 6.7zM1221.9 869.6l10.6-6.4-6 1.9-10.6 6.4zM1351.4 904l11.1-5.7-7-6.6-11.1 5.6zM1220.2 868.1l10.5-5.9-5.9 2.6-10.5 5.9zM1367.6 904.7l11.1-5.2-7-7-11 5.2zM1223.9 865.5l10.5-5.5-5.9 3-10.5 5.5zM1233.1 860.9l10.5-5.1-5.9 3-10.4 5.1zM1393.5 901.8l11-4.3-7.1-7.4-11 4.3zM1236.7 859.5l10.4-4.6-5.9 3.3-10.4 4.6zM1409.7 904.5l10.9-3.9-7.1-7.9-10.9 3.9zM1240.3 858.2l10.3-3.6-5.9 4.3-10.3 3.6zM1419.3 900.9l10.9-3.4-7.2-7.8-10.9 3.4zM1249.3 854.9l10.3-3.2-5.9 4.2-10.3 3.2zM1252.8 855.2l10.2-2.8-5.9 4.6-10.2 2.8zM1445 902.1l10.8-2.5-7.2-8.2-10.8 2.5zM1454.4 899.8l10.7-2.1-7.2-8.2-10.7 2zM1463.8 897.8l10.7-1.6-7.3-8.2-10.7 1.6zM1473.1 896.3l10.6-1.2-7.3-8.2-10.6 1.1zM1482.4 895.2l10.6-.7-7.3-8.2-10.6 .7zM1491.6 894.6l10.5-.3-7.3-8.2-10.5 .3zM1500.8 894.3l10.4 .2-7.3-8.2-10.4-.2zM1509.9 894.4l10.4 .6-7.3-8.2-10.4-.6zM1521.2 888.9l10.2 1.5-7.3-7.7-10.2-1.5zM1532.2 885.4l10.1 2.3-7.3-7.3-10.1-2.3zM1534.3 881.4l10 2.7-7.3-6.9-10-2.7zM1536.3 878.1l10 3.2-7.2-6.4-9.9-3.1zM1538.3 875.6l9.9 3.6-7.2-6-9.9-3.6zM1540.2 873.8l9.8 3.9-7.2-5.6-9.8-3.9zM1542.1 872.8l9.7 4.3-7.1-5.2-9.7-4.3zM1535.5 867.9l9.7 4.9-7.1-4.2-9.7-4.9zM1537.4 868l9.7 5.3-7.1-3.8-9.6-5.3zM1530.8 864.4l9.6 5.3-7-3.5-9.6-5.3zM1519.7 860.2l9.6 5.6-6.9-2.3-9.6-5.6zM1513.3 858l9.6 5.6-6.9-1.9-9.5-5.6zM1506.9 856.2l9.5 5.6-6.9-1.6-9.5-5.6z"/>
<path fill="#ffe073" d="M1278.5 891l11-7.5-6.6-3.1-11 7.5zM1272.4 888.1l11-7.5-6.5-2.7-11 7.5zM1266.4 885.5l11-7.5-6.5-2.3-11 7.5zM1260.4 883.4l11-7.5-6.4-1.9-10.9 7.4zM1248.6 880.2l10.9-7.4-6.3-1.1-10.9 7.4zM1242.8 879.1l10.9-7.4-6.3-.7-10.9 7.4zM1237 878.4l10.9-7.4-6.2-.3-10.8 7.4zM1231.2 878.1l10.8-7.4-6.2 0-10.8 7.3zM1306.6 895.6l11.1-7.1-6.7-4.3-11.1 7.1zM1300.4 891.5l11.1-7.1-6.7-3.9-11 7.1zM1229.3 872.2l10.7-6.9-6.1 .8-10.7 6.9zM1322.6 894l11.1-6.7-6.8-4.7-11 6.7zM1227.5 868.2l10.7-6.4-6 1.6-10.6 6.4zM1345 898.4l11.1-6.2-6.9-5.6-11 6.2zM1231.2 864.2l10.6-6-6 1.9-10.6 6zM1225.7 866l10.6-6-6 2.3-10.5 5.9zM1361.1 898.7l11-5.2-7-6.6-11 5.2zM1229.4 863.1l10.5-5.5-5.9 2.6-10.5 5.5zM1377.3 899.8l11-4.8-7-7-11 4.7zM1386.9 895.4l11-4.3-7-7-10.9 4.3zM1242.2 856.8l10.4-4.7-5.9 3-10.4 4.6zM1403.1 897.8l10.9-3.9-7.1-7.4-10.9 3.8zM1245.8 855.8l10.4-4.2-5.9 3.3-10.3 4.2zM1428.8 897.7l10.8-3-7.2-7.8-10.8 2.9zM1258.3 851.9l10.3-2.8-5.9 4.2-10.2 2.8zM1438.3 895l10.8-2.5-7.2-7.8-10.8 2.5zM1267.2 849.3l10.2-2.4-5.9 4.2-10.2 2.4zM1447.7 892.7l10.7-2-7.2-7.8-10.7 2zM1494.1 887.3l10.4 .2-7.3-7.7-10.4-.2zM1503.2 887.4l10.4 .6-7.3-7.7-10.4-.6zM1512.2 888l10.3 1-7.3-7.7-10.3-1.1zM1514.5 882.3l10.2 1.5-7.3-7.3-10.2-1.5zM1523.4 883.7l10.2 1.9-7.3-7.3-10.2-1.9zM1525.5 879.2l10.1 2.3-7.2-6.9-10.1-2.3zM1527.6 875.6l10 2.7-7.2-6.4-10-2.7zM1529.6 872.7l9.9 3.1-7.2-6-9.9-3.1zM1531.6 870.5l9.9 3.6-7.2-5.6-9.9-3.5zM1533.6 869.2l9.8 3.9-7.1-5.2-9.8-3.9zM1528.9 864l9.7 4.9-7.1-3.8-9.7-4.9zM1522.4 860.4l9.7 4.9-7-3.4-9.7-4.9zM1524.3 861.2l9.6 5.3-7-3.1-9.6-5.3zM1517.8 858.4l9.6 5.3-7-2.7-9.6-5.3zM1511.4 855.9l9.6 5.3-6.9-2.3-9.6-5.2zM1505 853.8l9.6 5.2-6.9-1.9-9.6-5.2zM1498.6 852l9.6 5.2-6.9-1.6-9.6-5.2zM1492.2 850.5l9.6 5.2-6.8-1.2-9.6-5.2z"/>
<path fill="#ffd873" d="M1254.5 881.6l10.9-7.4-6.4-1.5-10.9 7.4zM1294.3 887.9l11-7.1-6.6-3.5-11 7.1zM1288.1 884.6l11-7.1-6.6-3.1-11 7zM1282 881.7l11-7-6.5-2.7-11 7zM1246.5 872.1l10.8-6.9-6.3-.3-10.8 6.9zM1240.7 871.8l10.8-6.9-6.2 .1-10.8 6.9zM1235 871.8l10.8-6.9-6.2 .4-10.7 6.9zM1316.3 889.5l11-6.7-6.8-4.3-11 6.6zM1310.1 885.5l11-6.6-6.7-3.9-11 6.6zM1238.7 866.4l10.7-6.4-6.1 .8-10.7 6.4zM1233.1 867.1l10.7-6.4-6.1 1.2-10.7 6.4zM1338.6 893.1l11-6.2-6.9-5.2-11 6.2zM1332.3 888.3l11-6.2-6.8-4.7-11 6.2zM1236.8 862.8l10.6-6-6.1 1.6-10.6 6zM1354.7 893.1l11-5.2-6.9-6.2-11 5.2zM1240.5 859.2l10.6-5.5-6 1.9-10.5 5.5zM1234.9 861l10.5-5.5-6 2.3-10.5 5.5zM1370.8 893.9l11-4.7-7-6.6-11 4.7zM1238.6 858.5l10.5-5.1-6 2.6-10.5 5.1zM1380.4 889.5l10.9-4.3-7-6.6-10.9 4.3zM1247.7 854.4l10.4-4.7-6 2.6-10.4 4.7zM1396.5 891.4l10.9-3.8-7.1-7-10.9 3.8zM1251.3 853l10.4-4.2-6 3-10.4 4.2zM1412.7 894.2l10.9-3.4-7.1-7.4-10.9 3.4zM1254.8 851.8l10.3-3.2-5.9 3.9-10.3 3.2zM1422.2 891l10.8-2.9-7.1-7.4-10.8 2.9zM1263.8 848.8l10.3-2.8-6 3.9-10.3 2.8zM1431.6 888.3l10.8-2.5-7.2-7.4-10.8 2.5zM1457.1 890.8l10.7-1.6-7.2-7.8-10.7 1.6zM1466.4 889.3l10.6-1.1-7.2-7.8-10.6 1.1zM1475.7 888.2l10.6-.7-7.2-7.7-10.5 .7zM1484.9 887.5l10.5-.3-7.3-7.7-10.5 .2zM1496.4 880.8l10.4 .6-7.2-7.3-10.3-.6zM1505.5 881.4l10.3 1.1-7.3-7.3-10.3-1.1zM1507.7 876.1l10.2 1.5-7.2-6.9-10.2-1.5zM1516.7 877.5l10.2 1.9-7.2-6.9-10.2-1.9zM1518.8 873.4l10.1 2.3-7.2-6.4-10.1-2.3zM1520.9 870.2l10 2.7-7.2-6-10-2.7zM1523 867.6l9.9 3.1-7.2-5.6-9.9-3.1zM1525 865.9l9.9 3.5-7.1-5.2-9.9-3.5zM1527 864.9l9.8 3.9-7.1-4.8-9.8-3.9zM1520.4 860.4l9.8 4.5-7.1-3.8-9.8-4.5zM1515.9 857.2l9.7 4.9-7-3.1-9.7-4.9zM1509.4 854.4l9.7 4.9-7-2.7-9.7-4.9zM1503 851.9l9.7 4.9-6.9-2.3-9.7-4.9z"/>
<path fill="#ffcf73" d="M1276 879.2l11-7-6.5-2.3-10.9 7zM1270 877l10.9-7-6.4-1.9-10.9 7zM1264.1 875.2l10.9-7-6.4-1.5-10.9 7zM1258.2 873.8l10.9-7-6.4-1.1-10.9 6.9zM1252.3 872.8l10.9-6.9-6.3-.7-10.8 6.9zM1303.9 881.9l11-6.6-6.7-3.5-11 6.6zM1297.8 878.6l11-6.6-6.6-3.1-10.9 6.6zM1250.2 865.9l10.8-6.5-6.2 .1-10.7 6.4zM1244.4 866l10.7-6.4-6.2 .5-10.7 6.4zM1326 883.9l11-6.2-6.8-4.3-11 6.2zM1248.1 861l10.7-6-6.2 .8-10.7 6zM1242.4 861.7l10.7-6-6.1 1.2-10.6 6zM1348.3 887.9l11-5.8-6.9-5.1-11 5.1zM1341.9 883.1l11-5.7-6.8-4.7-11 5.7zM1246.1 857.8l10.6-5.5-6.1 1.6-10.6 5.5zM1364.3 888.3l11-4.7-6.9-6.1-10.9 4.7zM1357.9 883.1l10.9-4.7-6.9-5.7-10.9 4.7zM1249.7 854.7l10.5-5.1-6.1 1.9-10.5 5.1zM1244.1 856.4l10.5-5.1-6 2.3-10.5 5.1zM1373.9 883.9l10.9-4.3-7-6.1-10.9 4.2zM1253.3 852.3l10.5-4.7-6 2.3-10.4 4.7zM1390 885.5l10.9-3.8-7-6.5-10.9 3.8zM1256.8 850.6l10.4-4.2-6 2.6-10.4 4.2zM1406.1 887.8l10.9-3.4-7.1-7-10.8 3.4zM1260.3 849.6l10.3-3.8-6 3-10.3 3.8zM1415.6 884.7l10.8-2.9-7.1-6.9-10.8 2.9zM1269.3 846.1l10.3-2.8-6 3.6-10.3 2.8zM1272.8 846.2l10.2-2.4-6 3.9-10.2 2.4zM1441 886l10.7-2-7.2-7.4-10.7 2zM1281.7 844l10.2-2-6 3.9-10.2 2zM1450.4 884.1l10.7-1.6-7.2-7.3-10.6 1.6zM1290.6 842.2l10.2-1.5-6 3.9-10.1 1.6zM1459.7 882.6l10.6-1.1-7.2-7.3-10.6 1.1zM1469 881.5l10.5-.7-7.2-7.3-10.5 .7zM1478.2 880.9l10.5-.2-7.2-7.3-10.5 .2zM1487.3 880.6l10.4 .2-7.2-7.3-10.4-.2zM1489.7 874.6l10.3 .6-7.2-6.9-10.3-.6zM1498.8 875.2l10.3 1.1-7.2-6.9-10.3-1.1zM1501.1 870.3l10.2 1.5-7.2-6.4-10.2-1.5zM1510 871.7l10.2 1.9-7.2-6.4-10.1-1.9zM1512.1 868l10.1 2.3-7.2-6-10.1-2.3zM1514.3 865.1l10 2.7-7.1-5.6-10-2.7zM1516.4 863l9.9 3.1-7.1-5.2-9.9-3.1zM1518.4 861.6l9.9 3.5-7.1-4.8-9.9-3.5zM1511.9 857.7l9.9 3.5-7.1-4.4-9.8-3.5zM1513.9 856.8l9.8 4.5-7-3.4-9.8-4.5zM1507.4 853.6l9.8 4.5-7-3-9.8-4.5zM1500.9 850.8l9.8 4.5-7-2.7-9.7-4.5zM1496.6 849.8l9.7 4.9-6.9-1.9-9.7-4.8zM1490.2 848.1l9.7 4.8-6.9-1.5-9.7-4.8zM1483.8 846.6l9.7 4.8-6.8-1.2-9.6-4.8zM1477.5 845.6l9.6 4.8-6.8-.8-9.6-4.8z"/>
<path fill="#ffc773" d="M1291.7 875.7l10.9-6.6-6.6-2.7-10.9 6.6zM1285.6 873.2l10.9-6.6-6.5-2.3-10.9 6.5zM1279.6 871.1l10.9-6.5-6.5-1.9-10.9 6.5zM1273.6 869.3l10.9-6.5-6.4-1.5-10.8 6.5zM1267.7 867.9l10.8-6.5-6.4-1.1-10.8 6.5zM1261.8 866.9l10.8-6.5-6.3-.7-10.8 6.5zM1256 866.2l10.8-6.5-6.3-.3-10.8 6.5zM1319.8 879.9l11-6.2-6.7-3.9-11 6.2zM1313.5 876.3l11-6.2-6.7-3.5-10.9 6.1zM1259.6 860.5l10.7-6-6.3 .1-10.7 6zM1253.8 860.5l10.7-6-6.2 .5-10.7 6zM1335.6 878.7l11-5.7-6.8-4.3-10.9 5.7zM1251.7 856.7l10.6-5.5-6.1 1.2-10.6 5.5zM1351.6 878.3l10.9-4.7-6.9-5.3-10.9 4.7zM1255.3 853.2l10.6-5.1-6.1 1.6-10.5 5.1zM1367.5 878.7l10.9-4.2-6.9-5.7-10.9 4.2zM1258.9 850.5l10.5-4.7-6.1 1.9-10.5 4.7zM1383.5 879.9l10.9-3.8-7-6.1-10.9 3.8zM1262.4 848.5l10.4-4.2-6.1 2.3-10.4 4.2zM1399.5 881.9l10.8-3.4-7-6.5-10.8 3.3zM1265.9 847.2l10.4-3.8-6 2.6-10.3 3.8zM1409 878.8l10.8-2.9-7.1-6.5-10.8 2.9zM1274.9 844.2l10.3-3.4-6.1 2.6-10.3 3.4zM1425 882l10.8-2.5-7.1-6.9-10.7 2.4zM1278.3 843.5l10.3-2.4-6 3.6-10.2 2.4zM1434.4 879.7l10.7-2-7.1-6.9-10.7 2zM1287.3 841.3l10.2-1.9-6.1 3.6-10.2 2zM1443.8 877.8l10.6-1.6-7.1-6.9-10.6 1.6zM1296.2 839.4l10.2-1.5-6.1 3.6-10.2 1.5zM1453.1 876.3l10.6-1.1-7.2-6.9-10.6 1.1zM1305.1 838l10.1-1.1-6.1 3.5-10.1 1.1zM1462.3 875.3l10.5-.7-7.2-6.9-10.5 .7zM1471.5 874.7l10.5-.2-7.2-6.9-10.5 .2zM1480.7 874.4l10.4 .2-7.2-6.9-10.4-.2zM1483.1 868.8l10.3 .6-7.2-6.4-10.3-.6zM1492.1 869.3l10.3 1.1-7.2-6.4-10.3-1.1zM1494.4 864.9l10.2 1.5-7.2-6-10.2-1.5zM1503.3 866.3l10.1 1.9-7.2-6-10.1-1.9zM1505.5 863l10.1 2.3-7.1-5.6-10.1-2.3zM1507.7 860.5l10 2.7-7.1-5.2-10-2.7zM1509.8 858.7l9.9 3.1-7.1-4.8-9.9-3.1zM1503.2 854.8l9.9 3.1-7-4.4-9.9-3.1zM1505.3 853.6l9.8 4.1-7-3.4-9.8-4.1zM1498.8 850.4l9.8 4.1-7-3-9.8-4.1zM1494.5 848.4l9.7 4.5-6.9-2.3-9.7-4.5zM1488.1 846.3l9.7 4.5-6.9-1.9-9.7-4.5zM1481.7 844.5l9.7 4.5-6.8-1.5-9.7-4.4zM1475.4 843.1l9.7 4.4-6.8-1.1-9.7-4.4zM1469.1 842.1l9.7 4.4-6.8-.8-9.7-4.4zM1462.9 841.3l9.7 4.4-6.7-.4-9.7-4.4z"/>
<path fill="#ffbe73" d="M1307.4 873l10.9-6.1-6.6-3.1-10.9 6.1zM1301.2 870.2l10.9-6.1-6.6-2.7-10.9 6.1zM1295.2 867.7l10.9-6.1-6.5-2.2-10.9 6.1zM1289.1 865.6l10.9-6.1-6.5-1.8-10.8 6.1zM1283.1 863.8l10.8-6.1-6.5-1.5-10.8 6.1zM1277.2 862.4l10.8-6.1-6.4-1.1-10.8 6zM1271.3 861.4l10.8-6-6.4-.7-10.8 6zM1265.4 860.8l10.8-6-6.3-.3-10.7 6zM1329.4 874.7l10.9-5.7-6.8-3.9-10.9 5.7zM1323.1 871.1l10.9-5.7-6.7-3.5-10.9 5.7zM1269 855.5l10.7-5.6-6.3 .1-10.7 5.6zM1263.2 855.5l10.7-5.6-6.2 .5-10.6 5.6zM1257.4 855.9l10.6-5.6-6.2 .8-10.6 5.5zM1345.2 874l10.9-5.3-6.8-4.3-10.9 5.3zM1266.7 851.3l10.6-5.1-6.2 .9-10.6 5.1zM1261 852.1l10.6-5.1-6.2 1.2-10.6 5.1zM1361.1 874l10.9-4.2-6.9-5.3-10.9 4.2zM1264.5 849l10.5-4.7-6.1 1.6-10.5 4.7zM1377.1 874.8l10.9-3.8-6.9-5.7-10.8 3.8zM1268 846.7l10.5-4.2-6.1 1.9-10.4 4.2zM1393 876.4l10.8-3.3-7-6.1-10.8 3.3zM1271.5 845.1l10.4-3.8-6.1 2.3-10.4 3.8zM1402.5 873.3l10.8-2.9-7-6.1-10.8 2.9zM1280.6 842.1l10.4-3.4-6.1 2.3-10.3 3.4zM1418.4 876.1l10.7-2.4-7.1-6.5-10.7 2.4zM1284 841l10.3-2.4-6.1 3.2-10.3 2.4zM1427.8 873.8l10.7-2-7.1-6.5-10.7 2zM1292.9 838.8l10.3-1.9-6.1 3.2-10.2 1.9zM1437.2 871.9l10.6-1.6-7.1-6.5-10.6 1.5zM1301.9 837l10.2-1.5-6.1 3.2-10.2 1.5zM1446.5 870.5l10.6-1.1-7.1-6.5-10.6 1.1zM1310.8 835.6l10.2-1.1-6.2 3.2-10.1 1.1zM1455.7 869.5l10.5-.7-7.1-6.5-10.5 .7zM1319.6 834.6l10.1-.7-6.2 3.2-10.1 .7zM1464.9 868.8l10.5-.2-7.1-6.5-10.4 .2zM1328.4 833.9l10.1-.3-6.2 3.2-10.1 .3zM1474 868.6l10.4 .2-7.2-6.4-10.4-.2zM1476.5 863.3l10.3 .6-7.1-6-10.3-.6zM1485.5 863.9l10.3 1.1-7.1-6-10.3-1.1zM1487.8 859.9l10.2 1.5-7.1-5.6-10.2-1.5zM1496.7 861.2l10.1 1.9-7.1-5.6-10.1-1.9zM1498.9 858.3l10.1 2.3-7.1-5.2-10-2.3zM1492.3 854.1l10 2.3-7.1-4.8-10-2.3zM1501.1 856.2l10 2.7-7.1-4.8-10-2.7zM1494.6 852.3l10 2.7-7-4.4-10-2.7zM1496.7 851.3l9.9 3.1-7-4-9.9-3.1zM1490.2 847.5l9.9 3.7-7-3-9.9-3.7zM1433.5 835.1l9.8 3.6-6.6 .4-9.8-3.6zM1492.4 847.6l9.8 4.1-6.9-2.6-9.8-4.1zM1486 845.1l9.8 4.1-6.9-2.3-9.8-4.1zM1479.6 843l9.8 4.1-6.9-1.9-9.8-4.1zM1473.2 841.3l9.8 4.1-6.8-1.5-9.8-4zM1466.9 839.9l9.8 4-6.8-1.1-9.8-4zM1460.6 838.9l9.8 4-6.8-.8-9.7-4zM1454.4 838.2l9.7 4-6.7-.4-9.7-4zM1448.2 837.8l9.7 4-6.7 0-9.7-4z"/>
<path fill="#ffb573" d="M1316.9 867.9l10.9-5.7-6.7-3-10.9 5.7zM1310.8 865l10.9-5.7-6.6-2.6-10.8 5.6zM1304.7 862.6l10.8-5.6-6.6-2.2-10.8 5.6zM1298.6 860.5l10.8-5.6-6.5-1.8-10.8 5.6zM1292.6 858.7l10.8-5.6-6.5-1.4-10.8 5.6zM1286.6 857.4l10.8-5.6-6.4-1-10.7 5.6zM1280.7 856.4l10.7-5.6-6.4-.7-10.7 5.6zM1274.8 855.7l10.7-5.6-6.3-.3-10.7 5.6zM1338.9 870l10.9-5.3-6.8-3.9-10.9 5.2zM1332.7 866.4l10.9-5.2-6.7-3.4-10.8 5.2zM1326.5 863.2l10.8-5.2-6.7-3-10.8 5.2zM1278.3 850.8l10.7-5.1-6.3 .1-10.6 5.1zM1272.5 850.9l10.6-5.1-6.3 .5-10.6 5.1zM1354.8 869.6l10.9-4.2-6.8-4.9-10.8 4.2zM1348.5 865.7l10.8-4.8-6.8-3.8-10.8 4.8zM1276 847.1l10.6-4.7-6.2 .9-10.5 4.7zM1270.3 847.9l10.5-4.7-6.2 1.2-10.5 4.7zM1370.6 870.1l10.8-3.8-6.9-5.3-10.8 3.8zM1364.3 865.7l10.8-3.8-6.9-4.8-10.8 3.7zM1279.5 844.1l10.5-4.2-6.2 1.2-10.5 4.2zM1273.7 845.2l10.5-4.2-6.2 1.6-10.5 4.2zM1386.6 871.3l10.8-3.3-7-5.7-10.8 3.3zM1380.1 866.6l10.8-3.3-6.9-5.3-10.8 3.3zM1282.9 841.9l10.4-3.8-6.2 1.6-10.4 3.8zM1277.2 843.3l10.4-3.8-6.1 1.9-10.4 3.8zM1396 868.2l10.8-2.9-7-5.7-10.7 2.9zM1286.3 840.3l10.4-3.4-6.2 1.9-10.4 3.4zM1411.9 870.6l10.7-2.4-7-6.1-10.7 2.4zM1405.4 865.5l10.7-2.4-7-5.7-10.7 2.4zM1289.6 839.5l10.3-3-6.1 2.3-10.3 3zM1421.3 868.3l10.7-2-7.1-6.1-10.7 2zM1298.6 836.7l10.3-1.9-6.2 2.9-10.3 1.9zM1430.6 866.5l10.6-1.5-7.1-6.1-10.6 1.5zM1307.6 834.9l10.2-1.5-6.2 2.9-10.2 1.5zM1439.9 865l10.6-1.1-7.1-6-10.5 1.1zM1316.5 833.5l10.2-1.1-6.2 2.9-10.2 1.1zM1449.1 864l10.5-.7-7.1-6-10.5 .6zM1325.4 832.5l10.1-.7-6.2 2.9-10.1 .7zM1458.3 863.4l10.4-.2-7.1-6-10.4 .2zM1334.2 831.8l10.1-.3-6.3 2.8-10.1 .3zM1467.4 863.2l10.4 .2-7.1-6-10.4-.2zM1343 831.5l10.1 .1-6.3 2.8-10-.1zM1469.9 858.3l10.3 .6-7.1-5.6-10.3-.7zM1478.9 858.9l10.3 1.1-7.1-5.6-10.2-1.1zM1481.2 855.2l10.2 1.5-7.1-5.2-10.2-1.5zM1490.1 856.6l10.1 1.9-7.1-5.2-10.1-1.9zM1483.5 852.3l10.1 1.9-7.1-4.8-10.1-1.9zM1485.8 850.2l10 2.3-7-4.4-10-2.3zM1410.3 831l9.9 2.8-6.5 .7-9.9-2.8zM1488 848.8l10 2.7-7-4-10-2.7zM1481.6 845.6l10 2.7-7-3.6-9.9-2.7zM1431.1 832.7l9.8 3.2-6.6 0-9.8-3.2zM1425 832.7l9.8 3.2-6.6 .4-9.8-3.2zM1483.8 844.7l9.9 3.7-6.9-2.6-9.9-3.7zM1477.4 842.3l9.9 3.7-6.9-2.2-9.9-3.7zM1471 840.2l9.9 3.7-6.9-1.9-9.8-3.7zM1464.7 838.5l9.8 3.7-6.8-1.5-9.8-3.7zM1458.4 837.1l9.8 3.7-6.8-1.1-9.8-3.6zM1452.1 836.1l9.8 3.6-6.7-.7-9.8-3.6zM1445.9 835.4l9.8 3.6-6.7-.4-9.8-3.6zM1439.7 835.1l9.8 3.6-6.7 0-9.8-3.6z"/>
<path fill="#ffad73" d="M1320.3 860.3l10.8-5.2-6.6-2.6-10.8 5.2zM1314.2 857.9l10.8-5.2-6.6-2.2-10.8 5.2zM1308.1 855.8l10.8-5.2-6.5-1.8-10.8 5.2zM1302 854.1l10.8-5.2-6.5-1.4-10.7 5.2zM1296.1 852.7l10.7-5.2-6.5-1-10.7 5.1zM1290.1 851.7l10.7-5.1-6.4-.7-10.7 5.1zM1284.2 851.1l10.7-5.1-6.4-.3-10.7 5.1zM1342.2 862.1l10.8-4.8-6.7-3.4-10.8 4.8zM1336 858.9l10.8-4.8-6.7-3-10.8 4.8zM1287.6 846.6l10.6-4.7-6.3 .1-10.6 4.7zM1281.8 846.7l10.6-4.7-6.3 .5-10.6 4.7zM1357.9 861.8l10.8-3.7-6.8-4.4-10.8 3.7zM1285.2 843.4l10.5-4.2-6.3 .9-10.5 4.2zM1373.7 862.2l10.8-3.3-6.9-4.8-10.8 3.3zM1288.6 840.7l10.5-3.8-6.2 1.2-10.4 3.8zM1389.6 863.5l10.7-2.9-6.9-5.2-10.7 2.8zM1292 838.9l10.4-3.4-6.2 1.6-10.4 3.4zM1399 860.8l10.7-2.4-7-5.2-10.7 2.4zM1301.1 836.3l10.4-3-6.2 1.6-10.3 3zM1295.3 837.8l10.3-3-6.2 1.9-10.3 3zM1414.8 863.2l10.7-2-7-5.6-10.6 2zM1304.4 835l10.3-1.9-6.2 1.9-10.3 2.5zM1424.1 861.4l10.6-1.5-7-5.6-10.6 1.5zM1313.3 833.2l10.3-1.5-6.2 2.5-10.2 1.5zM1433.3 860l10.5-1.1-7-5.6-10.5 1.1zM1322.3 831.7l10.2-1.1-6.3 2.5-10.2 1.1zM1442.5 858.9l10.5-.6-7.1-5.6-10.5 .6zM1331.2 830.7l10.2-.7-6.3 2.5-10.1 .7zM1451.7 858.3l10.4-.2-7.1-5.6-10.4 .2zM1340 830.1l10.1-.3-6.3 2.5-10.1 .3zM1460.8 858.1l10.4 .2-7.1-5.6-10.4-.2zM1454.3 853.5l10.4 .2-7-5.2-10.3-.2zM1348.8 829.8l10.1 .1-6.3 2.5-10.1-.1zM1463.3 853.6l10.3 .7-7.1-5.2-10.3-.7zM1363.5 828.5l10 .6-6.4 2.1-10-.5zM1357.6 829.9l10 .5-6.3 2.5-10-.5zM1472.3 854.2l10.2 1.1-7.1-5.2-10.2-1.1zM1465.8 850l10.2 1.1-7-4.8-10.2-1.1zM1372.3 829l10 1-6.4 2.1-10-.9zM1474.7 850.9l10.2 1.5-7-4.8-10.2-1.5zM1468.2 847.1l10.2 1.5-7-4.4-10.1-1.5zM1386.9 828.8l10 2-6.5 1.1-9.9-2zM1381 829.9l9.9 1.4-6.4 2.1-9.9-1.3zM1477 848.4l10.1 1.9-7-4.4-10.1-1.9zM1470.5 844.9l10.1 1.9-7-4-10.1-1.9zM1401.6 829.4l9.9 2.4-6.5 .8-9.9-2.4zM1395.6 830.1l9.9 2.4-6.5 1.1-9.9-2.4zM1479.3 846.7l10 2.3-7-4-10-2.3zM1472.8 843.5l10 2.3-7-3.6-10-2.3zM1466.4 840.7l10 2.3-6.9-3.2-10-2.3zM1422.5 830.6l9.9 2.8-6.6 0-9.9-2.8zM1416.4 830.6l9.9 2.8-6.6 .4-9.9-2.8zM1475.1 842.2l9.9 3.3-6.9-2.6-9.9-3.3zM1468.7 839.8l9.9 3.3-6.9-2.2-9.9-3.3zM1462.4 837.7l9.9 3.3-6.8-1.8-9.9-3.3zM1456 836l9.9 3.3-6.8-1.5-9.9-3.3zM1449.7 834.7l9.9 3.3-6.8-1.1-9.9-3.2zM1443.5 833.7l9.9 3.2-6.7-.7-9.9-3.2zM1437.3 833l9.9 3.2-6.7-.4-9.8-3.2z"/>
<path fill="#ffa473" d="M1329.8 856l10.8-4.8-6.7-2.6-10.8 4.7zM1323.6 853.6l10.8-4.7-6.6-2.2-10.7 4.7zM1317.5 851.5l10.7-4.7-6.6-1.8-10.7 4.7zM1311.5 849.8l10.7-4.7-6.5-1.4-10.7 4.7zM1305.4 848.5l10.7-4.7-6.5-1-10.7 4.7zM1299.5 847.5l10.7-4.7-6.4-.6-10.6 4.7zM1293.5 846.9l10.6-4.7-6.4-.3-10.6 4.7zM1351.7 858.2l10.8-4.3-6.8-3.4-10.8 4.3zM1345.4 855l10.8-4.3-6.7-3-10.7 4.3zM1339.2 852.2l10.7-4.3-6.7-2.6-10.7 4.3zM1308.8 843.7l10.6-4.3-6.5-.6-10.6 4.3zM1302.8 843.1l10.6-4.3-6.4-.3-10.6 4.2zM1296.9 842.8l10.6-4.2-6.4 .1-10.6 4.2zM1291.1 842.9l10.6-4.2-6.3 .5-10.5 4.2zM1367.4 858.3l10.8-3.3-6.8-4.4-10.7 3.3zM1361.1 854.7l10.7-3.3-6.8-4-10.7 3.3zM1300.3 839.5l10.5-3.8-6.3 .5-10.5 3.8zM1294.4 840l10.5-3.8-6.3 .9-10.5 3.8zM1383.2 859.1l10.7-2.8-6.9-4.8-10.7 2.8zM1376.8 855.2l10.7-2.8-6.9-4.4-10.7 2.8zM1303.6 837l10.5-3.4-6.3 .9-10.4 3.4zM1297.8 837.8l10.4-3.4-6.3 1.2-10.4 3.4zM1392.5 856.5l10.7-2.4-6.9-4.8-10.7 2.4zM1306.9 835.2l10.4-2.9-6.3 1.2-10.4 3zM1408.3 858.6l10.6-2-7-5.2-10.6 2zM1401.9 854.3l10.6-2-6.9-4.8-10.6 1.9zM1315.9 833l10.3-2.5-6.3 1.2-10.3 2.5zM1310.1 834.1l10.3-2.5-6.3 1.6-10.3 2.5zM1417.6 856.7l10.6-1.5-7-5.2-10.6 1.5zM1411.1 852.4l10.6-1.5-6.9-4.8-10.5 1.5zM1319.1 831.7l10.3-1.5-6.3 2.2-10.3 1.5zM1426.8 855.3l10.5-1.1-7-5.2-10.5 1.1zM1328.1 830.3l10.2-1.1-6.3 2.2-10.2 1.1zM1436 854.3l10.5-.6-7-5.2-10.5 .6zM1429.5 850l10.5-.6-7-4.8-10.4 .6zM1337 829.3l10.2-.7-6.3 2.2-10.2 .7zM1445.2 853.7l10.4-.2-7-5.2-10.4 .2zM1438.7 849.4l10.4-.2-7-4.8-10.4 .2zM1345.9 828.6l10.1-.3-6.3 2.1-10.1 .3zM1447.8 849.2l10.3 .2-7-4.8-10.3-.2zM1360.6 827.3l10.1 .2-6.4 1.8-10.1-.1zM1354.7 828.4l10.1 .1-6.4 2.1-10.1-.1zM1456.8 849.4l10.3 .7-7-4.8-10.3-.7zM1450.3 845.5l10.3 .7-7-4.4-10.3-.7zM1369.5 827.4l10.1 .6-6.4 1.8-10-.6zM1459.3 846.1l10.2 1.1-7-4.4-10.2-1.1zM1384.2 827.2l10 1.6-6.5 .8-10-1.6zM1378.2 827.9l10 1-6.4 1.8-10-1zM1461.7 843.5l10.1 1.5-7-4-10.1-1.5zM1455.2 840.4l10.1 1.5-6.9-3.6-10.1-1.5zM1399 827.7l10 2-6.6 .4-10-2zM1392.9 828.1l10 2-6.5 .8-10-2zM1464.1 841.8l10.1 1.9-6.9-3.6-10.1-1.9zM1457.7 839l10.1 1.9-6.9-3.2-10-1.9zM1451.3 836.6l10 1.9-6.9-2.8-10-1.9zM1420 829.2l10 2.4-6.7-.3-10-2.4zM1413.8 829l10 2.4-6.6 0-9.9-2.4zM1407.7 829l9.9 2.4-6.6 .4-9.9-2.4zM1460 837.7l10 2.9-6.9-2.2-10-2.9zM1453.7 835.6l10 2.9-6.8-1.8-10-2.9zM1447.4 833.9l10 2.9-6.8-1.5-9.9-2.9zM1441.1 832.6l9.9 2.9-6.8-1.1-9.9-2.8zM1434.8 831.6l9.9 2.8-6.7-.7-9.9-2.8zM1428.6 830.9l9.9 2.8-6.7-.3-9.9-2.8z"/>
<path fill="#ff9c73" d="M1333 849.7l10.7-4.3-6.6-2.2-10.7 4.3zM1326.9 847.7l10.7-4.3-6.6-1.8-10.7 4.3zM1320.8 846l10.7-4.3-6.5-1.4-10.6 4.3zM1314.8 844.7l10.6-4.3-6.5-1-10.6 4.3zM1354.8 851.5l10.7-3.9-6.7-3-10.7 3.9zM1348.6 848.7l10.7-3.9-6.7-2.6-10.7 3.8zM1342.4 846.3l10.7-3.8-6.7-2.2-10.6 3.8zM1336.3 844.3l10.6-3.8-6.6-1.8-10.6 3.8zM1330.1 842.6l10.6-3.8-6.6-1.4-10.6 3.8zM1324.1 841.2l10.6-3.8-6.5-1-10.6 3.8zM1318.1 840.3l10.6-3.8-6.5-.6-10.6 3.8zM1312.1 839.7l10.6-3.8-6.4-.3-10.5 3.8zM1306.2 839.4l10.5-3.8-6.4 .1-10.5 3.8zM1370.5 851.7l10.7-2.8-6.8-4-10.7 2.8zM1364.2 848.5l10.7-2.8-6.8-3.6-10.6 2.8zM1357.9 845.7l10.6-3.4-6.7-2.6-10.6 3.4zM1321.3 836.7l10.5-3.4-6.4-.3-10.5 3.4zM1315.4 836.4l10.5-3.4-6.4 .1-10.5 3.4zM1309.5 836.5l10.5-3.4-6.4 .5-10.5 3.4zM1386.1 852.6l10.7-2.4-6.9-4.4-10.6 2.4zM1379.8 849l10.6-2.4-6.8-4-10.6 2.4zM1373.5 845.9l10.6-2.4-6.8-3.6-10.6 2.4zM1318.6 834l10.4-2.9-6.4 .5-10.4 2.9zM1312.7 834.4l10.4-2.9-6.3 .9-10.4 2.9zM1395.5 850.3l10.6-1.9-6.9-4.4-10.6 1.9zM1389.1 846.8l10.6-1.9-6.8-4-10.6 1.9zM1327.7 831.8l10.4-2.5-6.4 .5-10.4 2.5zM1321.8 832.2l10.4-2.5-6.4 .9-10.3 2.5zM1404.7 848.5l10.5-1.5-6.9-4.4-10.5 1.5zM1330.9 830.4l10.3-2.1-6.4 .9-10.3 2.1zM1325 831.2l10.3-2.1-6.3 1.2-10.3 2.1zM1420.4 851l10.5-1.1-7-4.8-10.5 1.1zM1413.9 847.1l10.5-1.1-6.9-4.4-10.5 1.1zM1339.9 829l10.3-1.7-6.4 .8-10.3 1.7zM1334 829.2l10.3-1.1-6.4 1.8-10.2 1.1zM1423.1 846.1l10.4-.6-6.9-4.4-10.4 .6zM1348.8 827.4l10.2-.7-6.4 1.4-10.2 .7zM1342.9 828.2l10.2-.7-6.4 1.8-10.2 .7zM1432.2 845.5l10.4-.2-7-4.4-10.4 .2zM1425.8 842l10.4-.2-6.9-4-10.4 .2zM1357.7 826.8l10.2-.2-6.4 1.4-10.2 .3zM1351.8 827.5l10.2-.3-6.4 1.8-10.1 .3zM1441.3 845.3l10.3 .2-7-4.4-10.3-.2zM1434.8 841.8l10.3 .2-6.9-4-10.3-.2zM1372.6 826.1l10.1 .2-6.5 1.1-10.1-.2zM1366.6 826.5l10.1 .2-6.5 1.4-10.1-.2zM1443.8 842l10.3 .7-6.9-4-10.2-.7zM1437.4 838.8l10.2 .7-6.9-3.6-10.2-.6zM1381.5 826.3l10.1 1.2-6.5 .4-10.1-1.2zM1375.4 826.7l10.1 .6-6.5 1.4-10.1-.6zM1452.8 842.6l10.2 1.1-7-4-10.2-1.1zM1446.4 839.4l10.2 1.1-6.9-3.6-10.2-1.1zM1440 836.7l10.2 1.1-6.9-3.2-10.2-1.1zM1402.4 827l10.1 1.6-6.6-.3-10.1-1.6zM1396.3 826.7l10.1 1.6-6.6 .1-10-1.6zM1390.3 826.8l10 1.6-6.5 .4-10-1.6zM1448.8 837.6l10.1 1.5-6.9-3.2-10.1-1.5zM1442.5 835.2l10.1 1.5-6.8-2.8-10.1-1.5zM1436.2 833.2l10.1 1.5-6.8-2.4-10.1-1.5zM1429.9 830.9l10.1 2.1-6.8-1.4-10.1-2.1zM1423.6 829.6l10.1 2.1-6.7-1.1-10-2zM1417.4 828.6l10 2-6.7-.7-10-2zM1411.2 827.9l10 2-6.6-.3-10-2zM1405.1 827.7l10 2-6.6 .1-10-2zM1444.9 833.9l10 2.5-6.8-1.8-10-2.5zM1438.6 832.2l10 2.5-6.8-1.4-10-2.5zM1432.4 830.9l10 2.5-6.7-1.1-10-2.4zM1426.1 829.9l10 2.4-6.7-.7-10-2.4z"/>
<path fill="#ff9373" d="M1351.7 843.3l10.6-3.4-6.7-2.2-10.6 3.4zM1345.6 841.2l10.6-3.4-6.6-1.8-10.6 3.4zM1339.4 839.6l10.6-3.4-6.6-1.4-10.6 3.4zM1333.4 838.2l10.6-3.4-6.5-1-10.5 3.4zM1327.3 837.3l10.5-3.4-6.5-.6-10.5 3.4zM1367.2 843.1l10.6-2.4-6.7-3.2-10.6 2.4zM1361 840.7l10.6-3-6.7-2.2-10.6 3zM1354.8 838.6l10.6-3-6.7-1.8-10.5 3zM1348.7 837l10.5-3-6.6-1.4-10.5 3zM1342.6 835.6l10.5-3-6.6-1-10.5 2.9zM1336.5 834.7l10.5-2.9-6.5-.6-10.5 2.9zM1330.5 834.1l10.5-2.9-6.5-.2-10.5 2.9zM1324.5 833.8l10.5-2.9-6.4 .1-10.4 2.9zM1382.8 843.6l10.6-1.9-6.8-3.6-10.5 1.9zM1376.5 840.9l10.5-1.9-6.8-3.2-10.5 1.9zM1370.2 838.5l10.5-1.9-6.7-2.8-10.5 1.9zM1364 836.4l10.5-2.5-6.7-1.8-10.5 2.5zM1351.8 833.5l10.5-2.5-6.6-1-10.4 2.5zM1345.7 832.5l10.4-2.5-6.5-.6-10.4 2.5zM1339.7 831.9l10.4-2.5-6.5-.3-10.4 2.5zM1333.7 831.7l10.4-2.5-6.4 .1-10.4 2.5zM1398.3 845l10.5-1.5-6.9-4-10.5 1.5zM1392 841.8l10.5-1.5-6.8-3.6-10.5 1.5zM1385.7 839.1l10.5-1.5-6.8-3.2-10.5 1.5zM1348.8 830.1l10.4-2.1-6.5-.3-10.4 2.1zM1342.7 829.9l10.4-2.1-6.5 .1-10.3 2.1zM1336.8 830l10.3-2.1-6.4 .5-10.3 2.1zM1407.5 843.6l10.5-1.1-6.9-4-10.5 1.1zM1401.2 840.4l10.5-1.1-6.8-3.6-10.4 1.1zM1394.9 837.7l10.4-1.1-6.8-3.2-10.4 1.1zM1357.8 828.7l10.3-1.7-6.5-.3-10.3 1.7zM1351.8 828.5l10.3-1.7-6.5 .1-10.3 1.7zM1345.8 828.6l10.3-1.7-6.4 .5-10.3 1.7zM1416.7 842.6l10.4-.6-6.9-4-10.4 .6zM1410.3 839.4l10.4-.6-6.9-3.6-10.4 .6zM1404 836.7l10.4-.6-6.8-3.2-10.4 .6zM1366.8 827.7l10.3-1.2-6.6-.3-10.3 1.2zM1360.8 827.5l10.3-1.2-6.5 .1-10.2 1.3zM1354.8 827.6l10.2-1.3-6.5 .5-10.2 1.3zM1419.4 838.8l10.4-.2-6.9-3.6-10.3 .2zM1413.1 836.1l10.3-.2-6.8-3.2-10.3 .2zM1375.8 827.1l10.2-.2-6.6-.9-10.2 .2zM1369.7 826.9l10.2-.8-6.5 .1-10.2 .8zM1363.7 826.3l10.2-.2-6.5 1.1-10.2 .2zM1428.4 838.6l10.3 .2-6.9-3.6-10.3-.2zM1422.1 835.9l10.3 .2-6.8-3.2-10.3-.2zM1415.8 833.5l10.3 .2-6.8-2.8-10.3-.2zM1409.5 831.4l10.3 .2-6.8-2.4-10.2-.2zM1397 828.5l10.2 .2-6.7-1.6-10.2-.2zM1390.9 827.5l10.2 .2-6.6-1.2-10.2-.2zM1384.7 826.9l10.2 .2-6.6-.9-10.2-.2zM1378.7 826l10.2 .8-6.5 .1-10.1-.8zM1431.1 836.1l10.2 .6-6.9-3.2-10.2-.6zM1424.7 833.7l10.2 .6-6.8-2.8-10.2-.6zM1418.4 831.6l10.2 .6-6.8-2.4-10.2-.6zM1412.2 830l10.2 .6-6.7-2-10.2-.6zM1405.9 828.6l10.2 .6-6.7-1.6-10.2-.6zM1399.8 827.7l10.2 .6-6.6-1.3-10.1-.6zM1393.6 826.5l10.1 1.2-6.6-.3-10.1-1.2zM1387.5 826.2l10.1 1.2-6.6 .1-10.1-1.2zM1433.6 834.2l10.2 1.1-6.8-2.8-10.1-1.1zM1427.3 832.2l10.1 1.1-6.8-2.4-10.1-1zM1421 830.5l10.1 1-6.7-2-10.1-1zM1414.8 828.6l10.1 1.6-6.7-1.6-10.1-1zM1408.6 827.6l10.1 1.6-6.7-.7-10.1-1.6z"/>
<path fill="#ff8b73" d="M1357.9 834.8l10.5-2.5-6.6-1.4-10.5 2.5zM1379.4 836.7l10.5-1.5-6.7-2.8-10.5 1.5zM1373.2 834.6l10.5-1.5-6.7-2.4-10.4 1.5zM1367 833l10.4-2.1-6.6-1.4-10.4 2.1zM1360.9 831.7l10.4-2.1-6.6-1-10.4 2.1zM1354.8 830.7l10.4-2.1-6.6-.6-10.4 2.1zM1388.6 835.3l10.4-1.1-6.8-2.8-10.4 1.1zM1382.4 833.2l10.4-1.1-6.7-2.4-10.4 1.1zM1376.2 831.6l10.4-1.1-6.7-2-10.4 1.1zM1370 830.3l10.4-1.7-6.6-1-10.4 1.7zM1363.9 829.3l10.4-1.7-6.6-.6-10.3 1.7zM1397.7 834.3l10.4-.6-6.8-2.8-10.4 .6zM1391.4 832.2l10.4-.6-6.7-2.4-10.3 .6zM1385.2 830.6l10.3-.6-6.7-2-10.3 .6zM1379.1 829.3l10.3-.6-6.6-1.6-10.3 .6zM1372.9 828.3l10.3-1.2-6.6-.6-10.3 1.2zM1406.8 833.7l10.3-.2-6.8-2.8-10.3 .2zM1400.5 831.6l10.3-.2-6.7-2.4-10.3 .2zM1394.3 830l10.3-.2-6.7-2-10.3 .2zM1388.1 828.7l10.3-.2-6.7-1.6-10.3 .2zM1381.9 827.7l10.3-.2-6.6-1.2-10.2 .2zM1403.2 829.8l10.2 .2-6.7-2-10.2-.2z"/>
<path d="M1262.8 1086.2Q1234.7 1044.4 1207.5 1018.1Q1181.1 992.6 1155.7 981.8Q1131.2 971.3 1107.7 974.7Q1085.1 978 1063.6 994.2Q1042.9 1009.8 1023.3 1037.3M1268 1080.2Q1239.8 1038.6 1212.6 1012.4Q1186.1 986.9 1160.7 976.2Q1136.1 965.8 1112.5 969.3Q1089.8 972.6 1068.2 988.9Q1047.4 1004.6 1027.8 1032.2M1273.1 1074.4Q1244.9 1032.8 1217.6 1006.7Q1191.1 981.4 1165.6 970.7Q1140.9 960.4 1117.3 963.9Q1094.6 967.3 1072.9 983.7Q1052 999.4 1032.3 1027.1M1278.3 1068.7Q1250 1027.2 1222.7 1001.2Q1196.1 975.9 1170.6 965.3Q1145.8 955.1 1122.1 958.7Q1099.3 962.2 1077.6 978.6Q1056.6 994.4 1036.9 1022.1M1283.4 1063.1Q1255.1 1021.7 1227.7 995.8Q1201.1 970.6 1175.5 960.1Q1150.7 949.9 1126.9 953.6Q1104 957.1 1082.2 973.6Q1061.2 989.5 1041.4 1017.3M1288.6 1057.6Q1260.2 1016.3 1232.8 990.4Q1206.1 965.3 1180.4 954.9Q1155.5 944.8 1131.7 948.5Q1108.8 952.2 1086.9 968.7Q1065.8 984.6 1045.9 1012.5M1293.7 1052.3Q1265.3 1011 1237.8 985.2Q1211.1 960.2 1185.3 949.8Q1160.4 939.8 1136.5 943.6Q1113.5 947.3 1091.5 963.9Q1070.4 979.9 1050.4 1007.8M1298.9 1047Q1270.4 1005.9 1242.8 980.1Q1216.1 955.2 1190.2 944.9Q1165.3 934.9 1141.3 938.8Q1118.2 942.5 1096.2 959.2Q1075 975.3 1054.9 1003.2M1304 1041.9Q1275.6 1001 1248.1 975.3Q1221.3 950.5 1195.5 940.2Q1170.5 930.2 1146.6 934Q1123.5 937.7 1101.5 954.1Q1080.2 970 1060.1 997.8M1309.1 1036.8Q1280.8 996.1 1253.3 970.7Q1226.6 945.9 1200.8 935.6Q1175.8 925.6 1151.9 929.3Q1128.8 932.9 1106.7 949.2Q1085.5 964.9 1065.3 992.4M1314.2 1031.9Q1286 991.6 1258.7 966.3Q1232.1 941.6 1206.4 931.3Q1181.6 921.2 1157.7 924.7Q1134.6 928 1112.6 943.9Q1091.4 959.2 1071.2 986.2M1319.3 1027.1Q1291.3 987.2 1264.1 962Q1237.6 937.5 1212.1 927Q1187.3 916.9 1163.5 920.1Q1140.5 923.2 1118.5 938.7Q1097.3 953.6 1077.2 980.1M1324.4 1022.4Q1296.5 982.8 1269.5 957.8Q1243.1 933.4 1217.7 922.9Q1193 912.8 1169.3 915.7Q1146.4 918.5 1124.4 933.6Q1103.3 948.2 1083.1 974.1M1329.5 1017.9Q1301.8 978.6 1274.8 953.7Q1248.7 929.5 1223.3 918.9Q1198.7 908.7 1175.1 911.4Q1152.2 913.9 1130.3 928.6Q1109.2 942.8 1089.1 968.2M1334.6 1013.4Q1306.9 974.4 1280 949.6Q1253.9 925.4 1228.6 914.9Q1204 904.6 1180.4 907.2Q1157.5 909.7 1135.6 924.2Q1114.5 938.2 1094.4 963.4M1339.6 1009.1Q1312.2 970.4 1285.4 945.7Q1259.4 921.7 1234.2 911.1Q1209.7 900.8 1186.2 903.1Q1163.4 905.3 1141.6 919.4Q1120.4 933.1 1100.3 957.7M1344.7 1004.8Q1317.4 966.5 1290.8 942Q1264.9 918.1 1239.8 907.4Q1215.5 897 1192 899.1Q1169.3 901.1 1147.5 914.8Q1126.4 928.1 1106.3 952.2M1349.7 1000.7Q1322.6 962.8 1296.1 938.4Q1270.4 914.6 1245.4 903.9Q1221.2 893.4 1197.8 895.2Q1175.1 897 1153.4 910.3Q1132.4 923.2 1112.3 946.7M1354.8 996.7Q1327.8 959.1 1301.5 934.8Q1275.9 911.2 1251 900.4Q1226.9 889.9 1203.6 891.5Q1181 893 1159.4 905.9Q1138.4 918.4 1118.4 941.4M1359.8 992.8Q1333 955.6 1306.8 931.4Q1281.4 908 1256.6 897.1Q1232.6 886.5 1209.4 887.8Q1186.9 889.1 1165.3 901.6Q1144.4 913.7 1124.4 936.3M1364.8 989Q1338.1 952 1312 928Q1286.5 904.6 1261.9 893.7Q1237.9 883.1 1214.7 884.3Q1192.2 885.5 1170.6 897.8Q1149.7 909.8 1129.7 932.1M1369.8 985.4Q1343.3 948.7 1317.3 924.8Q1292 901.5 1267.5 890.5Q1243.6 879.9 1220.5 880.9Q1198.1 881.8 1176.5 893.8Q1155.7 905.3 1135.7 927.1M1374.8 981.8Q1348.4 945.4 1322.6 921.7Q1297.5 898.6 1273.1 887.5Q1249.3 876.8 1226.3 877.5Q1204 878.3 1182.5 889.8Q1161.7 901 1141.7 922.3M1379.8 978.4Q1353.6 942.3 1327.9 918.7Q1303 895.7 1278.6 884.6Q1255 873.8 1232.1 874.3Q1209.9 874.8 1188.5 886Q1167.7 896.8 1147.8 917.6M1384.8 975Q1358.7 939.4 1333.3 915.9Q1308.4 893 1284.2 881.8Q1260.7 871 1237.9 871.2Q1215.8 871.5 1194.4 882.3Q1173.7 892.7 1153.9 913M1389.8 971.8Q1363.9 936.5 1338.6 913.1Q1313.9 890.4 1289.8 879.2Q1266.4 868.2 1243.7 868.3Q1221.7 868.3 1200.4 878.7Q1179.8 888.8 1159.9 908.5M1394.7 968.7Q1369 933.7 1343.8 910.5Q1319.3 887.9 1295.4 876.6Q1272.1 865.6 1249.5 865.4Q1227.6 865.2 1206.4 875.2Q1185.8 884.9 1166 904.2M1399.7 965.7Q1374.1 931 1349.1 908Q1324.7 885.5 1300.9 874.1Q1277.8 863.1 1255.3 862.7Q1233.4 862.2 1212.3 871.9Q1191.8 881.2 1172.1 900M1404.6 962.8Q1379.3 928.5 1354.4 905.5Q1330.2 883.2 1306.5 871.8Q1283.5 860.7 1261.1 860Q1239.3 859.4 1218.3 868.6Q1197.9 877.6 1178.2 895.9M1409.5 960.1Q1384.4 926 1359.7 903.2Q1335.6 881 1312.1 869.5Q1289.2 858.4 1266.9 857.5Q1245.2 856.6 1224.3 865.5Q1203.9 874.1 1184.3 891.9M1414.4 957.4Q1389.4 923.7 1364.9 901Q1341 878.9 1317.6 867.4Q1294.8 856.2 1272.7 855.1Q1251.1 854 1230.3 862.5Q1210 870.8 1190.4 888.1M1419.3 954.8Q1394.5 921.5 1370.2 898.9Q1346.4 877 1323.2 865.4Q1300.5 854.1 1278.5 852.8Q1257 851.5 1236.2 859.6Q1216 867.6 1196.5 884.3M1424.2 952.4Q1399.6 919.4 1375.4 897Q1351.8 875.1 1328.7 863.5Q1306.2 852.1 1284.3 850.6Q1262.9 849.1 1242.2 856.9Q1222.1 864.4 1202.7 880.7M1429.1 950.1Q1404.7 917.3 1380.6 895.1Q1357.2 873.3 1334.2 861.7Q1311.9 850.3 1290 848.5Q1268.8 846.8 1248.2 854.2Q1228.2 861.5 1208.8 877.3M1434 947.8Q1409.7 915.4 1385.9 893.3Q1362.6 871.7 1339.8 860Q1317.5 848.6 1295.8 846.6Q1274.7 844.7 1254.2 851.7Q1234.2 858.6 1214.9 873.9M1438.8 945.7Q1414.7 913.6 1391.1 891.7Q1367.9 870.2 1345.3 858.4Q1323.2 846.9 1301.6 844.7Q1280.6 842.6 1260.2 849.3Q1240.3 855.8 1221.1 870.7M1443.7 943.7Q1419.8 912 1396.3 890.1Q1373.3 868.7 1350.8 856.9Q1328.8 845.4 1307.4 843Q1286.5 840.7 1266.2 847Q1246.4 853.2 1227.2 867.6M1448.5 941.8Q1418.9 902.6 1390 878.6Q1361.9 855.2 1334.5 846.2Q1307.9 837.5 1282.2 842.4Q1257.3 847.2 1233.4 864.6M1453.3 940Q1424 901.2 1395.3 877.3Q1367.3 854 1340.1 844.9Q1313.7 836 1288.1 840.5Q1263.4 844.9 1239.5 861.8M1458.1 938.3Q1429 899.9 1400.5 876.1Q1372.8 852.9 1345.7 843.6Q1319.5 834.6 1294.1 838.8Q1269.4 842.8 1245.7 859.1M1462.9 936.8Q1434.2 898.9 1406 875.2Q1378.6 852.2 1351.8 842.7Q1325.9 833.5 1300.7 837Q1276.3 840.5 1252.7 855.9M1467.7 935.3Q1439.2 897.8 1411.2 874.3Q1384 851.3 1357.5 841.7Q1331.7 832.3 1306.6 835.5Q1282.3 838.6 1258.9 853.5M1472.4 933.9Q1444.2 896.9 1416.5 873.4Q1389.4 850.6 1363.1 840.8Q1337.4 831.3 1312.5 834.1Q1288.4 836.8 1265.1 851.2M1477.2 932.7Q1449.2 896 1421.7 872.7Q1394.9 850 1368.7 840Q1343.2 830.4 1318.5 832.8Q1294.5 835.2 1271.3 849M1481.9 931.5Q1454.2 895.2 1426.9 872Q1400.3 849.4 1374.3 839.4Q1349 829.6 1324.4 831.7Q1300.5 833.7 1277.4 846.9M1486.7 930.5Q1459.1 894.6 1432.1 871.5Q1405.7 849 1379.9 838.8Q1354.8 828.9 1330.3 830.6Q1306.6 832.3 1283.6 845M1491.4 929.6Q1464.2 894.2 1437.5 871.3Q1411.4 848.9 1385.9 838.5Q1361.1 828.4 1336.9 829.6Q1313.5 830.8 1290.7 842.7M1496.1 928.7Q1469.1 893.8 1442.7 871Q1416.8 848.7 1391.5 838.2Q1366.9 828 1342.9 828.8Q1319.5 829.7 1296.9 841.1M1500.7 928Q1474.1 893.4 1447.8 870.7Q1422.2 848.6 1397.1 838Q1372.6 827.6 1348.8 828.2Q1325.6 828.7 1303.1 839.5M1505.4 927.4Q1479 893.2 1453 870.6Q1427.6 848.6 1402.6 837.9Q1378.4 827.4 1354.7 827.6Q1331.7 827.8 1309.3 838.1M1510.1 926.9Q1484 893.2 1458.3 870.8Q1433.3 849 1408.7 838.1Q1384.7 827.4 1361.3 827.2Q1338.5 826.9 1316.4 836.4M1514.7 926.5Q1488.9 893.2 1463.5 870.9Q1438.6 849.2 1414.2 838.2Q1390.5 827.4 1367.2 826.8Q1344.6 826.3 1322.6 835.3M1519.3 926.2Q1493.8 893.2 1468.6 871.1Q1444 849.6 1419.8 838.4Q1396.2 827.5 1373.1 826.6Q1350.7 825.7 1328.8 834.3M1523.9 926Q1498.6 893.4 1473.7 871.4Q1449.3 850 1425.3 838.7Q1401.9 827.8 1379 826.5Q1356.7 825.4 1335 833.4M1528.5 925.9Q1503.6 893.8 1479 872.1Q1455 850.8 1431.3 839.4Q1408.2 828.3 1385.6 826.6Q1363.6 825 1342.1 832.4M1533.1 925.9Q1508.4 894.2 1484.1 872.6Q1460.3 851.4 1436.8 839.9Q1413.9 828.7 1391.5 826.8Q1369.7 824.9 1348.3 831.8M1537.7 926Q1513.3 894.7 1489.1 873.2Q1465.5 852.2 1442.3 840.6Q1419.6 829.3 1397.4 827.1Q1375.7 824.9 1354.5 831.3M1542.2 926.2Q1518.2 895.4 1494.4 874.1Q1471.2 853.3 1448.3 841.6Q1425.9 830.2 1404 827.5Q1382.6 824.9 1361.6 830.7M1546.8 926.5Q1523 896.1 1499.5 874.9Q1476.5 854.2 1453.8 842.5Q1431.6 831 1409.9 828.1Q1388.6 825.2 1367.9 830.5M1551.3 926.9Q1527.9 897 1504.8 876.1Q1482.1 855.6 1459.8 843.7Q1437.9 832.1 1416.5 828.8Q1395.5 825.6 1375 830.2M1555.8 927.4Q1532.7 897.9 1509.8 877.1Q1487.3 856.8 1465.2 844.8Q1443.6 833.1 1422.3 829.6Q1401.6 826.1 1381.2 830.3M1560.3 928Q1537.4 898.9 1514.8 878.2Q1492.6 858 1470.7 846Q1449.2 834.3 1428.2 830.5Q1407.6 826.7 1387.4 830.5M1564.7 928.7Q1534.9 890.7 1505.4 867.2Q1476.7 844.3 1448.5 835.2Q1421.2 826.4 1394.6 830.7M1569.2 929.5Q1539.7 892 1510.5 868.6Q1482.1 845.8 1454.2 836.5Q1427.2 827.4 1400.8 831.2M1573.6 930.4Q1544.6 893.6 1516 870.3Q1488 847.7 1460.6 838.1Q1434 828.7 1407.9 831.7M1578.1 931.4Q1549.4 895.1 1521.1 871.9Q1493.4 849.4 1466.3 839.6Q1439.9 830 1414.1 832.5M1582.5 932.5Q1554.3 896.9 1526.5 873.9Q1499.3 851.6 1472.7 841.4Q1446.7 831.5 1421.3 833.3M1586.9 933.7Q1559.1 898.5 1531.6 875.7Q1504.7 853.5 1478.3 843.1Q1452.6 833.1 1427.5 834.3M1591.2 935Q1564 900.5 1537 877.9Q1510.6 855.9 1484.7 845.2Q1459.4 834.9 1434.6 835.5M1595.6 936.4Q1568.7 902.4 1542 879.9Q1516 858 1490.3 847.2Q1465.3 836.7 1440.8 836.8M1600 937.9Q1573.5 904.6 1547.4 882.3Q1521.8 860.6 1496.6 849.6Q1472.1 838.8 1448 838.2M1604.3 939.5Q1578.2 906.6 1552.4 884.5Q1527.2 862.9 1502.3 851.7Q1478 840.8 1454.1 839.8M1608.6 941.2Q1583.1 909 1557.8 887.1Q1533 865.7 1508.6 854.3Q1484.7 843.2 1461.3 841.6M1612.9 942.9Q1587.7 911.2 1562.7 889.5Q1538.3 868.3 1514.2 856.7Q1490.6 845.5 1467.5 843.5M1617.2 944.8Q1592.5 913.8 1568.1 892.3Q1544.1 871.3 1520.5 859.6Q1497.4 848.1 1474.6 845.6M1621.4 946.8Q1597.3 916.4 1573.4 895.2Q1549.9 874.5 1526.7 862.6Q1504.1 851 1481.8 847.9M1625.7 948.8Q1601.9 918.9 1578.3 897.9Q1555.2 877.3 1532.3 865.3Q1510 853.6 1487.9 850.1M1629.9 951Q1606.7 921.8 1583.6 901Q1561 880.7 1538.6 868.6Q1516.7 856.7 1495.1 852.7M1634.1 953.2Q1611.4 924.7 1588.9 904.2Q1566.7 884.2 1544.8 871.9Q1523.4 859.9 1502.2 855.5M1638.3 955.5Q1616 927.5 1593.8 907.2Q1572 887.3 1550.4 875Q1529.2 863 1508.3 858.2M1642.5 957.9Q1620.7 930.6 1599 910.6Q1577.7 891 1556.6 878.6Q1535.9 866.5 1515.5 861.3M1646.6 960.5Q1625.4 933.8 1604.2 914.1Q1583.4 894.8 1562.8 882.3Q1542.6 870.1 1522.6 864.5M1650.8 963.1Q1629.9 936.8 1609.1 917.4Q1588.6 898.3 1568.3 885.8Q1548.4 873.5 1528.7 867.6M1654.9 965.7Q1634.5 940.2 1614.2 921.1Q1594.3 902.3 1574.5 889.7Q1555.1 877.4 1535.9 871.2M1659 968.5Q1629.4 931.4 1599.9 907.8Q1571.3 884.8 1543 874.9M1663.1 971.4Q1634.3 935.2 1605.6 911.9Q1577.7 889.2 1550.1 878.9M1667.2 974.3Q1639.1 939.2 1611.3 916.2Q1584.1 893.7 1557.2 882.9M1671.2 977.4Q1643.7 942.9 1616.4 920.1Q1589.7 897.8 1563.3 886.8M1675.3 980.5Q1648.6 947 1622 924.6Q1596.1 902.6 1570.4 891.2M1262.8 1086.2Q1308.1 1033.7 1352.8 998.3Q1396.7 963.4 1439.8 945.3Q1482 927.5 1523 926Q1563.1 924.5 1601.7 938.5Q1639.3 952.2 1675.3 980.5M1259 1080.7Q1304.3 1028.3 1348.9 993Q1392.9 958.2 1435.9 940.1Q1478.1 922.4 1519 920.9Q1559.1 919.5 1597.7 933.5Q1635.3 947.2 1671.3 975.5M1255.3 1075.3Q1300.5 1023.1 1345.1 987.8Q1389 953.1 1432 935.1Q1474.1 917.5 1515.1 916Q1555.1 914.6 1593.7 928.7Q1631.3 942.4 1667.3 970.7M1251.6 1070.1Q1296.7 1018 1341.3 982.8Q1385.1 948.2 1428 930.2Q1470.2 912.6 1511.1 911.2Q1551.1 909.8 1589.7 923.9Q1627.3 937.7 1663.3 966M1247.9 1065.1Q1293 1013 1337.5 977.9Q1381.3 943.4 1424.2 925.5Q1466.2 907.9 1507.1 906.6Q1547.1 905.2 1585.7 919.3Q1623.3 933.1 1659.3 961.4M1244.2 1060.2Q1289.2 1008.2 1333.7 973.2Q1377.4 938.7 1420.3 920.9Q1462.3 903.4 1503.2 902.1Q1543.2 900.7 1581.7 914.9Q1619.3 928.6 1655.3 957M1240.5 1055.4Q1285.5 1003.6 1329.9 968.6Q1373.6 934.2 1416.4 916.4Q1458.4 899 1499.3 897.7Q1539.2 896.4 1577.8 910.5Q1615.3 924.3 1651.3 952.7M1236.9 1050.8Q1281.8 999 1326.1 964.2Q1369.8 929.8 1412.6 912.1Q1454.5 894.7 1495.4 893.5Q1535.3 892.2 1573.8 906.4Q1611.4 920.1 1647.3 948.5M1233.3 1046.3Q1278.1 994.7 1322.4 959.9Q1366 925.6 1408.7 907.9Q1450.6 890.6 1491.5 889.3Q1531.3 888.1 1569.9 902.3Q1607.4 916.1 1643.4 944.4M1229.6 1041.9Q1274.4 990.4 1318.6 955.7Q1362.2 921.5 1404.9 903.9Q1446.8 886.6 1487.6 885.4Q1527.4 884.2 1565.9 898.4Q1603.4 912.2 1639.4 940.5M1226 1037.7Q1270.7 986.3 1314.9 951.7Q1358.4 917.6 1401.1 900Q1442.9 882.8 1483.7 881.6Q1523.5 880.4 1562 894.6Q1599.5 908.4 1635.5 936.7M1222.4 1033.7Q1267.1 982.4 1311.2 947.8Q1354.6 913.8 1397.3 896.2Q1439.1 879 1479.8 877.9Q1519.6 876.7 1558.1 890.9Q1595.6 904.7 1631.5 933M1218.8 1029.8Q1263.4 978.5 1307.5 944Q1350.9 910.1 1393.5 892.6Q1435.2 875.4 1475.9 874.3Q1515.7 873.2 1554.2 887.3Q1591.7 901.2 1627.6 929.4M1215.3 1026Q1259.8 974.9 1303.8 940.4Q1347.1 906.5 1389.7 889.1Q1431.4 872 1472.1 870.9Q1511.8 869.8 1550.3 883.9Q1587.7 897.8 1623.7 926M1211.7 1022.3Q1256.2 971.3 1300.1 937Q1343.4 903.1 1385.9 885.7Q1427.6 868.7 1468.2 867.6Q1508 866.5 1546.4 880.7Q1583.8 894.5 1619.8 922.7M1208.2 1018.8Q1252.6 967.9 1296.5 933.6Q1339.7 899.9 1382.2 882.5Q1423.8 865.5 1464.4 864.4Q1504.1 863.3 1542.5 877.5Q1580 891.3 1615.9 919.5M1204.7 1015.5Q1249 964.6 1292.8 930.4Q1336 896.7 1378.4 879.4Q1420 862.5 1460.6 861.4Q1500.3 860.3 1538.6 874.5Q1576.1 888.3 1612 916.5M1201.2 1012.2Q1245.4 961.5 1289.2 927.4Q1332.3 893.7 1374.7 876.5Q1416.3 859.5 1456.8 858.5Q1496.4 857.4 1534.8 871.6Q1572.2 885.4 1608.1 913.5M1197.7 1009.1Q1241.9 958.5 1285.6 924.4Q1328.7 890.9 1371 873.7Q1412.5 856.7 1453 855.7Q1492.6 854.7 1531 868.8Q1568.3 882.6 1604.3 910.7M1194.2 1006.2Q1238.3 955.6 1282 921.6Q1325 888.1 1367.3 871Q1408.8 854.1 1449.2 853.1Q1488.8 852 1527.1 866.2Q1564.5 880 1600.4 908.1M1190.8 1003.3Q1234.8 952.9 1278.4 919Q1321.4 885.6 1363.6 868.4Q1405 851.6 1445.4 850.5Q1485 849.5 1523.3 863.7Q1560.6 877.4 1596.6 905.5M1187.3 1000.7Q1231.3 950.3 1274.8 916.4Q1317.7 883.1 1359.9 866Q1401.3 849.2 1441.7 848.2Q1481.2 847.2 1519.5 861.3Q1556.8 875 1592.7 903.1M1183.9 998.1Q1227.8 947.8 1271.3 914.1Q1314.1 880.8 1356.2 863.7Q1397.6 846.9 1437.9 845.9Q1477.4 844.9 1515.7 859Q1553 872.7 1588.9 900.7M1180.5 995.7Q1224.3 945.5 1267.7 911.8Q1310.5 878.6 1352.6 861.5Q1393.9 844.8 1434.2 843.8Q1473.7 842.8 1511.9 856.9Q1549.2 870.6 1585.1 898.5M1177.1 993.4Q1220.8 943.3 1264.2 909.7Q1306.9 876.5 1349 859.5Q1390.2 842.8 1430.5 841.8Q1469.9 840.8 1508.1 854.8Q1545.4 868.6 1581.2 896.5M1173.7 991.2Q1217.4 941.3 1260.7 907.6Q1303.4 874.5 1345.3 857.6Q1386.5 840.9 1426.8 839.9Q1466.2 838.9 1504.4 853Q1541.6 866.6 1577.4 894.5M1170.3 989.2Q1214 939.3 1257.2 905.8Q1299.8 872.7 1341.7 855.8Q1382.9 839.1 1423.1 838.1Q1462.4 837.2 1500.6 851.2Q1537.8 864.8 1573.7 892.7M1167 987.3Q1210.4 937.7 1253.4 904.3Q1295.8 871.3 1337.5 854.4Q1378.5 837.7 1418.6 836.5Q1457.8 835.4 1495.8 849.1Q1532.9 862.5 1568.6 890M1163.7 985.5Q1206.4 936.7 1248.7 903.6Q1290.5 871 1331.6 853.8Q1372 837 1411.5 835.2Q1450.2 833.4 1487.7 846.1Q1524.4 858.5 1559.8 884.6M1160.3 983.9Q1202.4 935.9 1244 903.1Q1285.2 870.7 1325.7 853.4Q1365.5 836.4 1404.4 834Q1442.6 831.6 1479.7 843.3Q1515.9 854.7 1550.9 879.4M1157 982.4Q1198.4 935.1 1239.4 902.7Q1279.9 870.6 1319.7 853.2Q1359 836 1397.4 833Q1435 830 1471.7 840.7Q1507.5 851.1 1542.1 874.5M1153.8 981Q1194.4 934.6 1234.8 902.4Q1274.6 870.7 1313.9 853Q1352.5 835.7 1390.3 832.1Q1427.5 828.6 1463.6 838.3Q1499 847.8 1533.2 869.9M1150.5 979.7Q1190.3 934.3 1229.8 902.5Q1268.9 871.2 1307.4 853.4Q1345.3 835.8 1382.5 831.6Q1418.9 827.3 1454.5 835.9Q1489.3 844.2 1523.1 864.8M1147.3 978.6Q1186.4 933.9 1225.2 902.5Q1263.6 871.5 1301.5 853.5Q1338.8 835.9 1375.5 831.1Q1411.4 826.4 1446.5 834Q1480.9 841.4 1514.2 860.7M1144 977.6Q1182.5 933.7 1220.7 902.6Q1258.4 871.9 1295.7 853.9Q1332.4 836.1 1368.5 830.8Q1403.9 825.6 1438.5 832.3Q1472.4 838.9 1505.3 856.9M1140.8 976.7Q1178.4 933.7 1215.8 903.1Q1252.8 872.8 1289.3 854.7Q1325.3 836.8 1360.6 830.8Q1395.4 825 1429.4 830.6Q1462.7 836.2 1495.1 852.7M1137.6 975.9Q1174.5 933.8 1211.3 903.4Q1247.6 873.5 1283.5 855.3Q1318.9 837.3 1353.7 830.9Q1387.9 824.6 1421.4 829.4Q1454.2 834.1 1486.2 849.5M1134.4 975.3Q1170.5 934.1 1206.5 904.2Q1242 874.7 1277.1 856.4Q1311.7 838.3 1345.9 831.3Q1379.4 824.4 1412.3 828.2Q1444.6 832 1476 846M1131.3 974.8Q1166.7 934.3 1202 904.8Q1236.8 875.6 1271.3 857.3Q1305.4 839.2 1338.9 831.8Q1371.9 824.5 1404.3 827.5Q1436.1 830.4 1467.1 843.3M1128.1 974.4Q1162.7 934.8 1197.2 905.8Q1231.2 877.1 1265 858.7Q1298.3 840.6 1331.2 832.6Q1363.5 824.8 1395.2 826.8Q1426.4 828.9 1456.9 840.4M1125 974.1Q1167.4 925.7 1209.5 893Q1251 860.8 1292 844.1Q1332.3 827.8 1371.7 826.4Q1410.4 825.2 1448 838.4M1121.9 973.9Q1163.2 926.7 1204.3 894.5Q1244.9 862.7 1285 845.7Q1324.3 829 1363 826.7Q1400.8 824.5 1437.7 836.1M1118.7 973.9Q1159.3 927.6 1199.6 895.8Q1239.4 864.3 1278.7 847.1Q1317.3 830.2 1355.3 827.2Q1392.5 824.2 1428.8 834.6M1115.7 974Q1155.2 928.8 1194.5 897.4Q1233.3 866.5 1271.7 849Q1309.5 831.9 1346.6 828Q1383 824.1 1418.6 833M1112.6 974.2Q1151.1 930.2 1189.4 899.3Q1227.3 868.7 1264.7 851.1Q1301.6 833.7 1337.9 829Q1373.5 824.3 1408.3 831.8M1109.5 974.5Q1147 931.7 1184.4 901.2Q1221.3 871.2 1257.8 853.4Q1293.7 835.8 1329.2 830.3Q1364 824.8 1398 830.9M1106.5 974.9Q1143.2 933 1179.7 903Q1215.8 873.3 1251.6 855.4Q1286.8 837.7 1321.5 831.6Q1355.7 825.5 1389.1 830.6M1103.5 975.4Q1139.2 934.7 1174.7 905.2Q1209.8 876 1244.7 858Q1279 840.2 1312.9 833.3Q1346.2 826.6 1378.9 830.4M1100.5 976.1Q1135.2 936.5 1169.7 907.5Q1203.9 878.9 1237.8 860.7Q1271.2 842.9 1304.2 835.3Q1336.7 827.9 1368.6 830.5M1097.5 976.9Q1131.2 938.4 1164.8 910Q1198 881.8 1230.9 863.7Q1263.5 845.7 1295.6 837.6Q1327.2 829.5 1358.4 831M1094.5 977.7Q1127.2 940.4 1159.8 912.5Q1192.1 885 1224.1 866.8Q1255.7 848.8 1287 840.1Q1317.8 831.4 1348.1 831.8M1091.6 978.7Q1123.3 942.5 1154.9 915.2Q1186.2 888.2 1217.3 870Q1248 852 1278.4 842.8Q1308.3 833.7 1337.9 833M1088.7 979.8Q1129.5 933.1 1170.3 901.3Q1210.4 869.9 1250.2 853.1Q1289.2 836.7 1327.6 834.6M1085.7 981Q1125.3 935.8 1164.7 904.5Q1203.7 873.7 1242.2 856.6Q1280.1 839.8 1317.4 836.4M1082.8 982.4Q1120.9 938.9 1158.8 908.3Q1196.2 878.1 1233.3 860.7Q1269.8 843.5 1305.8 838.8M1080 983.8Q1116.7 941.8 1153.3 911.9Q1189.5 882.3 1225.3 864.6Q1260.7 847.2 1295.6 841.5M1077.1 985.3Q1112.5 944.8 1147.8 915.5Q1182.8 886.6 1217.4 868.7Q1251.6 851.1 1285.4 844.4M1074.2 987Q1108.1 948.2 1141.9 919.7Q1175.4 891.6 1208.6 873.6Q1241.4 855.8 1273.8 848.1M1071.4 988.7Q1104 951.4 1136.5 923.7Q1168.7 896.2 1200.7 878.1Q1232.3 860.3 1263.6 851.8M1068.6 990.6Q1099.9 954.7 1131.2 927.7Q1162.1 900.9 1192.9 882.9Q1223.3 865.1 1253.4 855.8M1065.8 992.5Q1095.6 958.4 1125.3 932.3Q1154.8 906.4 1184.1 888.4Q1213.1 870.7 1241.9 860.7M1063 994.6Q1091.3 962.2 1119.5 937Q1147.5 912.1 1175.4 894.2Q1203 876.6 1230.3 866M1060.3 996.8Q1100.7 950.5 1141 918.9Q1180.8 887.8 1220.2 871.2M1057.5 999Q1095.7 955.3 1133.8 924.7Q1171.4 894.5 1208.7 877.3M1054.8 1001.4Q1090.7 960.2 1126.6 930.7Q1162 901.5 1197.2 883.9M1052.1 1003.9Q1086.1 964.8 1120.1 936.3Q1153.7 908 1187.2 890.2M1049.4 1006.4Q1081.2 969.9 1113 942.6Q1144.4 915.6 1175.7 897.6M1046.7 1009.1Q1076.3 975.1 1105.8 949.1Q1135.1 923.3 1164.3 905.5M1044 1011.8Q1071.4 980.4 1098.8 955.8Q1125.9 931.4 1152.9 913.7M1041.4 1014.7Q1066.5 985.8 1091.7 962.7Q1116.7 939.7 1141.6 922.5M1038.7 1017.6Q1061.3 991.7 1084 970.4Q1106.4 949.2 1128.8 932.6M1036.1 1020.7Q1056.5 997.2 1077 977.6Q1097.3 958 1117.5 942.2M1033.5 1023.8Q1069.9 982 1106.3 952.3M1030.9 1027.1Q1062.3 991 1093.6 964M1028.4 1030.4Q1055.4 999.3 1082.4 974.9M1025.8 1033.8Q1047.8 1008.5 1069.9 987.6M1023.3 1037.3Q1041 1016.9 1058.8 999.4" fill="none" stroke="#0c0c06" stroke-opacity="0.86" stroke-width="1.45"/>
<path d="M1005 1967.3L986.5 1569.8M1392.2 1885.7L1395 1523.6M1705.7 1997L1727.2 1587M1000.5 1871L1392.9 1797.9L1710.9 1897.6M997 1795.7L1393.4 1729.4L1715 1819.9M993.5 1720.4L1393.9 1660.8L1719 1742.3M990 1645.1L1394.5 1592.2L1723.1 1664.6M986.5 1569.8L1395 1523.6L1727.2 1587M1088.6 1558.2L1098.6 1852.7M1478.1 1539.5L1472.4 1822.9M1190.8 1546.7L1196.7 1834.5M1561.1 1555.3L1551.9 1847.8M1292.9 1535.2L1294.8 1816.2M1644.1 1571.1L1631.4 1872.7" fill="none" stroke="#151515" stroke-width="1.3"/>
<circle cx="1000.5" cy="1871" r="2.1" fill="#111"/>
<text x="991.3" y="1867" font-size="18.4" font-family="Liberation Sans, sans-serif" text-anchor="end" fill="#222" stroke="#222" stroke-width=".35" textLength="17" lengthAdjust="spacingAndGlyphs" >70</text>
<circle cx="997" cy="1795.7" r="2.1" fill="#111"/>
<text x="987.8" y="1791.7" font-size="18.4" font-family="Liberation Sans, sans-serif" text-anchor="end" fill="#222" stroke="#222" stroke-width=".35" textLength="17" lengthAdjust="spacingAndGlyphs" >75</text>
<circle cx="993.5" cy="1720.4" r="2.1" fill="#111"/>
<text x="984.3" y="1716.4" font-size="18.4" font-family="Liberation Sans, sans-serif" text-anchor="end" fill="#222" stroke="#222" stroke-width=".35" textLength="17" lengthAdjust="spacingAndGlyphs" >80</text>
<circle cx="990" cy="1645.1" r="2.1" fill="#111"/>
<text x="980.8" y="1641.1" font-size="18.4" font-family="Liberation Sans, sans-serif" text-anchor="end" fill="#222" stroke="#222" stroke-width=".35" textLength="17" lengthAdjust="spacingAndGlyphs" >85</text>
<circle cx="986.5" cy="1569.8" r="2.1" fill="#111"/>
<text x="977.3" y="1565.8" font-size="18.4" font-family="Liberation Sans, sans-serif" text-anchor="end" fill="#222" stroke="#222" stroke-width=".35" textLength="17" lengthAdjust="spacingAndGlyphs" >90</text>
<polygon points="1005,1967.3 1295,2105 1705.7,1997 1392.2,1885.7" fill="#ffff00"/>
<g clip-path="url(#c6)" fill="none" stroke-width="1.6">
<polygon stroke="#5976bb" points="1665.3,1917.9 1651.4,1913.4 1636.9,1909.2 1621.8,1905.3 1606.3,1901.6 1590.2,1898.1 1573.7,1895 1556.8,1892 1539.5,1889.4 1521.9,1886.9 1504,1884.8 1485.9,1882.9 1467.5,1881.3 1448.9,1880 1430.1,1878.9 1411.2,1878.1 1392.2,1877.6 1373.1,1877.4 1354,1877.4 1334.9,1877.7 1315.8,1878.2 1296.8,1879.1 1277.9,1880.2 1259.1,1881.6 1240.4,1883.2 1221.9,1885.1 1203.7,1887.3 1185.7,1889.8 1168.1,1892.5 1150.7,1895.5 1133.7,1898.7 1117.1,1902.2 1101,1905.9 1085.3,1909.9 1070.2,1914.1 1055.6,1918.6 1041.6,1923.3 1028.2,1928.3 1015.5,1933.4 1003.6,1938.8 992.3,1944.4 981.9,1950.2 972.3,1956.2 963.6,1962.3 955.8,1968.6 949,1975.1 943.2,1981.7 938.4,1988.5 934.7,1995.3 932.1,2002.3 930.6,2009.3 930.3,2016.4 931.2,2023.5 933.4,2030.6 936.8,2037.8 941.4,2044.9 947.4,2052 954.6,2059 963.2,2065.9 973,2072.6 984.1,2079.3 996.6,2085.7 1010.2,2091.9 1025.1,2097.9 1041.2,2103.7 1058.4,2109.2 1076.8,2114.3 1096.2,2119.1 1116.6,2123.6 1137.9,2127.7 1160.1,2131.3 1183.1,2134.6 1206.7,2137.4 1230.9,2139.8 1255.7,2141.7 1280.8,2143.1 1306.2,2144 1331.8,2144.5 1357.5,2144.4 1383.2,2143.9 1408.8,2142.9 1434.1,2141.4 1459.1,2139.4 1483.6,2136.9 1507.6,2134 1531,2130.7 1553.7,2126.9 1575.5,2122.8 1596.5,2118.3 1616.5,2113.4 1635.6,2108.2 1653.6,2102.6 1670.4,2096.8 1686.1,2090.8 1700.6,2084.5 1713.9,2078.1 1725.9,2071.4 1736.6,2064.6 1746.1,2057.7 1754.3,2050.7 1761.3,2043.6 1766.9,2036.5 1771.3,2029.4 1774.4,2022.2 1776.4,2015.1 1777.1,2008 1776.6,2001 1775,1994.1 1772.3,1987.3 1768.5,1980.5 1763.6,1974 1757.7,1967.5 1750.8,1961.2 1743,1955.1 1734.3,1949.2 1724.7,1943.4 1714.3,1937.9 1703.2,1932.6 1691.2,1927.4 1678.6,1922.5"/>
<polygon stroke="#59c6bb" points="1645.4,1922.6 1632.4,1918.4 1619,1914.5 1604.9,1910.7 1590.4,1907.3 1575.4,1904 1560,1901 1544.2,1898.2 1528.1,1895.7 1511.6,1893.4 1494.8,1891.4 1477.8,1889.6 1460.6,1888.1 1443.1,1886.8 1425.5,1885.8 1407.8,1885.1 1390,1884.6 1372.1,1884.3 1354.1,1884.4 1336.2,1884.6 1318.3,1885.2 1300.4,1886 1282.6,1887 1265,1888.3 1247.5,1889.9 1230.2,1891.7 1213.1,1893.8 1196.3,1896.1 1179.8,1898.7 1163.6,1901.5 1147.7,1904.5 1132.2,1907.8 1117.2,1911.3 1102.6,1915.1 1088.5,1919.1 1074.9,1923.3 1061.9,1927.7 1049.6,1932.4 1037.8,1937.2 1026.8,1942.3 1016.4,1947.5 1006.9,1952.9 998.1,1958.5 990.1,1964.3 983.1,1970.2 976.9,1976.2 971.7,1982.4 967.4,1988.6 964.2,1995 962,2001.5 960.8,2008 960.8,2014.6 961.8,2021.2 964.1,2027.8 967.4,2034.4 972,2041 977.7,2047.5 984.6,2053.9 992.7,2060.3 1002,2066.5 1012.4,2072.6 1024.1,2078.5 1036.8,2084.2 1050.7,2089.7 1065.7,2094.9 1081.7,2099.9 1098.7,2104.6 1116.7,2109 1135.6,2113.1 1155.3,2116.8 1175.7,2120.1 1196.9,2123.1 1218.7,2125.7 1241,2127.8 1263.7,2129.5 1286.8,2130.8 1310.2,2131.7 1333.7,2132.1 1357.4,2132 1381,2131.6 1404.5,2130.6 1427.7,2129.3 1450.7,2127.4 1473.3,2125.2 1495.4,2122.6 1517,2119.5 1537.9,2116.1 1558.1,2112.4 1577.5,2108.2 1596,2103.8 1613.7,2099 1630.4,2094 1646,2088.7 1660.7,2083.1 1674.2,2077.4 1686.6,2071.5 1697.9,2065.4 1708,2059.1 1717,2052.7 1724.8,2046.3 1731.4,2039.8 1736.9,2033.2 1741.1,2026.6 1744.3,2020 1746.3,2013.4 1747.2,2006.8 1746.9,2000.3 1745.7,1993.9 1743.3,1987.5 1740,1981.3 1735.6,1975.1 1730.3,1969.1 1724.1,1963.3 1717,1957.5 1709.1,1952 1700.3,1946.6 1690.7,1941.4 1680.4,1936.4 1669.4,1931.6 1657.7,1927"/>
<polygon stroke="#59ffa2" points="1623.6,1927.8 1611.7,1923.9 1599.3,1920.2 1586.4,1916.7 1573,1913.5 1559.2,1910.4 1545,1907.6 1530.4,1905 1515.5,1902.7 1500.2,1900.5 1484.7,1898.7 1469,1897 1453,1895.6 1436.8,1894.4 1420.5,1893.4 1404,1892.7 1387.5,1892.3 1370.9,1892.1 1354.2,1892.1 1337.6,1892.3 1321,1892.8 1304.4,1893.6 1287.9,1894.6 1271.6,1895.8 1255.4,1897.2 1239.3,1898.9 1223.5,1900.9 1207.9,1903 1192.7,1905.4 1177.7,1908.1 1163,1910.9 1148.8,1914 1134.9,1917.3 1121.5,1920.8 1108.5,1924.5 1096.1,1928.4 1084.2,1932.6 1072.9,1936.9 1062.1,1941.4 1052.1,1946 1042.7,1950.9 1034,1955.9 1026.1,1961.1 1019,1966.4 1012.6,1971.8 1007.1,1977.4 1002.5,1983.1 998.8,1988.9 996,1994.7 994.2,2000.6 993.4,2006.6 993.6,2012.6 994.8,2018.7 997,2024.7 1000.3,2030.7 1004.7,2036.7 1010.1,2042.6 1016.6,2048.5 1024.2,2054.3 1032.9,2059.9 1042.6,2065.4 1053.4,2070.8 1065.2,2075.9 1077.9,2080.9 1091.7,2085.6 1106.4,2090.1 1122,2094.4 1138.4,2098.3 1155.6,2102 1173.6,2105.3 1192.2,2108.3 1211.5,2111 1231.3,2113.3 1251.6,2115.2 1272.2,2116.7 1293.2,2117.9 1314.4,2118.7 1335.8,2119 1357.2,2119 1378.6,2118.5 1399.9,2117.7 1421.1,2116.5 1441.9,2114.9 1462.5,2112.9 1482.6,2110.5 1502.2,2107.8 1521.2,2104.7 1539.6,2101.3 1557.3,2097.6 1574.3,2093.6 1590.4,2089.3 1605.7,2084.8 1620.1,2080 1633.6,2075 1646.1,2069.8 1657.6,2064.4 1668,2058.9 1677.5,2053.2 1685.8,2047.4 1693.2,2041.6 1699.4,2035.6 1704.6,2029.7 1708.7,2023.6 1711.8,2017.6 1713.9,2011.6 1714.9,2005.6 1714.9,1999.6 1713.9,1993.7 1712,1987.8 1709.1,1982.1 1705.3,1976.4 1700.6,1970.9 1695.1,1965.5 1688.7,1960.2 1681.6,1955 1673.6,1950.1 1664.9,1945.2 1655.6,1940.6 1645.5,1936.1 1634.8,1931.8"/>
<polygon stroke="#59ff52" points="1599.3,1933.5 1588.6,1929.9 1577.4,1926.6 1565.8,1923.4 1553.7,1920.4 1541.1,1917.6 1528.2,1915 1515,1912.6 1501.4,1910.5 1487.5,1908.5 1473.4,1906.8 1459,1905.2 1444.5,1903.9 1429.7,1902.8 1414.8,1902 1399.8,1901.3 1384.7,1900.9 1369.5,1900.7 1354.3,1900.7 1339.1,1900.9 1324,1901.4 1308.8,1902.1 1293.8,1903 1278.9,1904.1 1264.1,1905.5 1249.5,1907 1235.1,1908.8 1220.9,1910.8 1207,1913 1193.4,1915.4 1180.1,1918.1 1167.2,1920.9 1154.6,1923.9 1142.5,1927.1 1130.8,1930.5 1119.6,1934.1 1108.9,1937.9 1098.7,1941.8 1089.1,1946 1080.1,1950.2 1071.8,1954.6 1064,1959.2 1057,1963.9 1050.7,1968.7 1045.2,1973.7 1040.4,1978.7 1036.4,1983.9 1033.3,1989.1 1031,1994.4 1029.6,1999.7 1029,2005.1 1029.4,2010.5 1030.7,2015.9 1032.9,2021.4 1036.1,2026.8 1040.2,2032.1 1045.3,2037.4 1051.4,2042.6 1058.4,2047.8 1066.3,2052.8 1075.2,2057.7 1085,2062.4 1095.7,2067 1107.3,2071.4 1119.7,2075.6 1132.9,2079.6 1146.9,2083.3 1161.7,2086.8 1177.1,2090.1 1193.2,2093 1209.9,2095.6 1227.1,2098 1244.8,2100 1262.9,2101.7 1281.3,2103.1 1300,2104.1 1318.9,2104.7 1337.9,2105.1 1357,2105 1376.1,2104.6 1395.1,2103.9 1413.9,2102.8 1432.5,2101.4 1450.8,2099.7 1468.8,2097.6 1486.3,2095.2 1503.3,2092.5 1519.8,2089.5 1535.7,2086.2 1550.9,2082.7 1565.4,2078.9 1579.2,2074.9 1592.2,2070.6 1604.4,2066.2 1615.7,2061.6 1626.1,2056.8 1635.7,2051.9 1644.3,2046.8 1652,2041.7 1658.8,2036.5 1664.6,2031.2 1669.5,2025.8 1673.4,2020.4 1676.4,2015 1678.5,2009.6 1679.6,2004.2 1679.8,1998.8 1679.1,1993.4 1677.6,1988.2 1675.2,1983 1672,1977.8 1667.9,1972.8 1663.1,1967.9 1657.5,1963.1 1651.2,1958.4 1644.1,1953.9 1636.4,1949.5 1628,1945.2 1619,1941.2 1609.4,1937.2"/>
<polygon stroke="#6dff15" points="1571.7,1940 1562.3,1936.9 1552.5,1933.8 1542.2,1931 1531.5,1928.3 1520.5,1925.8 1509.1,1923.5 1497.3,1921.4 1485.3,1919.4 1473,1917.6 1460.4,1916.1 1447.7,1914.7 1434.7,1913.5 1421.6,1912.5 1408.3,1911.7 1395,1911.2 1381.5,1910.8 1368,1910.6 1354.5,1910.6 1340.9,1910.8 1327.4,1911.2 1314,1911.9 1300.6,1912.7 1287.3,1913.7 1274.2,1914.9 1261.2,1916.3 1248.4,1917.9 1235.8,1919.7 1223.5,1921.7 1211.4,1923.9 1199.7,1926.2 1188.3,1928.8 1177.2,1931.5 1166.5,1934.3 1156.2,1937.4 1146.3,1940.6 1137,1944 1128.1,1947.5 1119.7,1951.2 1111.9,1955 1104.6,1958.9 1098,1962.9 1092,1967.1 1086.6,1971.4 1081.9,1975.8 1077.8,1980.2 1074.5,1984.8 1072,1989.4 1070.1,1994 1069.1,1998.7 1068.8,2003.4 1069.4,2008.2 1070.7,2012.9 1072.9,2017.6 1075.9,2022.3 1079.7,2027 1084.3,2031.6 1089.8,2036.1 1096.1,2040.6 1103.2,2045 1111.1,2049.2 1119.8,2053.3 1129.2,2057.2 1139.5,2061 1150.4,2064.6 1162,2068.1 1174.3,2071.3 1187.2,2074.3 1200.7,2077 1214.7,2079.6 1229.2,2081.8 1244.2,2083.8 1259.5,2085.5 1275.2,2087 1291.2,2088.2 1307.4,2089 1323.8,2089.6 1340.3,2089.9 1356.8,2089.8 1373.3,2089.5 1389.8,2088.9 1406.1,2088 1422.3,2086.7 1438.2,2085.2 1453.8,2083.5 1469,2081.4 1483.8,2079.1 1498.2,2076.5 1512,2073.7 1525.3,2070.7 1538,2067.4 1550.1,2064 1561.5,2060.3 1572.3,2056.5 1582.3,2052.5 1591.5,2048.4 1600,2044.2 1607.7,2039.8 1614.6,2035.3 1620.7,2030.8 1626,2026.2 1630.5,2021.5 1634.1,2016.8 1636.9,2012.1 1638.9,2007.3 1640.1,2002.6 1640.6,1997.9 1640.2,1993.2 1639,1988.5 1637.1,1984 1634.4,1979.4 1631.1,1975 1627,1970.6 1622.2,1966.4 1616.8,1962.2 1610.7,1958.2 1604,1954.3 1596.8,1950.5 1588.9,1946.9 1580.6,1943.4"/>
<polygon stroke="#beff15" points="1539.1,1947.8 1531.2,1945 1523,1942.4 1514.3,1940 1505.3,1937.7 1496,1935.5 1486.3,1933.5 1476.4,1931.7 1466.1,1930 1455.7,1928.5 1445,1927.1 1434.1,1925.9 1423.1,1924.9 1411.9,1924.1 1400.6,1923.4 1389.2,1922.9 1377.7,1922.5 1366.2,1922.4 1354.6,1922.4 1343.1,1922.6 1331.5,1922.9 1320,1923.5 1308.6,1924.2 1297.3,1925.1 1286.1,1926.1 1275.1,1927.3 1264.2,1928.7 1253.5,1930.3 1243,1932 1232.8,1933.9 1222.9,1935.9 1213.2,1938.1 1203.8,1940.4 1194.8,1942.9 1186.2,1945.5 1177.9,1948.3 1170.1,1951.1 1162.6,1954.1 1155.7,1957.3 1149.2,1960.5 1143.2,1963.9 1137.7,1967.3 1132.8,1970.9 1128.4,1974.5 1124.6,1978.2 1121.4,1982 1118.8,1985.8 1116.8,1989.7 1115.5,1993.6 1114.8,1997.5 1114.8,2001.5 1115.5,2005.4 1116.8,2009.4 1118.8,2013.3 1121.5,2017.3 1124.9,2021.1 1129,2025 1133.7,2028.7 1139.1,2032.4 1145.2,2036 1152,2039.5 1159.3,2042.9 1167.3,2046.1 1176,2049.2 1185.1,2052.2 1194.9,2055 1205.2,2057.6 1215.9,2060.1 1227.2,2062.3 1238.9,2064.4 1250.9,2066.2 1263.3,2067.9 1276.1,2069.3 1289.1,2070.5 1302.3,2071.4 1315.7,2072.1 1329.3,2072.6 1342.9,2072.8 1356.6,2072.8 1370.3,2072.5 1383.9,2072 1397.4,2071.2 1410.8,2070.3 1423.9,2069 1436.8,2067.6 1449.5,2065.9 1461.8,2064 1473.8,2061.9 1485.3,2059.7 1496.4,2057.2 1507,2054.5 1517.2,2051.7 1526.8,2048.7 1535.8,2045.6 1544.3,2042.3 1552.1,2038.9 1559.3,2035.4 1565.9,2031.8 1571.8,2028.1 1577.1,2024.3 1581.7,2020.5 1585.6,2016.6 1588.9,2012.6 1591.4,2008.7 1593.3,2004.7 1594.5,2000.8 1595.1,1996.8 1595,1992.9 1594.2,1989 1592.8,1985.1 1590.7,1981.3 1588.1,1977.5 1584.8,1973.8 1580.9,1970.2 1576.5,1966.7 1571.5,1963.3 1566,1960 1560,1956.7 1553.5,1953.6 1546.5,1950.6"/>
<polygon stroke="#ffef15" points="1497.9,1957.5 1491.9,1955.4 1485.5,1953.4 1478.9,1951.4 1472,1949.6 1464.8,1947.9 1457.3,1946.3 1449.6,1944.9 1441.7,1943.5 1433.6,1942.3 1425.3,1941.3 1416.8,1940.3 1408.2,1939.5 1399.5,1938.8 1390.7,1938.3 1381.8,1937.9 1372.8,1937.6 1363.8,1937.5 1354.8,1937.5 1345.8,1937.7 1336.8,1937.9 1327.8,1938.4 1318.9,1938.9 1310.1,1939.6 1301.4,1940.5 1292.8,1941.4 1284.3,1942.5 1276,1943.8 1267.9,1945.1 1260,1946.6 1252.3,1948.2 1244.9,1949.9 1237.7,1951.8 1230.8,1953.7 1224.1,1955.8 1217.8,1957.9 1211.8,1960.2 1206.2,1962.5 1201,1965 1196.1,1967.5 1191.6,1970.1 1187.5,1972.8 1183.9,1975.5 1180.7,1978.3 1177.9,1981.2 1175.6,1984.1 1173.8,1987.1 1172.5,1990 1171.7,1993 1171.3,1996 1171.5,1999.1 1172.2,2002.1 1173.4,2005.1 1175.1,2008.1 1177.4,2011.1 1180.1,2014 1183.4,2016.9 1187.1,2019.7 1191.4,2022.5 1196.2,2025.2 1201.4,2027.8 1207.2,2030.3 1213.3,2032.7 1219.9,2035 1227,2037.2 1234.4,2039.3 1242.2,2041.3 1250.4,2043.1 1258.9,2044.8 1267.8,2046.3 1276.9,2047.6 1286.3,2048.8 1295.8,2049.9 1305.6,2050.7 1315.6,2051.4 1325.7,2051.9 1335.8,2052.3 1346.1,2052.5 1356.3,2052.4 1366.6,2052.2 1376.8,2051.9 1387,2051.3 1397,2050.6 1406.9,2049.7 1416.6,2048.6 1426.2,2047.4 1435.5,2046 1444.5,2044.5 1453.3,2042.8 1461.7,2040.9 1469.8,2039 1477.5,2036.9 1484.9,2034.6 1491.8,2032.3 1498.3,2029.9 1504.4,2027.3 1510,2024.7 1515.1,2022 1519.8,2019.2 1523.9,2016.4 1527.6,2013.5 1530.8,2010.5 1533.4,2007.6 1535.6,2004.6 1537.2,2001.6 1538.3,1998.5 1538.9,1995.5 1539,1992.5 1538.6,1989.5 1537.7,1986.5 1536.3,1983.6 1534.4,1980.7 1532.1,1977.9 1529.3,1975.1 1526,1972.3 1522.3,1969.7 1518.2,1967.1 1513.7,1964.5 1508.8,1962.1 1503.5,1959.8"/>
<polygon stroke="#ff9e15" points="1434.6,1972.5 1431.4,1971.3 1427.9,1970.2 1424.3,1969.1 1420.5,1968 1416.5,1967.1 1412.4,1966.1 1408.2,1965.3 1403.8,1964.5 1399.3,1963.9 1394.6,1963.2 1389.9,1962.7 1385.1,1962.2 1380.2,1961.8 1375.3,1961.5 1370.3,1961.3 1365.2,1961.1 1360.2,1961.1 1355.1,1961.1 1350.1,1961.2 1345,1961.3 1340,1961.6 1335,1961.9 1330.1,1962.3 1325.2,1962.8 1320.4,1963.3 1315.7,1964 1311,1964.7 1306.5,1965.5 1302.1,1966.3 1297.9,1967.2 1293.8,1968.2 1289.8,1969.2 1286.1,1970.3 1282.4,1971.5 1279,1972.7 1275.8,1974 1272.8,1975.3 1270,1976.7 1267.4,1978.1 1265,1979.6 1262.9,1981.1 1261,1982.6 1259.4,1984.2 1258,1985.7 1256.9,1987.3 1256.1,1989 1255.5,1990.6 1255.2,1992.2 1255.2,1993.9 1255.4,1995.5 1256,1997.1 1256.8,1998.8 1257.8,2000.4 1259.2,2002 1260.8,2003.5 1262.7,2005.1 1264.9,2006.6 1267.3,2008 1270,2009.5 1272.9,2010.8 1276.1,2012.2 1279.5,2013.4 1283.1,2014.6 1286.9,2015.8 1291,2016.9 1295.2,2017.9 1299.6,2018.8 1304.2,2019.7 1308.9,2020.5 1313.8,2021.2 1318.8,2021.8 1323.9,2022.3 1329.1,2022.8 1334.4,2023.1 1339.7,2023.4 1345.1,2023.6 1350.5,2023.7 1355.9,2023.7 1361.4,2023.6 1366.8,2023.4 1372.2,2023.1 1377.5,2022.7 1382.8,2022.3 1387.9,2021.7 1393,2021.1 1398,2020.3 1402.8,2019.5 1407.5,2018.7 1412.1,2017.7 1416.4,2016.7 1420.6,2015.6 1424.6,2014.4 1428.4,2013.2 1432,2011.9 1435.3,2010.6 1438.5,2009.2 1441.3,2007.8 1444,2006.3 1446.3,2004.8 1448.5,2003.3 1450.3,2001.7 1451.9,2000.1 1453.2,1998.5 1454.2,1996.9 1455,1995.2 1455.5,1993.6 1455.7,1991.9 1455.6,1990.3 1455.3,1988.7 1454.6,1987.1 1453.8,1985.5 1452.6,1983.9 1451.2,1982.3 1449.6,1980.8 1447.7,1979.3 1445.5,1977.9 1443.1,1976.5 1440.5,1975.1 1437.7,1973.8"/>
</g>
<polygon points="1005,1967.3 1295,2105 1705.7,1997 1392.2,1885.7" fill="none" stroke="#222" stroke-width="1.3"/>
<circle cx="1222.5" cy="2070.6" r="2.2" fill="#111"/>
<circle cx="1397.7" cy="2078" r="2.2" fill="#111"/>
<circle cx="1150" cy="2036.2" r="2.2" fill="#111"/>
<circle cx="1500.4" cy="2051" r="2.2" fill="#111"/>
<circle cx="1077.5" cy="2001.8" r="2.2" fill="#111"/>
<circle cx="1603.1" cy="2024" r="2.2" fill="#111"/>
<circle cx="1005" cy="1967.3" r="2.2" fill="#111"/><circle cx="1705.7" cy="1997" r="2.2" fill="#111"/><circle cx="1295" cy="2105" r="2.2" fill="#111"/>
<path fill="#73fff3" d="M1000.7 1762l11.1-9.6-5.9 6.7-11.1 9.6z"/>
<path fill="#73ffe2" d="M1006.2 1756.1l11.1-9.6-6 6.4-11.1 9.6zM1010.4 1753.6l11.1-9.2-6 6.8-11 9.2z"/>
<path fill="#73ffd9" d="M1020.1 1745.6l11.1-8.9-6 6.8-11 8.8z"/>
<path fill="#73ffd1" d="M1011.8 1750.4l11.2-9.7-6.1 6.1-11.1 9.6zM1016 1747.7l11.1-9.3-6 6.5-11.1 9.2z"/>
<path fill="#73ffc8" d="M1025.7 1739.6l11.1-8.9-6.1 6.5-11.1 8.9zM1029.8 1738l11-8.5-6 6.8-11 8.5zM1709.1 1765.2l9.4 6.6-8.7-10.4-9.4-6.6z"/>
<path fill="#73ffc0" d="M1017.4 1745.1l11.2-9.7-6.1 5.8-11.2 9.7zM1021.6 1742l11.2-9.3-6.1 6.1-11.1 9.3z"/>
<path fill="#73ffb7" d="M1031.4 1734l11.1-8.9-6.1 6.2-11.1 8.9zM1035.4 1732l11.1-8.5-6.1 6.5-11 8.5zM1700.8 1759.4l9.5 6.3-8.7-10.5-9.5-6.3zM1701 1756l9.4 6.6-8.7-10-9.5-6.6z"/>
<path fill="#73ffaf" d="M1023.1 1740.1l11.2-9.7-6.2 5.4-11.2 9.7zM1027.3 1736.7l11.2-9.3-6.2 5.8-11.2 9.3zM1045.1 1724.7l11.1-8.1-6.1 6.5-11 8.1zM1693 1747.3l9.5 6.6-8.7-9.6-9.5-6.6z"/>
<path fill="#73ffa6" d="M1037.1 1728.6l11.2-8.9-6.2 5.8-11.1 8.9zM1041.1 1726.3l11.1-8.5-6.2 6.2-11.1 8.5zM1692.5 1753.9l9.6 5.9-8.7-10.5-9.6-5.9zM1692.7 1750.2l9.5 6.3-8.7-10-9.5-6.3z"/>
<path fill="#73ff9e" d="M1293 1832.6l12.3-10.5-8.6-11.7-12.3 10.4zM1028.9 1735.4l11.3-9.7-6.3 5.1-11.2 9.7zM1033 1731.7l11.2-9.3-6.2 5.5-11.2 9.3zM1054.8 1717.7l11-7.7-6.2 6.5-11 7.7zM1684.7 1741.5l9.5 6.3-8.7-9.6-9.5-6.3zM1684.9 1738.9l9.5 6.6-8.6-9.2-9.5-6.6z"/>
<path fill="#73ff95" d="M1034.8 1731.1l11.3-9.8-6.3 4.8-11.3 9.7zM1038.8 1727l11.3-9.4-6.3 5.1-11.2 9.3zM1042.8 1723.6l11.2-8.9-6.3 5.5-11.2 8.9zM1046.9 1720.9l11.1-8.5-6.2 5.8-11.1 8.5zM1050.9 1718.9l11.1-8.1-6.2 6.2-11.1 8.1zM1684 1748.7l9.7 5.6-8.7-10.5-9.7-5.6zM1684.4 1744.7l9.6 5.9-8.7-10-9.6-6zM1676.9 1731l9.5 6.6-8.6-8.7-9.5-6.6z"/>
<path fill="#73ff8c" d="M1285.1 1822.3l12.3-10.4-8.6-11.2-12.3 10.4zM1303.8 1822.9l12.2-10-8.6-11.6-12.2 10zM1056.6 1713.5l11.1-8.1-6.3 5.9-11.1 8.1zM1060.6 1712l11.1-7.7-6.2 6.2-11 7.7zM1675.6 1743.9l9.8 5.3-8.7-10.5-9.8-5.3zM1676 1739.5l9.7 5.6-8.7-10.1-9.7-5.6zM1676.3 1735.9l9.6 6-8.7-9.6-9.6-6zM1676.6 1733.1l9.5 6.3-8.6-9.2-9.6-6.3z"/>
<path fill="#73ff84" d="M1277.2 1812.4l12.3-11-8.5-10.1-12.2 10.9zM1040.7 1727l11.3-9.8-6.4 4.4-11.3 9.8zM1044.7 1722.6l11.3-9.4-6.4 4.8-11.3 9.4zM1314.6 1813.6l12.2-9.6-8.6-11.6-12.2 9.5zM1048.7 1718.8l11.2-9-6.3 5.2-11.2 8.9zM1052.7 1715.8l11.2-8.6-6.3 5.5-11.1 8.5zM1070.3 1705.3l11-7.4-6.3 6.2-11 7.3zM1668.6 1725.1l9.6 6.3-8.6-8.7-9.6-6.3zM1669 1723.4l9.5 6.6-8.6-8.3-9.5-6.6z"/>
<path fill="#73ff7b" d="M1295.9 1812.6l12.2-10-8.6-11.1-12.2 9.9zM1062.5 1708.5l11.2-8.2-6.3 5.5-11.1 8.1zM1066.4 1706.5l11.1-7.8-6.3 5.9-11.1 7.7zM1079.9 1699.1l11-7-6.3 6.2-11 7zM1667 1739.3l9.8 4.9-8.7-10.5-9.9-4.9zM1667.5 1734.6l9.8 5.3-8.7-10.1-9.8-5.3zM1667.9 1730.7l9.7 5.6-8.7-9.6-9.7-5.6zM1668.3 1727.6l9.6 6-8.6-9.2-9.6-6zM1661 1716.3l9.5 6.6-8.6-7.9-9.5-6.7z"/>
<path fill="#73ff73" d="M1269.3 1803l12.2-10.9-8.5-9.6-12.2 10.9zM1046.6 1723.3l11.4-9.8-6.5 4.1-11.3 9.8zM1287.9 1802.8l12.2-9.9-8.5-10.7-12.2 9.9zM1050.6 1718.5l11.3-9.4-6.4 4.4-11.3 9.4zM1306.6 1803.3l12.2-9.5-8.6-11.1-12.2 9.5zM1054.6 1714.4l11.3-9-6.4 4.8-11.2 9zM1325.4 1804.7l12.2-9.1-8.7-11.5-12.1 9.1zM1058.5 1711.1l11.2-8.6-6.4 5.2-11.2 8.6zM1076.1 1699.9l11.1-7.4-6.3 5.9-11 7.4zM1658.4 1735.1l9.9 4.6-8.8-10.6-9.9-4.6zM1659.8 1722.4l9.7 5.6-8.7-9.2-9.7-5.7zM1660.3 1719.6l9.6 6-8.6-8.7-9.6-6zM1660.7 1717.6l9.6 6.3-8.6-8.3-9.6-6.3zM1653.1 1709.5l9.5 6.7-8.5-7.5-9.5-6.7z"/>
<path fill="#7bff73" d="M1261.5 1794l12.2-10.9-8.4-9.1-12.2 10.9zM1052.6 1719.9l11.4-9.9-6.5 3.7-11.4 9.8zM1056.6 1714.7l11.4-9.4-6.5 4.1-11.3 9.4zM1060.5 1710.3l11.3-9-6.5 4.5-11.3 9zM1064.5 1706.6l11.3-8.6-6.4 4.8-11.2 8.6zM1336.1 1796.2l12.1-8.7-8.7-11.5-12.1 8.7zM1068.4 1703.7l11.2-8.2-6.4 5.2-11.2 8.2zM1072.3 1701.4l11.1-7.8-6.4 5.5-11.1 7.8zM1085.8 1693.6l11.1-7-6.4 5.9-11 7zM1658.9 1730.1l9.9 4.9-8.7-10.1-9.9-5zM1659.4 1725.8l9.8 5.3-8.7-9.6-9.8-5.3zM1652.3 1712l9.6 6-8.6-8.3-9.7-6zM1652.7 1710.4l9.6 6.3-8.6-7.9-9.6-6.3zM1645.2 1702.5l9.5 7.3-8.5-6.4-9.5-7.3z"/>
<path fill="#84ff73" d="M1058.7 1716.9l11.5-9.9-6.6 3.3-11.4 9.9zM1280.1 1793.4l12.2-10.5-8.5-9.6-12.2 10.5zM1298.7 1793.5l12.2-9.5-8.5-10.6-12.2 9.5zM1317.4 1794.5l12.1-9.1-8.6-11.1-12.1 9.1zM1082 1694.8l11.1-7.4-6.4 5.6-11.1 7.4zM1649.6 1731.2l10 4.2-8.8-10.6-10-4.3zM1650.2 1725.8l9.9 4.6-8.7-10.1-9.9-4.6zM1650.8 1721.3l9.9 5-8.7-9.7-9.9-5zM1651.3 1717.4l9.8 5.3-8.7-9.2-9.8-5.3zM1651.8 1714.4l9.7 5.7-8.6-8.8-9.7-5.7zM1644.8 1703.6l9.6 6.3-8.5-7.5-9.6-6.3zM1637.3 1696.5l9.5 7.3-8.5-6-9.5-7.3z"/>
<path fill="#8cff73" d="M1253.7 1785.5l12.2-10.9-8.4-8.6-12.2 10.8zM1272.2 1784.5l12.2-10.5-8.4-9.1-12.2 10.4zM1062.7 1711.3l11.4-9.5-6.6 3.7-11.4 9.4zM1290.8 1784.2l12.2-9.5-8.5-10.1-12.1 9.4zM1066.6 1706.5l11.3-9-6.5 4.1-11.3 9zM1309.4 1784.7l12.1-9.1-8.6-10.6-12.1 9zM1070.5 1702.5l11.3-8.6-6.5 4.5-11.3 8.6zM1328.1 1786l12.1-8.7-8.6-11-12.1 8.6zM1074.3 1699.2l11.2-8.2-6.5 4.9-11.2 8.2zM1346.7 1788.1l12.1-8.3-8.7-11.5-12 8.2zM1078.2 1696.6l11.2-7.8-6.4 5.2-11.1 7.8zM1091.7 1688.5l11.1-7-6.4 5.6-11.1 7zM1095.5 1687.7l11-6.6-6.4 5.9-11 6.6zM1640.9 1727.6l10.1 3.9-8.8-10.6-10.1-3.9zM1641.5 1721.9l10 4.3-8.7-10.1-10-4.3zM1643.8 1706.8l9.7 5.7-8.6-8.3-9.7-5.7zM1644.3 1704.9l9.7 6-8.6-7.9-9.7-6zM1636.9 1697.3l9.6 6.3-8.5-7-9.6-6.3zM1629.5 1691l9.5 7.3-8.4-5.6-9.5-7.3z"/>
<path fill="#95ff73" d="M1246 1777.5l12.2-10.8-8.3-8.2-12.2 10.8zM1064.9 1714.1l11.5-9.9-6.7 3-11.5 9.9zM1264.4 1776l12.2-10.4-8.4-8.6-12.1 10.4zM1068.8 1708.2l11.4-9.5-6.6 3.4-11.4 9.5zM1072.7 1703.1l11.4-9.1-6.6 3.8-11.3 9zM1080.4 1695.1l11.3-8.2-6.5 4.5-11.2 8.2zM1338.7 1778l12-8.2-8.6-11-12 8.2zM1084.2 1692.2l11.2-7.8-6.5 4.9-11.2 7.8zM1357.3 1780.4l12-7.8-8.7-11.4-12 7.8zM1088 1690l11.1-7.4-6.5 5.2-11.1 7.4zM1101.5 1682.5l11.1-6.6-6.5 5.6-11 6.6zM1632 1724.3l10.2 3.5-8.8-10.6-10.2-3.6zM1642.2 1717l9.9 4.6-8.7-9.7-9.9-4.6zM1642.7 1712.8l9.9 5-8.7-9.2-9.9-5zM1643.3 1709.5l9.8 5.3-8.6-8.8-9.8-5.3zM1636.4 1698.1l9.7 6-8.5-7.5-9.7-6zM1629 1690.7l9.6 6.9-8.5-6-9.6-6.9zM1621.6 1685.7l9.5 7.3-8.4-5.2-9.5-7.3z"/>
<path fill="#9eff73" d="M1238.3 1769.9l12.2-10.8-8.2-7.7-12.1 10.7zM1071.1 1711.8l11.5-9.9-6.7 2.6-11.5 9.9zM1075 1705.5l11.5-9.5-6.7 3-11.4 9.5zM1282.9 1775.3l12.1-10-8.4-9-12.1 10zM1301.5 1775.4l12.1-9-8.5-10.1-12.1 9zM1076.5 1698.7l11.3-8.6-6.6 4.1-11.3 8.6zM1320.1 1776.3l12.1-8.6-8.6-10.5-12.1 8.6zM1367.9 1773.2l12-7.4-8.7-11.4-12 7.3zM1097.7 1683.6l11.1-7-6.5 5.2-11.1 7zM1111.1 1676.9l11-6.2-6.5 5.6-11 6.2zM1632.7 1718.3l10.1 3.9-8.7-10.1-10.1-3.9zM1633.4 1713.1l10 4.3-8.7-9.7-10-4.3zM1634.1 1708.6l9.9 4.6-8.7-9.2-10-4.6zM1634.7 1704.8l9.9 5-8.6-8.8-9.9-5zM1635.3 1701.9l9.8 5.3-8.6-8.3-9.8-5.3zM1635.9 1699.6l9.7 5.7-8.6-7.9-9.7-5.7zM1628.5 1691.7l9.7 6-8.5-7-9.7-6zM1621.1 1685.1l9.6 6.9-8.4-5.6-9.6-6.9zM1613.9 1680.9l9.5 7.3-8.4-4.8-9.5-7.2zM1606.1 1676.5l9.5 7.2-8.3-4.4-9.5-7.2z"/>
<path fill="#a6ff73" d="M1230.7 1762.7l12.1-10.7-8.2-7.2-12.1 10.7zM1077.4 1709.8l11.5-10-6.8 2.2-11.5 9.9zM1256.7 1768l12.1-10.4-8.3-8.1-12.1 10.3zM1275.1 1766.9l12.1-10-8.4-8.6-12.1 9.9zM1078.8 1700l11.4-9.1-6.7 3.4-11.4 9.1zM1293.6 1766.6l12.1-9-8.5-9.6-12.1 8.9zM1082.6 1695.3l11.3-8.7-6.6 3.8-11.3 8.6zM1312.2 1767.1l12.1-8.6-8.5-10-12.1 8.5zM1086.4 1691.3l11.3-8.2-6.6 4.2-11.3 8.2zM1330.7 1768.3l12-8.2-8.6-10.5-12 8.1zM1090.2 1688l11.2-7.8-6.6 4.5-11.2 7.8zM1349.3 1770.4l12-7.8-8.6-10.9-12 7.7zM1094 1685.5l11.2-7.4-6.5 4.9-11.1 7.4zM1378.4 1766.4l11.9-6.9-8.7-11.4-11.9 6.9zM1107.5 1677.7l11.1-6.6-6.5 5.3-11.1 6.6zM1120.8 1671.1l11-5.3-6.5 6.2-11 5.3zM1623.1 1721.4l10.2 3.2-8.8-10.6-10.2-3.2zM1623.9 1715l10.2 3.6-8.7-10.2-10.2-3.6zM1624.6 1709.4l10.1 3.9-8.7-9.7-10.1-3.9zM1627.3 1694.7l9.8 5.3-8.6-7.9-9.8-5.4zM1627.9 1692.8l9.7 5.7-8.5-7.5-9.7-5.7zM1620.6 1685.7l9.7 6-8.5-6.6-9.7-6zM1613.3 1679.9l9.6 6.9-8.4-5.2-9.6-6.9zM1598.4 1672.4l9.5 7.2-8.3-4-9.5-7.2zM1590.7 1668.7l9.5 7.2-8.3-3.6-9.5-7.2z"/>
<path fill="#afff73" d="M1223.1 1755.9l12.1-10.7-8.1-6.7-12.1 10.7zM1083.7 1708.1l11.6-10-6.9 1.8-11.5 10zM1249 1760.4l12.1-10.3-8.3-7.6-12.1 10.3zM1081.2 1703.1l11.5-9.5-6.8 2.6-11.5 9.5zM1267.4 1758.9l12.1-9.9-8.3-8.1-12.1 9.9zM1085 1697.2l11.4-9.1-6.7 3-11.4 9.1zM1088.8 1692.1l11.4-8.7-6.7 3.4-11.3 8.7zM1092.6 1687.8l11.3-8.3-6.7 3.8-11.3 8.2zM1096.3 1684.2l11.3-7.8-6.6 4.2-11.2 7.8zM1341.3 1760.7l12-7.7-8.6-10.5-12 7.7zM1100.1 1681.3l11.2-7.4-6.6 4.5-11.2 7.4zM1359.9 1763.2l12-7.3-8.7-10.9-11.9 7.3zM1103.8 1679.1l11.1-7-6.6 4.9-11.1 7zM1388.9 1759.9l11.9-6.5-8.7-11.3-11.8 6.5zM1117.2 1672.1l11.1-6.3-6.6 5.3-11 6.2zM1614.1 1718.8l10.3 2.8-8.8-10.7-10.3-2.8zM1614.9 1712.1l10.2 3.2-8.8-10.2-10.3-3.2zM1625.4 1704.6l10 4.3-8.7-9.2-10-4.3zM1626 1700.6l10 4.6-8.6-8.8-10-4.7zM1626.7 1697.2l9.9 5-8.6-8.3-9.9-5zM1619.4 1687.9l9.8 5.4-8.5-7.5-9.8-5.4zM1620 1686.5l9.7 5.7-8.5-7-9.7-5.7zM1612.7 1679.5l9.7 6.6-8.4-5.6-9.7-6.6zM1605.5 1675.1l9.6 6.9-8.4-4.8-9.6-6.9zM1597.8 1670.6l9.6 6.9-8.3-4.4-9.6-6.9z"/>
<path fill="#b7ff73" d="M1215.6 1749.6l12.1-10.7-8.1-6.3-12.1 10.6zM1096.6 1705.9l11.6-10.1-7 1.1-11.6 10zM1090.1 1706.8l11.6-10-6.9 1.5-11.6 10zM1241.4 1753.3l12.1-10.3-8.2-7.2-12.1 10.3zM1087.5 1701.1l11.5-9.6-6.8 2.2-11.5 9.5zM1259.7 1751.4l12.1-9.9-8.3-7.6-12.1 9.9zM1091.3 1694.8l11.5-9.1-6.8 2.7-11.4 9.1zM1285.8 1758.2l12.1-9.5-8.4-8.5-12.1 9.5zM1304.3 1758.3l12.1-8.5-8.5-9.6-12 8.5zM1322.8 1759.1l12-8.1-8.5-10-12 8.1zM1109.9 1674.9l11.2-7-6.6 4.6-11.1 7zM1370.4 1756.3l11.9-6.9-8.7-10.9-11.9 6.9zM1113.6 1673.2l11.1-6.6-6.6 4.9-11.1 6.6zM1399.3 1753.9l11.8-6.1-8.7-11.3-11.8 6zM1126.9 1666.8l11-5.9-6.6 5.9-11 5.3zM1595.8 1714.7l10.5 2.1-8.8-10.7-10.5-2.1zM1605 1716.6l10.4 2.4-8.8-10.7-10.4-2.5zM1605.9 1709.5l10.3 2.8-8.8-10.2-10.3-2.8zM1615.8 1706.1l10.2 3.6-8.7-9.7-10.2-3.6zM1616.6 1701l10.1 3.9-8.7-9.3-10.1-4zM1617.3 1696.6l10 4.3-8.7-8.8-10-4.3zM1618 1692.9l10 4.7-8.6-8.4-10-4.7zM1618.7 1690.1l9.9 5-8.6-7.9-9.9-5zM1611.5 1681.5l9.8 5.4-8.5-7-9.8-5.4zM1612.1 1680.5l9.7 5.7-8.5-6.6-9.7-5.7zM1604.9 1674.3l9.7 6.6-8.4-5.2-9.7-6.6zM1597.1 1669.5l9.7 6.6-8.4-4.8-9.7-6.6zM1590 1666.6l9.6 6.9-8.3-4-9.6-6.9zM1582.4 1662.9l9.6 6.9-8.3-3.6-9.6-6.9z"/>
<path fill="#c0ff73" d="M1208.2 1743.8l12.1-10.6-8-5.8-12 10.6zM1200.8 1738.3l12-10.6-8-5.4-12 10.5zM1103.1 1705.3l11.7-10.1-7.1 .7-11.6 10.1zM1233.8 1746.6l12.1-10.3-8.2-6.7-12.1 10.2zM1100.3 1698.1l11.6-9.6-7 1.5-11.6 9.6zM1093.9 1699.4l11.6-9.6-6.9 1.9-11.5 9.6zM1252 1744.3l12.1-9.9-8.2-7.1-12 9.8zM1097.6 1692.8l11.5-9.2-6.9 2.3-11.5 9.1zM1278 1750.2l12.1-9.5-8.4-8-12 9.5zM1095.1 1689.3l11.4-8.7-6.8 3-11.4 8.7zM1296.4 1749.9l12-8.5-8.4-9.1-12 8.5zM1098.8 1684.6l11.4-8.3-6.7 3.4-11.3 8.3zM1314.9 1750.3l12-8.1-8.5-9.5-12 8.1zM1102.5 1680.7l11.3-7.9-6.7 3.8-11.3 7.8zM1333.4 1751.6l12-7.7-8.6-10-12 7.7zM1106.2 1677.4l11.2-7.5-6.7 4.2-11.2 7.4zM1351.9 1753.6l11.9-7.3-8.6-10.4-11.9 7.3zM1380.8 1749.9l11.8-6.5-8.7-10.8-11.8 6.4zM1123.3 1667.6l11.1-6.3-6.6 4.9-11.1 6.3zM1409.7 1748.3l11.7-5.6-8.7-11.2-11.7 5.6zM1136.5 1661.3l11-4.9-6.6 5.9-11 4.9zM1586.6 1713.1l10.6 1.7-8.8-10.7-10.6-1.7zM1596.8 1707.2l10.4 2.5-8.8-10.2-10.4-2.5zM1606.8 1703.2l10.3 3.2-8.7-9.7-10.3-3.2zM1607.7 1697.7l10.2 3.6-8.7-9.3-10.2-3.6zM1608.5 1692.9l10.1 4-8.7-8.8-10.1-4zM1609.3 1689l10 4.3-8.6-8.4-10-4.3zM1610.1 1685.7l10 4.7-8.6-7.9-10-4.7zM1610.8 1683.3l9.9 5-8.6-7.5-9.9-5zM1603.6 1675.5l9.8 5.4-8.5-6.6-9.8-5.4zM1604.3 1674.3l9.7 6.3-8.4-5.6-9.8-6.3zM1596.4 1669.1l9.8 6.3-8.4-5.2-9.8-6.3zM1589.4 1665.1l9.7 6.6-8.3-4.4-9.7-6.6zM1574.7 1659.6l9.6 6.9-8.2-3.2-9.6-6.9z"/>
<path fill="#c8ff73" d="M1193.4 1733.3l12-10.5-7.9-4.9-12 10.5zM1186.1 1728.7l12-10.5-7.8-4.4-12 10.5zM1116.3 1705.3l11.7-10.2-7.2-.1-11.7 10.1zM1109.7 1705.1l11.7-10.1-7.1 .3-11.7 10.1zM1226.3 1740.3l12.1-10.2-8.1-6.2-12 10.2zM1218.8 1734.5l12-10.2-8-5.8-12 10.1zM1106.8 1697.1l11.6-9.7-7 1.1-11.6 9.6zM1244.4 1737.6l12-9.8-8.2-6.7-12 9.8zM1104 1691l11.5-9.2-6.9 1.9-11.5 9.2zM1270.3 1742.7l12-9.5-8.3-7.6-12 9.4zM1101.4 1686.9l11.4-8.7-6.8 2.7-11.4 8.7zM1288.7 1742l12-9.1-8.4-8-12 9zM1105.1 1681.8l11.4-8.3-6.8 3.1-11.4 8.3zM1307 1742l12-8.1-8.4-9.1-12 8zM1108.8 1677.5l11.3-7.9-6.8 3.5-11.3 7.9zM1325.4 1742.8l12-7.7-8.5-9.5-11.9 7.6zM1112.4 1673.9l11.3-7.5-6.7 3.8-11.2 7.5zM1343.9 1744.4l11.9-7.3-8.6-9.9-11.9 7.2zM1116.1 1671.1l11.2-7.1-6.7 4.2-11.2 7zM1362.4 1746.8l11.9-6.9-8.6-10.4-11.9 6.8zM1119.7 1669l11.1-6.7-6.7 4.6-11.1 6.6zM1391.3 1743.9l11.8-6-8.7-10.8-11.8 6zM1133 1662.3l11.1-5.9-6.7 4.9-11 5.9zM1420 1743l11.7-5.2-8.8-11.2-11.7 5.2zM1146.2 1656.8l11-4.5-6.7 5.9-10.9 4.5zM1430.3 1738.2l11.6-4.8-8.8-11.2-11.6 4.7zM1577.3 1711.9l10.6 1.3-8.8-10.7-10.6-1.3zM1587.7 1705.3l10.5 2.1-8.8-10.2-10.5-2.1zM1597.8 1700.6l10.3 2.8-8.7-9.7-10.3-2.9zM1598.7 1694.7l10.3 3.2-8.7-9.3-10.3-3.2zM1602.1 1678.9l10 4.7-8.6-7.5-10-4.7zM1602.9 1676.9l9.9 5-8.5-7.1-9.9-5zM1595.7 1669.9l9.8 5.4-8.4-6.2-9.8-5.4zM1588.6 1664.2l9.8 6.3-8.4-4.8-9.8-6.3zM1581.6 1661l9.7 6.6-8.3-4-9.7-6.6zM1573.9 1657.3l9.7 6.6-8.3-3.6-9.7-6.6zM1566.3 1654l9.7 6.6-8.2-3.2-9.7-6.6z"/>
<path fill="#d1ff73" d="M1178.9 1724.6l12-10.5-7.8-4-12 10.4zM1171.7 1720.8l12-10.4-7.7-3.6-11.9 10.4zM1164.6 1717.5l11.9-10.4-7.7-3.1-11.9 10.4zM1157.5 1714.5l11.9-10.4-7.6-2.7-11.9 10.3zM1150.5 1712l11.9-10.3-7.5-2.2-11.8 10.3zM1143.5 1709.9l11.8-10.3-7.5-1.8-11.8 10.3zM1136.7 1708.1l11.8-10.3-7.4-1.4-11.8 10.2zM1129.8 1706.8l11.8-10.2-7.3-1-11.8 10.2zM1123.1 1705.9l11.8-10.2-7.3-.6-11.7 10.2zM1211.4 1729.1l12-10.1-8-5.3-12 10.1zM1113.4 1696.5l11.6-9.7-7.1 .7-11.6 9.7zM1236.9 1731.4l12-9.8-8.1-6.2-12 9.8zM1110.5 1689.7l11.6-9.2-7 1.5-11.5 9.2zM1262.7 1735.7l12-9.4-8.2-7.1-12 9.4zM1107.7 1684.8l11.5-8.8-6.9 2.3-11.4 8.7zM1280.9 1734.5l12-9-8.3-7.5-12 9zM1111.4 1679.4l11.4-8.3-6.9 2.7-11.4 8.3zM1115.1 1674.7l11.4-7.9-6.8 3.1-11.3 7.9zM1118.7 1670.7l11.3-7.5-6.8 3.5-11.3 7.5zM1336 1735.7l11.9-7.2-8.5-9.5-11.9 7.2zM1122.3 1667.5l11.2-7.1-6.8 3.8-11.2 7.1zM1354.4 1737.7l11.9-6.8-8.6-9.9-11.9 6.8zM1125.9 1665.1l11.2-6.7-6.7 4.2-11.1 6.7zM1372.8 1740.4l11.8-6.4-8.6-10.3-11.8 6.4zM1129.5 1663.3l11.1-6.3-6.7 4.6-11.1 6.3zM1401.6 1738.4l11.7-5.6-8.7-10.8-11.7 5.6zM1142.7 1656.8l11-4.9-6.7 5.5-11 4.9zM1440.5 1733.8l11.6-4.3-8.8-11.1-11.6 4.3zM1558.6 1710.6l10.8 .5-8.8-10.8-10.8-.6zM1568 1711.1l10.7 .9-8.8-10.8-10.7-1zM1578.5 1703.7l10.6 1.7-8.8-10.3-10.6-1.7zM1588.7 1698.3l10.4 2.5-8.7-9.8-10.4-2.5zM1589.7 1692.1l10.3 2.9-8.7-9.3-10.3-2.9zM1599.6 1689.6l10.2 3.6-8.7-8.8-10.2-3.6zM1600.5 1685.3l10.1 4-8.6-8.4-10.1-4zM1601.3 1681.7l10 4.3-8.6-7.9-10-4.3zM1595 1670.9l9.9 5-8.5-6.6-9.9-5zM1587.9 1664.1l9.8 6-8.4-5.2-9.8-6zM1580.9 1659.8l9.8 6.3-8.3-4.4-9.8-6.3zM1573.2 1655.8l9.8 6.3-8.3-4-9.8-6.3zM1558.7 1651.1l9.7 6.6-8.2-2.8-9.7-6.6z"/>
<path fill="#d9ff73" d="M1204 1724.1l12-10.1-7.9-4.9-12 10.1zM1196.7 1719.5l12-10.1-7.9-4.4-11.9 10zM1133.4 1697l11.7-9.8-7.3-.5-11.7 9.7zM1126.7 1696.4l11.7-9.7-7.2-.1-11.7 9.7zM1120 1696.3l11.7-9.7-7.2 .3-11.6 9.7zM1229.4 1725.6l12-9.8-8.1-5.7-12 9.7zM1117 1688.7l11.6-9.2-7.1 1.1-11.6 9.2zM1255 1729l12-9.4-8.2-6.6-12 9.4zM1114.2 1683.1l11.5-8.8-7 1.9-11.5 8.8zM1273.2 1727.5l12-9-8.3-7.1-12 9zM1117.8 1677.2l11.4-8.4-6.9 2.3-11.4 8.3zM1299.2 1734.1l12-8.6-8.4-8-12 8zM1317.6 1734.5l11.9-7.6-8.5-9-11.9 7.6zM1132.2 1661.5l11.2-6.7-6.8 3.9-11.2 6.7zM1364.8 1731.3l11.8-6.4-8.6-9.9-11.8 6.4zM1135.7 1659.4l11.1-6.3-6.8 4.2-11.1 6.3zM1383.2 1734.5l11.8-6-8.6-10.3-11.8 6zM1139.2 1658.1l11.1-5.9-6.7 4.6-11.1 5.9zM1393.6 1728.9l11.7-5.6-8.7-10.3-11.7 5.5zM1148.9 1653.2l11.1-5.5-6.7 4.6-11 5.5zM1411.9 1733.2l11.7-5.2-8.7-10.7-11.7 5.1zM1152.4 1652.3l11-4.5-6.7 5.5-11 4.5zM1422.2 1728.4l11.6-4.7-8.7-10.7-11.6 4.7zM1162 1648.1l11-4.1-6.7 5.5-10.9 4.1zM1450.7 1729.7l11.5-3.9-8.8-11.1-11.5 3.9zM1460.8 1726.1l11.5-3.5-8.8-11.1-11.4 3.5zM1470.9 1722.8l11.4-3.1-8.8-11-11.4 3.1zM1529.9 1711.3l11-.6-8.8-10.9-11 .6zM1539.5 1710.7l10.9-.2-8.8-10.8-10.9 .2zM1549.1 1710.5l10.8 .2-8.8-10.8-10.8-.2zM1559.8 1701.6l10.7 1-8.8-10.3-10.7-1zM1569.2 1702.5l10.6 1.3-8.8-10.3-10.6-1.4zM1579.6 1696.3l10.5 2.1-8.7-9.8-10.5-2.1zM1580.6 1689.8l10.4 2.5-8.7-9.3-10.4-2.5zM1590.7 1686.6l10.3 3.2-8.7-8.8-10.3-3.3zM1591.6 1682l10.2 3.6-8.6-8.4-10.2-3.6zM1592.5 1678.1l10.1 4-8.6-7.9-10.1-4zM1593.4 1674.9l10 4.3-8.6-7.5-10-4.3zM1594.2 1672.5l10 4.7-8.5-7.1-10-4.7zM1587.1 1665.3l9.9 5-8.5-6.2-9.9-5zM1580.1 1659.3l9.8 6-8.4-4.8-9.8-6zM1572.3 1654.9l9.8 6-8.3-4.4-9.8-6zM1565.5 1652.1l9.8 6.3-8.3-3.6-9.8-6.3zM1557.8 1648.8l9.8 6.3-8.2-3.2-9.8-6.3zM1550.2 1645.9l9.8 6.3-8.2-2.8-9.8-6.2z"/>
<path fill="#e2ff73" d="M1189.4 1715.4l11.9-10-7.8-4-11.9 10zM1182.2 1711.7l11.9-10-7.7-3.5-11.9 10zM1175.1 1708.4l11.9-10-7.7-3.1-11.9 9.9zM1168 1705.5l11.9-9.9-7.6-2.6-11.8 9.9zM1160.9 1703l11.8-9.9-7.6-2.2-11.8 9.9zM1154 1700.9l11.8-9.9-7.5-1.8-11.8 9.8zM1147 1699.2l11.8-9.8-7.4-1.4-11.8 9.8zM1140.2 1697.9l11.8-9.8-7.4-.9-11.7 9.8zM1221.9 1720.2l12-9.7-8-5.3-12 9.7zM1214.5 1715.3l12-9.7-7.9-4.8-11.9 9.6zM1130.2 1687.8l11.6-9.3-7.2 .3-11.6 9.3zM1123.6 1688.1l11.6-9.3-7.1 .7-11.6 9.2zM1247.5 1722.9l12-9.4-8.1-6.2-12 9.3zM1127.2 1680.7l11.6-8.8-7.1 1.1-11.5 8.8zM1120.6 1681.7l11.5-8.8-7 1.5-11.5 8.8zM1265.6 1720.9l12-9-8.2-6.6-11.9 8.9zM1124.3 1675.5l11.5-8.4-7 1.9-11.4 8.4zM1291.5 1726.7l12-8.6-8.3-7.5-11.9 8.6zM1121.4 1672.2l11.4-7.9-6.9 2.7-11.4 7.9zM1309.8 1726.7l11.9-7.6-8.4-8.5-11.9 7.6zM1125 1667.9l11.3-7.5-6.9 3.1-11.3 7.5zM1328.1 1727.5l11.9-7.2-8.5-9-11.9 7.2zM1128.6 1664.3l11.3-7.1-6.8 3.5-11.2 7.1zM1346.4 1729l11.9-6.8-8.5-9.4-11.9 6.8zM1142 1655.9l11.2-6.3-6.8 3.9-11.1 6.3zM1375.2 1725.4l11.8-6-8.6-9.8-11.8 5.9zM1145.5 1654.2l11.1-5.9-6.8 4.2-11.1 5.9zM1403.9 1723.7l11.7-5.1-8.7-10.2-11.7 5.1zM1158.6 1648l11-4.5-6.8 5.2-11 4.5zM1432.4 1724l11.6-4.3-8.7-10.7-11.6 4.3zM1442.6 1719.9l11.5-3.9-8.7-10.6-11.5 3.9zM1480.8 1719.9l11.3-2.7-8.8-11-11.3 2.6zM1490.8 1717.5l11.3-2.3-8.8-11-11.3 2.2zM1500.7 1715.4l11.2-1.8-8.8-11-11.2 1.8zM1510.5 1713.6l11.1-1.4-8.8-10.9-11.1 1.4zM1520.2 1712.3l11.1-1-8.8-10.9-11.1 1zM1540.9 1701l10.8 .2-8.8-10.4-10.8-.2zM1550.4 1701.1l10.8 .6-8.8-10.3-10.8-.6zM1561.1 1693.5l10.6 1.4-8.7-9.8-10.6-1.4zM1570.3 1694.7l10.6 1.7-8.7-9.8-10.6-1.8zM1571.5 1687.8l10.5 2.1-8.7-9.3-10.5-2.1zM1581.7 1684l10.3 2.9-8.7-8.9-10.3-2.9zM1582.7 1679l10.3 3.3-8.6-8.4-10.3-3.3zM1583.6 1674.7l10.2 3.6-8.6-7.9-10.2-3.6zM1584.5 1671.3l10.1 4-8.6-7.5-10.1-4zM1585.4 1668.5l10 4.3-8.5-7.1-10-4.3zM1586.3 1666.5l10 4.7-8.5-6.6-10-4.7zM1578.4 1660.9l10 4.7-8.5-6.2-10-4.7zM1579.3 1660.1l9.9 5-8.4-5.8-9.9-5zM1571.5 1654.6l9.9 5.6-8.4-4.8-9.9-5.6zM1564.6 1650.8l9.8 6-8.3-4-9.8-5.9zM1556.9 1647.1l9.8 5.9-8.3-3.5-9.8-5.9zM1542.6 1643.3l9.8 6.2-8.1-2.4-9.8-6.2z"/>
<path fill="#eaff73" d="M1207.2 1710.7l11.9-9.6-7.9-4.4-11.9 9.6zM1199.9 1706.6l11.9-9.6-7.8-3.9-11.9 9.6zM1192.7 1703l11.9-9.6-7.8-3.5-11.9 9.5zM1150.5 1689.3l11.7-9.4-7.4-.9-11.7 9.4zM1143.7 1688.4l11.7-9.4-7.3-.5-11.7 9.3zM1136.9 1687.9l11.7-9.3-7.3-.1-11.6 9.3zM1239.9 1717.1l12-9.3-8.1-5.7-11.9 9.3zM1232.5 1711.8l11.9-9.3-8-5.3-11.9 9.2zM1133.8 1680l11.6-8.9-7.2 .7-11.6 8.8zM1258 1714.7l11.9-8.9-8.2-6.1-11.9 8.9zM1130.8 1674.1l11.5-8.4-7.1 1.6-11.5 8.4zM1283.8 1719.7l11.9-8.6-8.3-7-11.9 8.5zM1127.8 1670l11.4-7.9-7 2.3-11.4 7.9zM1302 1719.3l11.9-8.2-8.4-7.5-11.9 8.1zM1131.4 1665.4l11.4-7.5-6.9 2.7-11.3 7.5zM1320.3 1719.7l11.9-7.2-8.4-8.5-11.9 7.1zM1135 1661.5l11.3-7.1-6.9 3.1-11.3 7.1zM1338.6 1720.8l11.9-6.8-8.5-8.9-11.8 6.7zM1138.5 1658.3l11.2-6.7-6.9 3.5-11.2 6.7zM1356.9 1722.7l11.8-6.4-8.5-9.4-11.8 6.3zM1367.3 1716.8l11.8-5.9-8.6-9.4-11.8 5.9zM1151.8 1650.6l11.1-5.9-6.8 3.9-11.1 5.9zM1385.6 1719.9l11.7-5.5-8.6-9.8-11.7 5.5zM1155.2 1649.3l11.1-5.5-6.8 4.2-11.1 5.5zM1414.1 1719l11.6-4.7-8.7-10.2-11.6 4.7zM1168.3 1643.8l11-4.1-6.8 5.2-11 4.1zM1424.3 1714.6l11.6-4.3-8.7-10.2-11.6 4.2zM1177.9 1640l10.9-3.8-6.8 5.2-10.9 3.8zM1452.7 1716.3l11.4-3.5-8.7-10.6-11.4 3.4zM1462.7 1713.1l11.4-3.1-8.7-10.6-11.4 3zM1472.7 1710.3l11.3-2.6-8.8-10.5-11.3 2.6zM1482.6 1707.8l11.3-2.2-8.8-10.5-11.3 2.2zM1492.5 1705.7l11.2-1.8-8.8-10.5-11.2 1.8zM1502.3 1704l11.1-1.4-8.8-10.5-11.1 1.4zM1512.1 1702.7l11.1-1-8.8-10.4-11.1 1zM1521.7 1701.8l11-.6-8.8-10.4-11 .6zM1531.4 1701.2l10.9-.2-8.8-10.4-10.9 .2zM1551.7 1692.6l10.7 1-8.7-9.8-10.7-1zM1562.3 1686.2l10.6 1.8-8.7-9.4-10.6-1.8zM1572.6 1681.6l10.4 2.5-8.7-8.9-10.4-2.5zM1573.6 1676.3l10.3 2.9-8.6-8.4-10.3-2.9zM1574.7 1671.7l10.3 3.3-8.6-8-10.3-3.3zM1575.7 1667.9l10.2 3.6-8.6-7.5-10.2-3.6zM1576.6 1664.8l10.1 4-8.5-7.1-10.1-4zM1577.5 1662.5l10 4.3-8.5-6.6-10-4.4zM1570.6 1655.7l10 4.7-8.4-5.8-10-4.7zM1563.7 1650.2l9.9 5.6-8.3-4.4-9.9-5.6zM1549.3 1643.9l9.8 5.9-8.2-3.1-9.8-5.9zM1541.6 1640.9l9.8 5.9-8.2-2.7-9.8-5.9zM1534.1 1638.4l9.8 5.9-8.1-2.3-9.8-5.9zM1526.5 1636.2l9.8 5.9-8.1-2-9.8-5.9z"/>
<path fill="#f3ff73" d="M1185.5 1699.7l11.9-9.5-7.7-3-11.8 9.5zM1178.4 1696.8l11.8-9.5-7.6-2.6-11.8 9.5zM1171.4 1694.3l11.8-9.5-7.6-2.2-11.8 9.4zM1164.4 1692.3l11.8-9.4-7.5-1.8-11.8 9.4zM1157.4 1690.6l11.8-9.4-7.5-1.3-11.7 9.4zM1225.1 1706.8l11.9-9.2-8-4.8-11.9 9.2zM1217.7 1702.4l11.9-9.2-7.9-4.3-11.9 9.2zM1147.2 1679.8l11.6-8.9-7.3-.1-11.6 8.9zM1140.5 1679.7l11.6-8.9-7.2 .3-11.6 8.9zM1250.5 1709l11.9-8.9-8.1-5.7-11.9 8.8zM1137.3 1673l11.5-8.4-7.1 1.2-11.5 8.4zM1276.1 1713.1l11.9-8.5-8.2-6.6-11.9 8.5zM1140.9 1666.8l11.5-8-7.1 1.6-11.4 8zM1134.3 1668.3l11.4-8-7 2-11.4 7.9zM1294.3 1712.3l11.9-8.1-8.3-7-11.9 8.1zM1137.9 1663.2l11.4-7.5-7 2.4-11.4 7.5zM1312.5 1712.3l11.9-7.1-8.4-8-11.9 7.1zM1141.4 1659l11.3-7.1-7 2.8-11.3 7.1zM1330.7 1713l11.8-6.7-8.4-8.5-11.8 6.7zM1144.9 1655.4l11.3-6.7-6.9 3.1-11.2 6.7zM1349 1714.5l11.8-6.3-8.5-8.9-11.8 6.3zM1148.3 1652.7l11.2-6.3-6.9 3.5-11.2 6.3zM1377.6 1711.3l11.7-5.5-8.6-9.3-11.7 5.5zM1161.5 1645.7l11.1-5.5-6.9 3.9-11.1 5.5zM1395.9 1714.7l11.7-5.1-8.6-9.8-11.7 5.1zM1164.9 1644.7l11-5.1-6.8 4.3-11 5.1zM1406.1 1710l11.6-4.7-8.6-9.7-11.6 4.6zM1174.6 1639.9l11-4.1-6.9 4.9-11 4.1zM1434.5 1710.6l11.5-3.9-8.7-10.2-11.5 3.8zM1187.5 1636.5l10.9-3.4-6.9 5.2-10.9 3.4zM1444.6 1707l11.4-3.4-8.7-10.1-11.4 3.4zM1523.2 1692.1l10.9-.2-8.7-9.9-10.9 .2zM1532.8 1691.9l10.8 .2-8.7-9.9-10.8-.2zM1542.3 1692.1l10.8 .6-8.7-9.9-10.8-.6zM1553 1684.9l10.6 1.4-8.7-9.4-10.6-1.4zM1563.4 1679.7l10.5 2.1-8.7-8.9-10.5-2.2zM1564.6 1674l10.4 2.5-8.6-8.4-10.4-2.5zM1565.6 1669l10.3 2.9-8.6-8-10.3-2.9zM1568.7 1658.8l10.1 4-8.5-6.6-10.1-4zM1569.7 1656.9l10 4.4-8.5-6.2-10-4.4zM1562.8 1650.9l10 4.7-8.4-5.4-10-4.7zM1556 1646.2l9.9 5.6-8.3-3.9-9.9-5.6zM1548.3 1642.5l9.9 5.6-8.3-3.5-9.9-5.6zM1540.6 1639.2l9.9 5.6-8.2-3.1-9.9-5.6z"/>
<path fill="#fcff73" d="M1210.4 1698.3l11.9-9.2-7.9-3.9-11.9 9.1zM1203.1 1694.6l11.9-9.1-7.8-3.5-11.8 9.1zM1196 1691.4l11.8-9.1-7.7-3-11.8 9.1zM1188.8 1688.5l11.8-9.1-7.7-2.6-11.8 9.1zM1181.7 1686.1l11.8-9.1-7.6-2.2-11.8 9zM1174.7 1684.1l11.8-9-7.5-1.7-11.7 9zM1167.7 1682.4l11.7-9-7.5-1.3-11.7 9zM1160.8 1681.2l11.7-9-7.4-.9-11.7 8.9zM1154 1680.3l11.7-8.9-7.4-.5-11.6 8.9zM1243 1703.7l11.9-8.8-8-5.2-11.9 8.8zM1235.5 1698.8l11.9-8.8-8-4.8-11.9 8.8zM1150.7 1672.1l11.6-8.5-7.3 .4-11.6 8.4zM1144 1672.4l11.6-8.4-7.2 .8-11.5 8.4zM1268.5 1707l11.9-8.5-8.2-6.1-11.9 8.5zM1261 1701.3l11.9-8.5-8.1-5.6-11.9 8.4zM1147.5 1665.8l11.5-8-7.2 1.2-11.5 8zM1286.6 1705.8l11.9-8.1-8.3-6.5-11.9 8.1zM1144.4 1661.4l11.4-7.6-7.1 2-11.4 7.5zM1304.7 1705.3l11.9-7.7-8.3-7-11.8 7.7zM1147.9 1656.8l11.4-7.1-7 2.4-11.3 7.1zM1322.9 1705.7l11.8-6.7-8.4-8-11.8 6.7zM1151.3 1652.9l11.3-6.7-7 2.8-11.3 6.7zM1341.1 1706.8l11.8-6.3-8.5-8.4-11.8 6.3zM1154.7 1649.8l11.2-6.3-6.9 3.2-11.2 6.3zM1359.4 1708.7l11.8-5.9-8.5-8.9-11.7 5.9zM1158.2 1647.4l11.2-5.9-6.9 3.5-11.1 5.9zM1387.9 1706.2l11.7-5.1-8.6-9.3-11.6 5zM1171.3 1641.1l11.1-5.1-6.9 3.9-11 5.1zM1416.3 1705.7l11.6-4.2-8.6-9.7-11.5 4.2zM1184.2 1636l11-3.8-6.9 4.9-10.9 3.8zM1426.5 1701.7l11.5-3.8-8.7-9.7-11.5 3.8zM1193.8 1632.5l10.9-3.4-6.9 4.9-10.9 3.4zM1454.6 1703.8l11.4-3-8.7-10.1-11.4 3zM1464.6 1701l11.3-2.6-8.7-10.1-11.3 2.6zM1474.5 1698.6l11.3-2.2-8.7-10-11.2 2.2zM1484.4 1696.5l11.2-1.8-8.7-10-11.2 1.8zM1494.2 1694.9l11.1-1.4-8.7-10-11.1 1.4zM1503.9 1693.6l11.1-1-8.7-10-11 1zM1513.6 1692.6l11-.6-8.7-9.9-11 .6zM1534.2 1683.4l10.8 .6-8.7-9.4-10.8-.6zM1543.6 1684l10.7 1-8.7-9.4-10.7-1zM1544.9 1676.8l10.6 1.4-8.7-8.9-10.6-1.4zM1554.2 1678l10.6 1.8-8.7-8.9-10.6-1.8zM1555.4 1672l10.5 2.2-8.6-8.4-10.5-2.2zM1556.6 1666.7l10.4 2.5-8.6-8-10.4-2.6zM1566.7 1664.9l10.3 3.3-8.6-7.5-10.3-3.3zM1567.7 1661.5l10.2 3.6-8.5-7.1-10.2-3.7zM1559.8 1655.5l10.2 3.7-8.5-6.6-10.2-3.7zM1560.9 1653.2l10.1 4-8.5-6.2-10.1-4zM1561.8 1651.7l10 4.4-8.4-5.8-10-4.4zM1554 1646.9l10 4.4-8.4-5.4-10-4.4zM1555 1645.9l10 5.3-8.3-4.4-10-5.3zM1547.3 1641.8l10 5.3-8.3-3.9-10-5.3zM1539.6 1638.2l10 5.3-8.3-3.5-10-5.3zM1533 1636.3l9.9 5.6-8.2-2.7-9.9-5.6zM1525.4 1633.8l9.9 5.6-8.1-2.3-9.9-5.6zM1517.9 1631.6l9.9 5.6-8.1-1.9-9.9-5.6z"/>
<path fill="#fffa73" d="M1228.2 1694.4l11.9-8.8-7.9-4.3-11.8 8.8zM1220.8 1690.3l11.8-8.8-7.9-3.9-11.8 8.7zM1213.6 1686.7l11.8-8.7-7.8-3.4-11.8 8.7zM1171.1 1673.4l11.7-8.5-7.4-.9-11.6 8.5zM1164.3 1672.6l11.6-8.5-7.4-.4-11.6 8.5zM1157.4 1672.1l11.6-8.5-7.3 0-11.6 8.5zM1253.5 1696l11.9-8.4-8.1-5.2-11.8 8.4zM1154.1 1665.1l11.5-8-7.2 .8-11.5 8zM1279 1699.7l11.9-8.1-8.2-6.1-11.8 8zM1150.9 1660l11.4-7.6-7.1 1.6-11.4 7.6zM1297.1 1698.8l11.8-7.7-8.3-6.5-11.8 7.6zM1154.4 1655l11.4-7.2-7.1 2-11.4 7.1zM1315.2 1698.8l11.8-6.7-8.3-7.5-11.8 6.6zM1157.8 1650.7l11.3-6.7-7 2.4-11.3 6.7zM1333.3 1699.5l11.8-6.3-8.4-8-11.8 6.2zM1161.2 1647.2l11.3-6.3-7 2.8-11.2 6.3zM1351.5 1700.9l11.7-5.9-8.5-8.4-11.7 5.8zM1164.6 1644.4l11.2-5.9-7 3.2-11.2 5.9zM1369.7 1703.2l11.7-5.5-8.5-8.9-11.7 5.4zM1168 1642.4l11.1-5.5-6.9 3.5-11.1 5.5zM1380 1698.1l11.6-5-8.5-8.8-11.6 5zM1177.7 1637.8l11.1-5.1-7 3.5-11.1 5.1zM1398.1 1701.5l11.6-4.6-8.6-9.3-11.6 4.6zM1181 1636.9l11-4.7-6.9 3.9-11 4.7zM1408.3 1697.2l11.5-4.2-8.6-9.2-11.5 4.2zM1190.6 1632.4l11-3.8-7 4.5-11 3.8zM1436.5 1698.2l11.4-3.4-8.7-9.7-11.4 3.4zM1203.4 1629.4l10.9-3-6.9 4.9-10.9 3zM1446.6 1695l11.4-3-8.7-9.6-11.4 3zM1212.9 1626.6l10.9-2.6-7 4.9-10.8 2.6zM1456.6 1692.2l11.3-2.6-8.7-9.6-11.3 2.6zM1466.5 1689.8l11.2-2.2-8.7-9.6-11.2 2.1zM1495.9 1684.9l11-1-8.7-9.5-11 .9zM1505.5 1684l11-.6-8.7-9.5-11 .5zM1515.2 1683.4l10.9-.2-8.7-9.5-10.9 .1zM1524.7 1683.3l10.8 .2-8.7-9.4-10.8-.2zM1526.1 1675.3l10.8 .6-8.7-9-10.8-.7zM1535.6 1675.8l10.7 1-8.7-8.9-10.7-1zM1546.2 1670.3l10.6 1.8-8.6-8.5-10.6-1.8zM1547.4 1664.7l10.5 2.2-8.6-8-10.5-2.2zM1557.7 1662.2l10.3 2.9-8.6-7.5-10.3-2.9zM1558.8 1658.4l10.3 3.3-8.5-7.1-10.3-3.3zM1552 1649.8l10.2 3.7-8.5-6.2-10.2-3.7zM1553 1648l10.1 4-8.4-5.8-10.1-4zM1546.3 1641.9l10 5-8.3-4.3-10-5zM1538.6 1637.8l10 5-8.3-3.9-10-4.9zM1532 1634.9l10 5.3-8.2-3.1-10-5.3zM1524.3 1632l10 5.3-8.2-2.7-10-5.3zM1516.8 1629.5l10 5.3-8.1-2.3-10-5.3zM1509.2 1627.3l10 5.3-8.1-1.9-10-5.2zM1501.7 1625.5l10 5.2-8.1-1.5-10-5.2z"/>
<path fill="#fff173" d="M1206.4 1683.5l11.8-8.7-7.8-3-11.8 8.7zM1199.2 1680.7l11.8-8.7-7.7-2.6-11.7 8.6zM1192.1 1678.3l11.7-8.6-7.6-2.1-11.7 8.6zM1185 1676.2l11.7-8.6-7.6-1.7-11.7 8.6zM1178.1 1674.6l11.7-8.6-7.5-1.3-11.7 8.5zM1246 1691.2l11.8-8.4-8-4.7-11.8 8.4zM1238.6 1686.8l11.8-8.4-8-4.3-11.8 8.3zM1174.5 1665.2l11.6-8.1-7.4-.4-11.6 8.1zM1167.6 1664.8l11.6-8.1-7.3 0-11.6 8.1zM1160.9 1664.8l11.6-8.1-7.3 .4-11.5 8zM1271.4 1694l11.8-8-8.1-5.6-11.8 8zM1263.9 1688.8l11.8-8-8.1-5.2-11.8 8zM1164.3 1658.2l11.5-7.6-7.2 .8-11.5 7.6zM1157.6 1658.9l11.5-7.6-7.2 1.2-11.4 7.6zM1289.4 1692.8l11.8-7.6-8.2-6-11.8 7.6zM1161 1653.5l11.4-7.2-7.1 1.6-11.4 7.2zM1307.5 1692.3l11.8-7.2-8.3-6.5-11.8 7.2zM1164.4 1648.9l11.4-6.8-7.1 2-11.3 6.7zM1325.5 1692.6l11.8-6.2-8.4-7.5-11.7 6.2zM1167.7 1645l11.3-6.3-7.1 2.4-11.3 6.3zM1343.7 1693.7l11.7-5.8-8.4-7.9-11.7 5.8zM1171.1 1641.9l11.2-5.9-7 2.8-11.2 5.9zM1361.8 1695.5l11.7-5.4-8.5-8.4-11.7 5.4zM1174.4 1639.5l11.2-5.5-7 3.2-11.1 5.5zM1390.2 1693.4l11.6-4.6-8.5-8.8-11.6 4.6zM1187.4 1633.6l11.1-4.8-7 3.5-11 4.7zM1418.5 1693.3l11.5-3.8-8.6-9.2-11.5 3.8zM1200.3 1628.9l11-3.4-7 4.5-10.9 3.4zM1428.5 1689.7l11.4-3.4-8.6-9.2-11.4 3.4zM1209.9 1625.8l10.9-3-7 4.5-10.9 3zM1476.3 1687.8l11.2-1.8-8.7-9.5-11.2 1.7zM1486.1 1686.1l11.1-1.4-8.7-9.5-11.1 1.3zM1507.1 1675.2l10.9-.1-8.7-9-10.9 .1zM1516.7 1675l10.8 .2-8.7-9-10.8-.3zM1527.5 1668.1l10.7 1-8.6-8.5-10.7-1.1zM1536.9 1669l10.6 1.4-8.6-8.5-10.6-1.4zM1538.2 1663l10.6 1.8-8.6-8-10.6-1.8zM1548.6 1659.8l10.4 2.6-8.6-7.5-10.4-2.6zM1549.8 1655.7l10.3 2.9-8.5-7.1-10.3-2.9zM1550.9 1652.4l10.3 3.3-8.5-6.6-10.3-3.3zM1544.1 1644.6l10.2 3.7-8.4-5.8-10.2-3.7zM1545.2 1643.2l10.1 4-8.4-5.4-10.1-4zM1537.5 1638.8l10.1 4-8.3-4.9-10.1-4zM1530.9 1634.2l10 4.9-8.3-3.5-10-4.9zM1523.2 1630.9l10 4.9-8.2-3.1-10-4.9zM1515.6 1628l10 4.9-8.2-2.7-10-4.9z"/>
<path fill="#ffe973" d="M1231.3 1682.8l11.8-8.3-7.9-3.8-11.8 8.3zM1224 1679.2l11.8-8.3-7.8-3.4-11.8 8.3zM1216.7 1676l11.8-8.3-7.8-3-11.7 8.2zM1209.5 1673.2l11.7-8.2-7.7-2.5-11.7 8.2zM1202.4 1670.8l11.7-8.2-7.7-2.1-11.7 8.2zM1195.3 1668.8l11.7-8.2-7.6-1.7-11.7 8.2zM1188.3 1667.2l11.7-8.2-7.5-1.2-11.6 8.1zM1181.4 1666l11.6-8.1-7.5-.8-11.6 8.1zM1256.4 1684l11.8-8-8-4.7-11.8 7.9zM1249 1679.6l11.8-7.9-8-4.3-11.8 7.9zM1177.8 1657.9l11.6-7.7-7.4 0-11.5 7.6zM1171 1657.8l11.5-7.6-7.3 .4-11.5 7.6zM1281.8 1687.1l11.8-7.6-8.2-5.6-11.8 7.6zM1274.3 1681.9l11.8-7.6-8.1-5.1-11.8 7.5zM1174.4 1651.7l11.5-7.2-7.3 .8-11.4 7.2zM1167.6 1652.4l11.4-7.2-7.2 1.2-11.4 7.2zM1299.8 1686.3l11.8-7.2-8.2-6-11.8 7.2zM1171 1647.4l11.4-6.8-7.2 1.6-11.4 6.8zM1317.8 1686.2l11.7-6.2-8.3-7-11.7 6.2zM1174.3 1643.2l11.3-6.4-7.1 2-11.3 6.3zM1335.9 1686.8l11.7-5.8-8.4-7.5-11.7 5.8zM1177.6 1639.7l11.3-5.9-7.1 2.4-11.2 5.9zM1354 1688.2l11.7-5.4-8.4-7.9-11.7 5.4zM1180.9 1636.9l11.2-5.5-7.1 2.8-11.2 5.5zM1372.1 1690.5l11.6-5-8.5-8.4-11.6 5zM1184.2 1634.9l11.1-5.1-7 3.2-11.1 5.1zM1382.3 1685.8l11.6-4.6-8.5-8.3-11.6 4.6zM1193.9 1630.7l11.1-4.8-7.1 3.2-11.1 4.8zM1400.4 1689.1l11.5-4.2-8.6-8.8-11.5 4.2zM1197.1 1629.8l11-4.4-7 3.5-11 4.4zM1410.5 1685.3l11.5-3.8-8.6-8.7-11.5 3.7zM1206.8 1625.7l11-3.4-7 4.2-11 3.4zM1438.6 1686.6l11.4-3-8.6-9.2-11.4 2.9zM1219.4 1623l10.9-2.6-7 4.5-10.9 2.6zM1448.5 1683.8l11.3-2.6-8.6-9.1-11.3 2.5zM1229 1620.6l10.8-2.3-7.1 4.5-10.8 2.3zM1458.4 1681.4l11.2-2.1-8.6-9.1-11.2 2.1zM1468.3 1679.4l11.2-1.7-8.6-9.1-11.2 1.7zM1478.1 1677.8l11.1-1.3-8.6-9.1-11.1 1.3zM1487.8 1676.6l11-.9-8.7-9-11 .9zM1497.5 1675.7l11-.5-8.7-9-11 .5zM1508.6 1667.3l10.8 .3-8.6-8.5-10.8-.3zM1518.1 1667.5l10.8 .7-8.6-8.5-10.8-.7zM1528.9 1661.7l10.6 1.4-8.6-8-10.6-1.4zM1530.2 1656.1l10.6 1.8-8.6-7.6-10.6-1.8zM1539.4 1657.8l10.5 2.2-8.6-7.5-10.5-2.2zM1540.7 1653.4l10.4 2.6-8.5-7.1-10.4-2.6zM1541.9 1649.7l10.3 2.9-8.5-6.7-10.3-2.9zM1543 1646.8l10.3 3.3-8.5-6.2-10.3-3.3zM1535.2 1641.6l10.3 3.3-8.4-5.8-10.3-3.3zM1536.3 1639.8l10.2 3.7-8.4-5.4-10.2-3.7zM1529.7 1634.1l10.1 4.6-8.3-3.9-10.1-4.6zM1522.1 1630.5l10.1 4.6-8.3-3.5-10.1-4.6zM1508 1625.5l10 4.9-8.1-2.3-10-4.9zM1500.5 1623.3l10 4.9-8.1-1.9-10-4.9zM1493 1621.5l10 4.9-8.1-1.5-10-4.9zM1485.6 1620.1l10 4.9-8-1.1-10-4.9z"/>
<path fill="#ffe073" d="M1241.6 1675.6l11.8-7.9-7.9-3.8-11.7 7.9zM1234.3 1672l11.7-7.9-7.9-3.4-11.7 7.8zM1227.1 1668.8l11.7-7.8-7.8-2.9-11.7 7.8zM1219.9 1666.1l11.7-7.8-7.7-2.5-11.7 7.8zM1205.6 1661.8l11.7-7.8-7.6-1.6-11.6 7.7zM1198.6 1660.2l11.6-7.7-7.6-1.2-11.6 7.7zM1191.6 1659l11.6-7.7-7.5-.8-11.6 7.7zM1184.7 1658.3l11.6-7.7-7.4-.4-11.6 7.7zM1266.8 1677.1l11.8-7.5-8.1-4.7-11.7 7.5zM1181.1 1651.3l11.5-7.2-7.3 .4-11.5 7.2zM1292.2 1680.7l11.8-7.2-8.2-5.6-11.7 7.1zM1177.7 1646.3l11.4-6.8-7.2 1.2-11.4 6.8zM1310.1 1680.1l11.7-6.8-8.2-6-11.7 6.7zM1181 1641.7l11.3-6.4-7.2 1.6-11.3 6.4zM1328.1 1680.4l11.7-5.8-8.3-7-11.7 5.7zM1184.3 1637.8l11.3-6-7.2 2-11.3 5.9zM1346.2 1681.4l11.7-5.4-8.4-7.4-11.6 5.3zM1187.5 1634.7l11.2-5.6-7.1 2.4-11.2 5.5zM1364.2 1683.2l11.6-5-8.4-7.9-11.6 4.9zM1190.7 1632.3l11.2-5.2-7.1 2.8-11.1 5.1zM1374.4 1678.6l11.6-4.6-8.5-7.9-11.6 4.5zM1200.5 1628.1l11.1-4.8-7.1 2.8-11.1 4.8zM1392.4 1681.5l11.5-4.2-8.5-8.3-11.5 4.1zM1203.7 1626.8l11-4.4-7.1 3.2-11 4.4zM1402.6 1677.7l11.5-3.7-8.5-8.3-11.5 3.7zM1213.3 1623.3l11-4-7.1 3.2-11 4zM1420.6 1681.7l11.4-3.4-8.6-8.7-11.4 3.3zM1216.4 1622.5l10.9-3-7.1 4.2-10.9 3zM1430.6 1678.6l11.4-2.9-8.6-8.7-11.3 2.9zM1226 1619.7l10.9-2.6-7.1 4.2-10.9 2.6zM1440.5 1675.9l11.3-2.5-8.6-8.7-11.3 2.5zM1235.5 1617.3l10.9-2.2-7.1 4.1-10.8 2.3zM1450.4 1673.5l11.2-2.1-8.6-8.6-11.2 2.1zM1245 1615.2l10.8-1.9-7.1 4.1-10.8 1.9zM1460.3 1671.6l11.2-1.7-8.6-8.6-11.2 1.7zM1470.1 1670l11.1-1.3-8.6-8.6-11.1 1.3zM1479.8 1668.7l11-.9-8.6-8.6-11 .9zM1489.5 1667.9l11-.5-8.6-8.6-11 .5zM1499.1 1667.4l10.9-.1-8.6-8.5-10.9 .1zM1510.1 1660.1l10.8 .7-8.6-8-10.8-.7zM1519.5 1660.7l10.7 1.1-8.6-8-10.7-1.1zM1520.9 1654.8l10.6 1.4-8.6-7.6-10.6-1.5zM1522.3 1649.7l10.6 1.8-8.5-7.1-10.6-1.8zM1531.5 1651.4l10.5 2.2-8.5-7.1-10.5-2.2zM1532.8 1647.3l10.4 2.6-8.5-6.7-10.4-2.6zM1534 1644.1l10.3 2.9-8.5-6.2-10.3-3zM1526.2 1638.9l10.3 3-8.4-5.8-10.3-3zM1527.4 1636.8l10.3 3.3-8.4-5.4-10.3-3.3zM1528.6 1635.4l10.2 3.7-8.3-4.9-10.2-3.7zM1520.9 1631.3l10.2 3.7-8.3-4.5-10.2-3.7zM1513.2 1627.1l10.2 4.3-8.3-3.5-10.2-4.3zM1514.4 1627.2l10.1 4.6-8.2-3.1-10.1-4.6zM1506.8 1624.3l10.1 4.6-8.2-2.7-10.1-4.6zM1499.2 1621.8l10.1 4.6-8.1-2.3-10.1-4.6zM1491.7 1619.7l10.1 4.6-8.1-1.9-10.1-4.6zM1484.2 1617.9l10.1 4.6-8-1.5-10.1-4.6zM1476.8 1616.5l10.1 4.6-8-1.1-10.1-4.5zM1469.4 1615.4l10.1 4.5-8-.7-10.1-4.5z"/>
<path fill="#ffd873" d="M1212.7 1663.7l11.7-7.8-7.7-2.1-11.7 7.8zM1259.4 1672.8l11.7-7.5-8-4.2-11.7 7.5zM1252 1668.8l11.7-7.5-7.9-3.8-11.7 7.4zM1244.6 1665.3l11.7-7.4-7.9-3.3-11.7 7.4zM1201.8 1652.4l11.6-7.3-7.5-.8-11.5 7.3zM1194.8 1651.7l11.5-7.3-7.5-.4-11.5 7.3zM1188 1651.3l11.5-7.3-7.4 0-11.5 7.2zM1284.6 1675.5l11.7-7.1-8.1-5.1-11.7 7.1zM1277.1 1670.7l11.7-7.1-8.1-4.6-11.7 7.1zM1191.2 1645.1l11.5-6.8-7.4 .5-11.4 6.8zM1184.4 1645.5l11.4-6.8-7.3 .9-11.4 6.8zM1302.5 1674.6l11.7-6.7-8.2-5.5-11.7 6.7zM1187.7 1640.5l11.4-6.4-7.3 1.3-11.3 6.4zM1320.5 1674.4l11.7-5.7-8.3-6.6-11.7 5.7zM1190.9 1636.3l11.3-6-7.2 1.7-11.3 6zM1338.4 1675l11.6-5.3-8.3-7-11.6 5.3zM1194.1 1632.8l11.2-5.6-7.2 2.1-11.2 5.6zM1356.4 1676.4l11.6-4.9-8.4-7.4-11.6 4.9zM1197.3 1630.1l11.2-5.2-7.2 2.4-11.2 5.2zM1384.6 1674.4l11.5-4.1-8.5-7.8-11.5 4.1zM1210.3 1624.2l11.1-4.4-7.1 2.8-11 4.4zM1412.6 1674.2l11.4-3.3-8.5-8.2-11.4 3.3zM1223 1619.6l11-3-7.1 3.8-10.9 3zM1422.6 1671.1l11.3-2.9-8.5-8.2-11.3 2.9zM1232.6 1616.8l10.9-2.6-7.2 3.8-10.9 2.6zM1432.6 1668.4l11.3-2.5-8.5-8.2-11.3 2.5zM1242.1 1614.3l10.9-2.2-7.2 3.8-10.9 2.2zM1442.5 1666.1l11.2-2.1-8.6-8.2-11.2 2.1zM1254.5 1613.4l10.8-1.5-7.2 4.1-10.7 1.5zM1471.8 1661.3l11-.9-8.6-8.1-11 .9zM1481.5 1660.5l11-.5-8.6-8.1-11 .5zM1491.1 1660l10.9-.1-8.6-8.1-10.9 .1zM1500.6 1659.9l10.8 .3-8.6-8.1-10.8-.3zM1502.2 1653.2l10.8 .7-8.6-7.6-10.8-.7zM1511.6 1653.8l10.7 1.1-8.6-7.6-10.7-1.1zM1513 1648.3l10.6 1.5-8.5-7.1-10.6-1.5zM1514.4 1643.6l10.6 1.8-8.5-6.7-10.5-1.9zM1523.6 1645.3l10.5 2.2-8.5-6.7-10.5-2.2zM1515.8 1639.7l10.5 2.2-8.4-6.2-10.5-2.2zM1524.9 1641.7l10.4 2.6-8.5-6.2-10.4-2.6zM1517.1 1636.5l10.4 2.6-8.4-5.8-10.4-2.6zM1518.4 1634l10.3 3-8.4-5.4-10.3-3zM1519.6 1632.3l10.3 3.3-8.3-4.9-10.3-3.3zM1511.9 1628.3l10.3 3.3-8.3-4.5-10.3-3.3zM1505.5 1623.8l10.2 4.3-8.2-3.1-10.2-4.3zM1497.9 1620.9l10.2 4.3-8.2-2.7-10.2-4.2zM1490.4 1618.4l10.2 4.2-8.1-2.3-10.2-4.2zM1482.8 1616.3l10.2 4.2-8.1-1.9-10.2-4.2zM1475.4 1614.5l10.2 4.2-8-1.5-10.2-4.2zM1467.9 1613.1l10.2 4.2-8-1.1-10.1-4.2zM1460.5 1612.1l10.1 4.2-8-.7-10.1-4.2zM1453.2 1611.5l10.1 4.2-7.9-.3-10.1-4.2z"/>
<path fill="#ffcf73" d="M1237.4 1662.1l11.7-7.4-7.8-2.9-11.7 7.4zM1230.1 1659.4l11.7-7.4-7.8-2.5-11.6 7.4zM1223 1657.1l11.6-7.4-7.7-2-11.6 7.3zM1215.8 1655.1l11.6-7.3-7.6-1.6-11.6 7.3zM1208.8 1653.6l11.6-7.3-7.6-1.2-11.6 7.3zM1269.7 1666.4l11.7-7.1-8-4.2-11.7 7.1zM1262.3 1662.4l11.7-7.1-8-3.8-11.7 7zM1254.9 1658.9l11.7-7-7.9-3.3-11.6 7zM1211.9 1646.2l11.5-6.9-7.5-.8-11.5 6.9zM1205 1645.5l11.5-6.9-7.5-.4-11.5 6.8zM1198.1 1645.1l11.5-6.8-7.4 .1-11.5 6.8zM1295 1669.4l11.7-6.7-8.1-5.1-11.7 6.7zM1287.4 1664.7l11.7-6.7-8.1-4.6-11.7 6.7zM1201.3 1639.3l11.4-6.4-7.4 .5-11.4 6.4zM1194.4 1639.7l11.4-6.4-7.3 .9-11.4 6.4zM1312.8 1668.9l11.7-6.3-8.2-5.5-11.6 6.3zM1197.7 1635.1l11.3-6-7.3 1.3-11.3 6zM1330.7 1669.1l11.6-5.3-8.3-6.5-11.6 5.3zM1200.8 1631.3l11.3-5.6-7.3 1.7-11.2 5.6zM1348.6 1670.1l11.6-4.9-8.3-7-11.6 4.9zM1204 1628.2l11.2-5.2-7.2 2.1-11.2 5.2zM1366.6 1671.8l11.6-4.5-8.4-7.4-11.5 4.5zM1358.8 1665.5l11.5-4.5-8.4-6.9-11.5 4.5zM1207.1 1625.9l11.1-4.8-7.2 2.4-11.1 4.8zM1376.7 1667.6l11.5-4.1-8.4-7.4-11.5 4.1zM1216.9 1622l11.1-4.4-7.2 2.5-11.1 4.4zM1394.7 1670.5l11.5-3.7-8.5-7.8-11.4 3.7zM1220 1620.7l11-4-7.2 2.8-11 4zM1404.7 1667.1l11.4-3.3-8.5-7.8-11.4 3.3zM1229.6 1617.6l11-3.6-7.2 2.8-11 3.6zM1414.7 1664l11.3-2.9-8.5-7.8-11.3 2.9zM1239.2 1614.2l10.9-2.6-7.2 3.4-10.9 2.6zM1424.7 1661.3l11.3-2.5-8.5-7.7-11.3 2.5zM1251.7 1612.2l10.8-1.9-7.2 3.8-10.8 1.9zM1452.3 1664.1l11.2-1.7-8.6-8.2-11.2 1.7zM1261.1 1610.5l10.8-1.5-7.2 3.8-10.8 1.5zM1462.1 1662.5l11.1-1.3-8.6-8.1-11.1 1.3zM1270.6 1609.1l10.7-1.1-7.2 3.8-10.7 1.1zM1473.6 1653.5l11-.5-8.5-7.6-11 .5zM1483.2 1653l10.9-.1-8.5-7.6-10.9 .1zM1492.7 1652.9l10.8 .3-8.5-7.6-10.8-.3zM1494.3 1646.7l10.8 .7-8.5-7.2-10.8-.7zM1503.7 1647.3l10.7 1.1-8.5-7.1-10.7-1.1zM1505.1 1642.3l10.6 1.5-8.5-6.7-10.6-1.5zM1506.5 1638l10.5 1.9-8.4-6.2-10.5-1.9zM1507.9 1634.4l10.5 2.2-8.4-5.8-10.5-2.2zM1509.3 1631.6l10.4 2.6-8.4-5.4-10.4-2.6zM1510.6 1629.6l10.3 3-8.3-4.9-10.3-3zM1502.9 1625.6l10.3 3-8.3-4.5-10.3-3zM1428 1605.5l10.3 3.5-7.8 .1-10.2-3.5zM1504.2 1624.6l10.3 3.3-8.3-4.1-10.2-3.3zM1496.6 1620.8l10.2 3.9-8.2-3.1-10.2-3.9zM1489 1617.9l10.2 3.9-8.2-2.7-10.2-3.9zM1481.4 1615.4l10.2 3.9-8.1-2.3-10.2-3.9zM1473.9 1613.3l10.2 3.9-8.1-1.9-10.2-3.9zM1466.4 1611.5l10.2 3.9-8-1.5-10.2-3.9zM1459 1610.1l10.2 3.9-8-1.1-10.2-3.9zM1451.6 1609.1l10.2 3.9-7.9-.7-10.2-3.9zM1444.3 1608.5l10.2 3.9-7.9-.3-10.2-3.8z"/>
<path fill="#ffc773" d="M1247.6 1655.8l11.6-7-7.8-2.9-11.6 7zM1240.4 1653.1l11.6-7-7.8-2.5-11.6 7zM1233.2 1650.8l11.6-7-7.7-2-11.6 6.9zM1226 1648.9l11.6-6.9-7.7-1.6-11.6 6.9zM1219 1647.3l11.6-6.9-7.6-1.2-11.5 6.9zM1280 1660.3l11.7-6.7-8-4.2-11.6 6.6zM1272.5 1656.4l11.6-6.6-8-3.7-11.6 6.6zM1265.2 1652.9l11.6-6.6-7.9-3.3-11.6 6.6zM1222.1 1640.4l11.5-6.5-7.6-.7-11.5 6.5zM1215.1 1639.7l11.5-6.5-7.5-.3-11.4 6.4zM1208.1 1639.3l11.4-6.4-7.4 .1-11.4 6.4zM1305.2 1663.7l11.6-6.3-8.2-5-11.6 6.3zM1297.7 1659l11.6-6.3-8.1-4.6-11.6 6.2zM1211.3 1633.9l11.4-6-7.4 .5-11.4 6zM1204.4 1634.4l11.4-6-7.4 .9-11.3 6zM1323.1 1663.6l11.6-5.3-8.2-6.1-11.6 5.3zM1315.5 1658.4l11.6-5.9-8.2-5-11.6 5.8zM1214.4 1629.3l11.3-5.6-7.4 .9-11.3 5.6zM1207.6 1630.1l11.3-5.6-7.3 1.3-11.3 5.6zM1340.9 1664.1l11.6-4.9-8.3-6.5-11.6 4.9zM1333.3 1658.6l11.6-4.9-8.2-6.1-11.5 4.8zM1217.5 1625.5l11.3-5.2-7.3 1.3-11.2 5.2zM1210.7 1626.7l11.2-5.2-7.3 1.7-11.2 5.2zM1351.1 1659.6l11.5-4.5-8.3-6.5-11.5 4.5zM1220.6 1622.4l11.2-4.8-7.3 1.7-11.2 4.8zM1213.8 1624l11.2-4.8-7.2 2.1-11.1 4.8zM1369 1661.3l11.5-4.1-8.4-6.9-11.5 4.1zM1223.6 1620.1l11.1-4.4-7.3 2.1-11.1 4.4zM1386.8 1663.8l11.4-3.7-8.4-7.3-11.4 3.7zM1226.6 1618.5l11.1-4-7.2 2.5-11 4zM1396.9 1660.4l11.4-3.3-8.4-7.3-11.4 3.3zM1236.3 1615.3l11-3.6-7.3 2.5-11 3.6zM1406.9 1657.3l11.3-2.9-8.5-7.3-11.3 2.8zM1246 1612.5l11-3.2-7.3 2.5-10.9 3.2zM1248.8 1611.7l10.9-2.2-7.2 3.4-10.9 2.2zM1434.6 1659l11.2-2.1-8.5-7.7-11.2 2.1zM1258.4 1609.6l10.9-1.9-7.3 3.4-10.8 1.9zM1444.4 1657.1l11.2-1.7-8.5-7.7-11.1 1.6zM1267.9 1607.9l10.8-1.5-7.3 3.4-10.8 1.5zM1454.2 1655.5l11.1-1.3-8.5-7.7-11.1 1.2zM1277.3 1606.5l10.8-1.1-7.3 3.4-10.7 1.1zM1463.9 1654.3l11-.9-8.5-7.7-11 .9zM1286.7 1605.4l10.7-.8-7.3 3.4-10.7 .8zM1465.7 1646.9l11-.5-8.5-7.2-11 .4zM1296.1 1604.7l10.7-.4-7.3 3.4-10.6 .4zM1475.2 1646.5l10.9-.1-8.5-7.2-10.9 .1zM1312.3 1602.1l10.6 0-7.4 3-10.6 0zM1484.8 1646.4l10.8 .3-8.5-7.2-10.8-.3zM1486.4 1640.6l10.8 .7-8.5-6.7-10.8-.7zM1495.8 1641.3l10.7 1.1-8.5-6.7-10.7-1.1zM1497.3 1636.6l10.6 1.5-8.4-6.2-10.6-1.5zM1498.7 1632.7l10.5 1.9-8.4-5.8-10.5-1.9zM1500.2 1629.6l10.5 2.2-8.4-5.4-10.5-2.2zM1395.5 1601.7l10.4 2.8-7.7 .9-10.3-2.8zM1501.6 1627.2l10.4 2.6-8.3-4.9-10.4-2.6zM1493.8 1623.2l10.4 2.6-8.3-4.5-10.4-2.6zM1419 1603.1l10.3 3.1-7.8 .1-10.3-3.1zM1411.8 1603.2l10.3 3.1-7.8 .5-10.3-3.1zM1495.2 1621.9l10.3 3-8.3-4.1-10.3-3zM1487.6 1618.6l10.3 3-8.2-3.7-10.3-3zM1480 1615.2l10.3 3.6-8.2-2.7-10.3-3.6zM1472.4 1612.7l10.3 3.6-8.1-2.3-10.3-3.5zM1464.9 1610.5l10.3 3.5-8.1-1.9-10.3-3.5zM1457.5 1608.8l10.3 3.5-8-1.5-10.3-3.5zM1450 1607.4l10.3 3.5-8-1.1-10.3-3.5zM1442.6 1606.4l10.3 3.5-7.9-.7-10.3-3.5zM1435.3 1605.8l10.3 3.5-7.9-.3-10.3-3.5z"/>
<path fill="#ffbe73" d="M1257.8 1649.8l11.6-6.6-7.9-2.9-11.6 6.6zM1250.6 1647.2l11.6-6.6-7.8-2.4-11.6 6.5zM1243.4 1644.9l11.6-6.5-7.7-2-11.5 6.5zM1236.2 1643l11.5-6.5-7.7-1.6-11.5 6.5zM1229.1 1641.5l11.5-6.5-7.6-1.2-11.5 6.5zM1290.2 1654.7l11.6-6.2-8.1-4.2-11.6 6.2zM1282.8 1650.8l11.6-6.2-8-3.7-11.6 6.2zM1275.4 1647.4l11.6-6.2-7.9-3.3-11.6 6.2zM1232.2 1634.9l11.4-6.1-7.6-.7-11.4 6.1zM1225.1 1634.2l11.4-6.1-7.5-.3-11.4 6zM1218.2 1633.9l11.4-6-7.5 .1-11.4 6zM1307.9 1653.8l11.6-5.8-8.1-4.6-11.6 5.8zM1300.4 1649.5l11.6-5.8-8.1-4.1-11.5 5.8zM1228.2 1628.8l11.4-5.6-7.5 .1-11.3 5.6zM1221.3 1628.9l11.3-5.6-7.4 .5-11.3 5.6zM1325.6 1653.6l11.5-4.8-8.2-5.6-11.5 4.8zM1224.3 1624.7l11.3-5.2-7.4 .9-11.3 5.2zM1343.4 1654.1l11.5-4.5-8.3-6-11.5 4.4zM1227.4 1621.2l11.2-4.8-7.4 1.3-11.2 4.8zM1361.2 1655.4l11.5-4.1-8.3-6.5-11.5 4zM1230.4 1618.5l11.1-4.4-7.3 1.7-11.1 4.4zM1379 1657.5l11.4-3.7-8.4-6.9-11.4 3.6zM1371.3 1651.7l11.4-3.6-8.3-6.4-11.4 3.6zM1240.1 1615l11.1-4-7.3 1.7-11.1 4zM1233.4 1616.6l11.1-4-7.3 2.1-11.1 4zM1389.1 1654.1l11.4-3.3-8.4-6.9-11.4 3.2zM1243.1 1613.4l11-3.6-7.3 2.1-11 3.6zM1399.1 1651.1l11.3-2.8-8.4-6.8-11.3 2.8zM1252.7 1610.6l11-3.2-7.3 2.1-11 3.2zM1416.8 1654.7l11.3-2.5-8.5-7.3-11.3 2.4zM1255.6 1609.5l10.9-2.2-7.3 3.1-10.9 2.2zM1426.7 1652.4l11.2-2.1-8.5-7.3-11.2 2zM1265.1 1607.4l10.9-1.9-7.3 3.1-10.9 1.9zM1436.5 1650.5l11.1-1.6-8.5-7.2-11.1 1.6zM1274.6 1605.6l10.8-1.5-7.3 3.1-10.8 1.5zM1446.3 1648.9l11.1-1.2-8.5-7.2-11.1 1.2zM1284.1 1604.2l10.8-1.1-7.4 3-10.8 1.1zM1456 1647.7l11-.9-8.5-7.2-11 .8zM1293.5 1603.2l10.7-.7-7.4 3-10.7 .8zM1457.8 1640.8l11-.4-8.5-6.7-10.9 .4zM1302.9 1602.5l10.7-.4-7.4 3-10.7 .4zM1467.4 1640.4l10.9-.1-8.5-6.7-10.9 0zM1319.2 1600.2l10.7 0-7.5 2.7-10.6 0zM1476.9 1640.3l10.8 .3-8.5-6.7-10.8-.3zM1328.5 1600.2l10.6 .4-7.5 2.6-10.6-.3zM1478.5 1634.9l10.8 .7-8.4-6.3-10.7-.7zM1344.7 1599l10.6 .7-7.6 2.3-10.5-.7zM1487.9 1635.6l10.7 1.1-8.4-6.3-10.7-1.1zM1480.1 1630.3l10.7 1.1-8.4-5.8-10.7-1.1zM1354 1599.6l10.5 1.1-7.6 2.3-10.5-1.1zM1489.5 1631.3l10.6 1.5-8.4-5.8-10.6-1.5zM1481.7 1626.5l10.6 1.5-8.4-5.4-10.6-1.5zM1370.2 1599.5l10.5 2.1-7.6 1.3-10.4-2zM1491 1627.9l10.5 1.9-8.4-5.4-10.5-1.9zM1483.2 1623.4l10.5 1.9-8.3-5-10.5-1.9zM1386.4 1600l10.4 2.4-7.7 .9-10.4-2.4zM1492.4 1625.1l10.5 2.2-8.3-4.9-10.5-2.2zM1484.7 1621.1l10.5 2.2-8.3-4.5-10.5-2.2zM1410 1601.1l10.4 2.8-7.8 .1-10.4-2.8zM1402.7 1601.2l10.4 2.8-7.8 .5-10.4-2.8zM1486.2 1619.5l10.4 2.6-8.2-4.1-10.4-2.6zM1478.5 1616.2l10.4 2.6-8.2-3.7-10.4-2.6zM1470.9 1613.4l10.4 2.6-8.2-3.3-10.4-2.6zM1463.4 1610.3l10.4 3.2-8.1-2.3-10.4-3.2zM1455.9 1608.2l10.4 3.2-8.1-1.9-10.4-3.2zM1448.4 1606.4l10.4 3.2-8-1.5-10.3-3.2zM1441 1605.1l10.3 3.2-8-1.1-10.3-3.2zM1433.6 1604.1l10.3 3.2-7.9-.7-10.3-3.2zM1426.3 1603.4l10.3 3.2-7.9-.3-10.3-3.1z"/>
<path fill="#ffb573" d="M1268 1644.3l11.6-6.2-7.9-2.8-11.5 6.1zM1260.7 1641.6l11.5-6.1-7.8-2.4-11.5 6.1zM1253.5 1639.4l11.5-6.1-7.8-2-11.5 6.1zM1246.3 1637.5l11.5-6.1-7.7-1.6-11.5 6.1zM1239.2 1636l11.5-6.1-7.7-1.1-11.4 6.1zM1292.9 1645.6l11.5-5.8-8-3.7-11.5 5.8zM1285.5 1642.2l11.5-5.8-8-3.3-11.5 5.8zM1278.2 1639.1l11.5-5.8-7.9-2.8-11.5 5.7zM1249.3 1630.9l11.4-5.7-7.7-1.1-11.4 5.7zM1242.2 1629.8l11.4-5.7-7.6-.7-11.4 5.6zM1235.2 1629.1l11.4-5.6-7.6-.3-11.4 5.6zM1318.1 1648.9l11.5-5.4-8.1-4.6-11.5 5.4zM1310.5 1644.6l11.5-5.4-8.1-4.1-11.5 5.4zM1238.2 1624.2l11.3-5.2-7.5 .1-11.3 5.2zM1231.2 1624.2l11.3-5.2-7.5 .5-11.3 5.2zM1335.8 1649l11.5-4.4-8.2-5.6-11.5 4.4zM1328.2 1644.4l11.5-4.4-8.2-5.1-11.5 4.4zM1241.1 1620l11.3-4.8-7.5 .5-11.2 4.8zM1234.2 1620.4l11.2-4.8-7.4 .9-11.2 4.8zM1353.5 1650l11.5-4-8.3-6-11.4 4zM1345.9 1644.9l11.4-4-8.2-5.6-11.4 4zM1244.1 1616.5l11.2-4.4-7.4 .9-11.2 4.4zM1237.2 1617.3l11.2-4.4-7.4 1.3-11.1 4.4zM1363.6 1646.2l11.4-3.6-8.3-6-11.4 3.6zM1247 1613.8l11.1-4-7.4 1.3-11.1 4zM1381.3 1648.3l11.4-3.2-8.3-6.4-11.4 3.2zM1249.9 1611.8l11.1-3.6-7.4 1.7-11 3.6zM1391.3 1645.3l11.3-2.8-8.4-6.4-11.3 2.8zM1259.5 1609l11-3.2-7.4 1.7-11 3.2zM1409 1648.4l11.3-2.4-8.4-6.8-11.3 2.4zM1401.2 1642.6l11.3-2.4-8.4-6.4-11.2 2.4zM1262.3 1608.2l10.9-2.8-7.4 2.1-10.9 2.8zM1418.9 1646.2l11.2-2-8.4-6.8-11.2 2zM1271.9 1605.5l10.9-1.9-7.4 2.7-10.9 1.9zM1428.7 1644.3l11.1-1.6-8.4-6.8-11.1 1.6zM1281.5 1603.7l10.9-1.5-7.4 2.7-10.8 1.5zM1438.4 1642.7l11.1-1.2-8.4-6.8-11.1 1.2zM1291 1602.3l10.8-1.1-7.4 2.7-10.8 1.1zM1448.1 1641.6l11-.8-8.4-6.8-11 .8zM1440.3 1635.8l11-.8-8.4-6.3-11 .8zM1300.4 1601.3l10.8-.7-7.4 2.7-10.7 .7zM1450 1635.1l10.9-.4-8.4-6.3-10.9 .4zM1316.8 1599l10.7-.4-7.5 2.3-10.7 .4zM1309.8 1600.6l10.7-.4-7.5 2.7-10.7 .4zM1459.5 1634.7l10.9 0-8.4-6.3-10.9 0zM1326.1 1598.7l10.7 0-7.5 2.3-10.7 0zM1469.1 1634.6l10.8 .3-8.4-6.3-10.8-.4zM1461.3 1629.3l10.8 .4-8.4-5.8-10.8-.4zM1335.5 1598.7l10.6 .4-7.5 2.3-10.6-.4zM1470.7 1629.6l10.7 .7-8.4-5.8-10.7-.7zM1351.8 1597.8l10.6 .7-7.6 1.9-10.6-.7zM1472.4 1625.5l10.7 1.1-8.4-5.4-10.7-1.1zM1368.1 1597.6l10.5 1.7-7.7 .9-10.5-1.7zM1361 1598.5l10.5 1.1-7.6 1.9-10.5-1.1zM1473.9 1622l10.6 1.5-8.3-5-10.6-1.5zM1384.5 1598.2l10.5 2.1-7.7 .5-10.5-2.1zM1377.3 1598.6l10.5 2.1-7.7 .9-10.5-2.1zM1475.5 1619.4l10.5 1.9-8.3-4.5-10.5-1.9zM1467.8 1615.7l10.5 1.9-8.2-4.1-10.5-1.9zM1408.1 1599.7l10.5 2.5-7.9-.3-10.4-2.4zM1400.8 1599.4l10.4 2.4-7.8 .1-10.4-2.4zM1393.6 1599.5l10.4 2.4-7.8 .5-10.4-2.4zM1477 1617.4l10.5 2.2-8.2-4.1-10.5-2.2zM1469.4 1614.2l10.5 2.2-8.2-3.7-10.4-2.2zM1461.8 1611.3l10.4 2.2-8.2-3.3-10.4-2.2zM1454.3 1608.8l10.4 2.2-8.1-2.9-10.4-2.2zM1446.8 1606.1l10.4 2.8-8.1-1.9-10.4-2.8zM1439.3 1604.4l10.4 2.8-8-1.5-10.4-2.8zM1431.9 1603l10.4 2.8-8-1.1-10.4-2.8zM1424.5 1602l10.4 2.8-7.9-.7-10.4-2.8zM1417.2 1601.4l10.4 2.8-7.9-.3-10.4-2.8z"/>
<path fill="#ffad73" d="M1270.9 1636.5l11.5-5.7-7.8-2.4-11.5 5.7zM1263.6 1634.2l11.5-5.7-7.8-2-11.5 5.7zM1256.4 1632.4l11.5-5.7-7.7-1.5-11.4 5.7zM1303.1 1640.8l11.5-5.4-8-3.7-11.5 5.4zM1295.7 1637.4l11.5-5.4-8-3.2-11.5 5.3zM1288.3 1634.3l11.5-5.3-7.9-2.8-11.4 5.3zM1281 1631.7l11.4-5.3-7.9-2.4-11.4 5.3zM1273.7 1629.5l11.4-5.3-7.8-1.9-11.4 5.3zM1266.5 1627.6l11.4-5.3-7.8-1.5-11.4 5.3zM1259.3 1626.2l11.4-5.3-7.7-1.1-11.4 5.3zM1252.2 1625.1l11.4-5.3-7.6-.7-11.3 5.2zM1245.2 1624.5l11.3-5.2-7.6-.3-11.3 5.2zM1320.7 1640.2l11.5-5-8.1-4.1-11.5 5zM1313.2 1636.3l11.5-5-8-3.6-11.4 4.9zM1255.1 1620.1l11.3-4.8-7.6-.3-11.3 4.8zM1248.1 1619.9l11.3-4.8-7.5 .1-11.3 4.8zM1338.3 1640.3l11.4-4-8.2-5.1-11.4 4zM1251 1616l11.2-4.4-7.5 .5-11.2 4.4zM1355.9 1641.2l11.4-3.6-8.2-5.5-11.4 3.6zM1253.9 1613l11.1-4-7.5 .9-11.1 4zM1373.6 1642.8l11.4-3.2-8.3-6-11.3 3.2zM1365.9 1637.8l11.3-3.2-8.2-5.5-11.3 3.2zM1263.6 1609.8l11.1-3.6-7.5 .9-11.1 3.6zM1256.7 1610.6l11.1-3.6-7.4 1.3-11.1 3.6zM1383.6 1639.9l11.3-2.8-8.3-5.9-11.3 2.8zM1266.4 1607.8l11-3.2-7.4 1.3-11 3.2zM1393.5 1637.2l11.2-2.4-8.3-5.9-11.2 2.4zM1276.1 1605.4l11-2.8-7.5 1.3-11 2.8zM1269.2 1606.6l11-2.8-7.4 1.7-10.9 2.8zM1411.1 1640.4l11.2-2-8.4-6.4-11.2 2zM1403.3 1635l11.2-2-8.3-5.9-11.2 2zM1285.7 1603.3l10.9-2.5-7.5 1.3-10.9 2.5zM1278.8 1604.5l10.9-2.5-7.4 1.7-10.9 2.5zM1420.9 1638.5l11.1-1.6-8.4-6.3-11.1 1.6zM1413.1 1633.1l11.1-1.6-8.3-5.9-11.1 1.6zM1288.4 1602.2l10.9-1.5-7.5 2.3-10.9 1.5zM1430.6 1637l11.1-1.2-8.4-6.3-11.1 1.2zM1422.9 1631.7l11.1-1.2-8.4-5.9-11.1 1.2zM1297.9 1600.8l10.8-1.1-7.5 2.3-10.8 1.1zM1432.5 1630.5l11-.8-8.4-5.9-11 .8zM1314.3 1598.5l10.8-.7-7.5 1.9-10.8 .7zM1307.3 1599.7l10.8-.7-7.5 2.3-10.8 .7zM1442.2 1629.8l10.9-.4-8.4-5.9-10.9 .4zM1323.7 1597.8l10.7-.4-7.6 1.9-10.7 .4zM1451.8 1629.4l10.9 0-8.4-5.8-10.9 0zM1444 1624.5l10.9 0-8.3-5.4-10.9 0zM1333.1 1597.5l10.7 0-7.6 1.9-10.7 0zM1453.5 1624.5l10.8 .4-8.3-5.4-10.8-.4zM1349.5 1596.6l10.6 .4-7.6 1.5-10.6-.4zM1342.5 1597.5l10.6 .4-7.6 1.9-10.6-.4zM1463 1624.8l10.7 .7-8.3-5.4-10.7-.8zM1455.2 1620.3l10.7 .8-8.3-5-10.7-.8zM1366 1596.5l10.6 1.4-7.7 .5-10.6-1.3zM1358.8 1597l10.6 .7-7.7 1.5-10.6-.7zM1464.6 1621l10.7 1.1-8.3-5-10.7-1.1zM1456.9 1616.9l10.7 1.1-8.3-4.5-10.7-1.1zM1382.4 1597l10.6 1.7-7.8 .1-10.5-1.7zM1375.2 1597.2l10.5 1.7-7.7 .5-10.5-1.7zM1466.3 1618l10.6 1.5-8.3-4.5-10.6-1.5zM1458.6 1614.3l10.6 1.5-8.2-4.1-10.6-1.5zM1451 1611.1l10.6 1.5-8.2-3.7-10.6-1.5zM1406.2 1598.9l10.5 2.1-7.9-.7-10.5-2.1zM1398.9 1598.3l10.5 2.1-7.8-.3-10.5-2.1zM1391.7 1598.1l10.5 2.1-7.8 .1-10.5-2.1zM1460.2 1612.5l10.5 1.9-8.2-3.7-10.5-1.9zM1452.7 1609.6l10.5 1.9-8.1-3.3-10.5-1.9zM1445.1 1607.1l10.5 1.9-8.1-2.9-10.5-1.9zM1437.6 1604.4l10.5 2.5-8.1-1.9-10.5-2.5zM1430.2 1602.6l10.5 2.5-8-1.5-10.5-2.5zM1422.8 1601.3l10.5 2.5-8-1.1-10.5-2.5zM1415.4 1600.3l10.5 2.5-7.9-.7-10.5-2.5z"/>
<path fill="#ffa473" d="M1305.7 1632.9l11.4-4.9-8-3.2-11.4 4.9zM1298.3 1629.9l11.4-4.9-7.9-2.8-11.4 4.9zM1291 1627.3l11.4-4.9-7.9-2.4-11.4 4.9zM1283.7 1625.1l11.4-4.9-7.8-1.9-11.4 4.9zM1276.5 1623.3l11.4-4.9-7.8-1.5-11.3 4.9zM1269.3 1621.9l11.3-4.9-7.7-1.1-11.3 4.9zM1262.2 1620.8l11.3-4.9-7.7-.7-11.3 4.8zM1330.7 1636.1l11.4-4-8.1-4.7-11.4 4zM1323.2 1632.3l11.4-4.6-8.1-3.6-11.4 4.5zM1315.8 1628.9l11.4-4.5-8-3.2-11.4 4.5zM1308.4 1625.9l11.4-4.5-8-2.8-11.4 4.5zM1279.3 1617.9l11.3-4.5-7.7-1.1-11.3 4.5zM1272.1 1616.9l11.3-4.5-7.7-.7-11.3 4.4zM1265 1616.2l11.3-4.4-7.6-.3-11.2 4.4zM1258 1615.9l11.2-4.4-7.6 .1-11.2 4.4zM1348.3 1636.6l11.4-3.6-8.2-5.1-11.4 3.6zM1340.7 1632.4l11.4-3.6-8.1-4.7-11.4 3.5zM1333.2 1628.6l11.4-3.5-8.1-4.2-11.3 3.5zM1274.9 1612.6l11.2-4-7.6-.3-11.2 4zM1267.8 1612.4l11.2-4-7.6 .1-11.2 4zM1260.8 1612.5l11.2-4-7.5 .5-11.1 4zM1358.3 1633.3l11.3-3.2-8.2-5.1-11.3 3.2zM1350.7 1629.1l11.3-3.2-8.1-4.6-11.3 3.1zM1277.6 1609.2l11.1-3.6-7.6 .1-11.1 3.6zM1270.6 1609.3l11.1-3.6-7.5 .5-11.1 3.6zM1375.9 1634.9l11.3-2.8-8.3-5.5-11.3 2.8zM1368.2 1630.3l11.3-2.8-8.2-5.1-11.3 2.8zM1280.4 1606.5l11.1-3.2-7.6 .6-11.1 3.2zM1273.4 1607l11.1-3.2-7.5 .9-11 3.2zM1385.8 1632.3l11.2-2.4-8.3-5.5-11.2 2.4zM1378.1 1627.7l11.2-2.4-8.2-5-11.2 2.4zM1283 1604.5l11-2.8-7.5 .9-11 2.8zM1395.6 1630.1l11.2-2-8.3-5.5-11.2 2zM1292.7 1602.4l11-2.5-7.5 .9-10.9 2.5zM1405.4 1628.2l11.1-1.6-8.3-5.5-11.1 1.6zM1302.3 1600.7l10.9-2.1-7.6 .9-10.9 2.1zM1295.3 1601.5l10.9-2.1-7.5 1.3-10.9 2.1zM1415.1 1626.7l11.1-1.2-8.3-5.4-11 1.2zM1311.8 1599.3l10.9-1.7-7.6 .9-10.8 1.7zM1304.8 1599.5l10.8-1.1-7.5 1.9-10.8 1.1zM1424.8 1625.6l11-.8-8.3-5.4-11 .8zM1321.3 1597.6l10.8-.7-7.6 1.5-10.8 .7zM1434.4 1624.9l10.9-.4-8.3-5.4-10.9 .4zM1426.7 1620.4l10.9-.4-8.3-5-10.9 .4zM1337.9 1596.5l10.8-.4-7.7 1.1-10.8 .4zM1330.8 1597l10.8-.4-7.6 1.5-10.7 .4zM1436.3 1620l10.9 0-8.3-5-10.8 0zM1347.3 1596.1l10.7 0-7.7 1.1-10.7 0zM1340.2 1596.6l10.7 0-7.6 1.5-10.7 0zM1445.8 1620l10.8 .4-8.3-5-10.8-.4zM1438.1 1615.9l10.8 .4-8.3-4.5-10.8-.4zM1363.8 1596l10.7 1-7.8 .2-10.7-1zM1356.7 1596.1l10.7 .4-7.7 1.1-10.6-.4zM1447.6 1616.3l10.7 .8-8.3-4.5-10.7-.8zM1439.9 1612.6l10.7 .8-8.2-4.1-10.7-.8zM1380.4 1596.6l10.6 1.4-7.8-.2-10.6-1.4zM1373.2 1596.3l10.6 1.4-7.8 .1-10.6-1.4zM1449.3 1613.3l10.7 1.1-8.2-4.1-10.6-1.1zM1441.7 1610l10.6 1.1-8.2-3.7-10.6-1.1zM1434.1 1607.1l10.6 1.1-8.1-3.3-10.6-1.1zM1426.6 1604.7l10.6 1.1-8.1-2.9-10.6-1.1zM1419.1 1602.5l10.6 1.1-8-2.5-10.6-1.1zM1411.7 1600.8l10.6 1.1-8-2-10.6-1.1zM1404.3 1598.9l10.6 1.7-7.9-1-10.6-1.7zM1397 1597.9l10.6 1.7-7.9-.6-10.6-1.7zM1389.7 1597.3l10.6 1.7-7.8-.3-10.6-1.7zM1443.4 1608.2l10.6 1.5-8.1-3.3-10.6-1.5zM1435.9 1605.7l10.6 1.5-8.1-2.9-10.6-1.5zM1428.4 1603.6l10.6 1.5-8-2.5-10.5-1.5zM1421 1601.3l10.5 2.1-8-1.5-10.5-2.1zM1413.6 1599.9l10.5 2.1-7.9-1.1-10.5-2.1z"/>
<path fill="#ff9c73" d="M1301 1623.3l11.4-4.5-7.9-2.3-11.3 4.5zM1293.7 1621.1l11.3-4.5-7.8-1.9-11.3 4.5zM1286.5 1619.3l11.3-4.5-7.8-1.5-11.3 4.5zM1325.8 1625.2l11.3-4.1-8-3.2-11.3 4.1zM1318.3 1622.3l11.3-4.1-8-2.8-11.3 4.1zM1311 1619.7l11.3-4.1-7.9-2.3-11.3 4.1zM1303.6 1617.5l11.3-4.1-7.9-1.9-11.3 4.1zM1296.4 1615.7l11.3-4.1-7.8-1.5-11.2 4.1zM1289.2 1614.3l11.2-4.1-7.8-1.1-11.2 4.1zM1282 1613.3l11.2-4.1-7.7-.7-11.2 4zM1343.2 1625.3l11.3-3.1-8.1-4.2-11.3 3.1zM1335.7 1621.9l11.3-3.1-8-3.8-11.3 3.1zM1328.3 1619l11.3-3.7-8-2.7-11.3 3.7zM1299 1611.1l11.2-3.7-7.8-1.1-11.2 3.7zM1291.8 1610.1l11.2-3.7-7.7-.7-11.2 3.6zM1284.7 1609.4l11.2-3.6-7.7-.3-11.1 3.6zM1360.6 1626.1l11.3-2.8-8.2-4.6-11.2 2.7zM1353.1 1622.4l11.2-2.7-8.1-4.2-11.2 2.7zM1345.6 1619l11.2-2.7-8.1-3.8-11.2 2.7zM1294.5 1606.6l11.1-3.3-7.7-.2-11.1 3.2zM1287.4 1606.4l11.1-3.2-7.6 .2-11.1 3.2zM1370.5 1623.6l11.2-2.4-8.2-4.6-11.2 2.3zM1362.9 1619.8l11.2-2.3-8.1-4.2-11.2 2.3zM1304.2 1604.1l11.1-2.9-7.7-.2-11 2.9zM1297.1 1603.9l11-2.9-7.6 .2-11 2.9zM1290.1 1604l11-2.9-7.6 .6-11 2.8zM1387.9 1625.5l11.2-2-8.2-5-11.1 2zM1380.3 1621.4l11.1-2-8.2-4.6-11.1 1.9zM1306.8 1601.8l11-2.5-7.7 .2-11 2.5zM1299.7 1601.9l11-2.5-7.6 .6-11 2.5zM1397.7 1623.7l11.1-1.6-8.2-5-11.1 1.6zM1390.1 1619.6l11.1-1.6-8.2-4.6-11.1 1.5zM1316.4 1600l10.9-2.1-7.7 .2-10.9 2.1zM1309.3 1600.2l10.9-2.1-7.6 .6-10.9 2.1zM1407.5 1622.2l11-1.2-8.3-5-11 1.2zM1399.8 1618.1l11-1.2-8.2-4.6-11 1.1zM1326 1598.6l10.9-1.7-7.7 .2-10.9 1.7zM1318.9 1598.8l10.9-1.7-7.6 .6-10.9 1.7zM1417.1 1621.1l11-.8-8.3-5-11 .8zM1409.5 1617l11-.8-8.2-4.6-11 .8zM1335.5 1597.6l10.8-1.3-7.7 .2-10.8 1.3zM1328.4 1597.7l10.8-1.3-7.7 .6-10.8 1.3zM1419.1 1616.3l10.9-.4-8.2-4.6-10.9 .4zM1411.5 1612.6l10.9-.4-8.2-4.1-10.9 .4zM1352.2 1597.2l10.8-.9-7.8-.2-10.8 .9zM1345 1596.9l10.8-.9-7.7 .2-10.8 1zM1428.6 1615.9l10.8 0-8.2-4.5-10.8 0zM1421 1612.2l10.8 0-8.2-4.1-10.8 0zM1413.4 1609l10.8 0-8.1-3.7-10.8 0zM1368.9 1597.4l10.8 0-7.8-1.2-10.7 0zM1361.7 1596.8l10.7 0-7.8-.8-10.7 0zM1354.4 1596l10.7 0-7.7 .8-10.7 0zM1430.5 1612.2l10.8 .4-8.2-4.1-10.8-.4zM1422.9 1609l10.8 .4-8.2-3.7-10.8-.4zM1415.4 1606.1l10.8 .4-8.1-3.3-10.7-.4zM1407.9 1603.6l10.7 .4-8.1-2.9-10.7-.4zM1400.4 1601.5l10.7 .4-8-2.4-10.7-.4zM1393 1599.8l10.7 .4-8-2-10.7-.4zM1385.6 1598.4l10.7 .4-7.9-1.6-10.7-.4zM1378.3 1597.4l10.7 .4-7.9-1.2-10.7-.4zM1371 1596.2l10.7 1-7.8-.2-10.7-1zM1432.3 1609.3l10.7 .8-8.2-3.7-10.7-.8zM1424.8 1606.4l10.7 .8-8.1-3.3-10.7-.8zM1417.3 1603.9l10.7 .8-8.1-2.9-10.7-.8zM1409.8 1601.8l10.7 .8-8-2.4-10.7-.8zM1402.4 1600.1l10.7 .8-8-2-10.7-.8zM1395 1598.8l10.7 .8-7.9-1.6-10.6-.8zM1387.7 1597.2l10.6 1.4-7.9-.6-10.6-1.4z"/>
<path fill="#ff9373" d="M1320.9 1616.4l11.3-3.7-7.9-2.3-11.2 3.7zM1313.5 1614.2l11.2-3.7-7.9-1.9-11.2 3.7zM1306.3 1612.5l11.2-3.7-7.8-1.5-11.2 3.7zM1338.1 1616.1l11.2-2.7-8-3.3-11.2 2.7zM1330.7 1613.5l11.2-3.3-8-2.3-11.2 3.3zM1323.4 1611.4l11.2-3.3-7.9-1.9-11.2 3.3zM1316.1 1609.6l11.2-3.3-7.8-1.5-11.1 3.3zM1308.8 1608.2l11.1-3.3-7.8-1.1-11.1 3.3zM1301.6 1607.2l11.1-3.3-7.7-.6-11.1 3.3zM1355.4 1616.5l11.2-2.3-8.1-3.7-11.2 2.3zM1348 1613.6l11.2-2.3-8-3.3-11.1 2.3zM1340.6 1611l11.1-2.9-8-2.3-11.1 2.3zM1333.2 1608.9l11.1-2.9-7.9-1.9-11.1 2.9zM1325.9 1607.1l11.1-2.9-7.9-1.5-11.1 2.9zM1318.6 1605.7l11.1-2.9-7.8-1-11.1 2.9zM1311.4 1604.7l11.1-2.9-7.8-.6-11.1 2.9zM1372.8 1617.7l11.1-1.9-8.1-4.2-11.1 1.9zM1365.2 1614.3l11.1-1.9-8.1-3.7-11.1 1.9zM1357.8 1611.4l11.1-1.9-8-3.3-11.1 1.9zM1350.3 1608.9l11.1-1.9-8-2.9-11.1 1.9zM1342.9 1606.7l11.1-2.5-7.9-1.9-11.1 2.5zM1335.6 1605l11.1-2.5-7.9-1.5-11 2.5zM1328.3 1603.6l11-2.5-7.8-1-11 2.5zM1321.1 1602.6l11-2.5-7.8-.6-11 2.5zM1313.9 1602l11-2.5-7.7-.2-11 2.5zM1382.5 1615.8l11.1-1.5-8.2-4.2-11.1 1.5zM1375 1612.5l11.1-1.5-8.1-3.7-11.1 1.5zM1367.5 1609.6l11.1-1.5-8.1-3.3-11 1.5zM1360 1607.1l11-1.5-8-2.9-11 1.5zM1352.6 1605l11-1.5-7.9-2.5-11 1.5zM1345.3 1603.2l11-2.1-7.9-1.4-11 2.1zM1338 1601.9l11-2.1-7.8-1-11 2.1zM1330.8 1600.9l11-2.1-7.8-.6-11 2.1zM1323.6 1600.3l11-2.1-7.7-.2-10.9 2.1zM1392.2 1614.4l11-1.1-8.2-4.1-11 1.1zM1384.7 1611.1l11-1.1-8.1-3.7-11 1.1zM1377.2 1608.2l11-1.1-8.1-3.3-11 1.1zM1369.7 1605.7l11-1.1-8-2.9-11 1.1zM1362.3 1603.6l11-1.1-8-2.5-11 1.1zM1354.9 1601.8l11-1.1-7.9-2-10.9 1.1zM1347.6 1600.5l10.9-1.7-7.9-1-10.9 1.7zM1340.4 1599.5l10.9-1.7-7.8-.6-10.9 1.7zM1333.2 1598.9l10.9-1.7-7.7-.2-10.9 1.7zM1401.9 1613.3l11-.8-8.2-4.1-10.9 .8zM1394.3 1610l10.9-.8-8.1-3.7-10.9 .7zM1386.8 1607.1l10.9-.7-8.1-3.3-10.9 .7zM1379.3 1604.6l10.9-.7-8-2.9-10.9 .7zM1371.9 1602.5l10.9-.7-8-2.5-10.9 .7zM1364.5 1600.8l10.9-.7-7.9-2-10.9 .7zM1357.2 1599.4l10.9-.7-7.9-1.6-10.9 .7zM1349.9 1598.4l10.9-1.3-7.8-.6-10.9 1.3zM1342.7 1597.8l10.9-1.3-7.8-.2-10.8 1.3zM1403.9 1609.3l10.9-.4-8.1-3.7-10.9 .4zM1396.4 1606.4l10.9-.4-8.1-3.3-10.9 .4zM1388.9 1603.9l10.9-.4-8-2.9-10.9 .4zM1381.5 1601.8l10.9-.4-8-2.4-10.8 .3zM1374.1 1600.1l10.8-.3-7.9-2-10.8 .3zM1366.7 1598.7l10.8-.3-7.9-1.6-10.8 .3zM1359.4 1597.8l10.8-.3-7.8-1.2-10.8 .3zM1405.9 1606.1l10.8 0-8.1-3.3-10.8 0zM1398.4 1603.6l10.8 0-8-2.9-10.8 0zM1391 1601.5l10.8 0-8-2.4-10.8 0zM1383.6 1599.7l10.8 0-7.9-2-10.8 0zM1376.2 1598.4l10.8 0-7.9-1.6-10.8 0z"/>
<path d="M1293.4 1831.5Q1258.7 1785.7 1225.1 1756.3Q1192.3 1727.7 1160.8 1714.9Q1130.2 1702.4 1100.9 1704.9Q1072.7 1707.2 1045.9 1723.5Q1020 1739.2 995.7 1767.8M1298.8 1826.6Q1264.1 1780.9 1230.4 1751.6Q1197.6 1723.1 1166 1710.3Q1135.4 1697.9 1106.1 1700.4Q1077.7 1702.9 1050.9 1719.2Q1025 1735 1000.6 1763.6M1304.3 1821.8Q1269.5 1776.2 1235.7 1747Q1202.9 1718.5 1171.2 1705.8Q1140.5 1693.5 1111.2 1696.1Q1082.8 1698.6 1055.9 1715Q1029.9 1730.8 1005.4 1759.5M1309.6 1817.1Q1274.9 1771.6 1241.1 1742.4Q1208.2 1714.1 1176.5 1701.4Q1145.7 1689.2 1116.3 1691.8Q1087.8 1694.4 1060.8 1710.9Q1034.8 1726.7 1010.2 1755.5M1315 1812.5Q1280.3 1767.2 1246.6 1738.2Q1213.8 1710 1182.1 1697.3Q1151.4 1685.1 1122 1687.6Q1093.6 1690.1 1066.6 1706.4Q1040.5 1722.1 1015.9 1750.5M1320.4 1808Q1285.9 1763.1 1252.4 1734.3Q1219.7 1706.2 1188.2 1693.5Q1157.7 1681.2 1128.4 1683.5Q1100 1685.7 1073.1 1701.5Q1047.1 1716.8 1022.5 1744.7M1325.8 1803.6Q1291.5 1759.2 1258.2 1730.5Q1225.7 1702.6 1194.3 1689.8Q1163.9 1677.4 1134.7 1679.4Q1106.5 1681.3 1079.6 1696.7Q1053.6 1711.6 1029.1 1738.9M1331.1 1799.3Q1297 1755.1 1263.7 1726.6Q1231.3 1698.8 1200 1686Q1169.6 1673.6 1140.4 1675.5Q1112.2 1677.3 1085.3 1692.5Q1059.4 1707.2 1034.8 1734.3M1336.5 1795.2Q1302.5 1751.3 1269.5 1723Q1237.2 1695.3 1206.1 1682.5Q1175.8 1670 1146.8 1671.6Q1118.7 1673.2 1091.8 1688Q1065.9 1702.3 1041.4 1728.8M1341.8 1791.1Q1308.1 1747.7 1275.2 1719.4Q1243.2 1691.9 1212.2 1679.1Q1182.1 1666.5 1153.1 1667.9Q1125.1 1669.2 1098.4 1683.5Q1072.5 1697.4 1048 1723.3M1347.1 1787.1Q1313.6 1744.1 1280.9 1716Q1249.1 1688.7 1218.3 1675.7Q1188.3 1663.1 1159.5 1664.2Q1131.6 1665.3 1104.9 1679.2Q1079.1 1692.7 1054.6 1718M1352.4 1783.2Q1319 1740.5 1286.4 1712.5Q1254.7 1685.3 1223.9 1672.3Q1194 1659.7 1165.2 1660.7Q1137.3 1661.7 1110.6 1675.4Q1084.9 1688.7 1060.4 1713.8M1357.7 1779.5Q1324.6 1737.1 1292.2 1709.3Q1260.6 1682.2 1230 1669.2Q1200.2 1656.6 1171.5 1657.3Q1143.7 1658 1117.2 1671.3Q1091.5 1684.1 1067 1708.7M1363 1775.8Q1330.1 1733.8 1297.9 1706.2Q1266.5 1679.3 1236 1666.2Q1206.4 1653.5 1177.9 1653.9Q1150.2 1654.4 1123.7 1667.3Q1098.1 1679.7 1073.7 1703.7M1368.3 1772.2Q1335.6 1730.6 1303.6 1703.2Q1272.4 1676.4 1242.1 1663.3Q1212.6 1650.5 1184.2 1650.7Q1156.7 1650.9 1130.2 1663.4Q1104.7 1675.4 1080.3 1698.8M1373.6 1768.8Q1341.1 1727.5 1309.3 1700.3Q1278.3 1673.6 1248.2 1660.5Q1218.8 1647.6 1190.6 1647.6Q1163.1 1647.5 1136.8 1659.6Q1111.3 1671.2 1087 1694.1M1378.8 1765.4Q1346.4 1724.4 1314.7 1697.2Q1283.8 1670.7 1253.7 1657.5Q1224.5 1644.7 1196.3 1644.6Q1168.8 1644.4 1142.5 1656.2Q1117 1667.7 1092.7 1690.3M1384.1 1762.1Q1351.9 1721.5 1320.4 1694.5Q1289.7 1668.2 1259.8 1654.9Q1230.7 1642 1202.6 1641.6Q1175.3 1641.2 1149.1 1652.7Q1123.7 1663.7 1099.4 1685.8M1389.3 1759Q1357.4 1718.8 1326.1 1691.9Q1295.5 1665.7 1265.8 1652.4Q1236.9 1639.4 1208.9 1638.8Q1181.8 1638.2 1155.6 1649.2Q1130.3 1659.8 1106.1 1681.4M1394.5 1755.9Q1362.8 1716.1 1331.7 1689.4Q1301.4 1663.3 1271.9 1650Q1243.1 1637 1215.3 1636.1Q1188.2 1635.2 1162.2 1645.8Q1136.9 1656.1 1112.8 1677.1M1399.7 1753Q1368.2 1713.5 1337.4 1687Q1307.2 1661.1 1277.9 1647.7Q1249.3 1634.6 1221.6 1633.5Q1194.7 1632.4 1168.7 1642.6Q1143.6 1652.4 1119.5 1672.9M1404.9 1750.1Q1373.7 1711 1343 1684.7Q1313.1 1658.9 1283.9 1645.5Q1255.5 1632.3 1227.9 1631Q1201.1 1629.6 1175.3 1639.4Q1150.2 1648.9 1126.2 1668.8M1410.1 1747.4Q1379.1 1708.7 1348.7 1682.5Q1318.9 1656.9 1289.9 1643.3Q1261.6 1630.2 1234.2 1628.6Q1207.6 1627 1181.9 1636.4Q1156.9 1645.5 1133 1664.8M1415.3 1744.7Q1384.5 1706.4 1354.3 1680.3Q1324.7 1654.9 1295.9 1641.3Q1267.8 1628.1 1240.5 1626.3Q1214 1624.5 1188.4 1633.4Q1163.6 1642.2 1139.7 1661M1420.4 1742.1Q1389.9 1704.2 1359.9 1678.3Q1330.5 1653 1301.9 1639.4Q1274 1626.1 1246.9 1624.1Q1220.5 1622 1195 1630.6Q1170.2 1639 1146.4 1657.3M1425.6 1739.7Q1395.1 1702 1365.2 1676.2Q1336 1651 1307.4 1637.4Q1279.6 1624.1 1252.5 1621.9Q1226.2 1619.8 1200.7 1628.2Q1176 1636.4 1152.2 1654.4M1430.7 1737.3Q1400.5 1700 1370.8 1674.4Q1341.8 1649.3 1313.4 1635.7Q1285.7 1622.3 1258.8 1619.9Q1232.6 1617.6 1207.3 1625.6Q1182.6 1633.4 1158.9 1650.9M1435.8 1735.1Q1405.8 1698.1 1376.4 1672.6Q1347.6 1647.7 1319.4 1634.1Q1291.9 1620.7 1265.1 1618Q1239 1615.5 1213.8 1623.1Q1189.3 1630.5 1165.7 1647.5M1440.9 1732.9Q1411.2 1696.3 1381.9 1671Q1353.3 1646.3 1325.3 1632.5Q1298 1619.1 1271.4 1616.3Q1245.5 1613.5 1220.4 1620.7Q1196 1627.8 1172.4 1644.2M1446 1730.9Q1416.5 1694.6 1387.5 1669.5Q1359.1 1644.9 1331.3 1631.1Q1304.1 1617.7 1277.7 1614.6Q1251.9 1611.6 1226.9 1618.4Q1202.6 1625.1 1179.2 1641.1M1451.1 1728.9Q1421.8 1693 1393 1668Q1364.8 1643.6 1337.2 1629.8Q1310.3 1616.3 1284 1613Q1258.4 1609.8 1233.5 1616.3Q1209.3 1622.6 1186 1638.1M1456.1 1727Q1427.1 1691.5 1398.6 1666.7Q1370.6 1642.4 1343.2 1628.6Q1316.4 1615.1 1290.3 1611.5Q1264.8 1608.1 1240.1 1614.2Q1216 1620.2 1192.7 1635.2M1461.2 1725.3Q1432.4 1690.1 1404.1 1665.5Q1376.3 1641.3 1349.1 1627.5Q1322.5 1613.9 1296.5 1610.2Q1271.2 1606.5 1246.6 1612.3Q1222.7 1617.9 1199.5 1632.4M1466.2 1723.6Q1437.7 1688.8 1409.6 1664.3Q1382 1640.4 1355 1626.4Q1328.6 1612.8 1302.8 1608.9Q1277.6 1605.1 1253.2 1610.5Q1229.4 1615.7 1206.3 1629.7M1471.2 1722Q1435.9 1679 1401.3 1651.9Q1367.6 1625.4 1334.7 1614.2Q1302.7 1603.3 1271.8 1606.8Q1241.9 1610.2 1213.1 1627.1M1476.2 1720.5Q1441.3 1678 1406.9 1651Q1373.4 1624.7 1340.8 1613.3Q1309 1602.3 1278.3 1605.4Q1248.5 1608.4 1219.9 1624.7M1481.2 1719.2Q1446.5 1677.1 1412.5 1650.2Q1379.2 1624 1346.8 1612.5Q1315.3 1601.3 1284.8 1604Q1255.2 1606.7 1226.7 1622.4M1486.2 1717.9Q1452 1676.4 1418.3 1649.8Q1385.5 1623.8 1353.5 1612Q1322.3 1600.6 1292.1 1602.8Q1262.8 1604.8 1234.5 1619.6M1491.1 1716.7Q1457.2 1675.7 1423.9 1649.2Q1391.3 1623.3 1359.5 1611.4Q1328.6 1599.9 1298.6 1601.6Q1269.4 1603.4 1241.3 1617.6M1496.1 1715.6Q1462.5 1675 1429.4 1648.7Q1397.1 1623 1365.6 1611Q1334.9 1599.3 1305 1600.7Q1276.1 1602 1248.1 1615.6M1501 1714.6Q1467.7 1674.5 1434.9 1648.3Q1402.9 1622.7 1371.6 1610.6Q1341.1 1598.8 1311.5 1599.8Q1282.7 1600.7 1254.9 1613.8M1505.9 1713.7Q1472.9 1674 1440.4 1647.9Q1408.7 1622.5 1377.6 1610.3Q1347.4 1598.3 1318 1599Q1289.4 1599.6 1261.7 1612.1M1510.8 1712.9Q1478.1 1673.6 1445.9 1647.7Q1414.5 1622.4 1383.7 1610.1Q1353.6 1598 1324.4 1598.3Q1296 1598.6 1268.5 1610.5M1515.7 1712.2Q1483.3 1673.3 1451.4 1647.6Q1420.2 1622.5 1389.7 1610Q1359.9 1597.8 1330.9 1597.8Q1302.6 1597.7 1275.3 1609.1M1520.6 1711.6Q1488.5 1673.1 1456.9 1647.6Q1426 1622.6 1395.7 1610Q1366.1 1597.7 1337.3 1597.3Q1309.3 1596.9 1282.1 1607.7M1525.4 1711Q1493.8 1673.2 1462.6 1647.9Q1432.2 1623.1 1402.2 1610.3Q1373.1 1597.9 1344.6 1597Q1316.9 1596.1 1290 1606.1M1530.3 1710.6Q1499 1673.2 1468.1 1648Q1437.9 1623.4 1408.2 1610.5Q1379.3 1598 1351 1596.8Q1323.5 1595.5 1296.8 1605M1535.1 1710.3Q1504.1 1673.3 1473.5 1648.3Q1443.6 1623.8 1414.2 1610.8Q1385.5 1598.2 1357.5 1596.6Q1330.2 1595.1 1303.6 1604.1M1539.9 1710Q1509.2 1673.5 1478.9 1648.6Q1449.3 1624.3 1420.1 1611.3Q1391.7 1598.5 1363.9 1596.6Q1336.8 1594.8 1310.4 1603.2M1544.7 1709.9Q1514.3 1673.8 1484.3 1649.1Q1454.9 1624.9 1426.1 1611.8Q1397.9 1598.9 1370.3 1596.7Q1343.4 1594.6 1317.2 1602.5M1549.4 1709.8Q1519.5 1674.3 1490 1649.8Q1461.1 1625.9 1432.6 1612.6Q1404.8 1599.7 1377.6 1597Q1351 1594.4 1325.1 1601.6M1554.2 1709.8Q1524.6 1674.7 1495.4 1650.4Q1466.7 1626.7 1438.5 1613.3Q1411 1600.3 1384 1597.3Q1357.6 1594.4 1331.9 1601.1M1558.9 1709.9Q1529.7 1675.3 1500.7 1651.2Q1472.4 1627.5 1444.4 1614.1Q1417.1 1601 1390.3 1597.8Q1364.2 1594.6 1338.7 1600.8M1563.6 1710.1Q1534.7 1675.9 1506.1 1652Q1478 1628.5 1450.3 1615Q1423.3 1601.8 1396.7 1598.3Q1370.8 1594.8 1345.5 1600.6M1568.3 1710.4Q1539.9 1676.8 1511.7 1653.1Q1484.1 1629.9 1456.8 1616.3Q1430.2 1603 1404 1599.1Q1378.4 1595.2 1353.4 1600.2M1573 1710.8Q1544.9 1677.6 1517 1654.1Q1489.7 1631 1462.7 1617.4Q1436.3 1604.1 1410.3 1599.8Q1385 1595.7 1360.2 1600.3M1577.7 1711.3Q1549.9 1678.5 1522.3 1655.1Q1495.2 1632.2 1468.5 1618.6Q1442.4 1605.2 1416.7 1600.7Q1391.6 1596.3 1367 1600.4M1582.3 1711.9Q1554.8 1679.5 1527.6 1656.3Q1500.8 1633.6 1474.4 1619.8Q1448.5 1606.4 1423.1 1601.7Q1398.2 1597 1373.8 1600.7M1587 1712.5Q1559.9 1680.7 1533.1 1657.8Q1506.8 1635.3 1480.8 1621.5Q1455.3 1608 1430.3 1602.9Q1405.8 1597.9 1381.7 1600.9M1591.6 1713.3Q1556.1 1671.5 1520.9 1645.1Q1486.7 1619.4 1453.1 1608.5Q1420.4 1598 1388.5 1601.5M1596.2 1714.1Q1561.1 1672.9 1526.4 1646.7Q1492.5 1621.1 1459.2 1610Q1426.9 1599.2 1395.3 1602.1M1600.8 1715Q1566.3 1674.6 1532.2 1648.6Q1498.9 1623.2 1466.2 1611.8Q1434.3 1600.7 1403.2 1602.8M1605.3 1716Q1571.3 1676.1 1537.6 1650.3Q1504.7 1625.1 1472.3 1613.4Q1440.8 1602.1 1410 1603.7M1609.9 1717.1Q1576.5 1678 1543.4 1652.4Q1511.1 1627.4 1479.2 1615.5Q1448.2 1603.9 1417.9 1604.7M1614.4 1718.3Q1581.4 1679.7 1548.7 1654.3Q1516.8 1629.4 1485.3 1617.3Q1454.7 1605.5 1424.6 1605.9M1618.9 1719.5Q1586.4 1681.5 1554.1 1656.2Q1522.5 1631.5 1491.4 1619.3Q1461.1 1607.3 1431.4 1607.2M1623.4 1720.9Q1591.5 1683.6 1559.8 1658.6Q1528.9 1634.2 1498.3 1621.6Q1468.5 1609.4 1439.3 1608.6M1627.9 1722.3Q1596.4 1685.5 1565.1 1660.7Q1534.6 1636.5 1504.4 1623.8Q1475 1611.4 1446 1610.2M1632.3 1723.8Q1601.5 1687.8 1570.9 1663.3Q1540.9 1639.3 1511.3 1626.4Q1482.4 1613.8 1453.9 1611.9M1636.8 1725.4Q1606.3 1689.9 1576.1 1665.6Q1546.6 1641.8 1517.3 1628.8Q1488.8 1616 1460.7 1613.7M1641.2 1727.1Q1611.4 1692.4 1581.8 1668.3Q1552.8 1644.8 1524.2 1631.6Q1496.1 1618.7 1468.6 1615.7M1645.6 1728.8Q1616.2 1694.6 1587.1 1670.8Q1558.5 1647.5 1530.2 1634.1Q1502.5 1621.1 1475.3 1617.8M1650 1730.7Q1621.3 1697.3 1592.7 1673.7Q1564.7 1650.7 1537 1637.2Q1509.9 1624 1483.1 1620.1M1654.3 1732.6Q1626 1699.7 1597.9 1676.4Q1570.3 1653.5 1543 1640Q1516.2 1626.7 1489.8 1622.4M1658.7 1734.6Q1631 1702.5 1603.5 1679.5Q1576.5 1656.9 1549.8 1643.2Q1523.6 1629.9 1497.7 1625.1M1663 1736.7Q1635.8 1705.1 1608.7 1682.3Q1582.1 1659.9 1555.7 1646.2Q1529.9 1632.8 1504.4 1627.6M1667.3 1738.8Q1640.7 1708 1614.3 1685.6Q1588.3 1663.5 1562.5 1649.7Q1537.2 1636.2 1512.2 1630.6M1671.6 1741.1Q1645.7 1711 1619.8 1688.9Q1594.4 1667.2 1569.3 1653.3Q1544.5 1639.7 1520.1 1633.7M1675.9 1743.4Q1650.4 1713.8 1625 1692Q1600 1670.5 1575.2 1656.6Q1550.8 1642.9 1526.7 1636.6M1680.1 1745.8Q1655.3 1717 1630.5 1695.5Q1606.1 1674.4 1581.9 1660.4Q1558.1 1646.7 1534.6 1640M1684.4 1748.3Q1659.9 1720 1635.6 1698.7Q1611.6 1677.8 1587.8 1663.9Q1564.4 1650.2 1541.2 1643.2M1688.6 1750.8Q1664.8 1723.3 1641.1 1702.4Q1617.7 1681.9 1594.5 1667.9Q1571.6 1654.2 1549 1646.9M1692.8 1753.5Q1658.2 1713.4 1623.7 1687.5Q1590.1 1662.3 1556.8 1650.7M1697 1756.2Q1663 1716.8 1629.2 1691.2Q1596.1 1666.1 1563.4 1654.3M1701.1 1758.9Q1668.1 1720.7 1635.2 1695.4Q1603 1670.7 1571.2 1658.5M1705.3 1761.8Q1673.2 1724.7 1641.2 1699.8Q1610 1675.4 1579 1662.8M1709.4 1764.7Q1678.3 1728.8 1647.2 1704.2Q1616.9 1680.2 1586.8 1667.2M1713.5 1767.8Q1683 1732.5 1652.6 1708.2Q1622.8 1684.5 1593.3 1671.3M1717.6 1770.8Q1688 1736.7 1658.6 1712.9Q1629.7 1689.5 1601.1 1676.1M1293.4 1831.5Q1340.7 1788.2 1387.2 1760.2Q1432.8 1732.8 1477.2 1720.3Q1520.7 1708 1562.7 1710.1Q1603.6 1712.1 1642.9 1727.8Q1681.1 1742.9 1717.6 1770.8M1288.8 1825.5Q1336.1 1782.3 1382.5 1754.4Q1428.1 1727.1 1472.5 1714.6Q1515.9 1702.4 1558 1704.6Q1598.9 1706.7 1638.2 1722.3Q1676.4 1737.6 1712.9 1765.5M1284.2 1819.6Q1331.5 1776.5 1377.9 1748.7Q1423.4 1721.5 1467.8 1709.1Q1511.2 1697 1553.2 1699.2Q1594.2 1701.3 1633.5 1717.1Q1671.8 1732.3 1708.2 1760.3M1279.6 1813.9Q1326.8 1770.9 1373.2 1743.2Q1418.7 1716 1463.1 1703.7Q1506.5 1691.7 1548.5 1694Q1589.5 1696.2 1628.8 1711.9Q1667.1 1727.2 1703.6 1755.3M1275.1 1808.3Q1322.2 1765.5 1368.6 1737.8Q1414.1 1710.7 1458.5 1698.5Q1501.8 1686.5 1543.9 1688.9Q1584.8 1691.1 1624.2 1706.9Q1662.4 1722.3 1698.9 1750.3M1270.5 1802.9Q1317.6 1760.2 1364 1732.6Q1409.4 1705.6 1453.8 1693.4Q1497.2 1681.5 1539.2 1683.9Q1580.1 1686.2 1619.5 1702.1Q1657.8 1717.5 1694.3 1745.5M1266 1797.7Q1313.1 1755 1359.4 1727.6Q1404.8 1700.6 1449.1 1688.5Q1492.5 1676.7 1534.5 1679.1Q1575.4 1681.5 1614.8 1697.4Q1653.1 1712.8 1689.7 1740.9M1261.5 1792.6Q1308.5 1750 1354.8 1722.6Q1400.2 1695.8 1444.5 1683.7Q1487.8 1672 1529.8 1674.4Q1570.8 1676.9 1610.2 1692.8Q1648.5 1708.2 1685 1736.3M1257 1787.6Q1304 1745.1 1350.2 1717.9Q1395.6 1691.1 1439.9 1679.1Q1483.2 1667.4 1525.2 1669.9Q1566.1 1672.4 1605.5 1688.3Q1643.8 1703.8 1680.4 1732M1252.5 1782.8Q1299.4 1740.4 1345.6 1713.2Q1391 1686.5 1435.3 1674.6Q1478.6 1663 1520.6 1665.5Q1561.5 1668 1600.9 1684Q1639.2 1699.5 1675.8 1727.7M1248 1778.1Q1294.9 1735.9 1341.1 1708.8Q1386.4 1682.1 1430.7 1670.3Q1473.9 1658.7 1515.9 1661.3Q1556.9 1663.8 1596.3 1679.8Q1634.6 1695.4 1671.2 1723.6M1243.6 1773.6Q1290.4 1731.5 1336.6 1704.4Q1381.8 1677.9 1426.1 1666.1Q1469.3 1654.6 1511.3 1657.2Q1552.2 1659.8 1591.7 1675.8Q1630 1691.4 1666.6 1719.6M1239.1 1769.3Q1285.9 1727.2 1332 1700.2Q1377.3 1673.8 1421.5 1662Q1464.7 1650.6 1506.7 1653.2Q1547.6 1655.9 1587.1 1671.9Q1625.4 1687.5 1662 1715.7M1234.7 1765.1Q1281.5 1723.1 1327.5 1696.2Q1372.7 1669.8 1416.9 1658.1Q1460.2 1646.7 1502.1 1649.4Q1543 1652.1 1582.5 1668.1Q1620.8 1683.8 1657.5 1712M1230.3 1761Q1277 1719.1 1323.1 1692.3Q1368.2 1666 1412.4 1654.4Q1455.6 1643 1497.6 1645.7Q1538.4 1648.4 1577.9 1664.5Q1616.2 1680.2 1652.9 1708.4M1225.9 1757.1Q1272.6 1715.3 1318.6 1688.6Q1363.7 1662.3 1407.9 1650.7Q1451 1639.4 1493 1642.2Q1533.9 1644.9 1573.3 1661Q1611.6 1676.7 1648.4 1704.9M1221.6 1753.3Q1268.2 1711.6 1314.1 1685Q1359.2 1658.8 1403.4 1647.3Q1446.5 1636 1488.4 1638.8Q1529.3 1641.5 1568.7 1657.7Q1607.1 1673.3 1643.8 1701.5M1217.2 1749.7Q1263.8 1708.1 1309.7 1681.5Q1354.8 1655.4 1398.9 1643.9Q1442 1632.7 1483.9 1635.5Q1524.8 1638.3 1564.2 1654.4Q1602.5 1670.1 1639.3 1698.3M1212.9 1746.2Q1259.4 1704.7 1305.3 1678.2Q1350.3 1652.1 1394.4 1640.7Q1437.5 1629.5 1479.4 1632.4Q1520.2 1635.2 1559.7 1651.3Q1598 1667 1634.7 1695.2M1208.6 1742.9Q1255 1701.5 1300.9 1675Q1345.8 1649 1389.9 1637.7Q1433 1626.5 1474.9 1629.4Q1515.7 1632.2 1555.1 1648.4Q1593.5 1664.1 1630.2 1692.3M1204.3 1739.7Q1250.7 1698.4 1296.5 1672Q1341.4 1646.1 1385.4 1634.7Q1428.5 1623.6 1470.4 1626.6Q1511.2 1629.4 1550.6 1645.6Q1588.9 1661.3 1625.7 1689.4M1200 1736.6Q1246.4 1695.4 1292.1 1669.1Q1337 1643.2 1381 1631.9Q1424 1620.9 1465.9 1623.8Q1506.7 1626.7 1546.1 1642.9Q1584.4 1658.6 1621.2 1686.7M1195.8 1733.7Q1242.1 1692.6 1287.8 1666.3Q1332.6 1640.6 1376.6 1629.3Q1419.6 1618.3 1461.4 1621.3Q1502.2 1624.1 1541.6 1640.3Q1579.9 1656 1616.7 1684.1M1191.5 1731Q1237.8 1689.9 1283.4 1663.7Q1328.2 1638 1372.2 1626.8Q1415.1 1615.8 1456.9 1618.8Q1497.7 1621.7 1537.1 1637.9Q1575.5 1653.6 1612.3 1681.7M1187.3 1728.4Q1233.5 1687.4 1279.1 1661.3Q1323.9 1635.6 1367.8 1624.4Q1410.7 1613.5 1452.5 1616.5Q1493.3 1619.4 1532.7 1635.5Q1571 1651.2 1607.8 1679.4M1183.1 1725.9Q1229.2 1685 1274.8 1658.9Q1319.5 1633.3 1363.4 1622.2Q1406.3 1611.3 1448.1 1614.3Q1488.8 1617.2 1528.2 1633.4Q1566.5 1649.1 1603.3 1677.2M1178.9 1723.5Q1224.7 1683 1269.9 1657.1Q1314.2 1631.6 1357.8 1620.4Q1400.4 1609.4 1441.9 1612.1Q1482.4 1614.8 1521.5 1630.4Q1559.7 1645.7 1596.3 1673.1M1174.8 1721.3Q1219.8 1681.5 1264.3 1655.8Q1308 1630.5 1350.9 1619.1Q1393 1607.9 1433.9 1610Q1473.9 1612.1 1512.7 1626.8Q1550.4 1641.1 1586.7 1667.3M1170.6 1719.3Q1214.8 1680.2 1258.4 1654.8Q1301.4 1629.8 1343.5 1618.1Q1384.8 1606.7 1425.1 1608Q1464.5 1609.4 1502.7 1622.9Q1539.8 1636.1 1575.7 1660.9M1166.5 1717.3Q1209.9 1679 1252.9 1653.8Q1295.2 1629 1336.7 1617.1Q1377.4 1605.5 1417.2 1606.3Q1456 1607 1493.8 1619.7Q1530.5 1632.1 1566 1655.6M1162.4 1715.6Q1205.1 1677.8 1247.4 1652.9Q1289 1628.3 1329.9 1616.3Q1370.1 1604.4 1409.3 1604.7Q1447.6 1604.9 1484.9 1616.7Q1521.2 1628.2 1556.3 1650.6M1158.3 1713.9Q1200.2 1677 1241.6 1652.3Q1282.4 1628 1322.6 1615.8Q1361.9 1603.7 1400.5 1603.3Q1438.2 1602.9 1474.8 1613.6Q1510.6 1624 1545.3 1645M1154.2 1712.4Q1195.4 1676.1 1236.2 1651.7Q1276.3 1627.6 1315.8 1615.2Q1354.6 1603 1392.6 1602.1Q1429.8 1601.2 1466 1611Q1501.3 1620.7 1535.6 1640.5M1150.2 1711Q1190.5 1675.5 1230.4 1651.4Q1269.7 1627.6 1308.5 1615Q1346.5 1602.7 1383.8 1601.1Q1420.3 1599.6 1455.9 1608.4Q1490.7 1617 1524.5 1635.6M1146.2 1709.8Q1185.8 1674.9 1225 1651.1Q1263.7 1627.5 1301.8 1614.8Q1339.2 1602.3 1375.9 1600.3Q1411.9 1598.2 1447 1606.3Q1481.4 1614.2 1514.7 1631.6M1142.2 1708.7Q1180.9 1674.6 1219.3 1651Q1257.1 1627.8 1294.5 1614.9Q1331.2 1602.3 1367.2 1599.7Q1402.5 1597.1 1437 1604.2Q1470.8 1611.1 1503.6 1627.2M1138.2 1707.7Q1176.2 1674.2 1213.9 1651Q1251.1 1628 1287.8 1615Q1323.9 1602.3 1359.4 1599.2Q1394.1 1596.2 1428.1 1602.5Q1461.4 1608.7 1493.8 1623.8M1134.2 1706.8Q1171.4 1674.2 1208.3 1651.2Q1244.6 1628.6 1280.6 1615.5Q1315.9 1602.6 1350.6 1599Q1384.7 1595.4 1418.1 1600.8Q1450.8 1606.1 1482.7 1620M1130.3 1706.1Q1175.6 1666.3 1220.5 1641Q1264.5 1616.1 1307.9 1605.3Q1350.3 1594.7 1391.8 1597.7Q1432.2 1600.7 1471.5 1616.6M1126.3 1705.5Q1170.8 1666.5 1214.8 1641.4Q1258.1 1616.7 1300.7 1605.7Q1342.4 1594.8 1383.2 1597.1Q1423 1599.3 1461.7 1614M1122.4 1705.1Q1165.8 1667 1208.8 1642.2Q1251.1 1617.8 1292.7 1606.4Q1333.5 1595.2 1373.5 1596.6Q1412.5 1597.9 1450.5 1611.1M1118.6 1704.7Q1160.9 1667.6 1202.8 1643.2Q1244.1 1619.1 1284.8 1607.3Q1324.7 1595.8 1363.8 1596.3Q1402 1596.7 1439.2 1608.6M1114.7 1704.5Q1155.9 1668.4 1196.9 1644.2Q1237.1 1620.5 1276.9 1608.5Q1315.8 1596.7 1354.1 1596.3Q1391.5 1595.9 1428 1606.4M1110.8 1704.5Q1151.2 1669.1 1191.3 1645.2Q1230.8 1621.7 1269.7 1609.5Q1308 1597.5 1345.5 1596.5Q1382.3 1595.5 1418.2 1604.9M1107 1704.5Q1146.3 1670.1 1185.4 1646.6Q1223.9 1623.4 1261.9 1611Q1299.2 1598.7 1335.8 1596.9Q1371.8 1595.1 1406.9 1603.4M1103.2 1704.7Q1141.5 1671.2 1179.5 1648Q1217 1625.2 1254 1612.6Q1290.4 1600.1 1326.2 1597.6Q1361.3 1595.1 1395.7 1602.1M1099.4 1705Q1136.6 1672.4 1173.6 1649.7Q1210.1 1627.2 1246.2 1614.4Q1281.6 1601.8 1316.5 1598.5Q1350.8 1595.4 1384.4 1601.2M1095.7 1705.4Q1131.8 1673.8 1167.8 1651.4Q1203.2 1629.3 1238.3 1616.4Q1272.9 1603.6 1306.9 1599.7Q1340.3 1595.9 1373.1 1600.6M1091.9 1706Q1127 1675.3 1162 1653.3Q1196.4 1631.6 1230.5 1618.5Q1264.1 1605.6 1297.3 1601.1Q1329.9 1596.7 1361.9 1600.4M1088.2 1706.7Q1122.3 1676.9 1156.2 1655.3Q1189.6 1634 1222.8 1620.8Q1255.4 1607.8 1287.7 1602.8Q1319.4 1597.8 1350.6 1600.5M1084.5 1707.5Q1128.2 1669.3 1171.6 1644.6Q1214.2 1620.4 1256.2 1609.5Q1297.5 1598.7 1337.8 1600.8M1080.8 1708.4Q1123.1 1671.4 1165.1 1647.1Q1206.5 1623.3 1247.3 1611.9Q1287.3 1600.7 1326.6 1601.6M1077.2 1709.4Q1118.1 1673.6 1158.7 1649.8Q1198.8 1626.3 1238.3 1614.5Q1277.1 1602.9 1315.3 1602.7M1073.5 1710.6Q1113.1 1676 1152.4 1652.6Q1191.1 1629.5 1229.4 1617.4Q1267 1605.4 1304 1604.1M1069.9 1711.8Q1107.8 1678.7 1145.5 1655.8Q1182.7 1633.3 1219.5 1620.8Q1255.6 1608.5 1291.2 1606M1066.3 1713.2Q1102.8 1681.3 1139.2 1658.9Q1175.1 1636.8 1210.6 1624.1Q1245.5 1611.5 1280 1608.1M1062.7 1714.7Q1097.6 1684.2 1132.4 1662.4Q1166.7 1640.9 1200.7 1628Q1234.2 1615.2 1267.2 1610.8M1059.2 1716.3Q1092.7 1687 1126.1 1665.8Q1159.1 1644.8 1191.8 1631.7Q1224.1 1618.8 1256 1613.6M1055.7 1718.1Q1087.6 1690.2 1119.4 1669.6Q1150.8 1649.2 1182 1636.1Q1212.8 1623.1 1243.2 1617.1M1052.1 1719.9Q1082.7 1693.2 1113.2 1673.2Q1143.3 1653.4 1173.2 1640.2Q1202.7 1627.2 1232 1620.6M1048.7 1721.9Q1092 1684 1135.1 1659.6Q1177.4 1635.7 1219.3 1624.9M1045.2 1723.9Q1086.1 1688.2 1126.8 1664.5Q1166.9 1641.1 1206.6 1629.5M1041.7 1726.1Q1080.3 1692.5 1118.6 1669.5Q1156.4 1646.8 1193.9 1634.6M1038.3 1728.4Q1074.8 1696.5 1111.2 1674.2Q1147.1 1652.2 1182.7 1639.6M1034.9 1730.8Q1069 1701 1103.1 1679.5Q1136.7 1658.4 1170 1645.4M1031.5 1733.3Q1063.3 1705.6 1095 1685.1Q1126.3 1664.8 1157.4 1651.7M1028.2 1736Q1057.6 1710.3 1086.9 1690.8Q1115.9 1671.5 1144.8 1658.4M1024.8 1738.7Q1051.5 1715.4 1078.1 1697.2Q1104.4 1679.2 1130.6 1666.2M1021.5 1741.5Q1045.8 1720.3 1070 1703.3Q1094.1 1686.4 1118.1 1673.8M1018.2 1744.4Q1040.1 1725.2 1062.1 1709.5Q1083.8 1693.9 1105.5 1681.8M1014.9 1747.5Q1054 1713.3 1093 1690.1M1011.7 1750.6Q1045.4 1721.1 1079 1699.9M1008.4 1753.9Q1037.5 1728.4 1066.5 1709.1M1005.2 1757.2Q1028.9 1736.5 1052.5 1719.8M1002 1760.6Q1021.1 1743.9 1040.2 1729.9M998.9 1764.2Q1012.6 1752.2 1026.3 1741.5M995.7 1767.8Q1004.1 1760.5 1012.5 1753.7" fill="none" stroke="#0c0c06" stroke-opacity="0.86" stroke-width="1.45"/>
<ellipse cx="1308.3" cy="108.1" rx="5.8" ry="5.2" fill="#f00000" stroke="#900" stroke-opacity="0.7" stroke-width="0.8"/>
<ellipse cx="1308.3" cy="121.9" rx="5.8" ry="5.2" fill="#f00000" stroke="#900" stroke-opacity="0.7" stroke-width="0.8"/>
<ellipse cx="1641" cy="323.3" rx="5.8" ry="5.2" fill="#f00000" stroke="#900" stroke-opacity="0.7" stroke-width="0.8"/>
<ellipse cx="1329.8" cy="818.4" rx="5.8" ry="5.2" fill="#f00000" stroke="#900" stroke-opacity="0.7" stroke-width="0.8"/>
<ellipse cx="1329.8" cy="828.7" rx="5.8" ry="5.2" fill="#f00000" stroke="#900" stroke-opacity="0.7" stroke-width="0.8"/>
<ellipse cx="1666.3" cy="979.1" rx="5.8" ry="5.2" fill="#f00000" stroke="#900" stroke-opacity="0.7" stroke-width="0.8"/>
<ellipse cx="1350.1" cy="1582.6" rx="5.8" ry="5.2" fill="#f00000" stroke="#900" stroke-opacity="0.7" stroke-width="0.8"/>
<ellipse cx="1350.1" cy="1593.4" rx="5.8" ry="5.2" fill="#f00000" stroke="#900" stroke-opacity="0.7" stroke-width="0.8"/>
<ellipse cx="995.4" cy="1762.3" rx="5.8" ry="5.2" fill="#f00000" stroke="#900" stroke-opacity="0.7" stroke-width="0.8"/>
<ellipse cx="1715.7" cy="1775" rx="5.8" ry="5.2" fill="#ffc4c4" stroke="#a55" stroke-opacity="0.7" stroke-width="0.8"/>
<ellipse cx="1292.9" cy="1834.2" rx="5.8" ry="5.2" fill="#ffc4c4" stroke="#a55" stroke-opacity="0.7" stroke-width="0.8"/>
<text x="999" y="485.8" font-size="17.7" font-family="Liberation Sans, sans-serif" text-anchor="end" fill="#222" stroke="#222" stroke-width=".35" textLength="28.2" lengthAdjust="spacingAndGlyphs" >1.00</text>
<text x="1057.5" y="515.6" font-size="17.7" font-family="Liberation Sans, sans-serif" text-anchor="end" fill="#222" stroke="#222" stroke-width=".35" textLength="28.2" lengthAdjust="spacingAndGlyphs" >0.50</text>
<text x="1116.1" y="545.5" font-size="17.7" font-family="Liberation Sans, sans-serif" text-anchor="end" fill="#222" stroke="#222" stroke-width=".35" textLength="28.2" lengthAdjust="spacingAndGlyphs" >0.00</text>
<text x="1174.6" y="575.3" font-size="17.7" font-family="Liberation Sans, sans-serif" text-anchor="end" fill="#222" stroke="#222" stroke-width=".35" textLength="33.7" lengthAdjust="spacingAndGlyphs" >-0.50</text>
<text x="1233.1" y="605.2" font-size="17.7" font-family="Liberation Sans, sans-serif" text-anchor="end" fill="#222" stroke="#222" stroke-width=".35" textLength="33.7" lengthAdjust="spacingAndGlyphs" >-1.00</text>
<text x="1251.8" y="604.4" font-size="17.7" font-family="Liberation Sans, sans-serif" text-anchor="start" fill="#222" stroke="#222" stroke-width=".35" textLength="33.7" lengthAdjust="spacingAndGlyphs" >-0.95</text>
<text x="1351.6" y="583.9" font-size="17.7" font-family="Liberation Sans, sans-serif" text-anchor="start" fill="#222" stroke="#222" stroke-width=".35" textLength="33.7" lengthAdjust="spacingAndGlyphs" >-0.45</text>
<text x="1451.4" y="563.5" font-size="17.7" font-family="Liberation Sans, sans-serif" text-anchor="start" fill="#222" stroke="#222" stroke-width=".35" textLength="28.2" lengthAdjust="spacingAndGlyphs" >0.05</text>
<text x="1551.2" y="543" font-size="17.7" font-family="Liberation Sans, sans-serif" text-anchor="start" fill="#222" stroke="#222" stroke-width=".35" textLength="28.2" lengthAdjust="spacingAndGlyphs" >0.55</text>
<text x="1651" y="522.5" font-size="17.7" font-family="Liberation Sans, sans-serif" text-anchor="start" fill="#222" stroke="#222" stroke-width=".35" textLength="28.2" lengthAdjust="spacingAndGlyphs" >1.05</text>
<text x="1018.7" y="1195.7" font-size="17.7" font-family="Liberation Sans, sans-serif" text-anchor="end" fill="#222" stroke="#222" stroke-width=".35" textLength="28.2" lengthAdjust="spacingAndGlyphs" >1.00</text>
<text x="1077.6" y="1225.4" font-size="17.7" font-family="Liberation Sans, sans-serif" text-anchor="end" fill="#222" stroke="#222" stroke-width=".35" textLength="28.2" lengthAdjust="spacingAndGlyphs" >0.50</text>
<text x="1136.6" y="1255.1" font-size="17.7" font-family="Liberation Sans, sans-serif" text-anchor="end" fill="#222" stroke="#222" stroke-width=".35" textLength="28.2" lengthAdjust="spacingAndGlyphs" >0.00</text>
<text x="1195.5" y="1284.8" font-size="17.7" font-family="Liberation Sans, sans-serif" text-anchor="end" fill="#222" stroke="#222" stroke-width=".35" textLength="33.7" lengthAdjust="spacingAndGlyphs" >-0.50</text>
<text x="1254.4" y="1314.5" font-size="17.7" font-family="Liberation Sans, sans-serif" text-anchor="end" fill="#222" stroke="#222" stroke-width=".35" textLength="33.7" lengthAdjust="spacingAndGlyphs" >-1.00</text>
<text x="1273.1" y="1313.7" font-size="17.7" font-family="Liberation Sans, sans-serif" text-anchor="start" fill="#222" stroke="#222" stroke-width=".35" textLength="33.7" lengthAdjust="spacingAndGlyphs" >-0.95</text>
<text x="1373.3" y="1293.2" font-size="17.7" font-family="Liberation Sans, sans-serif" text-anchor="start" fill="#222" stroke="#222" stroke-width=".35" textLength="33.7" lengthAdjust="spacingAndGlyphs" >-0.45</text>
<text x="1473.4" y="1272.7" font-size="17.7" font-family="Liberation Sans, sans-serif" text-anchor="start" fill="#222" stroke="#222" stroke-width=".35" textLength="28.2" lengthAdjust="spacingAndGlyphs" >0.05</text>
<text x="1573.5" y="1252.2" font-size="17.7" font-family="Liberation Sans, sans-serif" text-anchor="start" fill="#222" stroke="#222" stroke-width=".35" textLength="28.2" lengthAdjust="spacingAndGlyphs" >0.55</text>
<text x="1673.7" y="1231.8" font-size="17.7" font-family="Liberation Sans, sans-serif" text-anchor="start" fill="#222" stroke="#222" stroke-width=".35" textLength="28.2" lengthAdjust="spacingAndGlyphs" >1.05</text>
<text x="995.3" y="1986.3" font-size="17.7" font-family="Liberation Sans, sans-serif" text-anchor="end" fill="#222" stroke="#222" stroke-width=".35" textLength="33" lengthAdjust="spacingAndGlyphs" >1.00</text>
<text x="1067.8" y="2020.8" font-size="17.7" font-family="Liberation Sans, sans-serif" text-anchor="end" fill="#222" stroke="#222" stroke-width=".35" textLength="33" lengthAdjust="spacingAndGlyphs" >0.50</text>
<text x="1140.3" y="2055.2" font-size="17.7" font-family="Liberation Sans, sans-serif" text-anchor="end" fill="#222" stroke="#222" stroke-width=".35" textLength="33" lengthAdjust="spacingAndGlyphs" >0.00</text>
<text x="1212.8" y="2089.6" font-size="17.7" font-family="Liberation Sans, sans-serif" text-anchor="end" fill="#222" stroke="#222" stroke-width=".35" textLength="38.3" lengthAdjust="spacingAndGlyphs" >-0.50</text>
<text x="1285.3" y="2124" font-size="17.7" font-family="Liberation Sans, sans-serif" text-anchor="end" fill="#222" stroke="#222" stroke-width=".35" textLength="38.3" lengthAdjust="spacingAndGlyphs" >-1.00</text>
<text x="1304" y="2123.2" font-size="17.7" font-family="Liberation Sans, sans-serif" text-anchor="start" fill="#222" stroke="#222" stroke-width=".35" textLength="38.3" lengthAdjust="spacingAndGlyphs" >-1.00</text>
<text x="1406.7" y="2096.2" font-size="17.7" font-family="Liberation Sans, sans-serif" text-anchor="start" fill="#222" stroke="#222" stroke-width=".35" textLength="38.3" lengthAdjust="spacingAndGlyphs" >-0.50</text>
<text x="1509.4" y="2069.2" font-size="17.7" font-family="Liberation Sans, sans-serif" text-anchor="start" fill="#222" stroke="#222" stroke-width=".35" textLength="33" lengthAdjust="spacingAndGlyphs" >0.00</text>
<text x="1612.1" y="2042.2" font-size="17.7" font-family="Liberation Sans, sans-serif" text-anchor="start" fill="#222" stroke="#222" stroke-width=".35" textLength="33" lengthAdjust="spacingAndGlyphs" >0.50</text>
<text x="1714.7" y="2015.2" font-size="17.7" font-family="Liberation Sans, sans-serif" text-anchor="start" fill="#222" stroke="#222" stroke-width=".35" textLength="33" lengthAdjust="spacingAndGlyphs" >1.00</text>
<text transform="translate(946.4 281.4) rotate(-90)" font-size="21.3" font-family="Liberation Serif, serif" text-anchor="middle" textLength="150" lengthAdjust="spacingAndGlyphs" fill="#111" stroke="#111" stroke-width=".4" >Extraction rate</text>
<text transform="translate(1050 583) rotate(32.3)" font-size="20" font-family="Liberation Serif, serif" text-anchor="middle" textLength="166" lengthAdjust="spacingAndGlyphs" fill="#111" stroke="#111" stroke-width=".4" >Sample to solvent ratio</text>
<text transform="translate(1520 611) rotate(-18)" font-size="20" font-family="Liberation Serif, serif" text-anchor="middle" textLength="108" lengthAdjust="spacingAndGlyphs" fill="#111" stroke="#111" stroke-width=".4" >Extraction time</text>
<text transform="translate(970.3 980.7) rotate(-90)" font-size="23" font-family="Liberation Serif, serif" text-anchor="middle" textLength="157.7" lengthAdjust="spacingAndGlyphs" fill="#111" stroke="#111" stroke-width=".4" >Extraction rate</text>
<text transform="translate(1077 1284) rotate(30)" font-size="20" font-family="Liberation Serif, serif" text-anchor="middle" textLength="160" lengthAdjust="spacingAndGlyphs" fill="#111" stroke="#111" stroke-width=".4" >Ethanol concentration</text>
<text transform="translate(1525 1320) rotate(-18)" font-size="20" font-family="Liberation Serif, serif" text-anchor="middle" textLength="108" lengthAdjust="spacingAndGlyphs" fill="#111" stroke="#111" stroke-width=".4" >Extraction time</text>
<text transform="translate(957.8 1749.2) rotate(-90)" font-size="24" font-family="Liberation Serif, serif" text-anchor="middle" textLength="149" lengthAdjust="spacingAndGlyphs" fill="#111" stroke="#111" stroke-width=".4" >Extraction rate</text>
<text transform="translate(1062 2082) rotate(29.4)" font-size="20" font-family="Liberation Serif, serif" text-anchor="middle" textLength="158" lengthAdjust="spacingAndGlyphs" fill="#111" stroke="#111" stroke-width=".4" >Ethanol concentration</text>
<text transform="translate(1530 2133) rotate(-21.2)" font-size="20" font-family="Liberation Serif, serif" text-anchor="middle" textLength="167" lengthAdjust="spacingAndGlyphs" fill="#111" stroke="#111" stroke-width=".4" >Sample to solvent ratio</text>
<text x="873.5" y="32.3" font-size="41.4" font-family="Liberation Serif, serif" font-weight="bold" fill="#000">A</text>
<text x="891" y="705.7" font-size="41.4" font-family="Liberation Serif, serif" font-weight="bold" fill="#000">B</text>
<text x="888" y="1488.2" font-size="41.4" font-family="Liberation Serif, serif" font-weight="bold" fill="#000">C</text>
</svg></body></html>
